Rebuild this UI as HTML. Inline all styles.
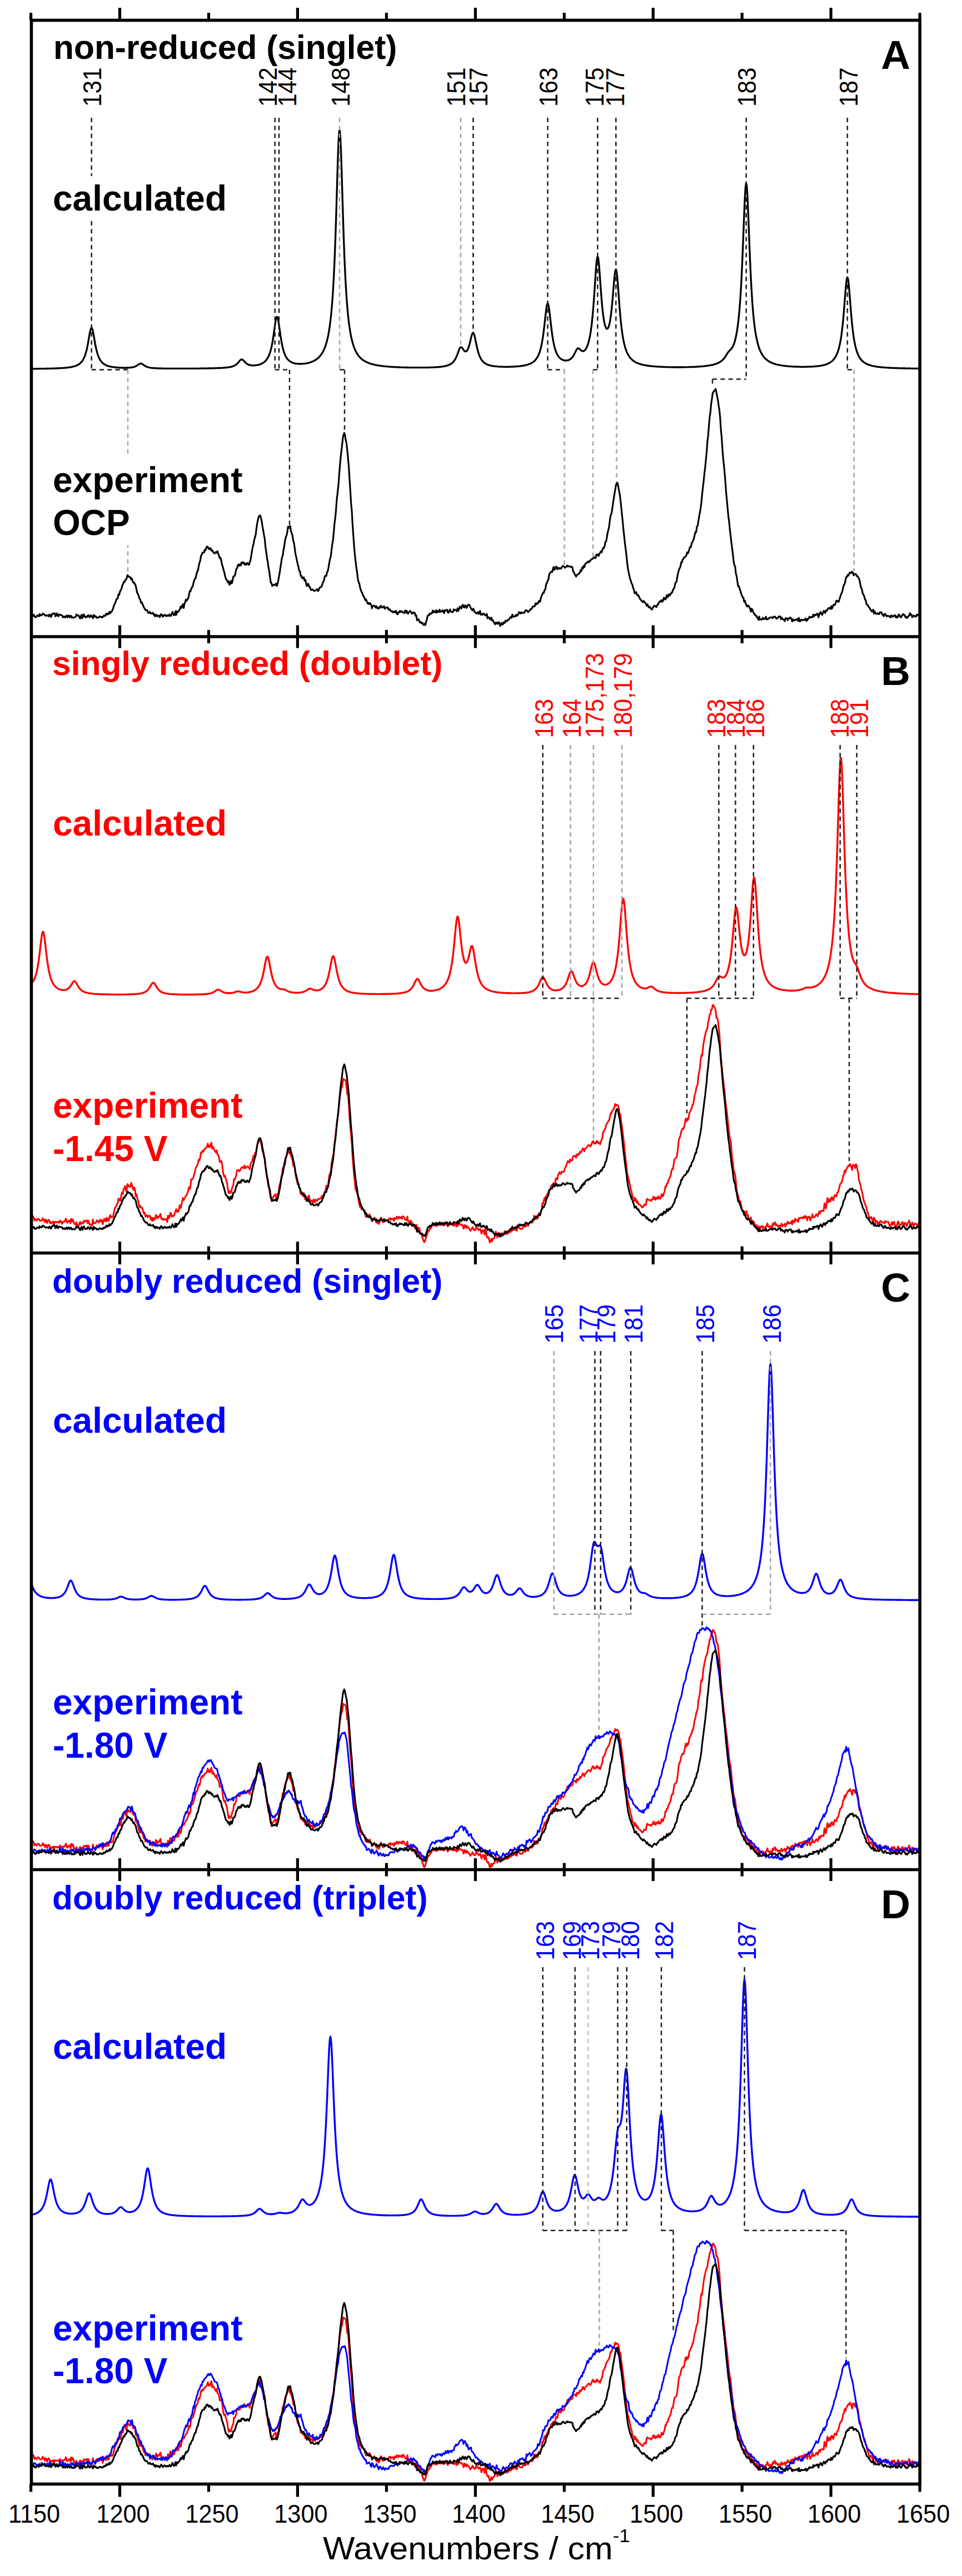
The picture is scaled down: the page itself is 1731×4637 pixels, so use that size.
<!DOCTYPE html>
<html lang="en"><head><meta charset="utf-8"><title>Raman spectra: calculated vs experiment</title>
<style>html,body{margin:0;padding:0;background:#fff}body{width:1731px;height:4637px;overflow:hidden}svg{display:block}</style>
</head><body>
<svg width="1731" height="4637" viewBox="0 0 1731 4637" font-family="'Liberation Sans', Arial, Helvetica, sans-serif">
<rect width="1731" height="4637" fill="#fff"/>
<path d="M56.5,663.9 L57.5,663.9 L58.5,663.8 L59.5,663.8 L60.5,663.8 L61.5,663.8 L62.5,663.8 L63.5,663.8 L64.5,663.8 L65.5,663.8 L66.5,663.8 L67.5,663.8 L68.5,663.7 L69.5,663.7 L70.5,663.7 L71.5,663.7 L72.5,663.7 L73.5,663.7 L74.5,663.7 L75.5,663.7 L76.5,663.6 L77.5,663.6 L78.5,663.6 L79.5,663.6 L80.5,663.6 L81.5,663.6 L82.5,663.5 L83.5,663.5 L84.5,663.5 L85.5,663.5 L86.5,663.5 L87.5,663.4 L88.5,663.4 L89.5,663.4 L90.5,663.4 L91.5,663.3 L92.5,663.3 L93.5,663.3 L94.5,663.3 L95.5,663.2 L96.5,663.2 L97.5,663.2 L98.5,663.1 L99.5,663.1 L100.5,663.1 L101.5,663.0 L102.5,663.0 L103.5,662.9 L104.5,662.9 L105.5,662.8 L106.5,662.8 L107.5,662.7 L108.5,662.7 L109.5,662.6 L110.5,662.6 L111.5,662.5 L112.5,662.4 L113.5,662.4 L114.5,662.3 L115.5,662.2 L116.5,662.1 L117.5,662.1 L118.5,662.0 L119.5,661.9 L120.5,661.8 L121.5,661.6 L122.5,661.5 L123.5,661.4 L124.5,661.3 L125.5,661.1 L126.5,660.9 L127.5,660.8 L128.5,660.6 L129.5,660.4 L130.5,660.2 L131.5,659.9 L132.5,659.7 L133.5,659.4 L134.5,659.1 L135.5,658.8 L136.5,658.4 L137.5,658.0 L138.5,657.6 L139.5,657.1 L140.5,656.6 L141.5,656.0 L142.5,655.3 L143.5,654.5 L144.5,653.7 L145.5,652.7 L146.5,651.7 L147.5,650.4 L148.5,649.1 L149.5,647.5 L150.5,645.6 L151.5,643.5 L152.5,641.1 L153.5,638.3 L154.5,635.1 L155.5,631.3 L156.5,627.1 L157.5,622.3 L158.5,617.0 L159.5,611.3 L160.5,605.4 L161.5,599.8 L162.5,595.0 L163.5,591.6 L164.5,590.0 L165.5,590.7 L166.5,593.4 L167.5,597.7 L168.5,603.1 L169.5,608.9 L170.5,614.7 L171.5,620.2 L172.5,625.2 L173.5,629.7 L174.5,633.6 L175.5,637.0 L176.5,640.0 L177.5,642.5 L178.5,644.7 L179.5,646.7 L180.5,648.3 L181.5,649.8 L182.5,651.1 L183.5,652.2 L184.5,653.2 L185.5,654.1 L186.5,654.9 L187.5,655.5 L188.5,656.2 L189.5,656.7 L190.5,657.2 L191.5,657.7 L192.5,658.1 L193.5,658.4 L194.5,658.8 L195.5,659.1 L196.5,659.4 L197.5,659.6 L198.5,659.8 L199.5,660.1 L200.5,660.2 L201.5,660.4 L202.5,660.6 L203.5,660.7 L204.5,660.9 L205.5,661.0 L206.5,661.1 L207.5,661.2 L208.5,661.3 L209.5,661.4 L210.5,661.5 L211.5,661.6 L212.5,661.7 L213.5,661.7 L214.5,661.8 L215.5,661.8 L216.5,661.9 L217.5,661.9 L218.5,662.0 L219.5,662.0 L220.5,662.0 L221.5,662.0 L222.5,662.1 L223.5,662.1 L224.5,662.1 L225.5,662.1 L226.5,662.1 L227.5,662.0 L228.5,662.0 L229.5,662.0 L230.5,661.9 L231.5,661.9 L232.5,661.8 L233.5,661.7 L234.5,661.6 L235.5,661.5 L236.5,661.4 L237.5,661.2 L238.5,661.1 L239.5,660.8 L240.5,660.6 L241.5,660.3 L242.5,660.0 L243.5,659.6 L244.5,659.1 L245.5,658.6 L246.5,658.0 L247.5,657.3 L248.5,656.6 L249.5,655.9 L250.5,655.3 L251.5,654.8 L252.5,654.5 L253.5,654.4 L254.5,654.6 L255.5,655.0 L256.5,655.6 L257.5,656.3 L258.5,657.0 L259.5,657.7 L260.5,658.4 L261.5,659.0 L262.5,659.5 L263.5,660.0 L264.5,660.4 L265.5,660.7 L266.5,661.0 L267.5,661.3 L268.5,661.5 L269.5,661.7 L270.5,661.9 L271.5,662.0 L272.5,662.2 L273.5,662.3 L274.5,662.4 L275.5,662.5 L276.5,662.6 L277.5,662.7 L278.5,662.7 L279.5,662.8 L280.5,662.8 L281.5,662.9 L282.5,662.9 L283.5,663.0 L284.5,663.0 L285.5,663.1 L286.5,663.1 L287.5,663.1 L288.5,663.1 L289.5,663.2 L290.5,663.2 L291.5,663.2 L292.5,663.2 L293.5,663.3 L294.5,663.3 L295.5,663.3 L296.5,663.3 L297.5,663.3 L298.5,663.3 L299.5,663.3 L300.5,663.3 L301.5,663.4 L302.5,663.4 L303.5,663.4 L304.5,663.4 L305.5,663.4 L306.5,663.4 L307.5,663.4 L308.5,663.4 L309.5,663.4 L310.5,663.4 L311.5,663.4 L312.5,663.4 L313.5,663.4 L314.5,663.4 L315.5,663.4 L316.5,663.4 L317.5,663.4 L318.5,663.4 L319.5,663.4 L320.5,663.4 L321.5,663.4 L322.5,663.4 L323.5,663.4 L324.5,663.4 L325.5,663.4 L326.5,663.4 L327.5,663.4 L328.5,663.4 L329.5,663.4 L330.5,663.4 L331.5,663.4 L332.5,663.4 L333.5,663.4 L334.5,663.4 L335.5,663.4 L336.5,663.4 L337.5,663.4 L338.5,663.4 L339.5,663.4 L340.5,663.4 L341.5,663.4 L342.5,663.4 L343.5,663.4 L344.5,663.4 L345.5,663.4 L346.5,663.4 L347.5,663.3 L348.5,663.3 L349.5,663.3 L350.5,663.3 L351.5,663.3 L352.5,663.3 L353.5,663.3 L354.5,663.3 L355.5,663.3 L356.5,663.3 L357.5,663.3 L358.5,663.3 L359.5,663.2 L360.5,663.2 L361.5,663.2 L362.5,663.2 L363.5,663.2 L364.5,663.2 L365.5,663.2 L366.5,663.2 L367.5,663.1 L368.5,663.1 L369.5,663.1 L370.5,663.1 L371.5,663.1 L372.5,663.1 L373.5,663.0 L374.5,663.0 L375.5,663.0 L376.5,663.0 L377.5,663.0 L378.5,663.0 L379.5,662.9 L380.5,662.9 L381.5,662.9 L382.5,662.9 L383.5,662.8 L384.5,662.8 L385.5,662.8 L386.5,662.8 L387.5,662.7 L388.5,662.7 L389.5,662.7 L390.5,662.6 L391.5,662.6 L392.5,662.5 L393.5,662.5 L394.5,662.5 L395.5,662.4 L396.5,662.4 L397.5,662.3 L398.5,662.3 L399.5,662.2 L400.5,662.1 L401.5,662.1 L402.5,662.0 L403.5,661.9 L404.5,661.9 L405.5,661.8 L406.5,661.7 L407.5,661.6 L408.5,661.5 L409.5,661.4 L410.5,661.2 L411.5,661.1 L412.5,660.9 L413.5,660.7 L414.5,660.6 L415.5,660.3 L416.5,660.1 L417.5,659.8 L418.5,659.5 L419.5,659.2 L420.5,658.8 L421.5,658.3 L422.5,657.8 L423.5,657.2 L424.5,656.6 L425.5,655.8 L426.5,654.9 L427.5,653.9 L428.5,652.8 L429.5,651.6 L430.5,650.4 L431.5,649.2 L432.5,648.2 L433.5,647.4 L434.5,647.0 L435.5,647.1 L436.5,647.5 L437.5,648.3 L438.5,649.3 L439.5,650.4 L440.5,651.5 L441.5,652.5 L442.5,653.4 L443.5,654.3 L444.5,655.0 L445.5,655.6 L446.5,656.1 L447.5,656.5 L448.5,656.8 L449.5,657.1 L450.5,657.4 L451.5,657.5 L452.5,657.7 L453.5,657.7 L454.5,657.8 L455.5,657.8 L456.5,657.8 L457.5,657.8 L458.5,657.7 L459.5,657.6 L460.5,657.5 L461.5,657.4 L462.5,657.2 L463.5,657.0 L464.5,656.8 L465.5,656.6 L466.5,656.3 L467.5,656.0 L468.5,655.6 L469.5,655.2 L470.5,654.8 L471.5,654.3 L472.5,653.7 L473.5,653.1 L474.5,652.5 L475.5,651.7 L476.5,650.9 L477.5,649.9 L478.5,648.8 L479.5,647.6 L480.5,646.2 L481.5,644.6 L482.5,642.8 L483.5,640.8 L484.5,638.4 L485.5,635.7 L486.5,632.6 L487.5,628.9 L488.5,624.7 L489.5,619.9 L490.5,614.5 L491.5,608.3 L492.5,601.6 L493.5,594.4 L494.5,587.2 L495.5,580.5 L496.5,574.9 L497.5,571.3 L498.5,570.2 L499.5,571.8 L500.5,575.8 L501.5,581.5 L502.5,588.4 L503.5,595.5 L504.5,602.6 L505.5,609.1 L506.5,615.1 L507.5,620.4 L508.5,625.0 L509.5,629.0 L510.5,632.4 L511.5,635.4 L512.5,638.0 L513.5,640.2 L514.5,642.1 L515.5,643.8 L516.5,645.3 L517.5,646.6 L518.5,647.7 L519.5,648.7 L520.5,649.5 L521.5,650.3 L522.5,650.9 L523.5,651.5 L524.5,652.1 L525.5,652.5 L526.5,652.9 L527.5,653.3 L528.5,653.6 L529.5,653.9 L530.5,654.1 L531.5,654.3 L532.5,654.5 L533.5,654.6 L534.5,654.7 L535.5,654.8 L536.5,654.9 L537.5,655.0 L538.5,655.0 L539.5,655.0 L540.5,655.0 L541.5,655.0 L542.5,655.0 L543.5,654.9 L544.5,654.9 L545.5,654.8 L546.5,654.7 L547.5,654.6 L548.5,654.5 L549.5,654.3 L550.5,654.2 L551.5,654.0 L552.5,653.8 L553.5,653.6 L554.5,653.3 L555.5,653.1 L556.5,652.8 L557.5,652.5 L558.5,652.2 L559.5,651.9 L560.5,651.5 L561.5,651.1 L562.5,650.7 L563.5,650.3 L564.5,649.8 L565.5,649.3 L566.5,648.7 L567.5,648.1 L568.5,647.5 L569.5,646.8 L570.5,646.0 L571.5,645.2 L572.5,644.4 L573.5,643.4 L574.5,642.4 L575.5,641.3 L576.5,640.1 L577.5,638.8 L578.5,637.4 L579.5,635.9 L580.5,634.2 L581.5,632.4 L582.5,630.4 L583.5,628.2 L584.5,625.7 L585.5,623.0 L586.5,620.0 L587.5,616.7 L588.5,612.9 L589.5,608.8 L590.5,604.1 L591.5,598.8 L592.5,592.8 L593.5,586.0 L594.5,578.3 L595.5,569.4 L596.5,559.3 L597.5,547.6 L598.5,534.1 L599.5,518.5 L600.5,500.6 L601.5,479.9 L602.5,456.2 L603.5,429.4 L604.5,399.4 L605.5,366.9 L606.5,333.0 L607.5,299.8 L608.5,270.1 L609.5,247.4 L610.5,235.1 L611.5,235.1 L612.5,247.4 L613.5,270.1 L614.5,299.8 L615.5,333.1 L616.5,367.0 L617.5,399.5 L618.5,429.5 L619.5,456.3 L620.5,480.0 L621.5,500.7 L622.5,518.7 L623.5,534.3 L624.5,547.8 L625.5,559.5 L626.5,569.6 L627.5,578.5 L628.5,586.3 L629.5,593.1 L630.5,599.1 L631.5,604.4 L632.5,609.1 L633.5,613.3 L634.5,617.0 L635.5,620.4 L636.5,623.4 L637.5,626.2 L638.5,628.6 L639.5,630.9 L640.5,632.9 L641.5,634.8 L642.5,636.4 L643.5,638.0 L644.5,639.4 L645.5,640.8 L646.5,642.0 L647.5,643.1 L648.5,644.1 L649.5,645.1 L650.5,646.0 L651.5,646.8 L652.5,647.6 L653.5,648.3 L654.5,649.0 L655.5,649.6 L656.5,650.2 L657.5,650.8 L658.5,651.3 L659.5,651.8 L660.5,652.3 L661.5,652.7 L662.5,653.1 L663.5,653.5 L664.5,653.9 L665.5,654.2 L666.5,654.6 L667.5,654.9 L668.5,655.2 L669.5,655.5 L670.5,655.7 L671.5,656.0 L672.5,656.2 L673.5,656.5 L674.5,656.7 L675.5,656.9 L676.5,657.1 L677.5,657.3 L678.5,657.5 L679.5,657.7 L680.5,657.8 L681.5,658.0 L682.5,658.1 L683.5,658.3 L684.5,658.4 L685.5,658.6 L686.5,658.7 L687.5,658.8 L688.5,659.0 L689.5,659.1 L690.5,659.2 L691.5,659.3 L692.5,659.4 L693.5,659.5 L694.5,659.6 L695.5,659.7 L696.5,659.8 L697.5,659.9 L698.5,659.9 L699.5,660.0 L700.5,660.1 L701.5,660.2 L702.5,660.2 L703.5,660.3 L704.5,660.4 L705.5,660.4 L706.5,660.5 L707.5,660.6 L708.5,660.6 L709.5,660.7 L710.5,660.7 L711.5,660.8 L712.5,660.8 L713.5,660.9 L714.5,660.9 L715.5,661.0 L716.5,661.0 L717.5,661.0 L718.5,661.1 L719.5,661.1 L720.5,661.2 L721.5,661.2 L722.5,661.2 L723.5,661.3 L724.5,661.3 L725.5,661.3 L726.5,661.3 L727.5,661.4 L728.5,661.4 L729.5,661.4 L730.5,661.5 L731.5,661.5 L732.5,661.5 L733.5,661.5 L734.5,661.5 L735.5,661.6 L736.5,661.6 L737.5,661.6 L738.5,661.6 L739.5,661.6 L740.5,661.6 L741.5,661.6 L742.5,661.7 L743.5,661.7 L744.5,661.7 L745.5,661.7 L746.5,661.7 L747.5,661.7 L748.5,661.7 L749.5,661.7 L750.5,661.7 L751.5,661.7 L752.5,661.7 L753.5,661.7 L754.5,661.7 L755.5,661.7 L756.5,661.7 L757.5,661.7 L758.5,661.7 L759.5,661.7 L760.5,661.7 L761.5,661.7 L762.5,661.7 L763.5,661.7 L764.5,661.6 L765.5,661.6 L766.5,661.6 L767.5,661.6 L768.5,661.6 L769.5,661.6 L770.5,661.5 L771.5,661.5 L772.5,661.5 L773.5,661.5 L774.5,661.4 L775.5,661.4 L776.5,661.4 L777.5,661.3 L778.5,661.3 L779.5,661.2 L780.5,661.2 L781.5,661.1 L782.5,661.1 L783.5,661.0 L784.5,661.0 L785.5,660.9 L786.5,660.8 L787.5,660.8 L788.5,660.7 L789.5,660.6 L790.5,660.5 L791.5,660.4 L792.5,660.3 L793.5,660.2 L794.5,660.1 L795.5,659.9 L796.5,659.8 L797.5,659.6 L798.5,659.4 L799.5,659.3 L800.5,659.1 L801.5,658.8 L802.5,658.6 L803.5,658.3 L804.5,658.1 L805.5,657.7 L806.5,657.4 L807.5,657.0 L808.5,656.6 L809.5,656.1 L810.5,655.5 L811.5,654.9 L812.5,654.2 L813.5,653.5 L814.5,652.6 L815.5,651.6 L816.5,650.4 L817.5,649.1 L818.5,647.6 L819.5,645.9 L820.5,643.9 L821.5,641.7 L822.5,639.3 L823.5,636.6 L824.5,633.9 L825.5,631.1 L826.5,628.6 L827.5,626.6 L828.5,625.3 L829.5,624.8 L830.5,625.2 L831.5,626.1 L832.5,627.5 L833.5,629.0 L834.5,630.4 L835.5,631.5 L836.5,632.3 L837.5,632.7 L838.5,632.6 L839.5,632.0 L840.5,630.9 L841.5,629.2 L842.5,627.0 L843.5,624.3 L844.5,621.0 L845.5,617.2 L846.5,613.0 L847.5,608.7 L848.5,604.7 L849.5,601.5 L850.5,599.5 L851.5,599.0 L852.5,600.4 L853.5,603.2 L854.5,607.3 L855.5,612.0 L856.5,616.9 L857.5,621.7 L858.5,626.2 L859.5,630.3 L860.5,633.9 L861.5,637.0 L862.5,639.8 L863.5,642.2 L864.5,644.3 L865.5,646.1 L866.5,647.7 L867.5,649.0 L868.5,650.2 L869.5,651.3 L870.5,652.2 L871.5,653.0 L872.5,653.8 L873.5,654.4 L874.5,655.0 L875.5,655.5 L876.5,656.0 L877.5,656.4 L878.5,656.8 L879.5,657.1 L880.5,657.4 L881.5,657.7 L882.5,657.9 L883.5,658.2 L884.5,658.4 L885.5,658.6 L886.5,658.8 L887.5,658.9 L888.5,659.1 L889.5,659.2 L890.5,659.3 L891.5,659.4 L892.5,659.5 L893.5,659.6 L894.5,659.7 L895.5,659.8 L896.5,659.9 L897.5,659.9 L898.5,660.0 L899.5,660.1 L900.5,660.1 L901.5,660.1 L902.5,660.2 L903.5,660.2 L904.5,660.2 L905.5,660.3 L906.5,660.3 L907.5,660.3 L908.5,660.3 L909.5,660.3 L910.5,660.3 L911.5,660.3 L912.5,660.3 L913.5,660.3 L914.5,660.3 L915.5,660.3 L916.5,660.3 L917.5,660.2 L918.5,660.2 L919.5,660.2 L920.5,660.2 L921.5,660.1 L922.5,660.1 L923.5,660.0 L924.5,660.0 L925.5,659.9 L926.5,659.9 L927.5,659.8 L928.5,659.7 L929.5,659.7 L930.5,659.6 L931.5,659.5 L932.5,659.4 L933.5,659.3 L934.5,659.2 L935.5,659.1 L936.5,659.0 L937.5,658.8 L938.5,658.7 L939.5,658.6 L940.5,658.4 L941.5,658.2 L942.5,658.0 L943.5,657.9 L944.5,657.7 L945.5,657.4 L946.5,657.2 L947.5,656.9 L948.5,656.7 L949.5,656.4 L950.5,656.0 L951.5,655.7 L952.5,655.3 L953.5,654.9 L954.5,654.4 L955.5,654.0 L956.5,653.4 L957.5,652.8 L958.5,652.2 L959.5,651.5 L960.5,650.7 L961.5,649.8 L962.5,648.9 L963.5,647.8 L964.5,646.6 L965.5,645.2 L966.5,643.7 L967.5,641.9 L968.5,640.0 L969.5,637.7 L970.5,635.1 L971.5,632.2 L972.5,628.8 L973.5,624.9 L974.5,620.4 L975.5,615.2 L976.5,609.2 L977.5,602.4 L978.5,594.8 L979.5,586.4 L980.5,577.4 L981.5,568.3 L982.5,559.7 L983.5,552.6 L984.5,547.7 L985.5,546.0 L986.5,547.6 L987.5,552.3 L988.5,559.4 L989.5,567.8 L990.5,576.8 L991.5,585.7 L992.5,593.9 L993.5,601.5 L994.5,608.1 L995.5,614.0 L996.5,619.0 L997.5,623.4 L998.5,627.1 L999.5,630.4 L1000.5,633.2 L1001.5,635.6 L1002.5,637.7 L1003.5,639.5 L1004.5,641.0 L1005.5,642.4 L1006.5,643.6 L1007.5,644.6 L1008.5,645.5 L1009.5,646.2 L1010.5,646.8 L1011.5,647.4 L1012.5,647.8 L1013.5,648.2 L1014.5,648.5 L1015.5,648.7 L1016.5,648.9 L1017.5,649.0 L1018.5,649.0 L1019.5,648.9 L1020.5,648.8 L1021.5,648.6 L1022.5,648.3 L1023.5,648.0 L1024.5,647.5 L1025.5,647.0 L1026.5,646.3 L1027.5,645.5 L1028.5,644.6 L1029.5,643.5 L1030.5,642.3 L1031.5,640.8 L1032.5,639.2 L1033.5,637.3 L1034.5,635.4 L1035.5,633.3 L1036.5,631.3 L1037.5,629.5 L1038.5,628.0 L1039.5,627.1 L1040.5,626.8 L1041.5,627.1 L1042.5,627.8 L1043.5,628.7 L1044.5,629.7 L1045.5,630.7 L1046.5,631.4 L1047.5,631.9 L1048.5,632.2 L1049.5,632.2 L1050.5,631.8 L1051.5,631.2 L1052.5,630.3 L1053.5,629.1 L1054.5,627.6 L1055.5,625.8 L1056.5,623.5 L1057.5,620.9 L1058.5,617.8 L1059.5,614.2 L1060.5,610.0 L1061.5,605.1 L1062.5,599.5 L1063.5,592.9 L1064.5,585.2 L1065.5,576.3 L1066.5,566.2 L1067.5,554.6 L1068.5,541.5 L1069.5,527.2 L1070.5,512.1 L1071.5,496.9 L1072.5,482.8 L1073.5,471.3 L1074.5,464.0 L1075.5,461.8 L1076.5,465.2 L1077.5,473.4 L1078.5,485.1 L1079.5,498.8 L1080.5,513.1 L1081.5,526.8 L1082.5,539.5 L1083.5,550.7 L1084.5,560.4 L1085.5,568.5 L1086.5,575.3 L1087.5,580.8 L1088.5,585.1 L1089.5,588.2 L1090.5,590.4 L1091.5,591.6 L1092.5,591.9 L1093.5,591.3 L1094.5,589.7 L1095.5,587.2 L1096.5,583.6 L1097.5,578.8 L1098.5,572.8 L1099.5,565.5 L1100.5,556.9 L1101.5,546.9 L1102.5,535.6 L1103.5,523.6 L1104.5,511.4 L1105.5,500.2 L1106.5,491.2 L1107.5,485.8 L1108.5,485.0 L1109.5,489.0 L1110.5,497.3 L1111.5,508.7 L1112.5,521.8 L1113.5,535.5 L1114.5,548.7 L1115.5,561.1 L1116.5,572.3 L1117.5,582.2 L1118.5,590.9 L1119.5,598.4 L1120.5,605.0 L1121.5,610.8 L1122.5,615.8 L1123.5,620.1 L1124.5,623.9 L1125.5,627.2 L1126.5,630.2 L1127.5,632.8 L1128.5,635.1 L1129.5,637.2 L1130.5,639.0 L1131.5,640.6 L1132.5,642.1 L1133.5,643.5 L1134.5,644.7 L1135.5,645.8 L1136.5,646.8 L1137.5,647.7 L1138.5,648.6 L1139.5,649.3 L1140.5,650.1 L1141.5,650.7 L1142.5,651.3 L1143.5,651.9 L1144.5,652.4 L1145.5,652.9 L1146.5,653.3 L1147.5,653.8 L1148.5,654.2 L1149.5,654.5 L1150.5,654.9 L1151.5,655.2 L1152.5,655.5 L1153.5,655.8 L1154.5,656.1 L1155.5,656.3 L1156.5,656.6 L1157.5,656.8 L1158.5,657.0 L1159.5,657.2 L1160.5,657.4 L1161.5,657.6 L1162.5,657.8 L1163.5,657.9 L1164.5,658.1 L1165.5,658.2 L1166.5,658.4 L1167.5,658.5 L1168.5,658.6 L1169.5,658.8 L1170.5,658.9 L1171.5,659.0 L1172.5,659.1 L1173.5,659.2 L1174.5,659.3 L1175.5,659.4 L1176.5,659.5 L1177.5,659.6 L1178.5,659.6 L1179.5,659.7 L1180.5,659.8 L1181.5,659.9 L1182.5,659.9 L1183.5,660.0 L1184.5,660.1 L1185.5,660.1 L1186.5,660.2 L1187.5,660.2 L1188.5,660.3 L1189.5,660.3 L1190.5,660.4 L1191.5,660.4 L1192.5,660.5 L1193.5,660.5 L1194.5,660.5 L1195.5,660.6 L1196.5,660.6 L1197.5,660.6 L1198.5,660.7 L1199.5,660.7 L1200.5,660.7 L1201.5,660.8 L1202.5,660.8 L1203.5,660.8 L1204.5,660.8 L1205.5,660.9 L1206.5,660.9 L1207.5,660.9 L1208.5,660.9 L1209.5,660.9 L1210.5,660.9 L1211.5,660.9 L1212.5,661.0 L1213.5,661.0 L1214.5,661.0 L1215.5,661.0 L1216.5,661.0 L1217.5,661.0 L1218.5,661.0 L1219.5,661.0 L1220.5,661.0 L1221.5,661.0 L1222.5,661.0 L1223.5,661.0 L1224.5,661.0 L1225.5,661.0 L1226.5,661.0 L1227.5,661.0 L1228.5,660.9 L1229.5,660.9 L1230.5,660.9 L1231.5,660.9 L1232.5,660.9 L1233.5,660.9 L1234.5,660.9 L1235.5,660.8 L1236.5,660.8 L1237.5,660.8 L1238.5,660.8 L1239.5,660.7 L1240.5,660.7 L1241.5,660.7 L1242.5,660.6 L1243.5,660.6 L1244.5,660.6 L1245.5,660.5 L1246.5,660.5 L1247.5,660.5 L1248.5,660.4 L1249.5,660.4 L1250.5,660.3 L1251.5,660.3 L1252.5,660.2 L1253.5,660.2 L1254.5,660.1 L1255.5,660.0 L1256.5,660.0 L1257.5,659.9 L1258.5,659.8 L1259.5,659.8 L1260.5,659.7 L1261.5,659.6 L1262.5,659.5 L1263.5,659.4 L1264.5,659.4 L1265.5,659.3 L1266.5,659.2 L1267.5,659.1 L1268.5,658.9 L1269.5,658.8 L1270.5,658.7 L1271.5,658.6 L1272.5,658.4 L1273.5,658.3 L1274.5,658.1 L1275.5,658.0 L1276.5,657.8 L1277.5,657.6 L1278.5,657.5 L1279.5,657.3 L1280.5,657.1 L1281.5,656.8 L1282.5,656.6 L1283.5,656.4 L1284.5,656.1 L1285.5,655.8 L1286.5,655.5 L1287.5,655.2 L1288.5,654.9 L1289.5,654.5 L1290.5,654.1 L1291.5,653.7 L1292.5,653.2 L1293.5,652.7 L1294.5,652.2 L1295.5,651.6 L1296.5,651.0 L1297.5,650.3 L1298.5,649.5 L1299.5,648.7 L1300.5,647.7 L1301.5,646.7 L1302.5,645.6 L1303.5,644.3 L1304.5,642.9 L1305.5,641.4 L1306.5,639.9 L1307.5,638.2 L1308.5,636.6 L1309.5,635.0 L1310.5,633.6 L1311.5,632.4 L1312.5,631.3 L1313.5,630.4 L1314.5,629.4 L1315.5,628.4 L1316.5,627.2 L1317.5,625.7 L1318.5,624.0 L1319.5,621.9 L1320.5,619.4 L1321.5,616.5 L1322.5,613.2 L1323.5,609.2 L1324.5,604.7 L1325.5,599.5 L1326.5,593.5 L1327.5,586.5 L1328.5,578.5 L1329.5,569.2 L1330.5,558.4 L1331.5,545.9 L1332.5,531.5 L1333.5,514.8 L1334.5,495.8 L1335.5,474.3 L1336.5,450.5 L1337.5,424.9 L1338.5,398.6 L1339.5,373.4 L1340.5,351.8 L1341.5,336.4 L1342.5,329.7 L1343.5,332.7 L1344.5,344.9 L1345.5,364.4 L1346.5,388.6 L1347.5,414.8 L1348.5,440.9 L1349.5,465.6 L1350.5,488.1 L1351.5,508.2 L1352.5,525.9 L1353.5,541.3 L1354.5,554.7 L1355.5,566.2 L1356.5,576.3 L1357.5,585.0 L1358.5,592.6 L1359.5,599.2 L1360.5,605.0 L1361.5,610.0 L1362.5,614.5 L1363.5,618.5 L1364.5,622.0 L1365.5,625.2 L1366.5,628.0 L1367.5,630.5 L1368.5,632.8 L1369.5,634.8 L1370.5,636.7 L1371.5,638.4 L1372.5,639.9 L1373.5,641.3 L1374.5,642.6 L1375.5,643.8 L1376.5,644.9 L1377.5,645.9 L1378.5,646.8 L1379.5,647.6 L1380.5,648.4 L1381.5,649.1 L1382.5,649.8 L1383.5,650.5 L1384.5,651.0 L1385.5,651.6 L1386.5,652.1 L1387.5,652.6 L1388.5,653.0 L1389.5,653.4 L1390.5,653.8 L1391.5,654.2 L1392.5,654.6 L1393.5,654.9 L1394.5,655.2 L1395.5,655.5 L1396.5,655.8 L1397.5,656.0 L1398.5,656.3 L1399.5,656.5 L1400.5,656.7 L1401.5,656.9 L1402.5,657.1 L1403.5,657.3 L1404.5,657.5 L1405.5,657.7 L1406.5,657.8 L1407.5,658.0 L1408.5,658.1 L1409.5,658.3 L1410.5,658.4 L1411.5,658.5 L1412.5,658.7 L1413.5,658.8 L1414.5,658.9 L1415.5,659.0 L1416.5,659.1 L1417.5,659.2 L1418.5,659.3 L1419.5,659.3 L1420.5,659.4 L1421.5,659.5 L1422.5,659.6 L1423.5,659.6 L1424.5,659.7 L1425.5,659.8 L1426.5,659.8 L1427.5,659.9 L1428.5,659.9 L1429.5,660.0 L1430.5,660.0 L1431.5,660.0 L1432.5,660.1 L1433.5,660.1 L1434.5,660.1 L1435.5,660.2 L1436.5,660.2 L1437.5,660.2 L1438.5,660.2 L1439.5,660.3 L1440.5,660.3 L1441.5,660.3 L1442.5,660.3 L1443.5,660.3 L1444.5,660.3 L1445.5,660.3 L1446.5,660.3 L1447.5,660.3 L1448.5,660.3 L1449.5,660.3 L1450.5,660.3 L1451.5,660.3 L1452.5,660.2 L1453.5,660.2 L1454.5,660.2 L1455.5,660.1 L1456.5,660.1 L1457.5,660.1 L1458.5,660.0 L1459.5,660.0 L1460.5,659.9 L1461.5,659.9 L1462.5,659.8 L1463.5,659.8 L1464.5,659.7 L1465.5,659.6 L1466.5,659.5 L1467.5,659.5 L1468.5,659.4 L1469.5,659.3 L1470.5,659.2 L1471.5,659.1 L1472.5,658.9 L1473.5,658.8 L1474.5,658.7 L1475.5,658.5 L1476.5,658.4 L1477.5,658.2 L1478.5,658.0 L1479.5,657.8 L1480.5,657.6 L1481.5,657.4 L1482.5,657.1 L1483.5,656.8 L1484.5,656.6 L1485.5,656.3 L1486.5,655.9 L1487.5,655.6 L1488.5,655.2 L1489.5,654.8 L1490.5,654.3 L1491.5,653.8 L1492.5,653.3 L1493.5,652.7 L1494.5,652.0 L1495.5,651.3 L1496.5,650.5 L1497.5,649.7 L1498.5,648.7 L1499.5,647.7 L1500.5,646.5 L1501.5,645.2 L1502.5,643.8 L1503.5,642.1 L1504.5,640.3 L1505.5,638.2 L1506.5,635.9 L1507.5,633.2 L1508.5,630.2 L1509.5,626.7 L1510.5,622.7 L1511.5,618.1 L1512.5,612.8 L1513.5,606.7 L1514.5,599.6 L1515.5,591.5 L1516.5,582.2 L1517.5,571.7 L1518.5,560.0 L1519.5,547.5 L1520.5,534.5 L1521.5,521.9 L1522.5,511.0 L1523.5,503.0 L1524.5,499.2 L1525.5,500.2 L1526.5,505.8 L1527.5,515.1 L1528.5,526.9 L1529.5,539.7 L1530.5,552.7 L1531.5,564.9 L1532.5,576.2 L1533.5,586.2 L1534.5,595.1 L1535.5,602.8 L1536.5,609.5 L1537.5,615.3 L1538.5,620.3 L1539.5,624.6 L1540.5,628.4 L1541.5,631.7 L1542.5,634.6 L1543.5,637.2 L1544.5,639.4 L1545.5,641.4 L1546.5,643.2 L1547.5,644.8 L1548.5,646.2 L1549.5,647.4 L1550.5,648.6 L1551.5,649.6 L1552.5,650.5 L1553.5,651.4 L1554.5,652.1 L1555.5,652.8 L1556.5,653.5 L1557.5,654.1 L1558.5,654.6 L1559.5,655.1 L1560.5,655.6 L1561.5,656.0 L1562.5,656.4 L1563.5,656.8 L1564.5,657.1 L1565.5,657.4 L1566.5,657.7 L1567.5,658.0 L1568.5,658.3 L1569.5,658.5 L1570.5,658.7 L1571.5,659.0 L1572.5,659.2 L1573.5,659.3 L1574.5,659.5 L1575.5,659.7 L1576.5,659.9 L1577.5,660.0 L1578.5,660.2 L1579.5,660.3 L1580.5,660.4 L1581.5,660.5 L1582.5,660.7 L1583.5,660.8 L1584.5,660.9 L1585.5,661.0 L1586.5,661.1 L1587.5,661.2 L1588.5,661.3 L1589.5,661.3 L1590.5,661.4 L1591.5,661.5 L1592.5,661.6 L1593.5,661.7 L1594.5,661.7 L1595.5,661.8 L1596.5,661.9 L1597.5,661.9 L1598.5,662.0 L1599.5,662.0 L1600.5,662.1 L1601.5,662.1 L1602.5,662.2 L1603.5,662.2 L1604.5,662.3 L1605.5,662.3 L1606.5,662.4 L1607.5,662.4 L1608.5,662.4 L1609.5,662.5 L1610.5,662.5 L1611.5,662.6 L1612.5,662.6 L1613.5,662.6 L1614.5,662.7 L1615.5,662.7 L1616.5,662.7 L1617.5,662.8 L1618.5,662.8 L1619.5,662.8 L1620.5,662.8 L1621.5,662.9 L1622.5,662.9 L1623.5,662.9 L1624.5,663.0 L1625.5,663.0 L1626.5,663.0 L1627.5,663.0 L1628.5,663.0 L1629.5,663.1 L1630.5,663.1 L1631.5,663.1 L1632.5,663.1 L1633.5,663.1 L1634.5,663.2 L1635.5,663.2 L1636.5,663.2 L1637.5,663.2 L1638.5,663.2 L1639.5,663.3 L1640.5,663.3 L1641.5,663.3 L1642.5,663.3 L1643.5,663.3 L1644.5,663.3 L1645.5,663.3 L1646.5,663.4 L1647.5,663.4 L1648.5,663.4 L1649.5,663.4 L1650.5,663.4 L1651.5,663.4 L1652.5,663.4 L1653.5,663.5 L1654.5,663.5" fill="none" stroke="#000" stroke-width="3.3" stroke-linejoin="round" stroke-linecap="round"/>
<path d="M56.5,1109.4 L57.9,1108.8 L59.2,1108.9 L60.6,1106.5 L61.9,1109.0 L63.3,1111.2 L64.6,1110.6 L66.0,1109.2 L67.3,1107.7 L68.7,1108.5 L70.0,1109.6 L71.4,1105.3 L72.7,1107.6 L74.1,1107.9 L75.4,1107.2 L76.8,1104.3 L78.1,1105.2 L79.5,1106.0 L80.8,1107.5 L82.2,1108.6 L83.5,1107.6 L84.9,1107.9 L86.2,1108.1 L87.6,1109.5 L88.9,1106.1 L90.3,1106.9 L91.6,1110.5 L93.0,1108.1 L94.3,1104.4 L95.7,1104.7 L97.0,1104.0 L98.4,1104.0 L99.7,1109.3 L101.1,1107.6 L102.4,1104.0 L103.8,1108.7 L105.1,1109.3 L106.5,1106.1 L107.8,1106.4 L109.2,1107.2 L110.5,1107.2 L111.9,1108.0 L113.2,1111.2 L114.6,1110.0 L115.9,1109.8 L117.3,1111.6 L118.6,1109.4 L120.0,1107.9 L121.3,1111.2 L122.7,1109.3 L124.0,1107.7 L125.4,1111.2 L126.7,1109.2 L128.1,1108.5 L129.4,1112.2 L130.8,1111.1 L132.1,1111.8 L133.5,1111.7 L134.8,1111.0 L136.2,1110.1 L137.5,1105.9 L138.9,1108.0 L140.2,1107.7 L141.6,1107.8 L142.9,1110.9 L144.3,1113.5 L145.6,1109.1 L147.0,1106.5 L148.3,1112.9 L149.7,1108.1 L151.0,1105.9 L152.4,1109.6 L153.7,1111.3 L155.1,1110.1 L156.4,1110.9 L157.8,1108.0 L159.1,1107.3 L160.5,1110.5 L161.8,1111.2 L163.2,1107.5 L164.5,1109.5 L165.9,1109.1 L167.2,1113.0 L168.6,1106.9 L169.9,1110.3 L171.3,1108.8 L172.6,1109.8 L174.0,1112.1 L175.3,1111.5 L176.7,1112.1 L178.0,1110.6 L179.4,1109.6 L180.7,1110.0 L182.1,1111.2 L183.4,1110.3 L184.8,1111.2 L186.1,1109.1 L187.5,1107.7 L188.8,1108.9 L190.2,1107.2 L191.5,1104.3 L192.9,1106.5 L194.2,1104.2 L195.6,1105.2 L196.9,1101.3 L198.3,1104.1 L199.6,1101.5 L201.0,1100.9 L202.3,1098.3 L203.7,1094.7 L205.0,1090.2 L206.4,1087.0 L207.7,1084.9 L209.1,1079.8 L210.4,1077.7 L211.8,1077.4 L213.1,1070.0 L214.5,1070.7 L215.8,1064.9 L217.2,1062.6 L218.5,1060.1 L219.9,1054.4 L221.2,1051.8 L222.6,1047.5 L223.9,1048.3 L225.3,1043.9 L226.6,1043.6 L228.0,1040.6 L229.3,1035.3 L230.7,1036.7 L232.0,1038.5 L233.4,1038.9 L234.7,1039.0 L236.1,1043.1 L237.4,1041.4 L238.8,1046.4 L240.1,1049.2 L241.5,1048.3 L242.8,1052.0 L244.2,1054.0 L245.5,1060.9 L246.9,1067.7 L248.2,1068.6 L249.6,1073.1 L250.9,1077.3 L252.3,1079.0 L253.6,1085.0 L255.0,1084.1 L256.3,1087.0 L257.7,1090.1 L259.0,1093.7 L260.4,1095.7 L261.7,1098.1 L263.1,1098.0 L264.4,1098.1 L265.8,1101.0 L267.1,1103.4 L268.5,1103.2 L269.8,1101.5 L271.2,1104.0 L272.5,1104.5 L273.9,1104.2 L275.2,1102.9 L276.6,1106.7 L277.9,1106.0 L279.3,1109.9 L280.6,1106.4 L282.0,1107.4 L283.3,1109.3 L284.7,1108.1 L286.0,1108.3 L287.4,1110.9 L288.7,1107.4 L290.1,1105.3 L291.4,1107.1 L292.8,1110.1 L294.1,1109.1 L295.5,1106.9 L296.8,1106.8 L298.2,1108.5 L299.5,1109.3 L300.9,1107.5 L302.2,1108.5 L303.6,1108.5 L304.9,1105.9 L306.3,1108.4 L307.6,1108.6 L309.0,1105.8 L310.3,1101.5 L311.7,1104.9 L313.0,1107.7 L314.4,1107.1 L315.7,1100.1 L317.1,1106.9 L318.4,1100.3 L319.8,1102.3 L321.1,1100.3 L322.5,1099.0 L323.8,1095.6 L325.2,1091.6 L326.5,1094.3 L327.9,1090.8 L329.2,1087.7 L330.6,1094.5 L331.9,1086.9 L333.3,1083.9 L334.6,1079.3 L336.0,1081.3 L337.3,1078.4 L338.7,1077.4 L340.0,1071.1 L341.4,1064.1 L342.7,1064.4 L344.1,1060.1 L345.4,1056.9 L346.8,1055.7 L348.1,1049.4 L349.5,1045.1 L350.8,1041.3 L352.2,1040.3 L353.5,1033.6 L354.9,1028.5 L356.2,1027.0 L357.6,1018.8 L358.9,1013.3 L360.3,1009.1 L361.6,1001.1 L363.0,998.3 L364.3,994.9 L365.7,994.6 L367.0,994.6 L368.4,989.7 L369.7,990.7 L371.1,986.1 L372.4,983.8 L373.8,984.4 L375.1,987.9 L376.5,988.7 L377.8,986.4 L379.2,987.5 L380.5,991.2 L381.9,990.5 L383.2,993.4 L384.6,994.8 L385.9,996.3 L387.3,995.0 L388.6,993.7 L390.0,995.2 L391.3,992.2 L392.7,996.6 L394.0,1000.5 L395.4,1004.7 L396.7,1004.0 L398.1,1008.8 L399.4,1016.3 L400.8,1019.8 L402.1,1025.2 L403.5,1029.7 L404.8,1036.1 L406.2,1041.4 L407.5,1043.8 L408.9,1044.6 L410.2,1048.6 L411.6,1046.6 L412.9,1052.7 L414.3,1050.3 L415.6,1045.5 L417.0,1050.2 L418.3,1046.4 L419.7,1037.9 L421.0,1037.7 L422.4,1036.4 L423.7,1031.5 L425.1,1024.8 L426.4,1023.1 L427.8,1018.8 L429.1,1016.0 L430.5,1018.5 L431.8,1015.9 L433.2,1017.8 L434.5,1012.4 L435.9,1014.2 L437.2,1011.8 L438.6,1013.1 L439.9,1016.1 L441.3,1014.2 L442.6,1016.7 L444.0,1015.0 L445.3,1013.1 L446.7,1016.1 L448.0,1016.8 L449.4,1012.4 L450.7,1008.4 L452.1,1000.9 L453.4,991.8 L454.8,984.4 L456.1,979.3 L457.5,971.6 L458.8,967.0 L460.2,962.1 L461.5,950.7 L462.9,942.0 L464.2,935.1 L465.6,930.0 L466.9,928.0 L468.3,928.1 L469.6,932.9 L471.0,938.3 L472.3,947.7 L473.7,954.9 L475.0,963.0 L476.4,970.1 L477.7,984.8 L479.1,993.8 L480.4,1004.4 L481.8,1011.1 L483.1,1021.3 L484.5,1028.5 L485.8,1038.5 L487.2,1048.5 L488.5,1049.7 L489.9,1054.8 L491.2,1053.8 L492.6,1052.3 L493.9,1053.3 L495.3,1053.1 L496.6,1050.5 L498.0,1054.7 L499.3,1051.2 L500.7,1045.2 L502.0,1037.6 L503.4,1030.1 L504.7,1021.2 L506.1,1011.9 L507.4,1003.4 L508.8,1000.3 L510.1,990.2 L511.5,983.1 L512.8,973.3 L514.2,967.0 L515.5,964.1 L516.9,958.1 L518.2,948.2 L519.6,947.8 L520.9,950.4 L522.3,947.0 L523.6,956.5 L525.0,959.8 L526.3,964.5 L527.7,973.7 L529.0,977.4 L530.4,987.4 L531.7,997.4 L533.1,1003.2 L534.4,1009.7 L535.8,1016.1 L537.1,1020.5 L538.5,1028.0 L539.8,1028.6 L541.2,1036.7 L542.5,1036.8 L543.9,1041.2 L545.2,1040.5 L546.6,1039.1 L547.9,1044.9 L549.3,1043.6 L550.6,1048.6 L552.0,1055.0 L553.3,1051.6 L554.7,1051.0 L556.0,1055.9 L557.4,1056.0 L558.7,1060.3 L560.1,1062.2 L561.4,1061.2 L562.8,1061.1 L564.1,1062.9 L565.5,1063.7 L566.8,1063.4 L568.2,1062.4 L569.5,1061.9 L570.9,1060.4 L572.2,1064.1 L573.6,1061.7 L574.9,1058.6 L576.3,1056.9 L577.6,1056.8 L579.0,1055.0 L580.3,1050.7 L581.7,1047.1 L583.0,1044.4 L584.4,1037.6 L585.7,1036.4 L587.1,1036.8 L588.4,1030.2 L589.8,1028.0 L591.1,1022.0 L592.5,1012.9 L593.8,1006.0 L595.2,1002.0 L596.5,990.4 L597.9,980.1 L599.2,972.1 L600.6,958.0 L601.9,942.3 L603.3,931.8 L604.6,918.5 L606.0,899.0 L607.3,888.2 L608.7,875.5 L610.0,859.5 L611.4,840.9 L612.7,826.5 L614.1,813.5 L615.4,802.8 L616.8,789.3 L618.1,783.2 L619.5,779.3 L620.8,783.7 L622.2,792.4 L623.5,798.0 L624.9,810.6 L626.2,824.7 L627.6,839.8 L628.9,861.6 L630.3,882.3 L631.6,904.2 L633.0,919.2 L634.3,942.1 L635.7,962.5 L637.0,981.0 L638.4,997.5 L639.7,1009.2 L641.1,1020.8 L642.4,1029.4 L643.8,1041.2 L645.1,1047.3 L646.5,1050.4 L647.8,1056.8 L649.2,1062.2 L650.5,1065.2 L651.9,1067.5 L653.2,1072.0 L654.6,1073.3 L655.9,1076.7 L657.3,1080.4 L658.6,1078.9 L660.0,1082.3 L661.3,1086.4 L662.7,1085.2 L664.0,1087.6 L665.4,1085.4 L666.7,1086.8 L668.1,1089.2 L669.4,1095.0 L670.8,1091.0 L672.1,1090.6 L673.5,1090.3 L674.8,1091.8 L676.2,1093.8 L677.5,1091.2 L678.9,1095.0 L680.2,1094.9 L681.6,1095.6 L682.9,1092.1 L684.3,1093.3 L685.6,1090.3 L687.0,1093.3 L688.3,1093.7 L689.7,1092.7 L691.0,1091.1 L692.4,1095.8 L693.7,1094.0 L695.1,1094.0 L696.4,1093.4 L697.8,1093.3 L699.1,1097.5 L700.5,1097.1 L701.8,1097.0 L703.2,1099.9 L704.5,1100.5 L705.9,1100.5 L707.2,1102.4 L708.6,1101.7 L709.9,1100.3 L711.3,1102.5 L712.6,1099.5 L714.0,1104.9 L715.3,1105.8 L716.7,1102.4 L718.0,1102.5 L719.4,1099.6 L720.7,1101.6 L722.1,1100.2 L723.4,1100.8 L724.8,1102.5 L726.1,1102.6 L727.5,1103.6 L728.8,1099.1 L730.2,1102.7 L731.5,1099.3 L732.9,1102.9 L734.2,1104.8 L735.6,1102.2 L736.9,1100.5 L738.3,1099.9 L739.6,1101.8 L741.0,1104.4 L742.3,1104.7 L743.7,1102.4 L745.0,1102.4 L746.4,1103.5 L747.7,1108.3 L749.1,1107.9 L750.4,1116.8 L751.8,1115.3 L753.1,1114.7 L754.5,1118.2 L755.8,1120.6 L757.2,1119.7 L758.5,1121.9 L759.9,1121.0 L761.2,1123.7 L762.6,1125.0 L763.9,1122.9 L765.3,1125.2 L766.6,1120.2 L768.0,1115.2 L769.3,1109.4 L770.7,1107.0 L772.0,1107.6 L773.4,1104.2 L774.7,1105.2 L776.1,1104.2 L777.4,1103.6 L778.8,1098.8 L780.1,1102.4 L781.5,1101.9 L782.8,1099.8 L784.2,1102.7 L785.5,1098.5 L786.9,1102.4 L788.2,1100.0 L789.6,1101.6 L790.9,1097.4 L792.3,1101.4 L793.6,1100.2 L795.0,1101.0 L796.3,1098.4 L797.7,1099.9 L799.0,1103.8 L800.4,1098.6 L801.7,1099.3 L803.1,1098.8 L804.4,1097.5 L805.8,1102.4 L807.1,1103.0 L808.5,1099.4 L809.8,1097.0 L811.2,1100.7 L812.5,1101.6 L813.9,1101.6 L815.2,1101.6 L816.6,1096.8 L817.9,1097.9 L819.3,1098.1 L820.6,1098.1 L822.0,1100.4 L823.3,1095.1 L824.7,1099.5 L826.0,1096.6 L827.4,1091.9 L828.7,1093.7 L830.1,1095.3 L831.4,1091.1 L832.8,1088.6 L834.1,1092.5 L835.5,1093.7 L836.8,1089.6 L838.2,1090.7 L839.5,1094.4 L840.9,1091.5 L842.2,1088.5 L843.6,1089.2 L844.9,1089.1 L846.3,1093.2 L847.6,1095.0 L849.0,1097.5 L850.3,1098.7 L851.7,1095.7 L853.0,1099.0 L854.4,1102.0 L855.7,1102.8 L857.1,1104.7 L858.4,1102.9 L859.8,1101.8 L861.1,1105.3 L862.5,1102.4 L863.8,1099.7 L865.2,1106.4 L866.5,1105.8 L867.9,1106.8 L869.2,1104.3 L870.6,1104.5 L871.9,1106.3 L873.3,1107.7 L874.6,1108.0 L876.0,1105.1 L877.3,1113.1 L878.7,1111.6 L880.0,1111.3 L881.4,1114.4 L882.7,1115.3 L884.1,1111.6 L885.4,1116.7 L886.8,1116.3 L888.1,1119.4 L889.5,1121.0 L890.8,1123.9 L892.2,1120.5 L893.5,1122.5 L894.9,1120.7 L896.2,1123.1 L897.6,1119.8 L898.9,1121.8 L900.3,1126.8 L901.6,1123.4 L903.0,1121.1 L904.3,1124.3 L905.7,1122.1 L907.0,1119.6 L908.4,1121.4 L909.7,1117.0 L911.1,1118.4 L912.4,1118.3 L913.8,1115.7 L915.1,1115.8 L916.5,1114.2 L917.8,1111.5 L919.2,1110.7 L920.5,1112.4 L921.9,1106.2 L923.2,1109.3 L924.6,1110.4 L925.9,1109.5 L927.3,1109.0 L928.6,1106.5 L930.0,1108.8 L931.3,1107.1 L932.7,1105.2 L934.0,1101.9 L935.4,1102.5 L936.7,1104.3 L938.1,1102.1 L939.4,1103.8 L940.8,1103.3 L942.1,1102.5 L943.5,1103.1 L944.8,1100.3 L946.2,1098.2 L947.5,1099.5 L948.9,1099.2 L950.2,1101.9 L951.6,1100.2 L952.9,1099.4 L954.3,1096.6 L955.6,1096.9 L957.0,1095.5 L958.3,1092.4 L959.7,1091.5 L961.0,1091.8 L962.4,1091.2 L963.7,1086.1 L965.1,1087.8 L966.4,1085.8 L967.8,1086.7 L969.1,1082.8 L970.5,1081.5 L971.8,1083.3 L973.2,1076.8 L974.5,1072.6 L975.9,1070.0 L977.2,1066.8 L978.6,1067.2 L979.9,1062.3 L981.3,1060.9 L982.6,1052.3 L984.0,1049.5 L985.3,1045.7 L986.7,1043.7 L988.0,1034.7 L989.4,1031.9 L990.7,1030.1 L992.1,1029.0 L993.4,1029.7 L994.8,1025.3 L996.1,1020.5 L997.5,1025.7 L998.8,1024.2 L1000.2,1020.4 L1001.5,1020.1 L1002.9,1024.8 L1004.2,1022.3 L1005.6,1022.4 L1006.9,1023.9 L1008.3,1022.8 L1009.6,1023.5 L1011.0,1020.9 L1012.3,1018.9 L1013.7,1018.8 L1015.0,1020.4 L1016.4,1021.9 L1017.7,1021.1 L1019.1,1020.1 L1020.4,1018.0 L1021.8,1019.7 L1023.1,1018.9 L1024.5,1019.3 L1025.8,1020.5 L1027.2,1020.2 L1028.5,1019.9 L1029.9,1021.1 L1031.2,1028.5 L1032.6,1030.1 L1033.9,1033.6 L1035.3,1035.2 L1036.6,1037.8 L1038.0,1035.0 L1039.3,1034.2 L1040.7,1033.6 L1042.0,1032.6 L1043.4,1030.7 L1044.7,1026.5 L1046.1,1028.1 L1047.4,1021.8 L1048.8,1023.5 L1050.1,1018.6 L1051.5,1021.0 L1052.8,1015.8 L1054.2,1014.0 L1055.5,1012.9 L1056.9,1012.5 L1058.2,1010.6 L1059.6,1012.4 L1060.9,1009.5 L1062.3,1009.8 L1063.6,1007.0 L1065.0,1006.6 L1066.3,1005.9 L1067.7,1004.4 L1069.0,1002.9 L1070.4,1004.2 L1071.7,1004.7 L1073.1,998.4 L1074.4,999.5 L1075.8,997.6 L1077.1,1000.6 L1078.5,997.4 L1079.8,995.1 L1081.2,992.6 L1082.5,994.3 L1083.9,990.0 L1085.2,986.6 L1086.6,986.7 L1087.9,982.9 L1089.3,975.8 L1090.6,974.8 L1092.0,967.6 L1093.3,959.0 L1094.7,953.8 L1096.0,948.1 L1097.4,936.2 L1098.7,927.7 L1100.1,925.1 L1101.4,918.1 L1102.8,907.5 L1104.1,899.2 L1105.5,890.3 L1106.8,882.8 L1108.2,874.3 L1109.5,869.8 L1110.9,869.0 L1112.2,873.8 L1113.6,882.2 L1114.9,888.3 L1116.3,898.6 L1117.6,910.4 L1119.0,924.7 L1120.3,937.2 L1121.7,952.4 L1123.0,963.8 L1124.4,977.3 L1125.7,987.8 L1127.1,998.5 L1128.4,1011.5 L1129.8,1023.0 L1131.1,1030.0 L1132.5,1036.1 L1133.8,1042.0 L1135.2,1045.6 L1136.5,1050.3 L1137.9,1052.5 L1139.2,1058.3 L1140.6,1061.1 L1141.9,1068.2 L1143.3,1067.3 L1144.6,1065.7 L1146.0,1070.1 L1147.3,1071.9 L1148.7,1071.3 L1150.0,1074.7 L1151.4,1077.5 L1152.7,1079.2 L1154.1,1081.1 L1155.4,1082.5 L1156.8,1083.9 L1158.1,1081.7 L1159.5,1083.8 L1160.8,1085.1 L1162.2,1086.8 L1163.5,1090.2 L1164.9,1087.9 L1166.2,1091.5 L1167.6,1093.4 L1168.9,1091.9 L1170.3,1094.7 L1171.6,1095.2 L1173.0,1097.3 L1174.3,1094.3 L1175.7,1092.8 L1177.0,1090.4 L1178.4,1090.6 L1179.7,1091.7 L1181.1,1092.9 L1182.4,1089.3 L1183.8,1088.8 L1185.1,1085.3 L1186.5,1083.8 L1187.8,1082.1 L1189.2,1082.9 L1190.5,1080.2 L1191.9,1083.0 L1193.2,1080.9 L1194.6,1075.9 L1195.9,1076.8 L1197.3,1079.2 L1198.6,1075.9 L1200.0,1071.0 L1201.3,1075.2 L1202.7,1073.3 L1204.0,1069.5 L1205.4,1071.8 L1206.7,1069.5 L1208.1,1067.3 L1209.4,1066.5 L1210.8,1062.2 L1212.1,1059.9 L1213.5,1057.8 L1214.8,1050.8 L1216.2,1048.4 L1217.5,1046.8 L1218.9,1037.3 L1220.2,1031.0 L1221.6,1026.3 L1222.9,1022.9 L1224.3,1020.2 L1225.6,1012.4 L1227.0,1012.6 L1228.3,1007.2 L1229.7,1006.2 L1231.0,1003.3 L1232.4,1002.8 L1233.7,1001.6 L1235.1,999.7 L1236.4,994.4 L1237.8,995.9 L1239.1,992.9 L1240.5,988.3 L1241.8,984.5 L1243.2,984.8 L1244.5,978.0 L1245.9,975.7 L1247.2,973.1 L1248.6,968.9 L1249.9,963.4 L1251.3,957.9 L1252.6,958.1 L1254.0,947.8 L1255.3,946.6 L1256.7,937.9 L1258.0,929.8 L1259.4,922.3 L1260.7,915.1 L1262.1,904.1 L1263.4,889.5 L1264.8,877.2 L1266.1,866.2 L1267.5,852.5 L1268.8,842.4 L1270.2,827.1 L1271.5,814.7 L1272.9,795.0 L1274.2,784.4 L1275.6,766.6 L1276.9,751.1 L1278.3,742.0 L1279.6,727.2 L1281.0,718.2 L1282.3,708.0 L1283.7,705.2 L1285.0,703.7 L1286.4,702.0 L1287.7,700.0 L1289.1,706.9 L1290.4,713.0 L1291.8,720.4 L1293.1,730.0 L1294.5,738.3 L1295.8,751.9 L1297.2,773.7 L1298.5,786.7 L1299.9,807.6 L1301.2,824.7 L1302.6,838.2 L1303.9,851.5 L1305.3,868.3 L1306.6,886.6 L1308.0,901.2 L1309.3,915.1 L1310.7,930.5 L1312.0,939.0 L1313.4,954.3 L1314.7,964.5 L1316.1,977.4 L1317.4,987.1 L1318.8,998.1 L1320.1,1010.9 L1321.5,1017.6 L1322.8,1019.9 L1324.2,1032.9 L1325.5,1037.1 L1326.9,1047.1 L1328.2,1055.6 L1329.6,1055.2 L1330.9,1059.9 L1332.3,1063.7 L1333.6,1068.6 L1335.0,1071.8 L1336.3,1075.3 L1337.7,1076.1 L1339.0,1083.1 L1340.4,1081.5 L1341.7,1086.4 L1343.1,1089.6 L1344.4,1091.8 L1345.8,1089.9 L1347.1,1090.7 L1348.5,1093.1 L1349.8,1096.2 L1351.2,1101.2 L1352.5,1095.7 L1353.9,1097.5 L1355.2,1101.4 L1356.6,1104.2 L1357.9,1105.6 L1359.3,1108.1 L1360.6,1108.0 L1362.0,1111.0 L1363.3,1111.9 L1364.7,1115.7 L1366.0,1109.8 L1367.4,1115.4 L1368.7,1114.8 L1370.1,1115.3 L1371.4,1114.9 L1372.8,1111.9 L1374.1,1114.4 L1375.5,1113.7 L1376.8,1114.0 L1378.2,1110.2 L1379.5,1114.9 L1380.9,1114.5 L1382.2,1114.2 L1383.6,1112.6 L1384.9,1112.1 L1386.3,1111.4 L1387.6,1111.1 L1389.0,1112.1 L1390.3,1112.7 L1391.7,1110.0 L1393.0,1110.6 L1394.4,1109.9 L1395.7,1111.8 L1397.1,1113.8 L1398.4,1112.9 L1399.8,1112.0 L1401.1,1109.7 L1402.5,1109.9 L1403.8,1109.6 L1405.2,1114.4 L1406.5,1111.7 L1407.9,1114.6 L1409.2,1114.5 L1410.6,1115.5 L1411.9,1118.2 L1413.3,1113.2 L1414.6,1112.8 L1416.0,1113.3 L1417.3,1116.4 L1418.7,1113.4 L1420.0,1113.2 L1421.4,1111.5 L1422.7,1111.8 L1424.1,1114.6 L1425.4,1118.6 L1426.8,1114.8 L1428.1,1117.1 L1429.5,1116.7 L1430.8,1115.7 L1432.2,1116.1 L1433.5,1114.6 L1434.9,1114.3 L1436.2,1117.9 L1437.6,1112.2 L1438.9,1118.5 L1440.3,1118.1 L1441.6,1115.6 L1443.0,1116.1 L1444.3,1116.5 L1445.7,1115.8 L1447.0,1115.5 L1448.4,1116.1 L1449.7,1113.1 L1451.1,1117.6 L1452.4,1116.9 L1453.8,1113.5 L1455.1,1113.5 L1456.5,1110.1 L1457.8,1111.8 L1459.2,1110.5 L1460.5,1111.2 L1461.9,1111.4 L1463.2,1106.6 L1464.6,1109.6 L1465.9,1106.4 L1467.3,1107.1 L1468.6,1107.0 L1470.0,1104.8 L1471.3,1104.6 L1472.7,1111.2 L1474.0,1106.9 L1475.4,1103.5 L1476.7,1101.6 L1478.1,1104.6 L1479.4,1106.9 L1480.8,1103.2 L1482.1,1099.5 L1483.5,1100.6 L1484.8,1103.4 L1486.2,1098.5 L1487.5,1099.5 L1488.9,1097.6 L1490.2,1095.0 L1491.6,1094.4 L1492.9,1094.8 L1494.3,1096.3 L1495.6,1091.2 L1497.0,1095.6 L1498.3,1092.8 L1499.7,1088.6 L1501.0,1088.5 L1502.4,1088.9 L1503.7,1085.2 L1505.1,1081.3 L1506.4,1081.4 L1507.8,1082.9 L1509.1,1083.3 L1510.5,1078.7 L1511.8,1074.6 L1513.2,1070.3 L1514.5,1067.4 L1515.9,1063.7 L1517.2,1057.4 L1518.6,1052.7 L1519.9,1051.1 L1521.3,1044.8 L1522.6,1038.7 L1524.0,1038.4 L1525.3,1034.8 L1526.7,1036.0 L1528.0,1032.5 L1529.4,1030.3 L1530.7,1031.6 L1532.1,1031.4 L1533.4,1029.1 L1534.8,1031.0 L1536.1,1035.6 L1537.5,1033.2 L1538.8,1033.4 L1540.2,1033.4 L1541.5,1037.1 L1542.9,1036.7 L1544.2,1039.0 L1545.6,1041.3 L1546.9,1046.1 L1548.3,1053.4 L1549.6,1058.5 L1551.0,1061.2 L1552.3,1068.0 L1553.7,1070.8 L1555.0,1072.8 L1556.4,1079.0 L1557.7,1080.0 L1559.1,1087.6 L1560.4,1088.7 L1561.8,1089.7 L1563.1,1092.6 L1564.5,1093.8 L1565.8,1096.9 L1567.2,1098.4 L1568.5,1100.6 L1569.9,1100.5 L1571.2,1097.4 L1572.6,1104.6 L1573.9,1100.3 L1575.3,1103.4 L1576.6,1105.1 L1578.0,1104.7 L1579.3,1103.9 L1580.7,1105.3 L1582.0,1105.5 L1583.4,1102.2 L1584.7,1102.3 L1586.1,1102.2 L1587.4,1106.1 L1588.8,1107.0 L1590.1,1109.2 L1591.5,1105.5 L1592.8,1105.0 L1594.2,1107.4 L1595.5,1109.4 L1596.9,1108.6 L1598.2,1108.5 L1599.6,1109.4 L1600.9,1109.6 L1602.3,1111.5 L1603.6,1107.9 L1605.0,1108.4 L1606.3,1110.4 L1607.7,1108.5 L1609.0,1108.4 L1610.4,1107.2 L1611.7,1111.4 L1613.1,1109.5 L1614.4,1111.8 L1615.8,1110.1 L1617.1,1106.2 L1618.5,1107.0 L1619.8,1110.2 L1621.2,1111.2 L1622.5,1109.6 L1623.9,1106.6 L1625.2,1105.3 L1626.6,1106.9 L1627.9,1107.1 L1629.3,1111.4 L1630.6,1110.5 L1632.0,1112.6 L1633.3,1110.6 L1634.7,1109.1 L1636.0,1108.1 L1637.4,1103.5 L1638.7,1106.7 L1640.1,1106.5 L1641.4,1111.1 L1642.8,1109.6 L1644.1,1107.8 L1645.5,1109.2 L1646.8,1109.7 L1648.2,1109.9 L1649.5,1106.3 L1650.9,1107.7 L1652.2,1106.2 L1653.6,1108.9 L1654.9,1108.2" fill="none" stroke="#000" stroke-width="3.1" stroke-linejoin="round" stroke-linecap="round"/>
<path d="M56.5,1769.0 L57.5,1768.3 L58.5,1767.4 L59.5,1766.2 L60.5,1764.7 L61.5,1762.9 L62.5,1760.7 L63.5,1758.2 L64.5,1755.1 L65.5,1751.5 L66.5,1747.3 L67.5,1742.4 L68.5,1736.7 L69.5,1730.2 L70.5,1722.8 L71.5,1714.7 L72.5,1706.1 L73.5,1697.4 L74.5,1689.2 L75.5,1682.6 L76.5,1678.3 L77.5,1677.0 L78.5,1679.1 L79.5,1684.0 L80.5,1691.2 L81.5,1699.7 L82.5,1708.6 L83.5,1717.3 L84.5,1725.4 L85.5,1732.8 L86.5,1739.3 L87.5,1745.0 L88.5,1750.0 L89.5,1754.3 L90.5,1758.0 L91.5,1761.3 L92.5,1764.0 L93.5,1766.5 L94.5,1768.6 L95.5,1770.4 L96.5,1772.1 L97.5,1773.5 L98.5,1774.7 L99.5,1775.8 L100.5,1776.8 L101.5,1777.7 L102.5,1778.4 L103.5,1779.1 L104.5,1779.7 L105.5,1780.2 L106.5,1780.7 L107.5,1781.0 L108.5,1781.4 L109.5,1781.6 L110.5,1781.9 L111.5,1782.0 L112.5,1782.1 L113.5,1782.2 L114.5,1782.2 L115.5,1782.2 L116.5,1782.1 L117.5,1781.9 L118.5,1781.6 L119.5,1781.3 L120.5,1780.9 L121.5,1780.3 L122.5,1779.7 L123.5,1778.9 L124.5,1778.0 L125.5,1776.8 L126.5,1775.6 L127.5,1774.1 L128.5,1772.5 L129.5,1770.8 L130.5,1769.2 L131.5,1767.7 L132.5,1766.6 L133.5,1766.0 L134.5,1766.1 L135.5,1766.9 L136.5,1768.1 L137.5,1769.8 L138.5,1771.6 L139.5,1773.4 L140.5,1775.2 L141.5,1776.9 L142.5,1778.3 L143.5,1779.6 L144.5,1780.8 L145.5,1781.8 L146.5,1782.6 L147.5,1783.4 L148.5,1784.1 L149.5,1784.6 L150.5,1785.1 L151.5,1785.6 L152.5,1786.0 L153.5,1786.3 L154.5,1786.7 L155.5,1786.9 L156.5,1787.2 L157.5,1787.4 L158.5,1787.6 L159.5,1787.8 L160.5,1788.0 L161.5,1788.1 L162.5,1788.3 L163.5,1788.4 L164.5,1788.5 L165.5,1788.6 L166.5,1788.7 L167.5,1788.8 L168.5,1788.9 L169.5,1789.0 L170.5,1789.1 L171.5,1789.2 L172.5,1789.2 L173.5,1789.3 L174.5,1789.3 L175.5,1789.4 L176.5,1789.4 L177.5,1789.5 L178.5,1789.5 L179.5,1789.6 L180.5,1789.6 L181.5,1789.7 L182.5,1789.7 L183.5,1789.7 L184.5,1789.8 L185.5,1789.8 L186.5,1789.8 L187.5,1789.9 L188.5,1789.9 L189.5,1789.9 L190.5,1789.9 L191.5,1790.0 L192.5,1790.0 L193.5,1790.0 L194.5,1790.0 L195.5,1790.0 L196.5,1790.0 L197.5,1790.1 L198.5,1790.1 L199.5,1790.1 L200.5,1790.1 L201.5,1790.1 L202.5,1790.1 L203.5,1790.1 L204.5,1790.1 L205.5,1790.1 L206.5,1790.1 L207.5,1790.2 L208.5,1790.2 L209.5,1790.2 L210.5,1790.2 L211.5,1790.2 L212.5,1790.2 L213.5,1790.2 L214.5,1790.2 L215.5,1790.2 L216.5,1790.2 L217.5,1790.2 L218.5,1790.2 L219.5,1790.1 L220.5,1790.1 L221.5,1790.1 L222.5,1790.1 L223.5,1790.1 L224.5,1790.1 L225.5,1790.1 L226.5,1790.1 L227.5,1790.1 L228.5,1790.0 L229.5,1790.0 L230.5,1790.0 L231.5,1790.0 L232.5,1789.9 L233.5,1789.9 L234.5,1789.9 L235.5,1789.9 L236.5,1789.8 L237.5,1789.8 L238.5,1789.7 L239.5,1789.7 L240.5,1789.6 L241.5,1789.6 L242.5,1789.5 L243.5,1789.4 L244.5,1789.4 L245.5,1789.3 L246.5,1789.2 L247.5,1789.1 L248.5,1789.0 L249.5,1788.9 L250.5,1788.7 L251.5,1788.6 L252.5,1788.4 L253.5,1788.2 L254.5,1788.0 L255.5,1787.7 L256.5,1787.5 L257.5,1787.2 L258.5,1786.8 L259.5,1786.4 L260.5,1785.9 L261.5,1785.4 L262.5,1784.8 L263.5,1784.1 L264.5,1783.3 L265.5,1782.4 L266.5,1781.3 L267.5,1780.0 L268.5,1778.6 L269.5,1777.1 L270.5,1775.4 L271.5,1773.7 L272.5,1772.0 L273.5,1770.6 L274.5,1769.5 L275.5,1769.0 L276.5,1769.2 L277.5,1769.9 L278.5,1771.1 L279.5,1772.7 L280.5,1774.4 L281.5,1776.1 L282.5,1777.7 L283.5,1779.2 L284.5,1780.6 L285.5,1781.7 L286.5,1782.8 L287.5,1783.6 L288.5,1784.4 L289.5,1785.1 L290.5,1785.7 L291.5,1786.2 L292.5,1786.6 L293.5,1787.0 L294.5,1787.3 L295.5,1787.6 L296.5,1787.9 L297.5,1788.1 L298.5,1788.3 L299.5,1788.5 L300.5,1788.7 L301.5,1788.8 L302.5,1788.9 L303.5,1789.1 L304.5,1789.2 L305.5,1789.3 L306.5,1789.4 L307.5,1789.4 L308.5,1789.5 L309.5,1789.6 L310.5,1789.6 L311.5,1789.7 L312.5,1789.8 L313.5,1789.8 L314.5,1789.9 L315.5,1789.9 L316.5,1789.9 L317.5,1790.0 L318.5,1790.0 L319.5,1790.0 L320.5,1790.1 L321.5,1790.1 L322.5,1790.1 L323.5,1790.1 L324.5,1790.1 L325.5,1790.2 L326.5,1790.2 L327.5,1790.2 L328.5,1790.2 L329.5,1790.2 L330.5,1790.2 L331.5,1790.2 L332.5,1790.2 L333.5,1790.2 L334.5,1790.2 L335.5,1790.3 L336.5,1790.3 L337.5,1790.3 L338.5,1790.3 L339.5,1790.3 L340.5,1790.3 L341.5,1790.3 L342.5,1790.3 L343.5,1790.2 L344.5,1790.2 L345.5,1790.2 L346.5,1790.2 L347.5,1790.2 L348.5,1790.2 L349.5,1790.2 L350.5,1790.2 L351.5,1790.2 L352.5,1790.2 L353.5,1790.1 L354.5,1790.1 L355.5,1790.1 L356.5,1790.1 L357.5,1790.0 L358.5,1790.0 L359.5,1790.0 L360.5,1790.0 L361.5,1789.9 L362.5,1789.9 L363.5,1789.8 L364.5,1789.8 L365.5,1789.7 L366.5,1789.7 L367.5,1789.6 L368.5,1789.5 L369.5,1789.5 L370.5,1789.4 L371.5,1789.3 L372.5,1789.2 L373.5,1789.0 L374.5,1788.9 L375.5,1788.7 L376.5,1788.6 L377.5,1788.4 L378.5,1788.1 L379.5,1787.9 L380.5,1787.5 L381.5,1787.2 L382.5,1786.8 L383.5,1786.3 L384.5,1785.8 L385.5,1785.2 L386.5,1784.5 L387.5,1783.8 L388.5,1783.1 L389.5,1782.4 L390.5,1781.9 L391.5,1781.5 L392.5,1781.4 L393.5,1781.5 L394.5,1781.9 L395.5,1782.4 L396.5,1783.0 L397.5,1783.7 L398.5,1784.3 L399.5,1784.9 L400.5,1785.5 L401.5,1785.9 L402.5,1786.3 L403.5,1786.7 L404.5,1786.9 L405.5,1787.2 L406.5,1787.4 L407.5,1787.5 L408.5,1787.6 L409.5,1787.7 L410.5,1787.8 L411.5,1787.8 L412.5,1787.8 L413.5,1787.7 L414.5,1787.7 L415.5,1787.6 L416.5,1787.5 L417.5,1787.3 L418.5,1787.1 L419.5,1786.9 L420.5,1786.6 L421.5,1786.3 L422.5,1786.0 L423.5,1785.6 L424.5,1785.3 L425.5,1785.0 L426.5,1784.7 L427.5,1784.5 L428.5,1784.5 L429.5,1784.6 L430.5,1784.8 L431.5,1785.0 L432.5,1785.3 L433.5,1785.6 L434.5,1785.8 L435.5,1786.0 L436.5,1786.2 L437.5,1786.4 L438.5,1786.5 L439.5,1786.6 L440.5,1786.6 L441.5,1786.6 L442.5,1786.6 L443.5,1786.6 L444.5,1786.5 L445.5,1786.4 L446.5,1786.3 L447.5,1786.1 L448.5,1785.9 L449.5,1785.8 L450.5,1785.5 L451.5,1785.3 L452.5,1785.0 L453.5,1784.7 L454.5,1784.3 L455.5,1783.9 L456.5,1783.4 L457.5,1782.9 L458.5,1782.3 L459.5,1781.7 L460.5,1780.9 L461.5,1780.1 L462.5,1779.2 L463.5,1778.1 L464.5,1776.9 L465.5,1775.5 L466.5,1773.8 L467.5,1772.0 L468.5,1769.8 L469.5,1767.4 L470.5,1764.5 L471.5,1761.2 L472.5,1757.5 L473.5,1753.2 L474.5,1748.4 L475.5,1743.3 L476.5,1737.9 L477.5,1732.6 L478.5,1727.9 L479.5,1724.2 L480.5,1722.3 L481.5,1722.2 L482.5,1724.2 L483.5,1727.7 L484.5,1732.4 L485.5,1737.7 L486.5,1743.0 L487.5,1748.1 L488.5,1752.8 L489.5,1757.0 L490.5,1760.7 L491.5,1764.0 L492.5,1766.7 L493.5,1769.1 L494.5,1771.2 L495.5,1772.9 L496.5,1774.4 L497.5,1775.7 L498.5,1776.8 L499.5,1777.7 L500.5,1778.4 L501.5,1779.1 L502.5,1779.5 L503.5,1779.9 L504.5,1780.2 L505.5,1780.4 L506.5,1780.5 L507.5,1780.5 L508.5,1780.6 L509.5,1780.7 L510.5,1780.9 L511.5,1781.1 L512.5,1781.5 L513.5,1782.0 L514.5,1782.5 L515.5,1783.0 L516.5,1783.5 L517.5,1784.0 L518.5,1784.5 L519.5,1784.9 L520.5,1785.2 L521.5,1785.5 L522.5,1785.8 L523.5,1786.0 L524.5,1786.2 L525.5,1786.4 L526.5,1786.5 L527.5,1786.7 L528.5,1786.8 L529.5,1786.8 L530.5,1786.9 L531.5,1787.0 L532.5,1787.0 L533.5,1787.0 L534.5,1787.0 L535.5,1787.0 L536.5,1787.0 L537.5,1786.9 L538.5,1786.8 L539.5,1786.7 L540.5,1786.6 L541.5,1786.5 L542.5,1786.3 L543.5,1786.1 L544.5,1785.9 L545.5,1785.6 L546.5,1785.3 L547.5,1785.0 L548.5,1784.5 L549.5,1784.0 L550.5,1783.5 L551.5,1782.9 L552.5,1782.2 L553.5,1781.5 L554.5,1780.8 L555.5,1780.2 L556.5,1779.8 L557.5,1779.5 L558.5,1779.5 L559.5,1779.7 L560.5,1780.0 L561.5,1780.5 L562.5,1781.0 L563.5,1781.5 L564.5,1781.9 L565.5,1782.2 L566.5,1782.5 L567.5,1782.7 L568.5,1782.8 L569.5,1782.9 L570.5,1782.9 L571.5,1782.8 L572.5,1782.6 L573.5,1782.4 L574.5,1782.1 L575.5,1781.8 L576.5,1781.3 L577.5,1780.8 L578.5,1780.2 L579.5,1779.5 L580.5,1778.7 L581.5,1777.7 L582.5,1776.6 L583.5,1775.3 L584.5,1773.9 L585.5,1772.2 L586.5,1770.2 L587.5,1767.9 L588.5,1765.2 L589.5,1762.2 L590.5,1758.6 L591.5,1754.6 L592.5,1750.0 L593.5,1745.0 L594.5,1739.7 L595.5,1734.2 L596.5,1729.1 L597.5,1724.9 L598.5,1722.0 L599.5,1721.0 L600.5,1722.0 L601.5,1724.9 L602.5,1729.2 L603.5,1734.4 L604.5,1739.8 L605.5,1745.2 L606.5,1750.3 L607.5,1754.9 L608.5,1759.0 L609.5,1762.5 L610.5,1765.6 L611.5,1768.3 L612.5,1770.7 L613.5,1772.7 L614.5,1774.5 L615.5,1776.0 L616.5,1777.3 L617.5,1778.5 L618.5,1779.6 L619.5,1780.5 L620.5,1781.3 L621.5,1782.0 L622.5,1782.6 L623.5,1783.2 L624.5,1783.7 L625.5,1784.2 L626.5,1784.6 L627.5,1785.0 L628.5,1785.3 L629.5,1785.6 L630.5,1785.9 L631.5,1786.2 L632.5,1786.4 L633.5,1786.6 L634.5,1786.8 L635.5,1787.0 L636.5,1787.2 L637.5,1787.4 L638.5,1787.5 L639.5,1787.6 L640.5,1787.8 L641.5,1787.9 L642.5,1788.0 L643.5,1788.1 L644.5,1788.2 L645.5,1788.3 L646.5,1788.4 L647.5,1788.4 L648.5,1788.5 L649.5,1788.6 L650.5,1788.6 L651.5,1788.7 L652.5,1788.8 L653.5,1788.8 L654.5,1788.9 L655.5,1788.9 L656.5,1789.0 L657.5,1789.0 L658.5,1789.0 L659.5,1789.1 L660.5,1789.1 L661.5,1789.1 L662.5,1789.2 L663.5,1789.2 L664.5,1789.2 L665.5,1789.2 L666.5,1789.2 L667.5,1789.3 L668.5,1789.3 L669.5,1789.3 L670.5,1789.3 L671.5,1789.3 L672.5,1789.3 L673.5,1789.3 L674.5,1789.4 L675.5,1789.4 L676.5,1789.4 L677.5,1789.4 L678.5,1789.4 L679.5,1789.4 L680.5,1789.4 L681.5,1789.4 L682.5,1789.4 L683.5,1789.4 L684.5,1789.4 L685.5,1789.4 L686.5,1789.4 L687.5,1789.4 L688.5,1789.3 L689.5,1789.3 L690.5,1789.3 L691.5,1789.3 L692.5,1789.3 L693.5,1789.3 L694.5,1789.3 L695.5,1789.2 L696.5,1789.2 L697.5,1789.2 L698.5,1789.2 L699.5,1789.1 L700.5,1789.1 L701.5,1789.1 L702.5,1789.0 L703.5,1789.0 L704.5,1789.0 L705.5,1788.9 L706.5,1788.9 L707.5,1788.8 L708.5,1788.8 L709.5,1788.7 L710.5,1788.7 L711.5,1788.6 L712.5,1788.6 L713.5,1788.5 L714.5,1788.4 L715.5,1788.3 L716.5,1788.2 L717.5,1788.1 L718.5,1788.0 L719.5,1787.9 L720.5,1787.8 L721.5,1787.7 L722.5,1787.5 L723.5,1787.4 L724.5,1787.2 L725.5,1787.0 L726.5,1786.8 L727.5,1786.6 L728.5,1786.3 L729.5,1786.0 L730.5,1785.7 L731.5,1785.4 L732.5,1785.0 L733.5,1784.5 L734.5,1784.0 L735.5,1783.4 L736.5,1782.8 L737.5,1782.0 L738.5,1781.2 L739.5,1780.2 L740.5,1779.0 L741.5,1777.7 L742.5,1776.2 L743.5,1774.5 L744.5,1772.6 L745.5,1770.5 L746.5,1768.4 L747.5,1766.3 L748.5,1764.4 L749.5,1762.9 L750.5,1762.1 L751.5,1762.1 L752.5,1762.8 L753.5,1764.1 L754.5,1765.9 L755.5,1767.9 L756.5,1769.9 L757.5,1771.9 L758.5,1773.6 L759.5,1775.2 L760.5,1776.6 L761.5,1777.8 L762.5,1778.8 L763.5,1779.7 L764.5,1780.4 L765.5,1781.1 L766.5,1781.6 L767.5,1782.0 L768.5,1782.4 L769.5,1782.7 L770.5,1782.9 L771.5,1783.1 L772.5,1783.2 L773.5,1783.4 L774.5,1783.4 L775.5,1783.5 L776.5,1783.5 L777.5,1783.4 L778.5,1783.4 L779.5,1783.3 L780.5,1783.2 L781.5,1783.0 L782.5,1782.9 L783.5,1782.7 L784.5,1782.5 L785.5,1782.2 L786.5,1781.9 L787.5,1781.6 L788.5,1781.3 L789.5,1780.9 L790.5,1780.5 L791.5,1780.0 L792.5,1779.5 L793.5,1778.9 L794.5,1778.3 L795.5,1777.6 L796.5,1776.8 L797.5,1775.9 L798.5,1775.0 L799.5,1773.9 L800.5,1772.8 L801.5,1771.4 L802.5,1770.0 L803.5,1768.3 L804.5,1766.4 L805.5,1764.3 L806.5,1761.9 L807.5,1759.1 L808.5,1756.0 L809.5,1752.3 L810.5,1748.2 L811.5,1743.4 L812.5,1737.9 L813.5,1731.5 L814.5,1724.2 L815.5,1715.9 L816.5,1706.7 L817.5,1696.5 L818.5,1685.7 L819.5,1674.9 L820.5,1664.9 L821.5,1656.7 L822.5,1651.4 L823.5,1649.8 L824.5,1652.0 L825.5,1657.6 L826.5,1665.7 L827.5,1675.2 L828.5,1685.0 L829.5,1694.4 L830.5,1703.0 L831.5,1710.5 L832.5,1716.9 L833.5,1722.2 L834.5,1726.4 L835.5,1729.5 L836.5,1731.7 L837.5,1732.9 L838.5,1733.3 L839.5,1732.8 L840.5,1731.4 L841.5,1729.1 L842.5,1726.0 L843.5,1722.2 L844.5,1717.9 L845.5,1713.2 L846.5,1708.8 L847.5,1705.2 L848.5,1703.0 L849.5,1702.8 L850.5,1704.7 L851.5,1708.6 L852.5,1713.9 L853.5,1720.1 L854.5,1726.6 L855.5,1733.0 L856.5,1739.0 L857.5,1744.4 L858.5,1749.3 L859.5,1753.5 L860.5,1757.3 L861.5,1760.5 L862.5,1763.3 L863.5,1765.8 L864.5,1768.0 L865.5,1769.9 L866.5,1771.6 L867.5,1773.0 L868.5,1774.3 L869.5,1775.5 L870.5,1776.5 L871.5,1777.5 L872.5,1778.3 L873.5,1779.1 L874.5,1779.8 L875.5,1780.4 L876.5,1781.0 L877.5,1781.5 L878.5,1782.0 L879.5,1782.4 L880.5,1782.8 L881.5,1783.2 L882.5,1783.5 L883.5,1783.8 L884.5,1784.1 L885.5,1784.4 L886.5,1784.6 L887.5,1784.9 L888.5,1785.1 L889.5,1785.3 L890.5,1785.5 L891.5,1785.7 L892.5,1785.8 L893.5,1786.0 L894.5,1786.1 L895.5,1786.3 L896.5,1786.4 L897.5,1786.5 L898.5,1786.6 L899.5,1786.7 L900.5,1786.8 L901.5,1786.9 L902.5,1787.0 L903.5,1787.1 L904.5,1787.2 L905.5,1787.2 L906.5,1787.3 L907.5,1787.4 L908.5,1787.4 L909.5,1787.5 L910.5,1787.5 L911.5,1787.6 L912.5,1787.6 L913.5,1787.7 L914.5,1787.7 L915.5,1787.8 L916.5,1787.8 L917.5,1787.8 L918.5,1787.8 L919.5,1787.9 L920.5,1787.9 L921.5,1787.9 L922.5,1787.9 L923.5,1787.9 L924.5,1787.9 L925.5,1787.9 L926.5,1787.9 L927.5,1787.9 L928.5,1787.9 L929.5,1787.9 L930.5,1787.9 L931.5,1787.9 L932.5,1787.8 L933.5,1787.8 L934.5,1787.8 L935.5,1787.8 L936.5,1787.7 L937.5,1787.7 L938.5,1787.6 L939.5,1787.6 L940.5,1787.5 L941.5,1787.4 L942.5,1787.3 L943.5,1787.3 L944.5,1787.2 L945.5,1787.1 L946.5,1786.9 L947.5,1786.8 L948.5,1786.7 L949.5,1786.5 L950.5,1786.3 L951.5,1786.1 L952.5,1785.9 L953.5,1785.7 L954.5,1785.4 L955.5,1785.1 L956.5,1784.8 L957.5,1784.4 L958.5,1783.9 L959.5,1783.5 L960.5,1782.9 L961.5,1782.2 L962.5,1781.5 L963.5,1780.6 L964.5,1779.7 L965.5,1778.5 L966.5,1777.2 L967.5,1775.7 L968.5,1774.0 L969.5,1772.1 L970.5,1769.9 L971.5,1767.6 L972.5,1765.3 L973.5,1763.0 L974.5,1761.1 L975.5,1759.7 L976.5,1759.0 L977.5,1759.2 L978.5,1760.3 L979.5,1761.9 L980.5,1764.0 L981.5,1766.3 L982.5,1768.5 L983.5,1770.6 L984.5,1772.5 L985.5,1774.2 L986.5,1775.7 L987.5,1777.0 L988.5,1778.1 L989.5,1779.0 L990.5,1779.8 L991.5,1780.4 L992.5,1781.0 L993.5,1781.4 L994.5,1781.8 L995.5,1782.1 L996.5,1782.3 L997.5,1782.5 L998.5,1782.6 L999.5,1782.7 L1000.5,1782.7 L1001.5,1782.7 L1002.5,1782.6 L1003.5,1782.5 L1004.5,1782.3 L1005.5,1782.1 L1006.5,1781.8 L1007.5,1781.4 L1008.5,1781.0 L1009.5,1780.5 L1010.5,1780.0 L1011.5,1779.3 L1012.5,1778.5 L1013.5,1777.6 L1014.5,1776.6 L1015.5,1775.4 L1016.5,1773.9 L1017.5,1772.3 L1018.5,1770.4 L1019.5,1768.2 L1020.5,1765.8 L1021.5,1763.0 L1022.5,1760.0 L1023.5,1756.9 L1024.5,1753.9 L1025.5,1751.2 L1026.5,1749.2 L1027.5,1748.1 L1028.5,1748.1 L1029.5,1749.2 L1030.5,1751.2 L1031.5,1753.8 L1032.5,1756.6 L1033.5,1759.5 L1034.5,1762.2 L1035.5,1764.6 L1036.5,1766.8 L1037.5,1768.7 L1038.5,1770.2 L1039.5,1771.5 L1040.5,1772.6 L1041.5,1773.5 L1042.5,1774.1 L1043.5,1774.6 L1044.5,1774.9 L1045.5,1775.1 L1046.5,1775.1 L1047.5,1775.0 L1048.5,1774.8 L1049.5,1774.4 L1050.5,1773.8 L1051.5,1773.1 L1052.5,1772.3 L1053.5,1771.2 L1054.5,1769.9 L1055.5,1768.3 L1056.5,1766.5 L1057.5,1764.3 L1058.5,1761.8 L1059.5,1758.8 L1060.5,1755.5 L1061.5,1751.8 L1062.5,1747.7 L1063.5,1743.6 L1064.5,1739.5 L1065.5,1736.0 L1066.5,1733.4 L1067.5,1732.1 L1068.5,1732.3 L1069.5,1734.1 L1070.5,1737.0 L1071.5,1740.6 L1072.5,1744.6 L1073.5,1748.6 L1074.5,1752.4 L1075.5,1755.9 L1076.5,1758.9 L1077.5,1761.6 L1078.5,1763.8 L1079.5,1765.7 L1080.5,1767.3 L1081.5,1768.6 L1082.5,1769.7 L1083.5,1770.6 L1084.5,1771.3 L1085.5,1771.8 L1086.5,1772.2 L1087.5,1772.4 L1088.5,1772.5 L1089.5,1772.5 L1090.5,1772.4 L1091.5,1772.1 L1092.5,1771.8 L1093.5,1771.3 L1094.5,1770.7 L1095.5,1770.0 L1096.5,1769.1 L1097.5,1768.1 L1098.5,1766.9 L1099.5,1765.5 L1100.5,1763.9 L1101.5,1762.1 L1102.5,1760.0 L1103.5,1757.5 L1104.5,1754.8 L1105.5,1751.5 L1106.5,1747.8 L1107.5,1743.5 L1108.5,1738.6 L1109.5,1732.8 L1110.5,1726.1 L1111.5,1718.4 L1112.5,1709.6 L1113.5,1699.4 L1114.5,1688.1 L1115.5,1675.6 L1116.5,1662.2 L1117.5,1648.8 L1118.5,1636.3 L1119.5,1626.1 L1120.5,1619.4 L1121.5,1617.4 L1122.5,1620.5 L1123.5,1628.0 L1124.5,1638.9 L1125.5,1651.8 L1126.5,1665.3 L1127.5,1678.6 L1128.5,1691.0 L1129.5,1702.2 L1130.5,1712.2 L1131.5,1720.9 L1132.5,1728.5 L1133.5,1735.0 L1134.5,1740.7 L1135.5,1745.7 L1136.5,1749.9 L1137.5,1753.7 L1138.5,1756.9 L1139.5,1759.7 L1140.5,1762.2 L1141.5,1764.4 L1142.5,1766.4 L1143.5,1768.1 L1144.5,1769.6 L1145.5,1771.0 L1146.5,1772.2 L1147.5,1773.3 L1148.5,1774.2 L1149.5,1775.1 L1150.5,1775.8 L1151.5,1776.5 L1152.5,1777.1 L1153.5,1777.6 L1154.5,1778.0 L1155.5,1778.4 L1156.5,1778.7 L1157.5,1779.0 L1158.5,1779.1 L1159.5,1779.2 L1160.5,1779.3 L1161.5,1779.2 L1162.5,1779.1 L1163.5,1778.8 L1164.5,1778.5 L1165.5,1778.1 L1166.5,1777.7 L1167.5,1777.1 L1168.5,1776.6 L1169.5,1776.2 L1170.5,1775.8 L1171.5,1775.8 L1172.5,1775.9 L1173.5,1776.3 L1174.5,1777.0 L1175.5,1777.8 L1176.5,1778.6 L1177.5,1779.5 L1178.5,1780.4 L1179.5,1781.1 L1180.5,1781.8 L1181.5,1782.4 L1182.5,1783.0 L1183.5,1783.5 L1184.5,1783.9 L1185.5,1784.3 L1186.5,1784.6 L1187.5,1784.9 L1188.5,1785.2 L1189.5,1785.4 L1190.5,1785.6 L1191.5,1785.8 L1192.5,1785.9 L1193.5,1786.1 L1194.5,1786.2 L1195.5,1786.4 L1196.5,1786.5 L1197.5,1786.6 L1198.5,1786.7 L1199.5,1786.8 L1200.5,1786.8 L1201.5,1786.9 L1202.5,1787.0 L1203.5,1787.0 L1204.5,1787.1 L1205.5,1787.1 L1206.5,1787.2 L1207.5,1787.2 L1208.5,1787.3 L1209.5,1787.3 L1210.5,1787.3 L1211.5,1787.4 L1212.5,1787.4 L1213.5,1787.4 L1214.5,1787.4 L1215.5,1787.4 L1216.5,1787.4 L1217.5,1787.5 L1218.5,1787.5 L1219.5,1787.5 L1220.5,1787.5 L1221.5,1787.5 L1222.5,1787.5 L1223.5,1787.5 L1224.5,1787.5 L1225.5,1787.4 L1226.5,1787.4 L1227.5,1787.4 L1228.5,1787.4 L1229.5,1787.4 L1230.5,1787.4 L1231.5,1787.3 L1232.5,1787.3 L1233.5,1787.3 L1234.5,1787.3 L1235.5,1787.2 L1236.5,1787.2 L1237.5,1787.1 L1238.5,1787.1 L1239.5,1787.1 L1240.5,1787.0 L1241.5,1787.0 L1242.5,1786.9 L1243.5,1786.8 L1244.5,1786.8 L1245.5,1786.7 L1246.5,1786.7 L1247.5,1786.6 L1248.5,1786.5 L1249.5,1786.4 L1250.5,1786.3 L1251.5,1786.2 L1252.5,1786.2 L1253.5,1786.1 L1254.5,1785.9 L1255.5,1785.8 L1256.5,1785.7 L1257.5,1785.6 L1258.5,1785.4 L1259.5,1785.3 L1260.5,1785.1 L1261.5,1785.0 L1262.5,1784.8 L1263.5,1784.6 L1264.5,1784.4 L1265.5,1784.2 L1266.5,1784.0 L1267.5,1783.7 L1268.5,1783.5 L1269.5,1783.2 L1270.5,1782.9 L1271.5,1782.5 L1272.5,1782.1 L1273.5,1781.7 L1274.5,1781.3 L1275.5,1780.8 L1276.5,1780.2 L1277.5,1779.6 L1278.5,1779.0 L1279.5,1778.2 L1280.5,1777.4 L1281.5,1776.4 L1282.5,1775.3 L1283.5,1774.1 L1284.5,1772.7 L1285.5,1771.2 L1286.5,1769.5 L1287.5,1767.6 L1288.5,1765.6 L1289.5,1763.6 L1290.5,1761.6 L1291.5,1759.9 L1292.5,1758.5 L1293.5,1757.6 L1294.5,1757.3 L1295.5,1757.4 L1296.5,1757.9 L1297.5,1758.5 L1298.5,1759.0 L1299.5,1759.5 L1300.5,1759.8 L1301.5,1759.7 L1302.5,1759.4 L1303.5,1758.8 L1304.5,1757.9 L1305.5,1756.6 L1306.5,1754.9 L1307.5,1752.9 L1308.5,1750.5 L1309.5,1747.5 L1310.5,1744.1 L1311.5,1740.0 L1312.5,1735.2 L1313.5,1729.7 L1314.5,1723.2 L1315.5,1715.8 L1316.5,1707.3 L1317.5,1697.6 L1318.5,1687.0 L1319.5,1675.5 L1320.5,1663.8 L1321.5,1652.6 L1322.5,1643.0 L1323.5,1636.2 L1324.5,1633.1 L1325.5,1634.1 L1326.5,1639.0 L1327.5,1646.8 L1328.5,1656.5 L1329.5,1666.8 L1330.5,1676.9 L1331.5,1686.2 L1332.5,1694.4 L1333.5,1701.4 L1334.5,1707.2 L1335.5,1711.8 L1336.5,1715.3 L1337.5,1717.8 L1338.5,1719.2 L1339.5,1719.7 L1340.5,1719.3 L1341.5,1718.0 L1342.5,1715.7 L1343.5,1712.4 L1344.5,1708.0 L1345.5,1702.4 L1346.5,1695.5 L1347.5,1687.1 L1348.5,1677.2 L1349.5,1665.7 L1350.5,1652.7 L1351.5,1638.3 L1352.5,1623.2 L1353.5,1608.3 L1354.5,1595.0 L1355.5,1585.0 L1356.5,1579.8 L1357.5,1580.3 L1358.5,1586.5 L1359.5,1597.6 L1360.5,1611.9 L1361.5,1627.8 L1362.5,1644.0 L1363.5,1659.6 L1364.5,1673.9 L1365.5,1686.8 L1366.5,1698.1 L1367.5,1708.0 L1368.5,1716.7 L1369.5,1724.2 L1370.5,1730.7 L1371.5,1736.3 L1372.5,1741.2 L1373.5,1745.5 L1374.5,1749.3 L1375.5,1752.6 L1376.5,1755.6 L1377.5,1758.1 L1378.5,1760.5 L1379.5,1762.5 L1380.5,1764.4 L1381.5,1766.0 L1382.5,1767.5 L1383.5,1768.9 L1384.5,1770.1 L1385.5,1771.2 L1386.5,1772.2 L1387.5,1773.1 L1388.5,1774.0 L1389.5,1774.7 L1390.5,1775.4 L1391.5,1776.1 L1392.5,1776.7 L1393.5,1777.2 L1394.5,1777.7 L1395.5,1778.2 L1396.5,1778.7 L1397.5,1779.1 L1398.5,1779.4 L1399.5,1779.8 L1400.5,1780.1 L1401.5,1780.4 L1402.5,1780.7 L1403.5,1780.9 L1404.5,1781.2 L1405.5,1781.4 L1406.5,1781.6 L1407.5,1781.8 L1408.5,1782.0 L1409.5,1782.1 L1410.5,1782.3 L1411.5,1782.4 L1412.5,1782.5 L1413.5,1782.6 L1414.5,1782.7 L1415.5,1782.8 L1416.5,1782.9 L1417.5,1783.0 L1418.5,1783.0 L1419.5,1783.1 L1420.5,1783.1 L1421.5,1783.2 L1422.5,1783.2 L1423.5,1783.2 L1424.5,1783.2 L1425.5,1783.2 L1426.5,1783.2 L1427.5,1783.2 L1428.5,1783.1 L1429.5,1783.1 L1430.5,1783.0 L1431.5,1783.0 L1432.5,1782.9 L1433.5,1782.8 L1434.5,1782.7 L1435.5,1782.5 L1436.5,1782.4 L1437.5,1782.2 L1438.5,1782.0 L1439.5,1781.8 L1440.5,1781.6 L1441.5,1781.3 L1442.5,1781.0 L1443.5,1780.6 L1444.5,1780.2 L1445.5,1779.8 L1446.5,1779.4 L1447.5,1778.9 L1448.5,1778.5 L1449.5,1778.1 L1450.5,1777.8 L1451.5,1777.6 L1452.5,1777.5 L1453.5,1777.5 L1454.5,1777.6 L1455.5,1777.6 L1456.5,1777.7 L1457.5,1777.7 L1458.5,1777.6 L1459.5,1777.6 L1460.5,1777.4 L1461.5,1777.3 L1462.5,1777.1 L1463.5,1776.8 L1464.5,1776.5 L1465.5,1776.1 L1466.5,1775.7 L1467.5,1775.3 L1468.5,1774.8 L1469.5,1774.2 L1470.5,1773.6 L1471.5,1773.0 L1472.5,1772.3 L1473.5,1771.5 L1474.5,1770.7 L1475.5,1769.8 L1476.5,1768.8 L1477.5,1767.7 L1478.5,1766.5 L1479.5,1765.3 L1480.5,1763.9 L1481.5,1762.4 L1482.5,1760.7 L1483.5,1758.9 L1484.5,1756.9 L1485.5,1754.7 L1486.5,1752.3 L1487.5,1749.6 L1488.5,1746.6 L1489.5,1743.3 L1490.5,1739.6 L1491.5,1735.4 L1492.5,1730.8 L1493.5,1725.5 L1494.5,1719.6 L1495.5,1712.8 L1496.5,1705.2 L1497.5,1696.4 L1498.5,1686.3 L1499.5,1674.7 L1500.5,1661.3 L1501.5,1645.9 L1502.5,1628.1 L1503.5,1607.6 L1504.5,1584.1 L1505.5,1557.4 L1506.5,1527.7 L1507.5,1495.5 L1508.5,1461.9 L1509.5,1428.9 L1510.5,1399.4 L1511.5,1376.9 L1512.5,1364.6 L1513.5,1364.5 L1514.5,1376.7 L1515.5,1399.0 L1516.5,1428.3 L1517.5,1461.1 L1518.5,1494.5 L1519.5,1526.6 L1520.5,1556.0 L1521.5,1582.4 L1522.5,1605.7 L1523.5,1625.9 L1524.5,1643.4 L1525.5,1658.4 L1526.5,1671.4 L1527.5,1682.5 L1528.5,1692.0 L1529.5,1700.1 L1530.5,1707.1 L1531.5,1713.0 L1532.5,1718.0 L1533.5,1722.1 L1534.5,1725.5 L1535.5,1728.3 L1536.5,1730.5 L1537.5,1732.3 L1538.5,1733.8 L1539.5,1735.2 L1540.5,1736.8 L1541.5,1738.6 L1542.5,1740.8 L1543.5,1743.3 L1544.5,1746.2 L1545.5,1749.1 L1546.5,1752.1 L1547.5,1754.9 L1548.5,1757.6 L1549.5,1760.0 L1550.5,1762.2 L1551.5,1764.2 L1552.5,1766.0 L1553.5,1767.6 L1554.5,1769.1 L1555.5,1770.4 L1556.5,1771.6 L1557.5,1772.7 L1558.5,1773.6 L1559.5,1774.5 L1560.5,1775.4 L1561.5,1776.1 L1562.5,1776.8 L1563.5,1777.5 L1564.5,1778.1 L1565.5,1778.6 L1566.5,1779.1 L1567.5,1779.6 L1568.5,1780.1 L1569.5,1780.5 L1570.5,1780.9 L1571.5,1781.3 L1572.5,1781.7 L1573.5,1782.0 L1574.5,1782.3 L1575.5,1782.6 L1576.5,1782.9 L1577.5,1783.2 L1578.5,1783.4 L1579.5,1783.7 L1580.5,1783.9 L1581.5,1784.1 L1582.5,1784.3 L1583.5,1784.5 L1584.5,1784.7 L1585.5,1784.9 L1586.5,1785.1 L1587.5,1785.2 L1588.5,1785.4 L1589.5,1785.6 L1590.5,1785.7 L1591.5,1785.9 L1592.5,1786.0 L1593.5,1786.1 L1594.5,1786.2 L1595.5,1786.4 L1596.5,1786.5 L1597.5,1786.6 L1598.5,1786.7 L1599.5,1786.8 L1600.5,1786.9 L1601.5,1787.0 L1602.5,1787.1 L1603.5,1787.2 L1604.5,1787.3 L1605.5,1787.4 L1606.5,1787.5 L1607.5,1787.5 L1608.5,1787.6 L1609.5,1787.7 L1610.5,1787.8 L1611.5,1787.8 L1612.5,1787.9 L1613.5,1788.0 L1614.5,1788.0 L1615.5,1788.1 L1616.5,1788.2 L1617.5,1788.2 L1618.5,1788.3 L1619.5,1788.3 L1620.5,1788.4 L1621.5,1788.4 L1622.5,1788.5 L1623.5,1788.5 L1624.5,1788.6 L1625.5,1788.6 L1626.5,1788.7 L1627.5,1788.7 L1628.5,1788.8 L1629.5,1788.8 L1630.5,1788.9 L1631.5,1788.9 L1632.5,1788.9 L1633.5,1789.0 L1634.5,1789.0 L1635.5,1789.1 L1636.5,1789.1 L1637.5,1789.1 L1638.5,1789.2 L1639.5,1789.2 L1640.5,1789.2 L1641.5,1789.3 L1642.5,1789.3 L1643.5,1789.3 L1644.5,1789.3 L1645.5,1789.4 L1646.5,1789.4 L1647.5,1789.4 L1648.5,1789.5 L1649.5,1789.5 L1650.5,1789.5 L1651.5,1789.5 L1652.5,1789.6 L1653.5,1789.6 L1654.5,1789.6" fill="none" stroke="#f00" stroke-width="3.4" stroke-linejoin="round" stroke-linecap="round"/>
<path d="M56.5,2190.4 L57.9,2191.5 L59.2,2189.2 L60.6,2191.4 L61.9,2196.8 L63.3,2194.4 L64.6,2196.0 L66.0,2197.0 L67.3,2194.3 L68.7,2193.7 L70.0,2194.6 L71.4,2197.3 L72.7,2197.4 L74.1,2197.3 L75.4,2196.8 L76.8,2192.9 L78.1,2196.1 L79.5,2195.6 L80.8,2200.1 L82.2,2195.4 L83.5,2197.0 L84.9,2201.5 L86.2,2197.0 L87.6,2195.6 L88.9,2197.4 L90.3,2202.3 L91.6,2200.3 L93.0,2201.6 L94.3,2200.2 L95.7,2199.0 L97.0,2206.5 L98.4,2199.2 L99.7,2199.5 L101.1,2199.7 L102.4,2200.3 L103.8,2199.0 L105.1,2200.6 L106.5,2201.0 L107.8,2196.9 L109.2,2199.9 L110.5,2199.0 L111.9,2203.2 L113.2,2199.4 L114.6,2198.8 L115.9,2199.3 L117.3,2197.1 L118.6,2193.6 L120.0,2199.4 L121.3,2201.1 L122.7,2198.9 L124.0,2197.3 L125.4,2196.9 L126.7,2202.1 L128.1,2194.0 L129.4,2198.7 L130.8,2194.8 L132.1,2197.4 L133.5,2203.0 L134.8,2202.6 L136.2,2204.3 L137.5,2200.0 L138.9,2206.9 L140.2,2205.6 L141.6,2206.8 L142.9,2201.4 L144.3,2199.7 L145.6,2203.6 L147.0,2201.1 L148.3,2201.0 L149.7,2202.4 L151.0,2197.4 L152.4,2199.1 L153.7,2197.5 L155.1,2198.6 L156.4,2196.9 L157.8,2202.1 L159.1,2197.1 L160.5,2201.7 L161.8,2205.3 L163.2,2204.0 L164.5,2204.0 L165.9,2206.5 L167.2,2195.2 L168.6,2202.0 L169.9,2201.5 L171.3,2201.5 L172.6,2201.1 L174.0,2197.1 L175.3,2196.9 L176.7,2199.4 L178.0,2200.7 L179.4,2196.9 L180.7,2195.3 L182.1,2199.2 L183.4,2196.4 L184.8,2204.0 L186.1,2198.8 L187.5,2193.9 L188.8,2196.0 L190.2,2198.6 L191.5,2191.9 L192.9,2197.7 L194.2,2193.7 L195.6,2197.4 L196.9,2190.9 L198.3,2187.2 L199.6,2191.4 L201.0,2190.0 L202.3,2190.9 L203.7,2188.5 L205.0,2182.0 L206.4,2176.2 L207.7,2172.9 L209.1,2171.5 L210.4,2167.8 L211.8,2165.6 L213.1,2157.7 L214.5,2160.8 L215.8,2158.0 L217.2,2160.9 L218.5,2150.0 L219.9,2146.4 L221.2,2149.2 L222.6,2139.8 L223.9,2139.0 L225.3,2134.9 L226.6,2143.5 L228.0,2141.7 L229.3,2131.6 L230.7,2133.0 L232.0,2136.1 L233.4,2136.7 L234.7,2136.1 L236.1,2129.2 L237.4,2132.7 L238.8,2138.6 L240.1,2141.8 L241.5,2137.6 L242.8,2140.5 L244.2,2153.4 L245.5,2149.2 L246.9,2156.7 L248.2,2160.2 L249.6,2166.6 L250.9,2173.1 L252.3,2170.4 L253.6,2174.1 L255.0,2173.8 L256.3,2174.6 L257.7,2180.3 L259.0,2184.6 L260.4,2183.1 L261.7,2190.2 L263.1,2189.0 L264.4,2187.0 L265.8,2191.2 L267.1,2189.3 L268.5,2188.3 L269.8,2188.5 L271.2,2195.1 L272.5,2191.8 L273.9,2197.7 L275.2,2192.5 L276.6,2196.8 L277.9,2192.6 L279.3,2194.0 L280.6,2187.1 L282.0,2189.0 L283.3,2193.1 L284.7,2190.1 L286.0,2190.9 L287.4,2188.1 L288.7,2185.1 L290.1,2192.9 L291.4,2195.1 L292.8,2193.5 L294.1,2196.0 L295.5,2194.3 L296.8,2195.6 L298.2,2195.4 L299.5,2193.7 L300.9,2199.9 L302.2,2188.3 L303.6,2193.0 L304.9,2191.8 L306.3,2183.4 L307.6,2183.6 L309.0,2190.3 L310.3,2189.2 L311.7,2187.9 L313.0,2188.7 L314.4,2184.5 L315.7,2180.3 L317.1,2176.5 L318.4,2181.7 L319.8,2179.6 L321.1,2180.7 L322.5,2173.9 L323.8,2169.2 L325.2,2174.7 L326.5,2168.5 L327.9,2162.0 L329.2,2156.4 L330.6,2160.3 L331.9,2157.2 L333.3,2155.0 L334.6,2151.9 L336.0,2151.4 L337.3,2147.2 L338.7,2143.7 L340.0,2137.1 L341.4,2140.3 L342.7,2135.5 L344.1,2122.4 L345.4,2123.4 L346.8,2122.3 L348.1,2119.1 L349.5,2113.0 L350.8,2109.6 L352.2,2102.1 L353.5,2100.3 L354.9,2098.2 L356.2,2093.6 L357.6,2087.3 L358.9,2088.9 L360.3,2083.1 L361.6,2074.5 L363.0,2075.2 L364.3,2071.3 L365.7,2073.1 L367.0,2070.2 L368.4,2067.8 L369.7,2067.8 L371.1,2065.5 L372.4,2064.3 L373.8,2058.5 L375.1,2064.6 L376.5,2062.4 L377.8,2065.2 L379.2,2060.4 L380.5,2056.8 L381.9,2067.8 L383.2,2064.8 L384.6,2067.2 L385.9,2070.3 L387.3,2072.6 L388.6,2074.7 L390.0,2070.6 L391.3,2078.3 L392.7,2079.4 L394.0,2082.7 L395.4,2091.4 L396.7,2091.5 L398.1,2089.9 L399.4,2093.3 L400.8,2105.6 L402.1,2114.2 L403.5,2118.1 L404.8,2116.2 L406.2,2122.0 L407.5,2125.9 L408.9,2131.2 L410.2,2141.5 L411.6,2148.0 L412.9,2144.0 L414.3,2147.1 L415.6,2147.4 L417.0,2140.8 L418.3,2135.9 L419.7,2134.3 L421.0,2122.4 L422.4,2123.2 L423.7,2119.8 L425.1,2115.7 L426.4,2106.4 L427.8,2106.6 L429.1,2105.9 L430.5,2108.5 L431.8,2107.4 L433.2,2104.3 L434.5,2101.9 L435.9,2100.7 L437.2,2101.7 L438.6,2103.0 L439.9,2098.0 L441.3,2102.2 L442.6,2102.8 L444.0,2100.3 L445.3,2099.6 L446.7,2100.2 L448.0,2101.8 L449.4,2105.0 L450.7,2095.6 L452.1,2092.6 L453.4,2091.2 L454.8,2085.9 L456.1,2080.6 L457.5,2081.4 L458.8,2075.5 L460.2,2075.0 L461.5,2072.2 L462.9,2061.5 L464.2,2057.0 L465.6,2053.6 L466.9,2053.6 L468.3,2052.7 L469.6,2056.7 L471.0,2064.0 L472.3,2071.9 L473.7,2075.8 L475.0,2082.4 L476.4,2086.8 L477.7,2098.8 L479.1,2111.5 L480.4,2119.4 L481.8,2127.2 L483.1,2136.7 L484.5,2138.6 L485.8,2141.6 L487.2,2152.0 L488.5,2162.0 L489.9,2156.4 L491.2,2156.0 L492.6,2152.9 L493.9,2151.8 L495.3,2149.6 L496.6,2154.0 L498.0,2159.2 L499.3,2149.0 L500.7,2151.8 L502.0,2138.7 L503.4,2132.2 L504.7,2127.9 L506.1,2119.5 L507.4,2113.7 L508.8,2102.6 L510.1,2102.4 L511.5,2093.6 L512.8,2096.4 L514.2,2085.3 L515.5,2080.7 L516.9,2074.0 L518.2,2070.3 L519.6,2068.7 L520.9,2076.8 L522.3,2074.6 L523.6,2080.9 L525.0,2083.6 L526.3,2087.8 L527.7,2098.4 L529.0,2099.3 L530.4,2101.2 L531.7,2114.5 L533.1,2121.0 L534.4,2126.3 L535.8,2132.4 L537.1,2130.8 L538.5,2137.8 L539.8,2140.5 L541.2,2149.6 L542.5,2149.6 L543.9,2147.4 L545.2,2153.0 L546.6,2153.2 L547.9,2153.9 L549.3,2159.3 L550.6,2155.7 L552.0,2160.1 L553.3,2154.5 L554.7,2154.2 L556.0,2152.0 L557.4,2162.8 L558.7,2160.1 L560.1,2162.2 L561.4,2161.8 L562.8,2166.1 L564.1,2159.0 L565.5,2162.5 L566.8,2164.5 L568.2,2159.2 L569.5,2161.2 L570.9,2161.7 L572.2,2158.3 L573.6,2158.3 L574.9,2158.2 L576.3,2156.7 L577.6,2157.2 L579.0,2153.1 L580.3,2153.1 L581.7,2150.7 L583.0,2149.4 L584.4,2145.2 L585.7,2143.6 L587.1,2134.3 L588.4,2136.9 L589.8,2135.6 L591.1,2127.2 L592.5,2115.9 L593.8,2111.6 L595.2,2109.9 L596.5,2094.6 L597.9,2087.3 L599.2,2081.0 L600.6,2073.5 L601.9,2058.8 L603.3,2048.6 L604.6,2035.1 L606.0,2025.2 L607.3,2014.5 L608.7,2002.7 L610.0,1988.0 L611.4,1975.2 L612.7,1967.8 L614.1,1959.1 L615.4,1956.9 L616.8,1947.6 L618.1,1941.9 L619.5,1943.8 L620.8,1943.9 L622.2,1945.4 L623.5,1956.6 L624.9,1970.3 L626.2,1969.7 L627.6,1987.6 L628.9,2010.8 L630.3,2027.2 L631.6,2042.0 L633.0,2056.5 L634.3,2080.8 L635.7,2099.2 L637.0,2114.5 L638.4,2126.8 L639.7,2141.4 L641.1,2142.5 L642.4,2147.3 L643.8,2151.3 L645.1,2160.4 L646.5,2167.4 L647.8,2173.2 L649.2,2171.2 L650.5,2177.0 L651.9,2175.7 L653.2,2176.0 L654.6,2179.5 L655.9,2178.6 L657.3,2186.8 L658.6,2190.8 L660.0,2186.5 L661.3,2187.2 L662.7,2187.1 L664.0,2188.4 L665.4,2186.2 L666.7,2192.1 L668.1,2193.4 L669.4,2195.9 L670.8,2195.6 L672.1,2195.9 L673.5,2191.9 L674.8,2193.9 L676.2,2198.0 L677.5,2201.2 L678.9,2200.3 L680.2,2201.3 L681.6,2203.3 L682.9,2200.0 L684.3,2195.8 L685.6,2191.7 L687.0,2195.2 L688.3,2199.5 L689.7,2200.3 L691.0,2199.1 L692.4,2197.7 L693.7,2195.6 L695.1,2196.8 L696.4,2197.2 L697.8,2198.3 L699.1,2196.3 L700.5,2193.1 L701.8,2192.5 L703.2,2196.2 L704.5,2193.8 L705.9,2193.7 L707.2,2194.3 L708.6,2197.8 L709.9,2192.3 L711.3,2194.7 L712.6,2193.8 L714.0,2190.0 L715.3,2191.6 L716.7,2193.9 L718.0,2190.4 L719.4,2192.1 L720.7,2192.5 L722.1,2190.7 L723.4,2194.0 L724.8,2189.3 L726.1,2189.6 L727.5,2192.3 L728.8,2195.2 L730.2,2195.8 L731.5,2196.5 L732.9,2190.0 L734.2,2197.1 L735.6,2200.9 L736.9,2201.1 L738.3,2197.6 L739.6,2197.8 L741.0,2202.5 L742.3,2201.7 L743.7,2207.5 L745.0,2205.2 L746.4,2208.4 L747.7,2212.2 L749.1,2204.6 L750.4,2209.5 L751.8,2212.8 L753.1,2209.9 L754.5,2210.4 L755.8,2217.2 L757.2,2220.8 L758.5,2220.1 L759.9,2227.5 L761.2,2230.9 L762.6,2235.2 L763.9,2235.9 L765.3,2232.8 L766.6,2226.7 L768.0,2224.5 L769.3,2218.9 L770.7,2214.7 L772.0,2215.6 L773.4,2213.1 L774.7,2210.3 L776.1,2210.2 L777.4,2204.5 L778.8,2203.0 L780.1,2205.3 L781.5,2206.2 L782.8,2205.3 L784.2,2202.0 L785.5,2207.2 L786.9,2205.5 L788.2,2204.6 L789.6,2201.7 L790.9,2204.9 L792.3,2205.2 L793.6,2200.9 L795.0,2204.8 L796.3,2205.4 L797.7,2203.6 L799.0,2204.8 L800.4,2203.1 L801.7,2199.9 L803.1,2204.6 L804.4,2204.3 L805.8,2207.9 L807.1,2202.2 L808.5,2204.3 L809.8,2203.2 L811.2,2204.7 L812.5,2203.6 L813.9,2201.8 L815.2,2206.1 L816.6,2199.7 L817.9,2206.0 L819.3,2205.2 L820.6,2203.9 L822.0,2207.9 L823.3,2204.8 L824.7,2205.8 L826.0,2199.8 L827.4,2203.6 L828.7,2203.4 L830.1,2205.3 L831.4,2204.5 L832.8,2206.5 L834.1,2211.7 L835.5,2205.3 L836.8,2209.1 L838.2,2205.8 L839.5,2210.3 L840.9,2207.2 L842.2,2209.9 L843.6,2210.5 L844.9,2212.6 L846.3,2215.7 L847.6,2213.3 L849.0,2212.6 L850.3,2208.9 L851.7,2212.0 L853.0,2214.4 L854.4,2213.1 L855.7,2214.2 L857.1,2207.3 L858.4,2210.5 L859.8,2211.8 L861.1,2214.4 L862.5,2213.3 L863.8,2211.7 L865.2,2216.4 L866.5,2220.8 L867.9,2214.9 L869.2,2214.1 L870.6,2216.5 L871.9,2222.3 L873.3,2210.8 L874.6,2217.2 L876.0,2225.9 L877.3,2228.0 L878.7,2226.8 L880.0,2231.4 L881.4,2236.4 L882.7,2235.4 L884.1,2229.9 L885.4,2234.2 L886.8,2229.8 L888.1,2229.4 L889.5,2228.6 L890.8,2222.6 L892.2,2216.9 L893.5,2220.4 L894.9,2227.9 L896.2,2224.8 L897.6,2219.0 L898.9,2225.6 L900.3,2220.8 L901.6,2225.3 L903.0,2219.6 L904.3,2221.4 L905.7,2221.6 L907.0,2221.7 L908.4,2216.0 L909.7,2217.7 L911.1,2216.5 L912.4,2221.6 L913.8,2217.9 L915.1,2219.7 L916.5,2215.9 L917.8,2216.9 L919.2,2217.6 L920.5,2211.1 L921.9,2215.2 L923.2,2214.7 L924.6,2210.9 L925.9,2209.3 L927.3,2214.4 L928.6,2211.7 L930.0,2215.5 L931.3,2205.7 L932.7,2205.4 L934.0,2210.0 L935.4,2211.4 L936.7,2212.3 L938.1,2211.7 L939.4,2212.2 L940.8,2209.6 L942.1,2208.3 L943.5,2206.7 L944.8,2208.3 L946.2,2207.6 L947.5,2201.9 L948.9,2204.5 L950.2,2207.0 L951.6,2202.0 L952.9,2200.9 L954.3,2199.7 L955.6,2199.8 L957.0,2201.2 L958.3,2199.3 L959.7,2197.9 L961.0,2188.3 L962.4,2194.4 L963.7,2190.8 L965.1,2189.0 L966.4,2194.3 L967.8,2192.2 L969.1,2184.6 L970.5,2187.4 L971.8,2183.3 L973.2,2180.5 L974.5,2177.5 L975.9,2165.9 L977.2,2166.5 L978.6,2160.9 L979.9,2155.9 L981.3,2161.2 L982.6,2154.1 L984.0,2151.0 L985.3,2149.3 L986.7,2146.1 L988.0,2141.8 L989.4,2142.5 L990.7,2137.6 L992.1,2134.0 L993.4,2132.7 L994.8,2131.9 L996.1,2129.6 L997.5,2131.4 L998.8,2130.1 L1000.2,2120.9 L1001.5,2122.0 L1002.9,2122.9 L1004.2,2115.4 L1005.6,2112.4 L1006.9,2109.9 L1008.3,2113.0 L1009.6,2112.9 L1011.0,2109.0 L1012.3,2109.0 L1013.7,2109.8 L1015.0,2108.5 L1016.4,2103.0 L1017.7,2101.0 L1019.1,2097.7 L1020.4,2093.2 L1021.8,2090.0 L1023.1,2091.4 L1024.5,2093.1 L1025.8,2086.9 L1027.2,2089.7 L1028.5,2088.7 L1029.9,2088.5 L1031.2,2081.2 L1032.6,2080.7 L1033.9,2081.2 L1035.3,2080.6 L1036.6,2084.0 L1038.0,2077.8 L1039.3,2079.7 L1040.7,2077.2 L1042.0,2078.2 L1043.4,2073.3 L1044.7,2075.4 L1046.1,2072.8 L1047.4,2070.9 L1048.8,2067.0 L1050.1,2068.5 L1051.5,2072.4 L1052.8,2068.2 L1054.2,2066.5 L1055.5,2065.9 L1056.9,2063.6 L1058.2,2061.7 L1059.6,2061.3 L1060.9,2062.0 L1062.3,2064.1 L1063.6,2061.4 L1065.0,2058.2 L1066.3,2054.6 L1067.7,2054.6 L1069.0,2058.7 L1070.4,2057.0 L1071.7,2058.6 L1073.1,2054.9 L1074.4,2053.5 L1075.8,2057.4 L1077.1,2056.2 L1078.5,2057.9 L1079.8,2060.0 L1081.2,2054.8 L1082.5,2052.1 L1083.9,2047.5 L1085.2,2037.8 L1086.6,2036.7 L1087.9,2033.4 L1089.3,2031.1 L1090.6,2024.9 L1092.0,2023.0 L1093.3,2020.6 L1094.7,2017.9 L1096.0,2016.4 L1097.4,2010.6 L1098.7,2004.1 L1100.1,2004.5 L1101.4,1999.6 L1102.8,1997.8 L1104.1,1997.5 L1105.5,1992.4 L1106.8,1987.4 L1108.2,1990.4 L1109.5,1988.8 L1110.9,1988.8 L1112.2,1990.6 L1113.6,1994.5 L1114.9,2005.5 L1116.3,2005.4 L1117.6,2017.4 L1119.0,2026.9 L1120.3,2036.5 L1121.7,2048.3 L1123.0,2059.6 L1124.4,2074.5 L1125.7,2086.3 L1127.1,2097.8 L1128.4,2111.1 L1129.8,2117.6 L1131.1,2122.6 L1132.5,2128.3 L1133.8,2134.3 L1135.2,2141.7 L1136.5,2145.1 L1137.9,2153.8 L1139.2,2155.8 L1140.6,2155.6 L1141.9,2162.3 L1143.3,2157.2 L1144.6,2159.8 L1146.0,2165.2 L1147.3,2162.6 L1148.7,2167.3 L1150.0,2167.7 L1151.4,2168.7 L1152.7,2170.5 L1154.1,2171.1 L1155.4,2173.4 L1156.8,2173.2 L1158.1,2171.2 L1159.5,2167.9 L1160.8,2168.2 L1162.2,2169.3 L1163.5,2160.3 L1164.9,2157.8 L1166.2,2160.0 L1167.6,2160.1 L1168.9,2160.2 L1170.3,2159.9 L1171.6,2162.0 L1173.0,2159.5 L1174.3,2158.5 L1175.7,2153.9 L1177.0,2158.5 L1178.4,2155.6 L1179.7,2159.7 L1181.1,2157.1 L1182.4,2155.3 L1183.8,2157.8 L1185.1,2153.3 L1186.5,2156.7 L1187.8,2158.2 L1189.2,2156.1 L1190.5,2149.6 L1191.9,2153.2 L1193.2,2153.1 L1194.6,2147.6 L1195.9,2144.8 L1197.3,2135.7 L1198.6,2136.1 L1200.0,2130.5 L1201.3,2130.7 L1202.7,2125.2 L1204.0,2122.1 L1205.4,2119.0 L1206.7,2117.1 L1208.1,2108.0 L1209.4,2104.6 L1210.8,2105.0 L1212.1,2096.0 L1213.5,2087.3 L1214.8,2085.6 L1216.2,2084.5 L1217.5,2083.2 L1218.9,2074.4 L1220.2,2064.1 L1221.6,2050.5 L1222.9,2048.2 L1224.3,2044.2 L1225.6,2037.6 L1227.0,2033.7 L1228.3,2031.6 L1229.7,2032.4 L1231.0,2028.6 L1232.4,2021.2 L1233.7,2014.1 L1235.1,2018.6 L1236.4,2013.2 L1237.8,2016.2 L1239.1,2012.3 L1240.5,2002.5 L1241.8,2001.7 L1243.2,1996.8 L1244.5,1995.8 L1245.9,1988.7 L1247.2,1988.3 L1248.6,1980.1 L1249.9,1971.5 L1251.3,1967.8 L1252.6,1960.2 L1254.0,1954.7 L1255.3,1952.2 L1256.7,1936.4 L1258.0,1930.1 L1259.4,1922.3 L1260.7,1908.1 L1262.1,1899.2 L1263.4,1901.0 L1264.8,1888.3 L1266.1,1877.4 L1267.5,1869.2 L1268.8,1863.5 L1270.2,1857.0 L1271.5,1854.1 L1272.9,1850.9 L1274.2,1840.0 L1275.6,1835.5 L1276.9,1826.3 L1278.3,1825.2 L1279.6,1817.3 L1281.0,1816.9 L1282.3,1809.3 L1283.7,1809.5 L1285.0,1812.2 L1286.4,1814.5 L1287.7,1819.1 L1289.1,1832.0 L1290.4,1832.2 L1291.8,1836.3 L1293.1,1848.2 L1294.5,1861.3 L1295.8,1881.4 L1297.2,1901.4 L1298.5,1915.7 L1299.9,1931.2 L1301.2,1942.3 L1302.6,1956.5 L1303.9,1963.8 L1305.3,1982.0 L1306.6,1992.1 L1308.0,2001.2 L1309.3,2014.5 L1310.7,2027.6 L1312.0,2040.1 L1313.4,2049.1 L1314.7,2053.2 L1316.1,2069.2 L1317.4,2083.9 L1318.8,2093.1 L1320.1,2106.7 L1321.5,2110.4 L1322.8,2114.6 L1324.2,2127.4 L1325.5,2140.7 L1326.9,2149.3 L1328.2,2152.1 L1329.6,2160.0 L1330.9,2165.0 L1332.3,2162.6 L1333.6,2169.5 L1335.0,2177.0 L1336.3,2180.7 L1337.7,2179.0 L1339.0,2185.7 L1340.4,2181.4 L1341.7,2182.8 L1343.1,2180.0 L1344.4,2188.1 L1345.8,2186.9 L1347.1,2196.1 L1348.5,2193.7 L1349.8,2193.4 L1351.2,2191.7 L1352.5,2202.6 L1353.9,2197.2 L1355.2,2200.4 L1356.6,2199.2 L1357.9,2205.0 L1359.3,2207.5 L1360.6,2205.2 L1362.0,2205.7 L1363.3,2210.1 L1364.7,2211.6 L1366.0,2207.5 L1367.4,2214.2 L1368.7,2208.9 L1370.1,2207.0 L1371.4,2209.1 L1372.8,2207.5 L1374.1,2209.6 L1375.5,2210.3 L1376.8,2210.2 L1378.2,2207.6 L1379.5,2207.4 L1380.9,2202.1 L1382.2,2207.2 L1383.6,2208.7 L1384.9,2210.0 L1386.3,2207.0 L1387.6,2209.5 L1389.0,2210.5 L1390.3,2203.1 L1391.7,2205.0 L1393.0,2201.4 L1394.4,2200.1 L1395.7,2205.6 L1397.1,2203.7 L1398.4,2205.9 L1399.8,2207.8 L1401.1,2206.0 L1402.5,2206.2 L1403.8,2208.4 L1405.2,2205.1 L1406.5,2202.6 L1407.9,2207.6 L1409.2,2205.2 L1410.6,2205.3 L1411.9,2203.0 L1413.3,2208.3 L1414.6,2203.3 L1416.0,2203.8 L1417.3,2199.1 L1418.7,2202.2 L1420.0,2201.3 L1421.4,2202.3 L1422.7,2201.5 L1424.1,2198.1 L1425.4,2204.2 L1426.8,2196.9 L1428.1,2198.3 L1429.5,2200.3 L1430.8,2193.8 L1432.2,2196.7 L1433.5,2197.1 L1434.9,2195.7 L1436.2,2199.6 L1437.6,2192.3 L1438.9,2192.7 L1440.3,2192.9 L1441.6,2191.5 L1443.0,2191.6 L1444.3,2193.0 L1445.7,2190.0 L1447.0,2192.8 L1448.4,2188.6 L1449.7,2191.5 L1451.1,2190.1 L1452.4,2196.8 L1453.8,2191.1 L1455.1,2190.9 L1456.5,2189.7 L1457.8,2196.8 L1459.2,2193.5 L1460.5,2192.4 L1461.9,2185.6 L1463.2,2191.1 L1464.6,2191.4 L1465.9,2190.7 L1467.3,2188.5 L1468.6,2185.9 L1470.0,2185.8 L1471.3,2189.6 L1472.7,2185.6 L1474.0,2181.0 L1475.4,2184.4 L1476.7,2179.8 L1478.1,2179.3 L1479.4,2180.0 L1480.8,2179.1 L1482.1,2179.9 L1483.5,2166.1 L1484.8,2169.2 L1486.2,2175.1 L1487.5,2166.2 L1488.9,2156.6 L1490.2,2163.9 L1491.6,2163.4 L1492.9,2158.4 L1494.3,2162.6 L1495.6,2156.4 L1497.0,2154.9 L1498.3,2159.5 L1499.7,2160.7 L1501.0,2153.8 L1502.4,2151.0 L1503.7,2152.6 L1505.1,2153.4 L1506.4,2146.8 L1507.8,2146.3 L1509.1,2142.0 L1510.5,2136.1 L1511.8,2131.5 L1513.2,2129.3 L1514.5,2128.8 L1515.9,2123.6 L1517.2,2115.5 L1518.6,2114.4 L1519.9,2107.1 L1521.3,2110.7 L1522.6,2105.0 L1524.0,2102.9 L1525.3,2100.6 L1526.7,2098.0 L1528.0,2099.0 L1529.4,2095.2 L1530.7,2097.8 L1532.1,2101.3 L1533.4,2106.0 L1534.8,2096.8 L1536.1,2097.6 L1537.5,2097.6 L1538.8,2102.7 L1540.2,2095.8 L1541.5,2097.6 L1542.9,2105.6 L1544.2,2110.6 L1545.6,2124.2 L1546.9,2128.2 L1548.3,2132.6 L1549.6,2140.9 L1551.0,2144.5 L1552.3,2150.9 L1553.7,2159.0 L1555.0,2163.6 L1556.4,2166.6 L1557.7,2171.0 L1559.1,2173.9 L1560.4,2181.6 L1561.8,2183.0 L1563.1,2189.2 L1564.5,2194.3 L1565.8,2193.3 L1567.2,2190.5 L1568.5,2192.2 L1569.9,2197.5 L1571.2,2200.2 L1572.6,2191.7 L1573.9,2194.5 L1575.3,2198.1 L1576.6,2200.6 L1578.0,2197.6 L1579.3,2204.0 L1580.7,2200.8 L1582.0,2204.6 L1583.4,2198.2 L1584.7,2197.5 L1586.1,2199.6 L1587.4,2200.5 L1588.8,2200.8 L1590.1,2200.6 L1591.5,2202.4 L1592.8,2197.9 L1594.2,2199.2 L1595.5,2199.6 L1596.9,2199.1 L1598.2,2199.3 L1599.6,2203.3 L1600.9,2207.3 L1602.3,2206.2 L1603.6,2203.8 L1605.0,2199.9 L1606.3,2204.5 L1607.7,2200.2 L1609.0,2199.3 L1610.4,2205.3 L1611.7,2208.1 L1613.1,2209.9 L1614.4,2203.6 L1615.8,2198.7 L1617.1,2200.4 L1618.5,2205.5 L1619.8,2205.3 L1621.2,2205.0 L1622.5,2201.5 L1623.9,2199.7 L1625.2,2205.4 L1626.6,2206.1 L1627.9,2201.3 L1629.3,2201.5 L1630.6,2204.6 L1632.0,2207.2 L1633.3,2201.2 L1634.7,2200.4 L1636.0,2196.9 L1637.4,2201.8 L1638.7,2205.6 L1640.1,2205.9 L1641.4,2200.6 L1642.8,2202.9 L1644.1,2207.2 L1645.5,2203.7 L1646.8,2202.1 L1648.2,2203.5 L1649.5,2204.2 L1650.9,2205.7 L1652.2,2203.0 L1653.6,2200.7 L1654.9,2204.8" fill="none" stroke="#f00" stroke-width="3.0" stroke-linejoin="round" stroke-linecap="round"/>
<path d="M56.5,2210.7 L57.9,2210.2 L59.2,2210.3 L60.6,2208.2 L61.9,2210.4 L63.3,2212.4 L64.6,2211.8 L66.0,2210.6 L67.3,2209.3 L68.7,2209.9 L70.0,2211.0 L71.4,2207.1 L72.7,2209.1 L74.1,2209.5 L75.4,2208.8 L76.8,2206.2 L78.1,2207.0 L79.5,2207.7 L80.8,2209.0 L82.2,2210.1 L83.5,2209.1 L84.9,2209.4 L86.2,2209.6 L87.6,2210.8 L88.9,2207.8 L90.3,2208.5 L91.6,2211.7 L93.0,2209.6 L94.3,2206.3 L95.7,2206.5 L97.0,2206.0 L98.4,2205.9 L99.7,2210.7 L101.1,2209.1 L102.4,2205.9 L103.8,2210.2 L105.1,2210.6 L106.5,2207.8 L107.8,2208.0 L109.2,2208.8 L110.5,2208.8 L111.9,2209.5 L113.2,2212.3 L114.6,2211.3 L115.9,2211.1 L117.3,2212.7 L118.6,2210.8 L120.0,2209.4 L121.3,2212.4 L122.7,2210.6 L124.0,2209.2 L125.4,2212.4 L126.7,2210.6 L128.1,2209.9 L129.4,2213.3 L130.8,2212.3 L132.1,2212.9 L133.5,2212.9 L134.8,2212.1 L136.2,2211.4 L137.5,2207.6 L138.9,2209.5 L140.2,2209.3 L141.6,2209.4 L142.9,2212.1 L144.3,2214.4 L145.6,2210.5 L147.0,2208.2 L148.3,2213.9 L149.7,2209.6 L151.0,2207.6 L152.4,2211.0 L153.7,2212.4 L155.1,2211.4 L156.4,2212.1 L157.8,2209.5 L159.1,2208.9 L160.5,2211.7 L161.8,2212.3 L163.2,2209.0 L164.5,2210.9 L165.9,2210.5 L167.2,2214.0 L168.6,2208.5 L169.9,2211.6 L171.3,2210.2 L172.6,2211.1 L174.0,2213.2 L175.3,2212.6 L176.7,2213.2 L178.0,2211.8 L179.4,2210.9 L180.7,2211.3 L182.1,2212.4 L183.4,2211.5 L184.8,2212.4 L186.1,2210.5 L187.5,2209.2 L188.8,2210.4 L190.2,2208.8 L191.5,2206.2 L192.9,2208.1 L194.2,2206.1 L195.6,2207.0 L196.9,2203.5 L198.3,2206.0 L199.6,2203.7 L201.0,2203.1 L202.3,2200.9 L203.7,2197.6 L205.0,2193.6 L206.4,2190.8 L207.7,2188.9 L209.1,2184.4 L210.4,2182.4 L211.8,2182.2 L213.1,2175.6 L214.5,2176.2 L215.8,2171.0 L217.2,2168.9 L218.5,2166.7 L219.9,2161.7 L221.2,2159.3 L222.6,2155.5 L223.9,2156.2 L225.3,2152.2 L226.6,2152.0 L228.0,2149.3 L229.3,2144.6 L230.7,2145.8 L232.0,2147.4 L233.4,2147.8 L234.7,2147.9 L236.1,2151.5 L237.4,2150.0 L238.8,2154.5 L240.1,2157.0 L241.5,2156.2 L242.8,2159.5 L244.2,2161.3 L245.5,2167.4 L246.9,2173.5 L248.2,2174.3 L249.6,2178.3 L250.9,2182.1 L252.3,2183.6 L253.6,2189.0 L255.0,2188.2 L256.3,2190.8 L257.7,2193.6 L259.0,2196.8 L260.4,2198.6 L261.7,2200.6 L263.1,2200.6 L264.4,2200.6 L265.8,2203.2 L267.1,2205.4 L268.5,2205.2 L269.8,2203.7 L271.2,2205.9 L272.5,2206.4 L273.9,2206.1 L275.2,2204.9 L276.6,2208.3 L277.9,2207.8 L279.3,2211.2 L280.6,2208.1 L282.0,2208.9 L283.3,2210.7 L284.7,2209.6 L286.0,2209.8 L287.4,2212.1 L288.7,2209.0 L290.1,2207.1 L291.4,2208.7 L292.8,2211.4 L294.1,2210.5 L295.5,2208.5 L296.8,2208.4 L298.2,2210.0 L299.5,2210.7 L300.9,2209.1 L302.2,2210.0 L303.6,2210.0 L304.9,2207.6 L306.3,2209.9 L307.6,2210.0 L309.0,2207.5 L310.3,2203.7 L311.7,2206.7 L313.0,2209.2 L314.4,2208.7 L315.7,2202.4 L317.1,2208.5 L318.4,2202.7 L319.8,2204.4 L321.1,2202.6 L322.5,2201.5 L323.8,2198.5 L325.2,2194.9 L326.5,2197.3 L327.9,2194.2 L329.2,2191.4 L330.6,2197.5 L331.9,2190.7 L333.3,2188.0 L334.6,2183.9 L336.0,2185.6 L337.3,2183.1 L338.7,2182.2 L340.0,2176.6 L341.4,2170.3 L342.7,2170.6 L344.1,2166.7 L345.4,2163.8 L346.8,2162.8 L348.1,2157.2 L349.5,2153.3 L350.8,2149.9 L352.2,2149.1 L353.5,2143.1 L354.9,2138.5 L356.2,2137.2 L357.6,2129.9 L358.9,2125.0 L360.3,2121.2 L361.6,2114.0 L363.0,2111.6 L364.3,2108.5 L365.7,2108.2 L367.0,2108.2 L368.4,2103.9 L369.7,2104.8 L371.1,2100.6 L372.4,2098.6 L373.8,2099.2 L375.1,2102.3 L376.5,2103.0 L377.8,2100.9 L379.2,2101.9 L380.5,2105.2 L381.9,2104.5 L383.2,2107.1 L384.6,2108.5 L385.9,2109.8 L387.3,2108.6 L388.6,2107.5 L390.0,2108.8 L391.3,2106.1 L392.7,2110.1 L394.0,2113.6 L395.4,2117.3 L396.7,2116.7 L398.1,2120.9 L399.4,2127.6 L400.8,2130.7 L402.1,2135.6 L403.5,2139.6 L404.8,2145.3 L406.2,2150.1 L407.5,2152.2 L408.9,2152.9 L410.2,2156.5 L411.6,2154.6 L412.9,2160.2 L414.3,2158.0 L415.6,2153.7 L417.0,2157.9 L418.3,2154.5 L419.7,2146.9 L421.0,2146.7 L422.4,2145.6 L423.7,2141.2 L425.1,2135.2 L426.4,2133.7 L427.8,2129.8 L429.1,2127.3 L430.5,2129.6 L431.8,2127.3 L433.2,2129.0 L434.5,2124.1 L435.9,2125.7 L437.2,2123.6 L438.6,2124.8 L439.9,2127.4 L441.3,2125.8 L442.6,2128.0 L444.0,2126.5 L445.3,2124.8 L446.7,2127.4 L448.0,2128.1 L449.4,2124.2 L450.7,2120.6 L452.1,2113.9 L453.4,2105.7 L454.8,2099.2 L456.1,2094.6 L457.5,2087.7 L458.8,2083.6 L460.2,2079.2 L461.5,2069.1 L462.9,2061.3 L464.2,2055.1 L465.6,2050.6 L466.9,2048.8 L468.3,2048.9 L469.6,2053.1 L471.0,2058.0 L472.3,2066.4 L473.7,2072.8 L475.0,2080.0 L476.4,2086.3 L477.7,2099.5 L479.1,2107.6 L480.4,2117.0 L481.8,2123.0 L483.1,2132.0 L484.5,2138.5 L485.8,2147.5 L487.2,2156.4 L488.5,2157.5 L489.9,2162.0 L491.2,2161.1 L492.6,2159.8 L493.9,2160.7 L495.3,2160.5 L496.6,2158.2 L498.0,2161.9 L499.3,2158.8 L500.7,2153.4 L502.0,2146.6 L503.4,2139.9 L504.7,2132.0 L506.1,2123.6 L507.4,2116.1 L508.8,2113.4 L510.1,2104.3 L511.5,2098.0 L512.8,2089.2 L514.2,2083.6 L515.5,2081.0 L516.9,2075.6 L518.2,2066.8 L519.6,2066.4 L520.9,2068.7 L522.3,2065.7 L523.6,2074.3 L525.0,2077.1 L526.3,2081.3 L527.7,2089.6 L529.0,2092.9 L530.4,2101.8 L531.7,2110.8 L533.1,2115.9 L534.4,2121.7 L535.8,2127.5 L537.1,2131.4 L538.5,2138.1 L539.8,2138.6 L541.2,2145.8 L542.5,2145.9 L543.9,2149.8 L545.2,2149.2 L546.6,2148.0 L547.9,2153.2 L549.3,2152.0 L550.6,2156.5 L552.0,2162.2 L553.3,2159.1 L554.7,2158.6 L556.0,2163.0 L557.4,2163.1 L558.7,2166.9 L560.1,2168.6 L561.4,2167.7 L562.8,2167.6 L564.1,2169.2 L565.5,2170.0 L566.8,2169.7 L568.2,2168.8 L569.5,2168.3 L570.9,2167.0 L572.2,2170.3 L573.6,2168.2 L574.9,2165.4 L576.3,2163.9 L577.6,2163.7 L579.0,2162.2 L580.3,2158.4 L581.7,2155.1 L583.0,2152.8 L584.4,2146.6 L585.7,2145.5 L587.1,2145.9 L588.4,2140.0 L589.8,2138.1 L591.1,2132.7 L592.5,2124.6 L593.8,2118.5 L595.2,2114.9 L596.5,2104.5 L597.9,2095.3 L599.2,2088.1 L600.6,2075.6 L601.9,2061.5 L603.3,2052.2 L604.6,2040.2 L606.0,2022.9 L607.3,2013.2 L608.7,2001.9 L610.0,1987.6 L611.4,1970.9 L612.7,1958.1 L614.1,1946.5 L615.4,1937.0 L616.8,1924.9 L618.1,1919.5 L619.5,1915.9 L620.8,1919.9 L622.2,1927.6 L623.5,1932.7 L624.9,1943.9 L626.2,1956.5 L627.6,1970.0 L628.9,1989.4 L630.3,2007.9 L631.6,2027.5 L633.0,2040.9 L634.3,2061.4 L635.7,2079.6 L637.0,2096.1 L638.4,2110.8 L639.7,2121.3 L641.1,2131.7 L642.4,2139.3 L643.8,2149.8 L645.1,2155.3 L646.5,2158.1 L647.8,2163.8 L649.2,2168.6 L650.5,2171.3 L651.9,2173.3 L653.2,2177.4 L654.6,2178.5 L655.9,2181.6 L657.3,2184.9 L658.6,2183.5 L660.0,2186.6 L661.3,2190.2 L662.7,2189.2 L664.0,2191.3 L665.4,2189.4 L666.7,2190.5 L668.1,2192.7 L669.4,2197.9 L670.8,2194.4 L672.1,2194.0 L673.5,2193.7 L674.8,2195.1 L676.2,2196.9 L677.5,2194.5 L678.9,2197.9 L680.2,2197.8 L681.6,2198.4 L682.9,2195.3 L684.3,2196.4 L685.6,2193.7 L687.0,2196.4 L688.3,2196.8 L689.7,2195.8 L691.0,2194.4 L692.4,2198.6 L693.7,2197.0 L695.1,2197.0 L696.4,2196.4 L697.8,2196.4 L699.1,2200.2 L700.5,2199.8 L701.8,2199.7 L703.2,2202.3 L704.5,2202.8 L705.9,2202.8 L707.2,2204.5 L708.6,2203.9 L709.9,2202.7 L711.3,2204.6 L712.6,2201.9 L714.0,2206.7 L715.3,2207.5 L716.7,2204.5 L718.0,2204.6 L719.4,2202.0 L720.7,2203.8 L722.1,2202.6 L723.4,2203.1 L724.8,2204.6 L726.1,2204.7 L727.5,2205.6 L728.8,2201.6 L730.2,2204.8 L731.5,2201.7 L732.9,2205.0 L734.2,2206.7 L735.6,2204.4 L736.9,2202.8 L738.3,2202.2 L739.6,2204.0 L741.0,2206.3 L742.3,2206.5 L743.7,2204.5 L745.0,2204.5 L746.4,2205.5 L747.7,2209.8 L749.1,2209.4 L750.4,2217.3 L751.8,2216.0 L753.1,2215.5 L754.5,2218.6 L755.8,2220.7 L757.2,2220.0 L758.5,2222.0 L759.9,2221.1 L761.2,2223.5 L762.6,2224.7 L763.9,2222.8 L765.3,2224.8 L766.6,2220.4 L768.0,2216.0 L769.3,2210.8 L770.7,2208.6 L772.0,2209.2 L773.4,2206.1 L774.7,2207.0 L776.1,2206.1 L777.4,2205.5 L778.8,2201.3 L780.1,2204.5 L781.5,2204.1 L782.8,2202.2 L784.2,2204.8 L785.5,2201.0 L786.9,2204.5 L788.2,2202.3 L789.6,2203.8 L790.9,2200.1 L792.3,2203.6 L793.6,2202.5 L795.0,2203.3 L796.3,2201.0 L797.7,2202.3 L799.0,2205.7 L800.4,2201.1 L801.7,2201.7 L803.1,2201.3 L804.4,2200.2 L805.8,2204.5 L807.1,2205.0 L808.5,2201.8 L809.8,2199.6 L811.2,2203.0 L812.5,2203.8 L813.9,2203.8 L815.2,2203.8 L816.6,2199.5 L817.9,2200.5 L819.3,2200.7 L820.6,2200.7 L822.0,2202.7 L823.3,2198.0 L824.7,2201.9 L826.0,2199.4 L827.4,2195.1 L828.7,2196.7 L830.1,2198.1 L831.4,2194.4 L832.8,2192.2 L834.1,2195.7 L835.5,2196.8 L836.8,2193.1 L838.2,2194.1 L839.5,2197.3 L840.9,2194.8 L842.2,2192.1 L843.6,2192.7 L844.9,2192.7 L846.3,2196.3 L847.6,2197.9 L849.0,2200.2 L850.3,2201.2 L851.7,2198.6 L853.0,2201.5 L854.4,2204.2 L855.7,2204.9 L857.1,2206.6 L858.4,2205.0 L859.8,2204.0 L861.1,2207.1 L862.5,2204.5 L863.8,2202.1 L865.2,2208.1 L866.5,2207.5 L867.9,2208.4 L869.2,2206.2 L870.6,2206.4 L871.9,2208.0 L873.3,2209.2 L874.6,2209.5 L876.0,2206.9 L877.3,2214.1 L878.7,2212.7 L880.0,2212.4 L881.4,2215.2 L882.7,2216.0 L884.1,2212.7 L885.4,2217.3 L886.8,2216.9 L888.1,2219.7 L889.5,2221.1 L890.8,2223.7 L892.2,2220.7 L893.5,2222.5 L894.9,2220.9 L896.2,2223.0 L897.6,2220.1 L898.9,2221.8 L900.3,2226.3 L901.6,2223.3 L903.0,2221.2 L904.3,2224.0 L905.7,2222.1 L907.0,2219.9 L908.4,2221.5 L909.7,2217.6 L911.1,2218.8 L912.4,2218.7 L913.8,2216.3 L915.1,2216.5 L916.5,2215.0 L917.8,2212.6 L919.2,2211.9 L920.5,2213.5 L921.9,2207.9 L923.2,2210.7 L924.6,2211.7 L925.9,2210.9 L927.3,2210.4 L928.6,2208.2 L930.0,2210.2 L931.3,2208.7 L932.7,2207.0 L934.0,2204.0 L935.4,2204.6 L936.7,2206.2 L938.1,2204.2 L939.4,2205.8 L940.8,2205.3 L942.1,2204.6 L943.5,2205.1 L944.8,2202.6 L946.2,2200.7 L947.5,2201.9 L948.9,2201.7 L950.2,2204.1 L951.6,2202.5 L952.9,2201.8 L954.3,2199.3 L955.6,2199.6 L957.0,2198.4 L958.3,2195.6 L959.7,2194.8 L961.0,2195.1 L962.4,2194.5 L963.7,2190.0 L965.1,2191.5 L966.4,2189.7 L967.8,2190.4 L969.1,2187.0 L970.5,2185.8 L971.8,2187.5 L973.2,2181.7 L974.5,2177.9 L975.9,2175.6 L977.2,2172.7 L978.6,2173.1 L979.9,2168.7 L981.3,2167.4 L982.6,2159.8 L984.0,2157.3 L985.3,2153.9 L986.7,2152.1 L988.0,2144.1 L989.4,2141.5 L990.7,2140.0 L992.1,2139.0 L993.4,2139.6 L994.8,2135.6 L996.1,2131.4 L997.5,2136.0 L998.8,2134.7 L1000.2,2131.3 L1001.5,2131.0 L1002.9,2135.2 L1004.2,2133.0 L1005.6,2133.1 L1006.9,2134.4 L1008.3,2133.4 L1009.6,2134.0 L1011.0,2131.8 L1012.3,2130.0 L1013.7,2129.8 L1015.0,2131.3 L1016.4,2132.6 L1017.7,2131.9 L1019.1,2131.0 L1020.4,2129.1 L1021.8,2130.7 L1023.1,2130.0 L1024.5,2130.3 L1025.8,2131.3 L1027.2,2131.1 L1028.5,2130.8 L1029.9,2131.9 L1031.2,2138.5 L1032.6,2140.0 L1033.9,2143.1 L1035.3,2144.5 L1036.6,2146.8 L1038.0,2144.3 L1039.3,2143.6 L1040.7,2143.1 L1042.0,2142.2 L1043.4,2140.5 L1044.7,2136.7 L1046.1,2138.2 L1047.4,2132.5 L1048.8,2134.1 L1050.1,2129.7 L1051.5,2131.8 L1052.8,2127.2 L1054.2,2125.6 L1055.5,2124.6 L1056.9,2124.2 L1058.2,2122.6 L1059.6,2124.2 L1060.9,2121.5 L1062.3,2121.8 L1063.6,2119.3 L1065.0,2118.9 L1066.3,2118.3 L1067.7,2117.0 L1069.0,2115.7 L1070.4,2116.8 L1071.7,2117.3 L1073.1,2111.6 L1074.4,2112.6 L1075.8,2111.0 L1077.1,2113.6 L1078.5,2110.8 L1079.8,2108.6 L1081.2,2106.5 L1082.5,2107.9 L1083.9,2104.1 L1085.2,2101.1 L1086.6,2101.2 L1087.9,2097.8 L1089.3,2091.5 L1090.6,2090.6 L1092.0,2084.1 L1093.3,2076.5 L1094.7,2071.8 L1096.0,2066.7 L1097.4,2056.0 L1098.7,2048.5 L1100.1,2046.2 L1101.4,2039.9 L1102.8,2030.5 L1104.1,2023.0 L1105.5,2015.1 L1106.8,2008.4 L1108.2,2000.8 L1109.5,1996.8 L1110.9,1996.1 L1112.2,2000.4 L1113.6,2007.8 L1114.9,2013.3 L1116.3,2022.5 L1117.6,2033.0 L1119.0,2045.8 L1120.3,2057.0 L1121.7,2070.6 L1123.0,2080.8 L1124.4,2092.8 L1125.7,2102.2 L1127.1,2111.8 L1128.4,2123.3 L1129.8,2133.6 L1131.1,2139.9 L1132.5,2145.3 L1133.8,2150.6 L1135.2,2153.8 L1136.5,2158.0 L1137.9,2159.9 L1139.2,2165.1 L1140.6,2167.6 L1141.9,2174.0 L1143.3,2173.1 L1144.6,2171.7 L1146.0,2175.7 L1147.3,2177.2 L1148.7,2176.7 L1150.0,2179.8 L1151.4,2182.3 L1152.7,2183.8 L1154.1,2185.4 L1155.4,2186.8 L1156.8,2188.0 L1158.1,2186.0 L1159.5,2187.9 L1160.8,2189.0 L1162.2,2190.5 L1163.5,2193.6 L1164.9,2191.5 L1166.2,2194.8 L1167.6,2196.5 L1168.9,2195.1 L1170.3,2197.7 L1171.6,2198.1 L1173.0,2199.9 L1174.3,2197.3 L1175.7,2196.0 L1177.0,2193.8 L1178.4,2193.9 L1179.7,2195.0 L1181.1,2196.0 L1182.4,2192.8 L1183.8,2192.4 L1185.1,2189.3 L1186.5,2187.9 L1187.8,2186.3 L1189.2,2187.1 L1190.5,2184.7 L1191.9,2187.2 L1193.2,2185.3 L1194.6,2180.9 L1195.9,2181.6 L1197.3,2183.8 L1198.6,2180.8 L1200.0,2176.5 L1201.3,2180.2 L1202.7,2178.5 L1204.0,2175.1 L1205.4,2177.2 L1206.7,2175.1 L1208.1,2173.2 L1209.4,2172.5 L1210.8,2168.6 L1212.1,2166.5 L1213.5,2164.7 L1214.8,2158.5 L1216.2,2156.3 L1217.5,2154.8 L1218.9,2146.4 L1220.2,2140.8 L1221.6,2136.5 L1222.9,2133.5 L1224.3,2131.1 L1225.6,2124.1 L1227.0,2124.3 L1228.3,2119.5 L1229.7,2118.6 L1231.0,2116.0 L1232.4,2115.6 L1233.7,2114.5 L1235.1,2112.8 L1236.4,2108.0 L1237.8,2109.4 L1239.1,2106.8 L1240.5,2102.7 L1241.8,2099.2 L1243.2,2099.5 L1244.5,2093.4 L1245.9,2091.3 L1247.2,2089.0 L1248.6,2085.3 L1249.9,2080.4 L1251.3,2075.5 L1252.6,2075.6 L1254.0,2066.5 L1255.3,2065.4 L1256.7,2057.6 L1258.0,2050.4 L1259.4,2043.7 L1260.7,2037.2 L1262.1,2027.4 L1263.4,2014.4 L1264.8,2003.4 L1266.1,1993.6 L1267.5,1981.4 L1268.8,1972.3 L1270.2,1958.7 L1271.5,1947.6 L1272.9,1930.0 L1274.2,1920.5 L1275.6,1904.7 L1276.9,1890.8 L1278.3,1882.6 L1279.6,1869.5 L1281.0,1861.4 L1282.3,1852.3 L1283.7,1849.8 L1285.0,1848.5 L1286.4,1846.9 L1287.7,1845.1 L1289.1,1851.4 L1290.4,1856.8 L1291.8,1863.4 L1293.1,1872.0 L1294.5,1879.3 L1295.8,1891.5 L1297.2,1911.0 L1298.5,1922.6 L1299.9,1941.2 L1301.2,1956.5 L1302.6,1968.6 L1303.9,1980.4 L1305.3,1995.5 L1306.6,2011.8 L1308.0,2024.9 L1309.3,2037.3 L1310.7,2051.0 L1312.0,2058.6 L1313.4,2072.3 L1314.7,2081.4 L1316.1,2092.9 L1317.4,2101.5 L1318.8,2111.4 L1320.1,2122.8 L1321.5,2128.7 L1322.8,2130.8 L1324.2,2142.5 L1325.5,2146.2 L1326.9,2155.1 L1328.2,2162.7 L1329.6,2162.3 L1330.9,2166.5 L1332.3,2170.0 L1333.6,2174.3 L1335.0,2177.2 L1336.3,2180.3 L1337.7,2181.1 L1339.0,2187.3 L1340.4,2185.9 L1341.7,2190.2 L1343.1,2193.0 L1344.4,2195.0 L1345.8,2193.3 L1347.1,2194.1 L1348.5,2196.2 L1349.8,2199.0 L1351.2,2203.4 L1352.5,2198.6 L1353.9,2200.2 L1355.2,2203.6 L1356.6,2206.1 L1357.9,2207.4 L1359.3,2209.6 L1360.6,2209.5 L1362.0,2212.2 L1363.3,2213.0 L1364.7,2216.4 L1366.0,2211.1 L1367.4,2216.1 L1368.7,2215.6 L1370.1,2216.0 L1371.4,2215.7 L1372.8,2213.0 L1374.1,2215.2 L1375.5,2214.6 L1376.8,2214.9 L1378.2,2211.4 L1379.5,2215.7 L1380.9,2215.3 L1382.2,2215.1 L1383.6,2213.6 L1384.9,2213.2 L1386.3,2212.6 L1387.6,2212.2 L1389.0,2213.2 L1390.3,2213.7 L1391.7,2211.3 L1393.0,2211.8 L1394.4,2211.2 L1395.7,2212.9 L1397.1,2214.7 L1398.4,2213.9 L1399.8,2213.1 L1401.1,2211.1 L1402.5,2211.2 L1403.8,2210.9 L1405.2,2215.2 L1406.5,2212.8 L1407.9,2215.4 L1409.2,2215.3 L1410.6,2216.2 L1411.9,2218.6 L1413.3,2214.2 L1414.6,2213.8 L1416.0,2214.2 L1417.3,2217.0 L1418.7,2214.3 L1420.0,2214.2 L1421.4,2212.7 L1422.7,2212.9 L1424.1,2215.4 L1425.4,2219.0 L1426.8,2215.6 L1428.1,2217.6 L1429.5,2217.3 L1430.8,2216.4 L1432.2,2216.7 L1433.5,2215.4 L1434.9,2215.1 L1436.2,2218.4 L1437.6,2213.2 L1438.9,2218.9 L1440.3,2218.6 L1441.6,2216.3 L1443.0,2216.7 L1444.3,2217.1 L1445.7,2216.5 L1447.0,2216.2 L1448.4,2216.8 L1449.7,2214.1 L1451.1,2218.0 L1452.4,2217.5 L1453.8,2214.4 L1455.1,2214.5 L1456.5,2211.4 L1457.8,2212.9 L1459.2,2211.8 L1460.5,2212.4 L1461.9,2212.6 L1463.2,2208.2 L1464.6,2210.9 L1465.9,2208.1 L1467.3,2208.7 L1468.6,2208.7 L1470.0,2206.7 L1471.3,2206.5 L1472.7,2212.4 L1474.0,2208.5 L1475.4,2205.5 L1476.7,2203.8 L1478.1,2206.4 L1479.4,2208.5 L1480.8,2205.2 L1482.1,2201.9 L1483.5,2202.9 L1484.8,2205.4 L1486.2,2201.0 L1487.5,2201.9 L1488.9,2200.2 L1490.2,2197.9 L1491.6,2197.3 L1492.9,2197.7 L1494.3,2199.1 L1495.6,2194.5 L1497.0,2198.4 L1498.3,2195.9 L1499.7,2192.1 L1501.0,2192.1 L1502.4,2192.5 L1503.7,2189.2 L1505.1,2185.6 L1506.4,2185.8 L1507.8,2187.1 L1509.1,2187.4 L1510.5,2183.3 L1511.8,2179.7 L1513.2,2175.8 L1514.5,2173.3 L1515.9,2169.9 L1517.2,2164.3 L1518.6,2160.1 L1519.9,2158.7 L1521.3,2153.1 L1522.6,2147.6 L1524.0,2147.3 L1525.3,2144.1 L1526.7,2145.2 L1528.0,2142.1 L1529.4,2140.1 L1530.7,2141.3 L1532.1,2141.1 L1533.4,2139.1 L1534.8,2140.8 L1536.1,2144.9 L1537.5,2142.7 L1538.8,2142.9 L1540.2,2142.9 L1541.5,2146.2 L1542.9,2145.8 L1544.2,2147.9 L1545.6,2150.0 L1546.9,2154.2 L1548.3,2160.7 L1549.6,2165.3 L1551.0,2167.7 L1552.3,2173.8 L1553.7,2176.3 L1555.0,2178.1 L1556.4,2183.6 L1557.7,2184.5 L1559.1,2191.3 L1560.4,2192.2 L1561.8,2193.1 L1563.1,2195.8 L1564.5,2196.8 L1565.8,2199.6 L1567.2,2201.0 L1568.5,2202.9 L1569.9,2202.8 L1571.2,2200.0 L1572.6,2206.5 L1573.9,2202.6 L1575.3,2205.4 L1576.6,2206.9 L1578.0,2206.5 L1579.3,2205.8 L1580.7,2207.1 L1582.0,2207.3 L1583.4,2204.3 L1584.7,2204.4 L1586.1,2204.3 L1587.4,2207.8 L1588.8,2208.6 L1590.1,2210.6 L1591.5,2207.3 L1592.8,2206.8 L1594.2,2209.0 L1595.5,2210.8 L1596.9,2210.1 L1598.2,2210.0 L1599.6,2210.8 L1600.9,2210.9 L1602.3,2212.6 L1603.6,2209.4 L1605.0,2209.9 L1606.3,2211.6 L1607.7,2210.0 L1609.0,2209.9 L1610.4,2208.8 L1611.7,2212.5 L1613.1,2210.8 L1614.4,2212.9 L1615.8,2211.4 L1617.1,2207.9 L1618.5,2208.6 L1619.8,2211.4 L1621.2,2212.4 L1622.5,2210.9 L1623.9,2208.3 L1625.2,2207.1 L1626.6,2208.5 L1627.9,2208.7 L1629.3,2212.6 L1630.6,2211.7 L1632.0,2213.7 L1633.3,2211.8 L1634.7,2210.5 L1636.0,2209.6 L1637.4,2205.5 L1638.7,2208.4 L1640.1,2208.2 L1641.4,2212.3 L1642.8,2210.9 L1644.1,2209.3 L1645.5,2210.6 L1646.8,2211.0 L1648.2,2211.2 L1649.5,2208.0 L1650.9,2209.3 L1652.2,2207.9 L1653.6,2210.3 L1654.9,2209.7" fill="none" stroke="#000" stroke-width="3.1" stroke-linejoin="round" stroke-linecap="round"/>
<path d="M56.5,2849.9 L57.5,2853.2 L58.5,2856.1 L59.5,2858.7 L60.5,2860.8 L61.5,2862.7 L62.5,2864.4 L63.5,2865.8 L64.5,2867.1 L65.5,2868.2 L66.5,2869.1 L67.5,2870.0 L68.5,2870.7 L69.5,2871.4 L70.5,2872.0 L71.5,2872.6 L72.5,2873.1 L73.5,2873.5 L74.5,2873.9 L75.5,2874.2 L76.5,2874.5 L77.5,2874.8 L78.5,2875.1 L79.5,2875.3 L80.5,2875.5 L81.5,2875.7 L82.5,2875.8 L83.5,2876.0 L84.5,2876.1 L85.5,2876.2 L86.5,2876.3 L87.5,2876.4 L88.5,2876.5 L89.5,2876.5 L90.5,2876.5 L91.5,2876.6 L92.5,2876.6 L93.5,2876.6 L94.5,2876.5 L95.5,2876.5 L96.5,2876.4 L97.5,2876.4 L98.5,2876.3 L99.5,2876.2 L100.5,2876.0 L101.5,2875.9 L102.5,2875.7 L103.5,2875.5 L104.5,2875.3 L105.5,2875.0 L106.5,2874.7 L107.5,2874.3 L108.5,2873.9 L109.5,2873.4 L110.5,2872.8 L111.5,2872.1 L112.5,2871.4 L113.5,2870.5 L114.5,2869.5 L115.5,2868.3 L116.5,2866.9 L117.5,2865.4 L118.5,2863.5 L119.5,2861.4 L120.5,2859.1 L121.5,2856.5 L122.5,2853.8 L123.5,2851.1 L124.5,2848.6 L125.5,2846.6 L126.5,2845.3 L127.5,2845.0 L128.5,2845.8 L129.5,2847.4 L130.5,2849.7 L131.5,2852.3 L132.5,2855.1 L133.5,2857.8 L134.5,2860.3 L135.5,2862.6 L136.5,2864.6 L137.5,2866.4 L138.5,2867.9 L139.5,2869.3 L140.5,2870.4 L141.5,2871.4 L142.5,2872.3 L143.5,2873.0 L144.5,2873.7 L145.5,2874.3 L146.5,2874.8 L147.5,2875.3 L148.5,2875.7 L149.5,2876.0 L150.5,2876.3 L151.5,2876.6 L152.5,2876.9 L153.5,2877.1 L154.5,2877.3 L155.5,2877.5 L156.5,2877.7 L157.5,2877.9 L158.5,2878.0 L159.5,2878.1 L160.5,2878.2 L161.5,2878.4 L162.5,2878.5 L163.5,2878.6 L164.5,2878.6 L165.5,2878.7 L166.5,2878.8 L167.5,2878.9 L168.5,2878.9 L169.5,2879.0 L170.5,2879.0 L171.5,2879.1 L172.5,2879.1 L173.5,2879.2 L174.5,2879.2 L175.5,2879.2 L176.5,2879.3 L177.5,2879.3 L178.5,2879.3 L179.5,2879.3 L180.5,2879.4 L181.5,2879.4 L182.5,2879.4 L183.5,2879.4 L184.5,2879.4 L185.5,2879.4 L186.5,2879.4 L187.5,2879.4 L188.5,2879.4 L189.5,2879.4 L190.5,2879.4 L191.5,2879.4 L192.5,2879.3 L193.5,2879.3 L194.5,2879.3 L195.5,2879.2 L196.5,2879.2 L197.5,2879.1 L198.5,2879.1 L199.5,2879.0 L200.5,2878.9 L201.5,2878.8 L202.5,2878.7 L203.5,2878.5 L204.5,2878.4 L205.5,2878.2 L206.5,2878.0 L207.5,2877.7 L208.5,2877.4 L209.5,2877.1 L210.5,2876.7 L211.5,2876.3 L212.5,2875.8 L213.5,2875.3 L214.5,2874.8 L215.5,2874.4 L216.5,2874.1 L217.5,2874.0 L218.5,2874.0 L219.5,2874.3 L220.5,2874.6 L221.5,2875.0 L222.5,2875.5 L223.5,2876.0 L224.5,2876.4 L225.5,2876.9 L226.5,2877.2 L227.5,2877.6 L228.5,2877.8 L229.5,2878.1 L230.5,2878.3 L231.5,2878.5 L232.5,2878.6 L233.5,2878.7 L234.5,2878.9 L235.5,2878.9 L236.5,2879.0 L237.5,2879.1 L238.5,2879.1 L239.5,2879.2 L240.5,2879.2 L241.5,2879.3 L242.5,2879.3 L243.5,2879.3 L244.5,2879.3 L245.5,2879.3 L246.5,2879.3 L247.5,2879.2 L248.5,2879.2 L249.5,2879.2 L250.5,2879.1 L251.5,2879.1 L252.5,2879.0 L253.5,2878.9 L254.5,2878.8 L255.5,2878.7 L256.5,2878.6 L257.5,2878.4 L258.5,2878.3 L259.5,2878.1 L260.5,2877.8 L261.5,2877.5 L262.5,2877.2 L263.5,2876.8 L264.5,2876.4 L265.5,2875.9 L266.5,2875.4 L267.5,2874.8 L268.5,2874.2 L269.5,2873.6 L270.5,2873.2 L271.5,2872.8 L272.5,2872.7 L273.5,2872.8 L274.5,2873.1 L275.5,2873.5 L276.5,2874.1 L277.5,2874.7 L278.5,2875.3 L279.5,2875.8 L280.5,2876.3 L281.5,2876.8 L282.5,2877.2 L283.5,2877.5 L284.5,2877.8 L285.5,2878.1 L286.5,2878.3 L287.5,2878.5 L288.5,2878.7 L289.5,2878.8 L290.5,2878.9 L291.5,2879.0 L292.5,2879.1 L293.5,2879.2 L294.5,2879.3 L295.5,2879.4 L296.5,2879.4 L297.5,2879.5 L298.5,2879.5 L299.5,2879.5 L300.5,2879.6 L301.5,2879.6 L302.5,2879.6 L303.5,2879.7 L304.5,2879.7 L305.5,2879.7 L306.5,2879.7 L307.5,2879.7 L308.5,2879.7 L309.5,2879.7 L310.5,2879.7 L311.5,2879.7 L312.5,2879.7 L313.5,2879.7 L314.5,2879.7 L315.5,2879.7 L316.5,2879.7 L317.5,2879.7 L318.5,2879.7 L319.5,2879.6 L320.5,2879.6 L321.5,2879.6 L322.5,2879.6 L323.5,2879.6 L324.5,2879.5 L325.5,2879.5 L326.5,2879.5 L327.5,2879.4 L328.5,2879.4 L329.5,2879.3 L330.5,2879.3 L331.5,2879.2 L332.5,2879.2 L333.5,2879.1 L334.5,2879.0 L335.5,2879.0 L336.5,2878.9 L337.5,2878.8 L338.5,2878.7 L339.5,2878.6 L340.5,2878.4 L341.5,2878.3 L342.5,2878.2 L343.5,2878.0 L344.5,2877.8 L345.5,2877.6 L346.5,2877.4 L347.5,2877.1 L348.5,2876.8 L349.5,2876.5 L350.5,2876.1 L351.5,2875.7 L352.5,2875.2 L353.5,2874.6 L354.5,2874.0 L355.5,2873.3 L356.5,2872.4 L357.5,2871.5 L358.5,2870.3 L359.5,2869.0 L360.5,2867.5 L361.5,2865.9 L362.5,2864.0 L363.5,2862.0 L364.5,2860.0 L365.5,2858.0 L366.5,2856.3 L367.5,2855.1 L368.5,2854.6 L369.5,2854.8 L370.5,2855.8 L371.5,2857.3 L372.5,2859.2 L373.5,2861.2 L374.5,2863.2 L375.5,2865.1 L376.5,2866.9 L377.5,2868.4 L378.5,2869.8 L379.5,2871.0 L380.5,2872.0 L381.5,2872.9 L382.5,2873.7 L383.5,2874.4 L384.5,2875.0 L385.5,2875.5 L386.5,2875.9 L387.5,2876.3 L388.5,2876.6 L389.5,2877.0 L390.5,2877.2 L391.5,2877.5 L392.5,2877.7 L393.5,2877.9 L394.5,2878.0 L395.5,2878.2 L396.5,2878.3 L397.5,2878.5 L398.5,2878.6 L399.5,2878.7 L400.5,2878.8 L401.5,2878.9 L402.5,2878.9 L403.5,2879.0 L404.5,2879.1 L405.5,2879.1 L406.5,2879.2 L407.5,2879.2 L408.5,2879.3 L409.5,2879.3 L410.5,2879.4 L411.5,2879.4 L412.5,2879.4 L413.5,2879.5 L414.5,2879.5 L415.5,2879.5 L416.5,2879.5 L417.5,2879.6 L418.5,2879.6 L419.5,2879.6 L420.5,2879.6 L421.5,2879.6 L422.5,2879.6 L423.5,2879.6 L424.5,2879.7 L425.5,2879.7 L426.5,2879.7 L427.5,2879.7 L428.5,2879.7 L429.5,2879.7 L430.5,2879.7 L431.5,2879.7 L432.5,2879.7 L433.5,2879.7 L434.5,2879.7 L435.5,2879.6 L436.5,2879.6 L437.5,2879.6 L438.5,2879.6 L439.5,2879.6 L440.5,2879.6 L441.5,2879.6 L442.5,2879.5 L443.5,2879.5 L444.5,2879.5 L445.5,2879.5 L446.5,2879.4 L447.5,2879.4 L448.5,2879.4 L449.5,2879.3 L450.5,2879.3 L451.5,2879.2 L452.5,2879.2 L453.5,2879.1 L454.5,2879.0 L455.5,2879.0 L456.5,2878.9 L457.5,2878.8 L458.5,2878.7 L459.5,2878.6 L460.5,2878.4 L461.5,2878.3 L462.5,2878.1 L463.5,2878.0 L464.5,2877.8 L465.5,2877.5 L466.5,2877.2 L467.5,2876.9 L468.5,2876.6 L469.5,2876.2 L470.5,2875.7 L471.5,2875.1 L472.5,2874.5 L473.5,2873.8 L474.5,2873.0 L475.5,2872.1 L476.5,2871.2 L477.5,2870.2 L478.5,2869.3 L479.5,2868.5 L480.5,2867.9 L481.5,2867.7 L482.5,2867.8 L483.5,2868.3 L484.5,2869.0 L485.5,2869.9 L486.5,2870.8 L487.5,2871.8 L488.5,2872.6 L489.5,2873.4 L490.5,2874.1 L491.5,2874.8 L492.5,2875.3 L493.5,2875.8 L494.5,2876.2 L495.5,2876.5 L496.5,2876.8 L497.5,2877.0 L498.5,2877.2 L499.5,2877.4 L500.5,2877.6 L501.5,2877.7 L502.5,2877.8 L503.5,2877.9 L504.5,2878.0 L505.5,2878.1 L506.5,2878.1 L507.5,2878.2 L508.5,2878.2 L509.5,2878.2 L510.5,2878.2 L511.5,2878.2 L512.5,2878.2 L513.5,2878.2 L514.5,2878.2 L515.5,2878.2 L516.5,2878.2 L517.5,2878.1 L518.5,2878.1 L519.5,2878.0 L520.5,2878.0 L521.5,2877.9 L522.5,2877.8 L523.5,2877.7 L524.5,2877.6 L525.5,2877.5 L526.5,2877.4 L527.5,2877.3 L528.5,2877.2 L529.5,2877.0 L530.5,2876.8 L531.5,2876.6 L532.5,2876.4 L533.5,2876.2 L534.5,2875.9 L535.5,2875.6 L536.5,2875.3 L537.5,2874.9 L538.5,2874.5 L539.5,2874.0 L540.5,2873.5 L541.5,2872.9 L542.5,2872.2 L543.5,2871.3 L544.5,2870.4 L545.5,2869.3 L546.5,2868.1 L547.5,2866.7 L548.5,2865.1 L549.5,2863.3 L550.5,2861.3 L551.5,2859.2 L552.5,2857.1 L553.5,2855.1 L554.5,2853.5 L555.5,2852.4 L556.5,2852.0 L557.5,2852.3 L558.5,2853.4 L559.5,2854.9 L560.5,2856.7 L561.5,2858.6 L562.5,2860.5 L563.5,2862.2 L564.5,2863.7 L565.5,2865.0 L566.5,2866.1 L567.5,2867.1 L568.5,2867.8 L569.5,2868.4 L570.5,2868.9 L571.5,2869.2 L572.5,2869.5 L573.5,2869.6 L574.5,2869.6 L575.5,2869.6 L576.5,2869.4 L577.5,2869.2 L578.5,2868.9 L579.5,2868.4 L580.5,2867.9 L581.5,2867.3 L582.5,2866.5 L583.5,2865.6 L584.5,2864.6 L585.5,2863.4 L586.5,2862.0 L587.5,2860.3 L588.5,2858.4 L589.5,2856.2 L590.5,2853.6 L591.5,2850.5 L592.5,2847.1 L593.5,2843.0 L594.5,2838.4 L595.5,2833.2 L596.5,2827.5 L597.5,2821.4 L598.5,2815.1 L599.5,2809.3 L600.5,2804.4 L601.5,2801.1 L602.5,2800.0 L603.5,2801.2 L604.5,2804.5 L605.5,2809.4 L606.5,2815.3 L607.5,2821.6 L608.5,2827.8 L609.5,2833.6 L610.5,2838.8 L611.5,2843.5 L612.5,2847.6 L613.5,2851.2 L614.5,2854.3 L615.5,2856.9 L616.5,2859.3 L617.5,2861.3 L618.5,2863.0 L619.5,2864.5 L620.5,2865.9 L621.5,2867.1 L622.5,2868.1 L623.5,2869.0 L624.5,2869.8 L625.5,2870.5 L626.5,2871.2 L627.5,2871.8 L628.5,2872.3 L629.5,2872.7 L630.5,2873.2 L631.5,2873.5 L632.5,2873.9 L633.5,2874.2 L634.5,2874.5 L635.5,2874.7 L636.5,2875.0 L637.5,2875.2 L638.5,2875.3 L639.5,2875.5 L640.5,2875.7 L641.5,2875.8 L642.5,2875.9 L643.5,2876.1 L644.5,2876.2 L645.5,2876.3 L646.5,2876.3 L647.5,2876.4 L648.5,2876.5 L649.5,2876.5 L650.5,2876.6 L651.5,2876.6 L652.5,2876.6 L653.5,2876.6 L654.5,2876.7 L655.5,2876.7 L656.5,2876.7 L657.5,2876.7 L658.5,2876.6 L659.5,2876.6 L660.5,2876.6 L661.5,2876.5 L662.5,2876.5 L663.5,2876.4 L664.5,2876.3 L665.5,2876.3 L666.5,2876.2 L667.5,2876.1 L668.5,2876.0 L669.5,2875.8 L670.5,2875.7 L671.5,2875.5 L672.5,2875.4 L673.5,2875.2 L674.5,2874.9 L675.5,2874.7 L676.5,2874.5 L677.5,2874.2 L678.5,2873.9 L679.5,2873.5 L680.5,2873.1 L681.5,2872.7 L682.5,2872.2 L683.5,2871.7 L684.5,2871.1 L685.5,2870.5 L686.5,2869.8 L687.5,2868.9 L688.5,2868.0 L689.5,2866.9 L690.5,2865.8 L691.5,2864.4 L692.5,2862.8 L693.5,2861.1 L694.5,2859.0 L695.5,2856.6 L696.5,2853.9 L697.5,2850.7 L698.5,2847.1 L699.5,2842.9 L700.5,2838.1 L701.5,2832.8 L702.5,2826.8 L703.5,2820.5 L704.5,2814.1 L705.5,2808.1 L706.5,2803.1 L707.5,2799.7 L708.5,2798.5 L709.5,2799.7 L710.5,2803.1 L711.5,2808.1 L712.5,2814.2 L713.5,2820.6 L714.5,2826.9 L715.5,2832.9 L716.5,2838.2 L717.5,2843.0 L718.5,2847.2 L719.5,2850.9 L720.5,2854.0 L721.5,2856.8 L722.5,2859.2 L723.5,2861.2 L724.5,2863.0 L725.5,2864.6 L726.5,2866.0 L727.5,2867.2 L728.5,2868.3 L729.5,2869.2 L730.5,2870.0 L731.5,2870.8 L732.5,2871.5 L733.5,2872.1 L734.5,2872.6 L735.5,2873.1 L736.5,2873.5 L737.5,2873.9 L738.5,2874.3 L739.5,2874.6 L740.5,2874.9 L741.5,2875.2 L742.5,2875.5 L743.5,2875.7 L744.5,2875.9 L745.5,2876.1 L746.5,2876.3 L747.5,2876.5 L748.5,2876.6 L749.5,2876.8 L750.5,2876.9 L751.5,2877.0 L752.5,2877.2 L753.5,2877.3 L754.5,2877.4 L755.5,2877.5 L756.5,2877.5 L757.5,2877.6 L758.5,2877.7 L759.5,2877.8 L760.5,2877.8 L761.5,2877.9 L762.5,2878.0 L763.5,2878.0 L764.5,2878.1 L765.5,2878.1 L766.5,2878.1 L767.5,2878.2 L768.5,2878.2 L769.5,2878.2 L770.5,2878.3 L771.5,2878.3 L772.5,2878.3 L773.5,2878.3 L774.5,2878.4 L775.5,2878.4 L776.5,2878.4 L777.5,2878.4 L778.5,2878.4 L779.5,2878.4 L780.5,2878.4 L781.5,2878.4 L782.5,2878.4 L783.5,2878.4 L784.5,2878.4 L785.5,2878.4 L786.5,2878.4 L787.5,2878.4 L788.5,2878.4 L789.5,2878.3 L790.5,2878.3 L791.5,2878.3 L792.5,2878.3 L793.5,2878.2 L794.5,2878.2 L795.5,2878.1 L796.5,2878.1 L797.5,2878.0 L798.5,2878.0 L799.5,2877.9 L800.5,2877.9 L801.5,2877.8 L802.5,2877.7 L803.5,2877.6 L804.5,2877.5 L805.5,2877.4 L806.5,2877.3 L807.5,2877.2 L808.5,2877.0 L809.5,2876.9 L810.5,2876.7 L811.5,2876.5 L812.5,2876.3 L813.5,2876.1 L814.5,2875.8 L815.5,2875.5 L816.5,2875.2 L817.5,2874.8 L818.5,2874.3 L819.5,2873.9 L820.5,2873.3 L821.5,2872.7 L822.5,2871.9 L823.5,2871.1 L824.5,2870.1 L825.5,2869.0 L826.5,2867.8 L827.5,2866.4 L828.5,2864.8 L829.5,2863.1 L830.5,2861.5 L831.5,2859.9 L832.5,2858.5 L833.5,2857.5 L834.5,2857.0 L835.5,2857.1 L836.5,2857.7 L837.5,2858.6 L838.5,2859.8 L839.5,2861.0 L840.5,2862.2 L841.5,2863.3 L842.5,2864.1 L843.5,2864.7 L844.5,2865.1 L845.5,2865.3 L846.5,2865.3 L847.5,2865.1 L848.5,2864.6 L849.5,2863.9 L850.5,2863.0 L851.5,2861.8 L852.5,2860.5 L853.5,2858.9 L854.5,2857.3 L855.5,2855.7 L856.5,2854.2 L857.5,2853.2 L858.5,2852.7 L859.5,2852.9 L860.5,2853.7 L861.5,2854.9 L862.5,2856.5 L863.5,2858.2 L864.5,2859.9 L865.5,2861.5 L866.5,2863.0 L867.5,2864.2 L868.5,2865.2 L869.5,2866.0 L870.5,2866.7 L871.5,2867.2 L872.5,2867.5 L873.5,2867.7 L874.5,2867.8 L875.5,2867.7 L876.5,2867.5 L877.5,2867.1 L878.5,2866.6 L879.5,2865.9 L880.5,2865.1 L881.5,2864.0 L882.5,2862.8 L883.5,2861.3 L884.5,2859.5 L885.5,2857.4 L886.5,2855.0 L887.5,2852.2 L888.5,2849.2 L889.5,2846.0 L890.5,2842.7 L891.5,2839.6 L892.5,2837.1 L893.5,2835.5 L894.5,2835.0 L895.5,2835.8 L896.5,2837.7 L897.5,2840.4 L898.5,2843.6 L899.5,2847.0 L900.5,2850.2 L901.5,2853.3 L902.5,2856.1 L903.5,2858.5 L904.5,2860.6 L905.5,2862.5 L906.5,2864.0 L907.5,2865.4 L908.5,2866.5 L909.5,2867.5 L910.5,2868.3 L911.5,2869.0 L912.5,2869.5 L913.5,2870.0 L914.5,2870.4 L915.5,2870.6 L916.5,2870.8 L917.5,2870.9 L918.5,2870.9 L919.5,2870.9 L920.5,2870.7 L921.5,2870.5 L922.5,2870.1 L923.5,2869.7 L924.5,2869.1 L925.5,2868.4 L926.5,2867.6 L927.5,2866.6 L928.5,2865.4 L929.5,2864.2 L930.5,2862.9 L931.5,2861.6 L932.5,2860.4 L933.5,2859.5 L934.5,2859.0 L935.5,2859.1 L936.5,2859.7 L937.5,2860.6 L938.5,2861.9 L939.5,2863.3 L940.5,2864.8 L941.5,2866.2 L942.5,2867.4 L943.5,2868.5 L944.5,2869.5 L945.5,2870.4 L946.5,2871.1 L947.5,2871.8 L948.5,2872.3 L949.5,2872.7 L950.5,2873.1 L951.5,2873.4 L952.5,2873.7 L953.5,2873.9 L954.5,2874.1 L955.5,2874.3 L956.5,2874.4 L957.5,2874.5 L958.5,2874.5 L959.5,2874.5 L960.5,2874.5 L961.5,2874.5 L962.5,2874.4 L963.5,2874.3 L964.5,2874.2 L965.5,2874.1 L966.5,2873.9 L967.5,2873.7 L968.5,2873.5 L969.5,2873.2 L970.5,2872.9 L971.5,2872.6 L972.5,2872.1 L973.5,2871.7 L974.5,2871.1 L975.5,2870.5 L976.5,2869.8 L977.5,2869.0 L978.5,2868.1 L979.5,2867.0 L980.5,2865.7 L981.5,2864.3 L982.5,2862.6 L983.5,2860.7 L984.5,2858.5 L985.5,2856.0 L986.5,2853.1 L987.5,2849.9 L988.5,2846.4 L989.5,2842.7 L990.5,2839.2 L991.5,2836.0 L992.5,2833.5 L993.5,2832.2 L994.5,2832.2 L995.5,2833.5 L996.5,2835.8 L997.5,2839.0 L998.5,2842.5 L999.5,2846.1 L1000.5,2849.6 L1001.5,2852.7 L1002.5,2855.5 L1003.5,2858.0 L1004.5,2860.2 L1005.5,2862.1 L1006.5,2863.7 L1007.5,2865.1 L1008.5,2866.2 L1009.5,2867.3 L1010.5,2868.1 L1011.5,2868.9 L1012.5,2869.5 L1013.5,2870.1 L1014.5,2870.6 L1015.5,2871.0 L1016.5,2871.3 L1017.5,2871.6 L1018.5,2871.9 L1019.5,2872.1 L1020.5,2872.2 L1021.5,2872.4 L1022.5,2872.4 L1023.5,2872.5 L1024.5,2872.5 L1025.5,2872.6 L1026.5,2872.5 L1027.5,2872.5 L1028.5,2872.4 L1029.5,2872.3 L1030.5,2872.2 L1031.5,2872.0 L1032.5,2871.9 L1033.5,2871.6 L1034.5,2871.4 L1035.5,2871.1 L1036.5,2870.8 L1037.5,2870.5 L1038.5,2870.1 L1039.5,2869.7 L1040.5,2869.2 L1041.5,2868.7 L1042.5,2868.1 L1043.5,2867.4 L1044.5,2866.7 L1045.5,2865.9 L1046.5,2865.0 L1047.5,2864.0 L1048.5,2862.8 L1049.5,2861.5 L1050.5,2860.1 L1051.5,2858.4 L1052.5,2856.5 L1053.5,2854.4 L1054.5,2852.0 L1055.5,2849.2 L1056.5,2845.9 L1057.5,2842.2 L1058.5,2838.0 L1059.5,2833.1 L1060.5,2827.6 L1061.5,2821.4 L1062.5,2814.5 L1063.5,2807.1 L1064.5,2799.4 L1065.5,2792.0 L1066.5,2785.3 L1067.5,2780.0 L1068.5,2776.6 L1069.5,2775.2 L1070.5,2775.7 L1071.5,2777.3 L1072.5,2779.4 L1073.5,2781.4 L1074.5,2782.8 L1075.5,2783.4 L1076.5,2783.2 L1077.5,2782.5 L1078.5,2781.8 L1079.5,2781.8 L1080.5,2782.9 L1081.5,2785.6 L1082.5,2789.9 L1083.5,2795.6 L1084.5,2802.2 L1085.5,2809.1 L1086.5,2815.9 L1087.5,2822.4 L1088.5,2828.3 L1089.5,2833.5 L1090.5,2838.1 L1091.5,2842.2 L1092.5,2845.7 L1093.5,2848.7 L1094.5,2851.4 L1095.5,2853.6 L1096.5,2855.6 L1097.5,2857.3 L1098.5,2858.8 L1099.5,2860.1 L1100.5,2861.3 L1101.5,2862.2 L1102.5,2863.1 L1103.5,2863.8 L1104.5,2864.4 L1105.5,2864.9 L1106.5,2865.3 L1107.5,2865.6 L1108.5,2865.8 L1109.5,2866.0 L1110.5,2866.0 L1111.5,2866.0 L1112.5,2865.9 L1113.5,2865.7 L1114.5,2865.4 L1115.5,2865.0 L1116.5,2864.4 L1117.5,2863.8 L1118.5,2862.9 L1119.5,2861.9 L1120.5,2860.8 L1121.5,2859.4 L1122.5,2857.7 L1123.5,2855.7 L1124.5,2853.4 L1125.5,2850.7 L1126.5,2847.6 L1127.5,2844.1 L1128.5,2840.2 L1129.5,2836.0 L1130.5,2831.8 L1131.5,2827.8 L1132.5,2824.5 L1133.5,2822.2 L1134.5,2821.5 L1135.5,2822.4 L1136.5,2824.7 L1137.5,2828.1 L1138.5,2832.2 L1139.5,2836.6 L1140.5,2840.9 L1141.5,2844.9 L1142.5,2848.5 L1143.5,2851.7 L1144.5,2854.5 L1145.5,2856.9 L1146.5,2859.0 L1147.5,2860.7 L1148.5,2862.2 L1149.5,2863.4 L1150.5,2864.5 L1151.5,2865.3 L1152.5,2866.0 L1153.5,2866.5 L1154.5,2866.8 L1155.5,2867.1 L1156.5,2867.3 L1157.5,2867.4 L1158.5,2867.5 L1159.5,2867.6 L1160.5,2867.8 L1161.5,2868.2 L1162.5,2868.7 L1163.5,2869.2 L1164.5,2869.9 L1165.5,2870.5 L1166.5,2871.2 L1167.5,2871.8 L1168.5,2872.4 L1169.5,2872.9 L1170.5,2873.3 L1171.5,2873.7 L1172.5,2874.1 L1173.5,2874.4 L1174.5,2874.7 L1175.5,2874.9 L1176.5,2875.2 L1177.5,2875.4 L1178.5,2875.5 L1179.5,2875.7 L1180.5,2875.8 L1181.5,2876.0 L1182.5,2876.1 L1183.5,2876.2 L1184.5,2876.3 L1185.5,2876.4 L1186.5,2876.4 L1187.5,2876.5 L1188.5,2876.6 L1189.5,2876.6 L1190.5,2876.7 L1191.5,2876.7 L1192.5,2876.7 L1193.5,2876.8 L1194.5,2876.8 L1195.5,2876.8 L1196.5,2876.8 L1197.5,2876.8 L1198.5,2876.9 L1199.5,2876.9 L1200.5,2876.9 L1201.5,2876.8 L1202.5,2876.8 L1203.5,2876.8 L1204.5,2876.8 L1205.5,2876.8 L1206.5,2876.7 L1207.5,2876.7 L1208.5,2876.7 L1209.5,2876.6 L1210.5,2876.6 L1211.5,2876.5 L1212.5,2876.5 L1213.5,2876.4 L1214.5,2876.3 L1215.5,2876.3 L1216.5,2876.2 L1217.5,2876.1 L1218.5,2876.0 L1219.5,2875.9 L1220.5,2875.8 L1221.5,2875.7 L1222.5,2875.5 L1223.5,2875.4 L1224.5,2875.2 L1225.5,2875.0 L1226.5,2874.9 L1227.5,2874.7 L1228.5,2874.4 L1229.5,2874.2 L1230.5,2873.9 L1231.5,2873.7 L1232.5,2873.3 L1233.5,2873.0 L1234.5,2872.6 L1235.5,2872.2 L1236.5,2871.8 L1237.5,2871.3 L1238.5,2870.7 L1239.5,2870.1 L1240.5,2869.5 L1241.5,2868.7 L1242.5,2867.8 L1243.5,2866.9 L1244.5,2865.8 L1245.5,2864.6 L1246.5,2863.2 L1247.5,2861.6 L1248.5,2859.8 L1249.5,2857.7 L1250.5,2855.3 L1251.5,2852.5 L1252.5,2849.3 L1253.5,2845.7 L1254.5,2841.4 L1255.5,2836.6 L1256.5,2831.2 L1257.5,2825.2 L1258.5,2818.9 L1259.5,2812.4 L1260.5,2806.3 L1261.5,2801.2 L1262.5,2797.8 L1263.5,2796.6 L1264.5,2797.8 L1265.5,2801.1 L1266.5,2806.2 L1267.5,2812.2 L1268.5,2818.6 L1269.5,2824.9 L1270.5,2830.9 L1271.5,2836.2 L1272.5,2841.0 L1273.5,2845.2 L1274.5,2848.8 L1275.5,2852.0 L1276.5,2854.7 L1277.5,2857.0 L1278.5,2859.1 L1279.5,2860.8 L1280.5,2862.4 L1281.5,2863.7 L1282.5,2864.9 L1283.5,2865.9 L1284.5,2866.8 L1285.5,2867.6 L1286.5,2868.3 L1287.5,2868.9 L1288.5,2869.4 L1289.5,2869.9 L1290.5,2870.4 L1291.5,2870.7 L1292.5,2871.1 L1293.5,2871.4 L1294.5,2871.7 L1295.5,2871.9 L1296.5,2872.1 L1297.5,2872.3 L1298.5,2872.5 L1299.5,2872.6 L1300.5,2872.7 L1301.5,2872.8 L1302.5,2872.9 L1303.5,2873.0 L1304.5,2873.0 L1305.5,2873.1 L1306.5,2873.1 L1307.5,2873.1 L1308.5,2873.1 L1309.5,2873.1 L1310.5,2873.1 L1311.5,2873.0 L1312.5,2873.0 L1313.5,2872.9 L1314.5,2872.9 L1315.5,2872.8 L1316.5,2872.7 L1317.5,2872.6 L1318.5,2872.5 L1319.5,2872.4 L1320.5,2872.3 L1321.5,2872.1 L1322.5,2872.0 L1323.5,2871.8 L1324.5,2871.6 L1325.5,2871.4 L1326.5,2871.2 L1327.5,2871.0 L1328.5,2870.8 L1329.5,2870.5 L1330.5,2870.2 L1331.5,2869.9 L1332.5,2869.6 L1333.5,2869.3 L1334.5,2869.0 L1335.5,2868.6 L1336.5,2868.2 L1337.5,2867.8 L1338.5,2867.3 L1339.5,2866.8 L1340.5,2866.3 L1341.5,2865.7 L1342.5,2865.1 L1343.5,2864.5 L1344.5,2863.8 L1345.5,2863.1 L1346.5,2862.3 L1347.5,2861.5 L1348.5,2860.5 L1349.5,2859.6 L1350.5,2858.5 L1351.5,2857.3 L1352.5,2856.1 L1353.5,2854.7 L1354.5,2853.2 L1355.5,2851.6 L1356.5,2849.8 L1357.5,2847.9 L1358.5,2845.7 L1359.5,2843.4 L1360.5,2840.8 L1361.5,2837.9 L1362.5,2834.7 L1363.5,2831.1 L1364.5,2827.1 L1365.5,2822.6 L1366.5,2817.6 L1367.5,2811.9 L1368.5,2805.4 L1369.5,2798.1 L1370.5,2789.7 L1371.5,2780.0 L1372.5,2768.9 L1373.5,2756.2 L1374.5,2741.4 L1375.5,2724.4 L1376.5,2704.8 L1377.5,2682.3 L1378.5,2656.7 L1379.5,2628.0 L1380.5,2596.6 L1381.5,2563.3 L1382.5,2530.0 L1383.5,2499.2 L1384.5,2474.3 L1385.5,2458.8 L1386.5,2455.1 L1387.5,2463.7 L1388.5,2483.3 L1389.5,2511.0 L1390.5,2543.1 L1391.5,2576.7 L1392.5,2609.4 L1393.5,2639.8 L1394.5,2667.3 L1395.5,2691.6 L1396.5,2712.9 L1397.5,2731.4 L1398.5,2747.5 L1399.5,2761.4 L1400.5,2773.4 L1401.5,2783.9 L1402.5,2793.0 L1403.5,2800.9 L1404.5,2807.9 L1405.5,2814.0 L1406.5,2819.4 L1407.5,2824.2 L1408.5,2828.5 L1409.5,2832.3 L1410.5,2835.7 L1411.5,2838.8 L1412.5,2841.5 L1413.5,2844.0 L1414.5,2846.2 L1415.5,2848.3 L1416.5,2850.1 L1417.5,2851.8 L1418.5,2853.3 L1419.5,2854.7 L1420.5,2856.0 L1421.5,2857.2 L1422.5,2858.3 L1423.5,2859.2 L1424.5,2860.2 L1425.5,2861.0 L1426.5,2861.8 L1427.5,2862.5 L1428.5,2863.1 L1429.5,2863.7 L1430.5,2864.3 L1431.5,2864.7 L1432.5,2865.2 L1433.5,2865.6 L1434.5,2866.0 L1435.5,2866.3 L1436.5,2866.6 L1437.5,2866.8 L1438.5,2867.1 L1439.5,2867.2 L1440.5,2867.4 L1441.5,2867.5 L1442.5,2867.5 L1443.5,2867.5 L1444.5,2867.5 L1445.5,2867.4 L1446.5,2867.3 L1447.5,2867.1 L1448.5,2866.8 L1449.5,2866.5 L1450.5,2866.1 L1451.5,2865.6 L1452.5,2864.9 L1453.5,2864.2 L1454.5,2863.3 L1455.5,2862.2 L1456.5,2861.0 L1457.5,2859.5 L1458.5,2857.8 L1459.5,2855.8 L1460.5,2853.4 L1461.5,2850.8 L1462.5,2847.8 L1463.5,2844.7 L1464.5,2841.4 L1465.5,2838.2 L1466.5,2835.5 L1467.5,2833.6 L1468.5,2832.8 L1469.5,2833.2 L1470.5,2834.8 L1471.5,2837.4 L1472.5,2840.5 L1473.5,2843.8 L1474.5,2847.2 L1475.5,2850.3 L1476.5,2853.2 L1477.5,2855.7 L1478.5,2858.0 L1479.5,2859.9 L1480.5,2861.5 L1481.5,2863.0 L1482.5,2864.2 L1483.5,2865.2 L1484.5,2866.0 L1485.5,2866.7 L1486.5,2867.3 L1487.5,2867.8 L1488.5,2868.2 L1489.5,2868.4 L1490.5,2868.6 L1491.5,2868.7 L1492.5,2868.7 L1493.5,2868.6 L1494.5,2868.4 L1495.5,2868.2 L1496.5,2867.8 L1497.5,2867.2 L1498.5,2866.6 L1499.5,2865.8 L1500.5,2864.8 L1501.5,2863.6 L1502.5,2862.2 L1503.5,2860.6 L1504.5,2858.7 L1505.5,2856.5 L1506.5,2854.1 L1507.5,2851.6 L1508.5,2849.0 L1509.5,2846.7 L1510.5,2844.8 L1511.5,2843.6 L1512.5,2843.4 L1513.5,2844.2 L1514.5,2845.9 L1515.5,2848.2 L1516.5,2850.8 L1517.5,2853.6 L1518.5,2856.3 L1519.5,2858.8 L1520.5,2861.1 L1521.5,2863.1 L1522.5,2864.9 L1523.5,2866.4 L1524.5,2867.8 L1525.5,2869.0 L1526.5,2870.0 L1527.5,2870.9 L1528.5,2871.6 L1529.5,2872.3 L1530.5,2872.9 L1531.5,2873.5 L1532.5,2873.9 L1533.5,2874.4 L1534.5,2874.8 L1535.5,2875.1 L1536.5,2875.4 L1537.5,2875.7 L1538.5,2876.0 L1539.5,2876.2 L1540.5,2876.4 L1541.5,2876.6 L1542.5,2876.8 L1543.5,2876.9 L1544.5,2877.1 L1545.5,2877.2 L1546.5,2877.4 L1547.5,2877.5 L1548.5,2877.6 L1549.5,2877.7 L1550.5,2877.8 L1551.5,2877.9 L1552.5,2878.0 L1553.5,2878.1 L1554.5,2878.2 L1555.5,2878.3 L1556.5,2878.3 L1557.5,2878.4 L1558.5,2878.5 L1559.5,2878.5 L1560.5,2878.6 L1561.5,2878.6 L1562.5,2878.7 L1563.5,2878.8 L1564.5,2878.8 L1565.5,2878.8 L1566.5,2878.9 L1567.5,2878.9 L1568.5,2879.0 L1569.5,2879.0 L1570.5,2879.1 L1571.5,2879.1 L1572.5,2879.1 L1573.5,2879.2 L1574.5,2879.2 L1575.5,2879.2 L1576.5,2879.3 L1577.5,2879.3 L1578.5,2879.3 L1579.5,2879.3 L1580.5,2879.4 L1581.5,2879.4 L1582.5,2879.4 L1583.5,2879.4 L1584.5,2879.5 L1585.5,2879.5 L1586.5,2879.5 L1587.5,2879.5 L1588.5,2879.6 L1589.5,2879.6 L1590.5,2879.6 L1591.5,2879.6 L1592.5,2879.6 L1593.5,2879.7 L1594.5,2879.7 L1595.5,2879.7 L1596.5,2879.7 L1597.5,2879.7 L1598.5,2879.7 L1599.5,2879.8 L1600.5,2879.8 L1601.5,2879.8 L1602.5,2879.8 L1603.5,2879.8 L1604.5,2879.8 L1605.5,2879.8 L1606.5,2879.9 L1607.5,2879.9 L1608.5,2879.9 L1609.5,2879.9 L1610.5,2879.9 L1611.5,2879.9 L1612.5,2879.9 L1613.5,2880.0 L1614.5,2880.0 L1615.5,2880.0 L1616.5,2880.0 L1617.5,2880.0 L1618.5,2880.0 L1619.5,2880.0 L1620.5,2880.0 L1621.5,2880.0 L1622.5,2880.0 L1623.5,2880.1 L1624.5,2880.1 L1625.5,2880.1 L1626.5,2880.1 L1627.5,2880.1 L1628.5,2880.1 L1629.5,2880.1 L1630.5,2880.1 L1631.5,2880.1 L1632.5,2880.1 L1633.5,2880.1 L1634.5,2880.2 L1635.5,2880.2 L1636.5,2880.2 L1637.5,2880.2 L1638.5,2880.2 L1639.5,2880.2 L1640.5,2880.2 L1641.5,2880.2 L1642.5,2880.2 L1643.5,2880.2 L1644.5,2880.2 L1645.5,2880.2 L1646.5,2880.2 L1647.5,2880.2 L1648.5,2880.3 L1649.5,2880.3 L1650.5,2880.3 L1651.5,2880.3 L1652.5,2880.3 L1653.5,2880.3 L1654.5,2880.3" fill="none" stroke="#00f" stroke-width="3.4" stroke-linejoin="round" stroke-linecap="round"/>
<path d="M56.5,3315.4 L57.9,3316.5 L59.2,3314.2 L60.6,3316.4 L61.9,3321.8 L63.3,3319.4 L64.6,3321.0 L66.0,3322.0 L67.3,3319.3 L68.7,3318.7 L70.0,3319.6 L71.4,3322.3 L72.7,3322.4 L74.1,3322.3 L75.4,3321.8 L76.8,3317.9 L78.1,3321.1 L79.5,3320.6 L80.8,3325.1 L82.2,3320.4 L83.5,3322.0 L84.9,3326.5 L86.2,3322.0 L87.6,3320.6 L88.9,3322.4 L90.3,3327.3 L91.6,3325.3 L93.0,3326.6 L94.3,3325.2 L95.7,3324.0 L97.0,3331.5 L98.4,3324.2 L99.7,3324.5 L101.1,3324.7 L102.4,3325.3 L103.8,3324.0 L105.1,3325.6 L106.5,3326.0 L107.8,3321.9 L109.2,3324.9 L110.5,3324.0 L111.9,3328.2 L113.2,3324.4 L114.6,3323.8 L115.9,3324.3 L117.3,3322.1 L118.6,3318.6 L120.0,3324.4 L121.3,3326.1 L122.7,3323.9 L124.0,3322.3 L125.4,3321.9 L126.7,3327.1 L128.1,3319.0 L129.4,3323.7 L130.8,3319.8 L132.1,3322.4 L133.5,3328.0 L134.8,3327.6 L136.2,3329.3 L137.5,3325.0 L138.9,3331.9 L140.2,3330.6 L141.6,3331.8 L142.9,3326.4 L144.3,3324.7 L145.6,3328.6 L147.0,3326.1 L148.3,3326.0 L149.7,3327.4 L151.0,3322.4 L152.4,3324.1 L153.7,3322.5 L155.1,3323.6 L156.4,3321.9 L157.8,3327.1 L159.1,3322.1 L160.5,3326.7 L161.8,3330.3 L163.2,3329.0 L164.5,3329.0 L165.9,3331.5 L167.2,3320.2 L168.6,3327.0 L169.9,3326.5 L171.3,3326.5 L172.6,3326.1 L174.0,3322.1 L175.3,3321.9 L176.7,3324.4 L178.0,3325.7 L179.4,3321.9 L180.7,3320.3 L182.1,3324.2 L183.4,3321.4 L184.8,3329.0 L186.1,3323.8 L187.5,3318.9 L188.8,3321.0 L190.2,3323.6 L191.5,3316.9 L192.9,3322.7 L194.2,3318.7 L195.6,3322.4 L196.9,3315.9 L198.3,3312.2 L199.6,3316.4 L201.0,3315.0 L202.3,3315.9 L203.7,3313.5 L205.0,3307.0 L206.4,3301.2 L207.7,3297.9 L209.1,3296.5 L210.4,3292.8 L211.8,3290.6 L213.1,3282.7 L214.5,3285.8 L215.8,3283.0 L217.2,3285.9 L218.5,3275.0 L219.9,3271.4 L221.2,3274.2 L222.6,3264.8 L223.9,3264.0 L225.3,3259.9 L226.6,3268.5 L228.0,3266.7 L229.3,3256.6 L230.7,3258.0 L232.0,3261.1 L233.4,3261.7 L234.7,3261.1 L236.1,3254.2 L237.4,3257.7 L238.8,3263.6 L240.1,3266.8 L241.5,3262.6 L242.8,3265.5 L244.2,3278.4 L245.5,3274.2 L246.9,3281.7 L248.2,3285.2 L249.6,3291.6 L250.9,3298.1 L252.3,3295.4 L253.6,3299.1 L255.0,3298.8 L256.3,3299.6 L257.7,3305.3 L259.0,3309.6 L260.4,3308.1 L261.7,3315.2 L263.1,3314.0 L264.4,3312.0 L265.8,3316.2 L267.1,3314.3 L268.5,3313.3 L269.8,3313.5 L271.2,3320.1 L272.5,3316.8 L273.9,3322.7 L275.2,3317.5 L276.6,3321.8 L277.9,3317.6 L279.3,3319.0 L280.6,3312.1 L282.0,3314.0 L283.3,3318.1 L284.7,3315.1 L286.0,3315.9 L287.4,3313.1 L288.7,3310.1 L290.1,3317.9 L291.4,3320.1 L292.8,3318.5 L294.1,3321.0 L295.5,3319.3 L296.8,3320.6 L298.2,3320.4 L299.5,3318.7 L300.9,3324.9 L302.2,3313.3 L303.6,3318.0 L304.9,3316.8 L306.3,3308.4 L307.6,3308.6 L309.0,3315.3 L310.3,3314.2 L311.7,3312.9 L313.0,3313.7 L314.4,3309.5 L315.7,3305.3 L317.1,3301.5 L318.4,3306.7 L319.8,3304.6 L321.1,3305.7 L322.5,3298.9 L323.8,3294.2 L325.2,3299.7 L326.5,3293.5 L327.9,3287.0 L329.2,3281.4 L330.6,3285.3 L331.9,3282.2 L333.3,3280.0 L334.6,3276.9 L336.0,3276.4 L337.3,3272.2 L338.7,3268.7 L340.0,3262.1 L341.4,3265.3 L342.7,3260.5 L344.1,3247.4 L345.4,3248.4 L346.8,3247.3 L348.1,3244.1 L349.5,3238.0 L350.8,3234.6 L352.2,3227.1 L353.5,3225.3 L354.9,3223.2 L356.2,3218.6 L357.6,3212.3 L358.9,3213.9 L360.3,3208.1 L361.6,3199.5 L363.0,3200.2 L364.3,3196.3 L365.7,3198.1 L367.0,3195.2 L368.4,3192.8 L369.7,3192.8 L371.1,3190.5 L372.4,3189.3 L373.8,3183.5 L375.1,3189.6 L376.5,3187.4 L377.8,3190.2 L379.2,3185.4 L380.5,3181.8 L381.9,3192.8 L383.2,3189.8 L384.6,3192.2 L385.9,3195.3 L387.3,3197.6 L388.6,3199.7 L390.0,3195.6 L391.3,3203.3 L392.7,3204.4 L394.0,3207.7 L395.4,3216.4 L396.7,3216.5 L398.1,3214.9 L399.4,3218.3 L400.8,3230.6 L402.1,3239.2 L403.5,3243.1 L404.8,3241.2 L406.2,3247.0 L407.5,3250.9 L408.9,3256.2 L410.2,3266.5 L411.6,3273.0 L412.9,3269.0 L414.3,3272.1 L415.6,3272.4 L417.0,3265.8 L418.3,3260.9 L419.7,3259.3 L421.0,3247.4 L422.4,3248.2 L423.7,3244.8 L425.1,3240.7 L426.4,3231.4 L427.8,3231.6 L429.1,3230.9 L430.5,3233.5 L431.8,3232.4 L433.2,3229.3 L434.5,3226.9 L435.9,3225.7 L437.2,3226.7 L438.6,3228.0 L439.9,3223.0 L441.3,3227.2 L442.6,3227.8 L444.0,3225.3 L445.3,3224.6 L446.7,3225.2 L448.0,3226.8 L449.4,3230.0 L450.7,3220.6 L452.1,3217.6 L453.4,3216.2 L454.8,3210.9 L456.1,3205.6 L457.5,3206.4 L458.8,3200.5 L460.2,3200.0 L461.5,3197.2 L462.9,3186.5 L464.2,3182.0 L465.6,3178.6 L466.9,3178.6 L468.3,3177.7 L469.6,3181.7 L471.0,3189.0 L472.3,3196.9 L473.7,3200.8 L475.0,3207.4 L476.4,3211.8 L477.7,3223.8 L479.1,3236.5 L480.4,3244.4 L481.8,3252.2 L483.1,3261.7 L484.5,3263.6 L485.8,3266.6 L487.2,3277.0 L488.5,3287.0 L489.9,3281.4 L491.2,3281.0 L492.6,3277.9 L493.9,3276.8 L495.3,3274.6 L496.6,3279.0 L498.0,3284.2 L499.3,3274.0 L500.7,3276.8 L502.0,3263.7 L503.4,3257.2 L504.7,3252.9 L506.1,3244.5 L507.4,3238.7 L508.8,3227.6 L510.1,3227.4 L511.5,3218.6 L512.8,3221.4 L514.2,3210.3 L515.5,3205.7 L516.9,3199.0 L518.2,3195.3 L519.6,3193.7 L520.9,3201.8 L522.3,3199.6 L523.6,3205.9 L525.0,3208.6 L526.3,3212.8 L527.7,3223.4 L529.0,3224.3 L530.4,3226.2 L531.7,3239.5 L533.1,3246.0 L534.4,3251.3 L535.8,3257.4 L537.1,3255.8 L538.5,3262.8 L539.8,3265.5 L541.2,3274.6 L542.5,3274.6 L543.9,3272.4 L545.2,3278.0 L546.6,3278.2 L547.9,3278.9 L549.3,3284.3 L550.6,3280.7 L552.0,3285.1 L553.3,3279.5 L554.7,3279.2 L556.0,3277.0 L557.4,3287.8 L558.7,3285.1 L560.1,3287.2 L561.4,3286.8 L562.8,3291.1 L564.1,3284.0 L565.5,3287.5 L566.8,3289.5 L568.2,3284.2 L569.5,3286.2 L570.9,3286.7 L572.2,3283.3 L573.6,3283.3 L574.9,3283.2 L576.3,3281.7 L577.6,3282.2 L579.0,3278.1 L580.3,3278.1 L581.7,3275.7 L583.0,3274.4 L584.4,3270.2 L585.7,3268.6 L587.1,3259.3 L588.4,3261.9 L589.8,3260.6 L591.1,3252.2 L592.5,3240.9 L593.8,3236.6 L595.2,3234.9 L596.5,3219.6 L597.9,3212.3 L599.2,3206.0 L600.6,3198.5 L601.9,3183.8 L603.3,3173.6 L604.6,3160.1 L606.0,3150.2 L607.3,3139.5 L608.7,3127.7 L610.0,3113.0 L611.4,3100.2 L612.7,3092.8 L614.1,3084.1 L615.4,3081.9 L616.8,3072.6 L618.1,3066.9 L619.5,3068.8 L620.8,3068.9 L622.2,3070.4 L623.5,3081.6 L624.9,3095.3 L626.2,3094.7 L627.6,3112.6 L628.9,3135.8 L630.3,3152.2 L631.6,3167.0 L633.0,3181.5 L634.3,3205.8 L635.7,3224.2 L637.0,3239.5 L638.4,3251.8 L639.7,3266.4 L641.1,3267.5 L642.4,3272.3 L643.8,3276.3 L645.1,3285.4 L646.5,3292.4 L647.8,3298.2 L649.2,3296.2 L650.5,3302.0 L651.9,3300.7 L653.2,3301.0 L654.6,3304.5 L655.9,3303.6 L657.3,3311.8 L658.6,3315.8 L660.0,3311.5 L661.3,3312.2 L662.7,3312.1 L664.0,3313.4 L665.4,3311.2 L666.7,3317.1 L668.1,3318.4 L669.4,3320.9 L670.8,3320.6 L672.1,3320.9 L673.5,3316.9 L674.8,3318.9 L676.2,3323.0 L677.5,3326.2 L678.9,3325.3 L680.2,3326.3 L681.6,3328.3 L682.9,3325.0 L684.3,3320.8 L685.6,3316.7 L687.0,3320.2 L688.3,3324.5 L689.7,3325.3 L691.0,3324.1 L692.4,3322.7 L693.7,3320.6 L695.1,3321.8 L696.4,3322.2 L697.8,3323.3 L699.1,3321.3 L700.5,3318.1 L701.8,3317.5 L703.2,3321.2 L704.5,3318.8 L705.9,3318.7 L707.2,3319.3 L708.6,3322.8 L709.9,3317.3 L711.3,3319.7 L712.6,3318.8 L714.0,3315.0 L715.3,3316.6 L716.7,3318.9 L718.0,3315.4 L719.4,3317.1 L720.7,3317.5 L722.1,3315.7 L723.4,3319.0 L724.8,3314.3 L726.1,3314.6 L727.5,3317.3 L728.8,3320.2 L730.2,3320.8 L731.5,3321.5 L732.9,3315.0 L734.2,3322.1 L735.6,3325.9 L736.9,3326.1 L738.3,3322.6 L739.6,3322.8 L741.0,3327.5 L742.3,3326.7 L743.7,3332.5 L745.0,3330.2 L746.4,3333.4 L747.7,3337.2 L749.1,3329.6 L750.4,3334.5 L751.8,3337.8 L753.1,3334.9 L754.5,3335.4 L755.8,3342.2 L757.2,3345.8 L758.5,3345.1 L759.9,3352.5 L761.2,3355.9 L762.6,3360.2 L763.9,3360.9 L765.3,3357.8 L766.6,3351.7 L768.0,3349.5 L769.3,3343.9 L770.7,3339.7 L772.0,3340.6 L773.4,3338.1 L774.7,3335.3 L776.1,3335.2 L777.4,3329.5 L778.8,3328.0 L780.1,3330.3 L781.5,3331.2 L782.8,3330.3 L784.2,3327.0 L785.5,3332.2 L786.9,3330.5 L788.2,3329.6 L789.6,3326.7 L790.9,3329.9 L792.3,3330.2 L793.6,3325.9 L795.0,3329.8 L796.3,3330.4 L797.7,3328.6 L799.0,3329.8 L800.4,3328.1 L801.7,3324.9 L803.1,3329.6 L804.4,3329.3 L805.8,3332.9 L807.1,3327.2 L808.5,3329.3 L809.8,3328.2 L811.2,3329.7 L812.5,3328.6 L813.9,3326.8 L815.2,3331.1 L816.6,3324.7 L817.9,3331.0 L819.3,3330.2 L820.6,3328.9 L822.0,3332.9 L823.3,3329.8 L824.7,3330.8 L826.0,3324.8 L827.4,3328.6 L828.7,3328.4 L830.1,3330.3 L831.4,3329.5 L832.8,3331.5 L834.1,3336.7 L835.5,3330.3 L836.8,3334.1 L838.2,3330.8 L839.5,3335.3 L840.9,3332.2 L842.2,3334.9 L843.6,3335.5 L844.9,3337.6 L846.3,3340.7 L847.6,3338.3 L849.0,3337.6 L850.3,3333.9 L851.7,3337.0 L853.0,3339.4 L854.4,3338.1 L855.7,3339.2 L857.1,3332.3 L858.4,3335.5 L859.8,3336.8 L861.1,3339.4 L862.5,3338.3 L863.8,3336.7 L865.2,3341.4 L866.5,3345.8 L867.9,3339.9 L869.2,3339.1 L870.6,3341.5 L871.9,3347.3 L873.3,3335.8 L874.6,3342.2 L876.0,3350.9 L877.3,3353.0 L878.7,3351.8 L880.0,3356.4 L881.4,3361.4 L882.7,3360.4 L884.1,3354.9 L885.4,3359.2 L886.8,3354.8 L888.1,3354.4 L889.5,3353.6 L890.8,3347.6 L892.2,3341.9 L893.5,3345.4 L894.9,3352.9 L896.2,3349.8 L897.6,3344.0 L898.9,3350.6 L900.3,3345.8 L901.6,3350.3 L903.0,3344.6 L904.3,3346.4 L905.7,3346.6 L907.0,3346.7 L908.4,3341.0 L909.7,3342.7 L911.1,3341.5 L912.4,3346.6 L913.8,3342.9 L915.1,3344.7 L916.5,3340.9 L917.8,3341.9 L919.2,3342.6 L920.5,3336.1 L921.9,3340.2 L923.2,3339.7 L924.6,3335.9 L925.9,3334.3 L927.3,3339.4 L928.6,3336.7 L930.0,3340.5 L931.3,3330.7 L932.7,3330.4 L934.0,3335.0 L935.4,3336.4 L936.7,3337.3 L938.1,3336.7 L939.4,3337.2 L940.8,3334.6 L942.1,3333.3 L943.5,3331.7 L944.8,3333.3 L946.2,3332.6 L947.5,3326.9 L948.9,3329.5 L950.2,3332.0 L951.6,3327.0 L952.9,3325.9 L954.3,3324.7 L955.6,3324.8 L957.0,3326.2 L958.3,3324.3 L959.7,3322.9 L961.0,3313.3 L962.4,3319.4 L963.7,3315.8 L965.1,3314.0 L966.4,3319.3 L967.8,3317.2 L969.1,3309.6 L970.5,3312.4 L971.8,3308.3 L973.2,3305.5 L974.5,3302.5 L975.9,3290.9 L977.2,3291.5 L978.6,3285.9 L979.9,3280.9 L981.3,3286.2 L982.6,3279.1 L984.0,3276.0 L985.3,3274.3 L986.7,3271.1 L988.0,3266.8 L989.4,3267.5 L990.7,3262.6 L992.1,3259.0 L993.4,3257.7 L994.8,3256.9 L996.1,3254.6 L997.5,3256.4 L998.8,3255.1 L1000.2,3245.9 L1001.5,3247.0 L1002.9,3247.9 L1004.2,3240.4 L1005.6,3237.4 L1006.9,3234.9 L1008.3,3238.0 L1009.6,3237.9 L1011.0,3234.0 L1012.3,3234.0 L1013.7,3234.8 L1015.0,3233.5 L1016.4,3228.0 L1017.7,3226.0 L1019.1,3222.7 L1020.4,3218.2 L1021.8,3215.0 L1023.1,3216.4 L1024.5,3218.1 L1025.8,3211.9 L1027.2,3214.7 L1028.5,3213.7 L1029.9,3213.5 L1031.2,3206.2 L1032.6,3205.7 L1033.9,3206.2 L1035.3,3205.6 L1036.6,3209.0 L1038.0,3202.8 L1039.3,3204.7 L1040.7,3202.2 L1042.0,3203.2 L1043.4,3198.3 L1044.7,3200.4 L1046.1,3197.8 L1047.4,3195.9 L1048.8,3192.0 L1050.1,3193.5 L1051.5,3197.4 L1052.8,3193.2 L1054.2,3191.5 L1055.5,3190.9 L1056.9,3188.6 L1058.2,3186.7 L1059.6,3186.3 L1060.9,3187.0 L1062.3,3189.1 L1063.6,3186.4 L1065.0,3183.2 L1066.3,3179.6 L1067.7,3179.6 L1069.0,3183.7 L1070.4,3182.0 L1071.7,3183.6 L1073.1,3179.9 L1074.4,3178.5 L1075.8,3182.4 L1077.1,3181.2 L1078.5,3182.9 L1079.8,3185.0 L1081.2,3179.8 L1082.5,3177.1 L1083.9,3172.5 L1085.2,3162.8 L1086.6,3161.7 L1087.9,3158.4 L1089.3,3156.1 L1090.6,3149.9 L1092.0,3148.0 L1093.3,3145.6 L1094.7,3142.9 L1096.0,3141.4 L1097.4,3135.6 L1098.7,3129.1 L1100.1,3129.5 L1101.4,3124.6 L1102.8,3122.8 L1104.1,3122.5 L1105.5,3117.4 L1106.8,3112.4 L1108.2,3115.4 L1109.5,3113.8 L1110.9,3113.8 L1112.2,3115.6 L1113.6,3119.5 L1114.9,3130.5 L1116.3,3130.4 L1117.6,3142.4 L1119.0,3151.9 L1120.3,3161.5 L1121.7,3173.3 L1123.0,3184.6 L1124.4,3199.5 L1125.7,3211.3 L1127.1,3222.8 L1128.4,3236.1 L1129.8,3242.6 L1131.1,3247.6 L1132.5,3253.3 L1133.8,3259.3 L1135.2,3266.7 L1136.5,3270.1 L1137.9,3278.8 L1139.2,3280.8 L1140.6,3280.6 L1141.9,3287.3 L1143.3,3282.2 L1144.6,3284.8 L1146.0,3290.2 L1147.3,3287.6 L1148.7,3292.3 L1150.0,3292.7 L1151.4,3293.7 L1152.7,3295.5 L1154.1,3296.1 L1155.4,3298.4 L1156.8,3298.2 L1158.1,3296.2 L1159.5,3292.9 L1160.8,3293.2 L1162.2,3294.3 L1163.5,3285.3 L1164.9,3282.8 L1166.2,3285.0 L1167.6,3285.1 L1168.9,3285.2 L1170.3,3284.9 L1171.6,3287.0 L1173.0,3284.5 L1174.3,3283.5 L1175.7,3278.9 L1177.0,3283.5 L1178.4,3280.6 L1179.7,3284.7 L1181.1,3282.1 L1182.4,3280.3 L1183.8,3282.8 L1185.1,3278.3 L1186.5,3281.7 L1187.8,3283.2 L1189.2,3281.1 L1190.5,3274.6 L1191.9,3278.2 L1193.2,3278.1 L1194.6,3272.6 L1195.9,3269.8 L1197.3,3260.7 L1198.6,3261.1 L1200.0,3255.5 L1201.3,3255.7 L1202.7,3250.2 L1204.0,3247.1 L1205.4,3244.0 L1206.7,3242.1 L1208.1,3233.0 L1209.4,3229.6 L1210.8,3230.0 L1212.1,3221.0 L1213.5,3212.3 L1214.8,3210.6 L1216.2,3209.5 L1217.5,3208.2 L1218.9,3199.4 L1220.2,3189.1 L1221.6,3175.5 L1222.9,3173.2 L1224.3,3169.2 L1225.6,3162.6 L1227.0,3158.7 L1228.3,3156.6 L1229.7,3157.4 L1231.0,3153.6 L1232.4,3146.2 L1233.7,3139.1 L1235.1,3143.6 L1236.4,3138.2 L1237.8,3141.2 L1239.1,3137.3 L1240.5,3127.5 L1241.8,3126.7 L1243.2,3121.8 L1244.5,3120.8 L1245.9,3113.7 L1247.2,3113.3 L1248.6,3105.1 L1249.9,3096.5 L1251.3,3092.8 L1252.6,3085.2 L1254.0,3079.7 L1255.3,3077.2 L1256.7,3061.4 L1258.0,3055.1 L1259.4,3047.3 L1260.7,3033.1 L1262.1,3024.2 L1263.4,3026.0 L1264.8,3013.3 L1266.1,3002.4 L1267.5,2994.2 L1268.8,2988.5 L1270.2,2982.0 L1271.5,2979.1 L1272.9,2975.9 L1274.2,2965.0 L1275.6,2960.5 L1276.9,2951.3 L1278.3,2950.2 L1279.6,2942.3 L1281.0,2941.9 L1282.3,2934.3 L1283.7,2934.5 L1285.0,2937.2 L1286.4,2939.5 L1287.7,2944.1 L1289.1,2957.0 L1290.4,2957.2 L1291.8,2961.3 L1293.1,2973.2 L1294.5,2986.3 L1295.8,3006.4 L1297.2,3026.4 L1298.5,3040.7 L1299.9,3056.2 L1301.2,3067.3 L1302.6,3081.5 L1303.9,3088.8 L1305.3,3107.0 L1306.6,3117.1 L1308.0,3126.2 L1309.3,3139.5 L1310.7,3152.6 L1312.0,3165.1 L1313.4,3174.1 L1314.7,3178.2 L1316.1,3194.2 L1317.4,3208.9 L1318.8,3218.1 L1320.1,3231.7 L1321.5,3235.4 L1322.8,3239.6 L1324.2,3252.4 L1325.5,3265.7 L1326.9,3274.3 L1328.2,3277.1 L1329.6,3285.0 L1330.9,3290.0 L1332.3,3287.6 L1333.6,3294.5 L1335.0,3302.0 L1336.3,3305.7 L1337.7,3304.0 L1339.0,3310.7 L1340.4,3306.4 L1341.7,3307.8 L1343.1,3305.0 L1344.4,3313.1 L1345.8,3311.9 L1347.1,3321.1 L1348.5,3318.7 L1349.8,3318.4 L1351.2,3316.7 L1352.5,3327.6 L1353.9,3322.2 L1355.2,3325.4 L1356.6,3324.2 L1357.9,3330.0 L1359.3,3332.5 L1360.6,3330.2 L1362.0,3330.7 L1363.3,3335.1 L1364.7,3336.6 L1366.0,3332.5 L1367.4,3339.2 L1368.7,3333.9 L1370.1,3332.0 L1371.4,3334.1 L1372.8,3332.5 L1374.1,3334.6 L1375.5,3335.3 L1376.8,3335.2 L1378.2,3332.6 L1379.5,3332.4 L1380.9,3327.1 L1382.2,3332.2 L1383.6,3333.7 L1384.9,3335.0 L1386.3,3332.0 L1387.6,3334.5 L1389.0,3335.5 L1390.3,3328.1 L1391.7,3330.0 L1393.0,3326.4 L1394.4,3325.1 L1395.7,3330.6 L1397.1,3328.7 L1398.4,3330.9 L1399.8,3332.8 L1401.1,3331.0 L1402.5,3331.2 L1403.8,3333.4 L1405.2,3330.1 L1406.5,3327.6 L1407.9,3332.6 L1409.2,3330.2 L1410.6,3330.3 L1411.9,3328.0 L1413.3,3333.3 L1414.6,3328.3 L1416.0,3328.8 L1417.3,3324.1 L1418.7,3327.2 L1420.0,3326.3 L1421.4,3327.3 L1422.7,3326.5 L1424.1,3323.1 L1425.4,3329.2 L1426.8,3321.9 L1428.1,3323.3 L1429.5,3325.3 L1430.8,3318.8 L1432.2,3321.7 L1433.5,3322.1 L1434.9,3320.7 L1436.2,3324.6 L1437.6,3317.3 L1438.9,3317.7 L1440.3,3317.9 L1441.6,3316.5 L1443.0,3316.6 L1444.3,3318.0 L1445.7,3315.0 L1447.0,3317.8 L1448.4,3313.6 L1449.7,3316.5 L1451.1,3315.1 L1452.4,3321.8 L1453.8,3316.1 L1455.1,3315.9 L1456.5,3314.7 L1457.8,3321.8 L1459.2,3318.5 L1460.5,3317.4 L1461.9,3310.6 L1463.2,3316.1 L1464.6,3316.4 L1465.9,3315.7 L1467.3,3313.5 L1468.6,3310.9 L1470.0,3310.8 L1471.3,3314.6 L1472.7,3310.6 L1474.0,3306.0 L1475.4,3309.4 L1476.7,3304.8 L1478.1,3304.3 L1479.4,3305.0 L1480.8,3304.1 L1482.1,3304.9 L1483.5,3291.1 L1484.8,3294.2 L1486.2,3300.1 L1487.5,3291.2 L1488.9,3281.6 L1490.2,3288.9 L1491.6,3288.4 L1492.9,3283.4 L1494.3,3287.6 L1495.6,3281.4 L1497.0,3279.9 L1498.3,3284.5 L1499.7,3285.7 L1501.0,3278.8 L1502.4,3276.0 L1503.7,3277.6 L1505.1,3278.4 L1506.4,3271.8 L1507.8,3271.3 L1509.1,3267.0 L1510.5,3261.1 L1511.8,3256.5 L1513.2,3254.3 L1514.5,3253.8 L1515.9,3248.6 L1517.2,3240.5 L1518.6,3239.4 L1519.9,3232.1 L1521.3,3235.7 L1522.6,3230.0 L1524.0,3227.9 L1525.3,3225.6 L1526.7,3223.0 L1528.0,3224.0 L1529.4,3220.2 L1530.7,3222.8 L1532.1,3226.3 L1533.4,3231.0 L1534.8,3221.8 L1536.1,3222.6 L1537.5,3222.6 L1538.8,3227.7 L1540.2,3220.8 L1541.5,3222.6 L1542.9,3230.6 L1544.2,3235.6 L1545.6,3249.2 L1546.9,3253.2 L1548.3,3257.6 L1549.6,3265.9 L1551.0,3269.5 L1552.3,3275.9 L1553.7,3284.0 L1555.0,3288.6 L1556.4,3291.6 L1557.7,3296.0 L1559.1,3298.9 L1560.4,3306.6 L1561.8,3308.0 L1563.1,3314.2 L1564.5,3319.3 L1565.8,3318.3 L1567.2,3315.5 L1568.5,3317.2 L1569.9,3322.5 L1571.2,3325.2 L1572.6,3316.7 L1573.9,3319.5 L1575.3,3323.1 L1576.6,3325.6 L1578.0,3322.6 L1579.3,3329.0 L1580.7,3325.8 L1582.0,3329.6 L1583.4,3323.2 L1584.7,3322.5 L1586.1,3324.6 L1587.4,3325.5 L1588.8,3325.8 L1590.1,3325.6 L1591.5,3327.4 L1592.8,3322.9 L1594.2,3324.2 L1595.5,3324.6 L1596.9,3324.1 L1598.2,3324.3 L1599.6,3328.3 L1600.9,3332.3 L1602.3,3331.2 L1603.6,3328.8 L1605.0,3324.9 L1606.3,3329.5 L1607.7,3325.2 L1609.0,3324.3 L1610.4,3330.3 L1611.7,3333.1 L1613.1,3334.9 L1614.4,3328.6 L1615.8,3323.7 L1617.1,3325.4 L1618.5,3330.5 L1619.8,3330.3 L1621.2,3330.0 L1622.5,3326.5 L1623.9,3324.7 L1625.2,3330.4 L1626.6,3331.1 L1627.9,3326.3 L1629.3,3326.5 L1630.6,3329.6 L1632.0,3332.2 L1633.3,3326.2 L1634.7,3325.4 L1636.0,3321.9 L1637.4,3326.8 L1638.7,3330.6 L1640.1,3330.9 L1641.4,3325.6 L1642.8,3327.9 L1644.1,3332.2 L1645.5,3328.7 L1646.8,3327.1 L1648.2,3328.5 L1649.5,3329.2 L1650.9,3330.7 L1652.2,3328.0 L1653.6,3325.7 L1654.9,3329.8" fill="none" stroke="#f00" stroke-width="3.0" stroke-linejoin="round" stroke-linecap="round"/>
<path d="M56.5,3327.9 L57.9,3331.8 L59.2,3331.0 L60.6,3330.2 L61.9,3329.1 L63.3,3330.0 L64.6,3331.2 L66.0,3334.7 L67.3,3333.1 L68.7,3331.5 L70.0,3332.4 L71.4,3330.5 L72.7,3332.7 L74.1,3334.2 L75.4,3328.9 L76.8,3331.8 L78.1,3331.2 L79.5,3330.4 L80.8,3329.9 L82.2,3334.4 L83.5,3334.5 L84.9,3329.9 L86.2,3331.4 L87.6,3332.3 L88.9,3328.4 L90.3,3327.6 L91.6,3330.8 L93.0,3331.8 L94.3,3331.0 L95.7,3330.9 L97.0,3333.4 L98.4,3332.7 L99.7,3332.8 L101.1,3332.8 L102.4,3334.7 L103.8,3335.1 L105.1,3334.6 L106.5,3332.4 L107.8,3326.4 L109.2,3331.6 L110.5,3334.0 L111.9,3332.3 L113.2,3327.1 L114.6,3335.0 L115.9,3332.1 L117.3,3329.4 L118.6,3333.8 L120.0,3334.4 L121.3,3330.9 L122.7,3332.9 L124.0,3333.2 L125.4,3331.0 L126.7,3331.5 L128.1,3331.7 L129.4,3328.9 L130.8,3332.0 L132.1,3329.6 L133.5,3334.8 L134.8,3334.4 L136.2,3330.8 L137.5,3328.5 L138.9,3330.2 L140.2,3330.3 L141.6,3329.3 L142.9,3331.1 L144.3,3333.0 L145.6,3328.5 L147.0,3332.0 L148.3,3330.2 L149.7,3330.3 L151.0,3327.9 L152.4,3329.5 L153.7,3330.4 L155.1,3327.4 L156.4,3327.3 L157.8,3331.8 L159.1,3327.2 L160.5,3330.4 L161.8,3328.2 L163.2,3331.7 L164.5,3330.3 L165.9,3328.9 L167.2,3326.0 L168.6,3326.7 L169.9,3327.0 L171.3,3330.8 L172.6,3325.1 L174.0,3326.6 L175.3,3325.6 L176.7,3323.7 L178.0,3321.1 L179.4,3323.6 L180.7,3319.5 L182.1,3319.5 L183.4,3322.6 L184.8,3317.4 L186.1,3324.0 L187.5,3321.8 L188.8,3321.3 L190.2,3319.4 L191.5,3318.8 L192.9,3317.2 L194.2,3316.2 L195.6,3316.8 L196.9,3316.1 L198.3,3312.8 L199.6,3311.7 L201.0,3304.7 L202.3,3300.1 L203.7,3298.3 L205.0,3301.1 L206.4,3297.8 L207.7,3293.1 L209.1,3293.8 L210.4,3290.3 L211.8,3285.7 L213.1,3286.7 L214.5,3281.9 L215.8,3273.4 L217.2,3273.7 L218.5,3272.0 L219.9,3269.4 L221.2,3264.9 L222.6,3263.2 L223.9,3261.2 L225.3,3261.8 L226.6,3259.9 L228.0,3259.0 L229.3,3255.0 L230.7,3252.0 L232.0,3253.2 L233.4,3253.1 L234.7,3256.0 L236.1,3259.9 L237.4,3251.8 L238.8,3258.9 L240.1,3263.0 L241.5,3265.4 L242.8,3263.5 L244.2,3269.6 L245.5,3275.1 L246.9,3277.2 L248.2,3277.7 L249.6,3283.7 L250.9,3286.9 L252.3,3293.2 L253.6,3289.8 L255.0,3295.4 L256.3,3297.6 L257.7,3299.3 L259.0,3303.1 L260.4,3305.5 L261.7,3310.4 L263.1,3313.1 L264.4,3311.1 L265.8,3315.9 L267.1,3313.3 L268.5,3315.0 L269.8,3321.2 L271.2,3316.0 L272.5,3317.8 L273.9,3318.4 L275.2,3315.6 L276.6,3316.4 L277.9,3318.9 L279.3,3323.0 L280.6,3319.7 L282.0,3320.8 L283.3,3323.1 L284.7,3321.6 L286.0,3321.8 L287.4,3321.2 L288.7,3323.2 L290.1,3319.5 L291.4,3324.1 L292.8,3320.4 L294.1,3318.5 L295.5,3323.1 L296.8,3323.8 L298.2,3318.6 L299.5,3322.3 L300.9,3319.7 L302.2,3320.1 L303.6,3321.9 L304.9,3317.1 L306.3,3318.3 L307.6,3315.5 L309.0,3317.6 L310.3,3311.3 L311.7,3305.8 L313.0,3307.0 L314.4,3306.4 L315.7,3304.7 L317.1,3303.0 L318.4,3302.2 L319.8,3298.4 L321.1,3294.9 L322.5,3292.3 L323.8,3290.4 L325.2,3289.2 L326.5,3288.4 L327.9,3283.9 L329.2,3279.1 L330.6,3274.1 L331.9,3268.9 L333.3,3265.8 L334.6,3261.4 L336.0,3263.7 L337.3,3260.0 L338.7,3254.4 L340.0,3249.8 L341.4,3253.1 L342.7,3249.9 L344.1,3243.9 L345.4,3242.6 L346.8,3234.5 L348.1,3226.9 L349.5,3230.3 L350.8,3218.4 L352.2,3216.4 L353.5,3210.3 L354.9,3207.4 L356.2,3201.2 L357.6,3197.9 L358.9,3196.6 L360.3,3191.9 L361.6,3188.5 L363.0,3190.0 L364.3,3182.2 L365.7,3182.8 L367.0,3179.4 L368.4,3177.6 L369.7,3175.9 L371.1,3174.5 L372.4,3172.6 L373.8,3169.6 L375.1,3168.7 L376.5,3171.3 L377.8,3169.7 L379.2,3168.0 L380.5,3170.3 L381.9,3173.0 L383.2,3175.8 L384.6,3177.9 L385.9,3181.9 L387.3,3182.8 L388.6,3183.5 L390.0,3183.8 L391.3,3186.9 L392.7,3194.6 L394.0,3195.5 L395.4,3201.1 L396.7,3204.3 L398.1,3211.4 L399.4,3212.7 L400.8,3220.2 L402.1,3224.1 L403.5,3227.4 L404.8,3230.0 L406.2,3235.4 L407.5,3237.5 L408.9,3240.8 L410.2,3242.2 L411.6,3238.8 L412.9,3239.4 L414.3,3239.0 L415.6,3239.5 L417.0,3238.2 L418.3,3236.2 L419.7,3241.3 L421.0,3235.4 L422.4,3235.8 L423.7,3234.8 L425.1,3233.6 L426.4,3232.1 L427.8,3232.7 L429.1,3229.2 L430.5,3227.7 L431.8,3228.4 L433.2,3226.6 L434.5,3227.1 L435.9,3228.9 L437.2,3225.1 L438.6,3228.3 L439.9,3224.7 L441.3,3226.9 L442.6,3227.8 L444.0,3227.3 L445.3,3223.6 L446.7,3223.5 L448.0,3223.3 L449.4,3221.7 L450.7,3221.9 L452.1,3220.6 L453.4,3212.8 L454.8,3210.6 L456.1,3206.2 L457.5,3203.2 L458.8,3202.1 L460.2,3199.5 L461.5,3196.0 L462.9,3190.4 L464.2,3189.1 L465.6,3184.3 L466.9,3182.1 L468.3,3192.0 L469.6,3192.4 L471.0,3194.0 L472.3,3200.2 L473.7,3205.0 L475.0,3214.6 L476.4,3215.4 L477.7,3224.1 L479.1,3231.8 L480.4,3237.9 L481.8,3248.9 L483.1,3248.7 L484.5,3254.0 L485.8,3259.0 L487.2,3263.8 L488.5,3268.2 L489.9,3268.8 L491.2,3271.8 L492.6,3269.0 L493.9,3271.2 L495.3,3269.9 L496.6,3266.0 L498.0,3266.6 L499.3,3263.7 L500.7,3259.3 L502.0,3256.2 L503.4,3251.6 L504.7,3245.0 L506.1,3245.5 L507.4,3238.2 L508.8,3240.0 L510.1,3236.8 L511.5,3235.0 L512.8,3230.9 L514.2,3227.4 L515.5,3228.7 L516.9,3224.5 L518.2,3226.1 L519.6,3223.1 L520.9,3225.1 L522.3,3226.8 L523.6,3230.1 L525.0,3229.8 L526.3,3236.5 L527.7,3239.1 L529.0,3238.9 L530.4,3241.0 L531.7,3245.0 L533.1,3245.4 L534.4,3247.1 L535.8,3241.8 L537.1,3246.3 L538.5,3245.7 L539.8,3242.3 L541.2,3241.7 L542.5,3249.3 L543.9,3253.4 L545.2,3257.8 L546.6,3264.0 L547.9,3266.8 L549.3,3270.0 L550.6,3269.5 L552.0,3273.4 L553.3,3277.9 L554.7,3278.1 L556.0,3275.3 L557.4,3279.4 L558.7,3280.6 L560.1,3280.9 L561.4,3282.3 L562.8,3278.0 L564.1,3285.8 L565.5,3283.5 L566.8,3287.2 L568.2,3284.2 L569.5,3281.6 L570.9,3285.1 L572.2,3286.0 L573.6,3285.2 L574.9,3283.5 L576.3,3277.9 L577.6,3278.9 L579.0,3277.5 L580.3,3275.3 L581.7,3269.8 L583.0,3265.4 L584.4,3265.7 L585.7,3262.3 L587.1,3256.7 L588.4,3252.8 L589.8,3252.5 L591.1,3244.3 L592.5,3243.5 L593.8,3234.5 L595.2,3225.3 L596.5,3222.7 L597.9,3215.2 L599.2,3209.3 L600.6,3202.5 L601.9,3190.0 L603.3,3181.8 L604.6,3171.1 L606.0,3161.0 L607.3,3153.9 L608.7,3147.3 L610.0,3134.7 L611.4,3130.8 L612.7,3126.1 L614.1,3122.5 L615.4,3120.1 L616.8,3119.8 L618.1,3120.3 L619.5,3118.5 L620.8,3119.7 L622.2,3125.8 L623.5,3130.8 L624.9,3141.8 L626.2,3154.9 L627.6,3170.0 L628.9,3182.7 L630.3,3197.3 L631.6,3214.7 L633.0,3221.4 L634.3,3233.9 L635.7,3248.4 L637.0,3258.0 L638.4,3262.2 L639.7,3268.9 L641.1,3281.6 L642.4,3288.6 L643.8,3291.9 L645.1,3299.4 L646.5,3304.9 L647.8,3304.6 L649.2,3310.9 L650.5,3312.1 L651.9,3315.7 L653.2,3317.5 L654.6,3320.3 L655.9,3321.1 L657.3,3324.2 L658.6,3324.0 L660.0,3330.4 L661.3,3329.2 L662.7,3329.2 L664.0,3327.9 L665.4,3330.0 L666.7,3333.2 L668.1,3336.1 L669.4,3329.1 L670.8,3330.6 L672.1,3334.7 L673.5,3336.9 L674.8,3334.6 L676.2,3334.1 L677.5,3330.7 L678.9,3333.8 L680.2,3338.1 L681.6,3340.3 L682.9,3336.4 L684.3,3335.6 L685.6,3338.0 L687.0,3340.4 L688.3,3338.8 L689.7,3336.8 L691.0,3340.4 L692.4,3341.3 L693.7,3338.6 L695.1,3338.8 L696.4,3340.1 L697.8,3339.3 L699.1,3339.8 L700.5,3336.4 L701.8,3334.6 L703.2,3334.4 L704.5,3333.7 L705.9,3334.2 L707.2,3334.3 L708.6,3334.7 L709.9,3333.3 L711.3,3328.5 L712.6,3331.2 L714.0,3329.7 L715.3,3333.5 L716.7,3330.9 L718.0,3331.4 L719.4,3331.0 L720.7,3328.1 L722.1,3328.2 L723.4,3329.0 L724.8,3327.8 L726.1,3330.7 L727.5,3328.2 L728.8,3326.4 L730.2,3328.4 L731.5,3326.3 L732.9,3324.2 L734.2,3322.2 L735.6,3324.1 L736.9,3323.1 L738.3,3321.9 L739.6,3320.4 L741.0,3323.6 L742.3,3324.9 L743.7,3320.5 L745.0,3321.8 L746.4,3325.1 L747.7,3324.3 L749.1,3327.5 L750.4,3326.9 L751.8,3332.2 L753.1,3333.1 L754.5,3335.5 L755.8,3334.3 L757.2,3336.8 L758.5,3341.6 L759.9,3339.9 L761.2,3340.8 L762.6,3344.9 L763.9,3342.1 L765.3,3344.8 L766.6,3345.2 L768.0,3339.8 L769.3,3334.2 L770.7,3331.2 L772.0,3329.8 L773.4,3325.1 L774.7,3320.7 L776.1,3319.9 L777.4,3316.3 L778.8,3315.7 L780.1,3317.0 L781.5,3317.7 L782.8,3318.7 L784.2,3313.8 L785.5,3315.7 L786.9,3315.0 L788.2,3312.9 L789.6,3313.5 L790.9,3313.2 L792.3,3315.2 L793.6,3312.9 L795.0,3316.1 L796.3,3314.1 L797.7,3311.2 L799.0,3313.3 L800.4,3312.7 L801.7,3307.9 L803.1,3311.2 L804.4,3310.7 L805.8,3306.7 L807.1,3311.3 L808.5,3308.4 L809.8,3307.2 L811.2,3307.5 L812.5,3309.6 L813.9,3306.4 L815.2,3306.3 L816.6,3306.2 L817.9,3299.5 L819.3,3299.1 L820.6,3295.6 L822.0,3297.6 L823.3,3296.1 L824.7,3295.6 L826.0,3291.8 L827.4,3289.4 L828.7,3288.9 L830.1,3287.2 L831.4,3287.2 L832.8,3289.4 L834.1,3294.9 L835.5,3289.7 L836.8,3289.6 L838.2,3292.8 L839.5,3298.8 L840.9,3295.6 L842.2,3301.3 L843.6,3304.9 L844.9,3302.2 L846.3,3302.8 L847.6,3301.0 L849.0,3308.5 L850.3,3309.0 L851.7,3311.0 L853.0,3312.9 L854.4,3315.5 L855.7,3319.2 L857.1,3318.9 L858.4,3319.6 L859.8,3322.5 L861.1,3322.1 L862.5,3324.9 L863.8,3329.8 L865.2,3325.4 L866.5,3327.5 L867.9,3327.4 L869.2,3330.9 L870.6,3330.5 L871.9,3331.2 L873.3,3330.0 L874.6,3332.6 L876.0,3334.0 L877.3,3331.8 L878.7,3334.6 L880.0,3332.0 L881.4,3330.0 L882.7,3336.1 L884.1,3338.0 L885.4,3335.3 L886.8,3334.4 L888.1,3336.8 L889.5,3336.7 L890.8,3340.4 L892.2,3339.3 L893.5,3333.1 L894.9,3338.4 L896.2,3339.8 L897.6,3340.1 L898.9,3342.9 L900.3,3343.3 L901.6,3343.7 L903.0,3341.9 L904.3,3338.5 L905.7,3336.0 L907.0,3339.1 L908.4,3340.6 L909.7,3338.3 L911.1,3336.9 L912.4,3337.6 L913.8,3338.1 L915.1,3334.7 L916.5,3333.7 L917.8,3330.1 L919.2,3329.3 L920.5,3330.2 L921.9,3332.2 L923.2,3329.6 L924.6,3330.9 L925.9,3326.2 L927.3,3328.9 L928.6,3329.5 L930.0,3330.4 L931.3,3326.7 L932.7,3324.2 L934.0,3326.9 L935.4,3322.0 L936.7,3322.8 L938.1,3321.5 L939.4,3320.3 L940.8,3320.8 L942.1,3324.3 L943.5,3322.4 L944.8,3325.5 L946.2,3323.0 L947.5,3313.3 L948.9,3316.5 L950.2,3313.7 L951.6,3312.7 L952.9,3310.7 L954.3,3313.0 L955.6,3316.4 L957.0,3314.1 L958.3,3311.1 L959.7,3308.7 L961.0,3307.1 L962.4,3306.7 L963.7,3305.5 L965.1,3303.2 L966.4,3302.1 L967.8,3294.9 L969.1,3297.5 L970.5,3297.1 L971.8,3291.1 L973.2,3285.1 L974.5,3283.3 L975.9,3277.3 L977.2,3269.7 L978.6,3270.8 L979.9,3268.5 L981.3,3262.7 L982.6,3263.3 L984.0,3262.2 L985.3,3259.1 L986.7,3252.2 L988.0,3252.5 L989.4,3252.6 L990.7,3250.4 L992.1,3246.6 L993.4,3245.7 L994.8,3247.5 L996.1,3241.9 L997.5,3240.2 L998.8,3242.8 L1000.2,3240.0 L1001.5,3235.7 L1002.9,3232.7 L1004.2,3235.7 L1005.6,3232.8 L1006.9,3233.5 L1008.3,3231.4 L1009.6,3233.2 L1011.0,3231.6 L1012.3,3226.4 L1013.7,3227.5 L1015.0,3227.8 L1016.4,3225.7 L1017.7,3226.4 L1019.1,3222.0 L1020.4,3222.8 L1021.8,3220.9 L1023.1,3215.5 L1024.5,3212.9 L1025.8,3212.7 L1027.2,3209.8 L1028.5,3208.5 L1029.9,3207.7 L1031.2,3202.1 L1032.6,3200.3 L1033.9,3194.5 L1035.3,3195.3 L1036.6,3194.4 L1038.0,3190.4 L1039.3,3189.0 L1040.7,3184.7 L1042.0,3178.2 L1043.4,3177.6 L1044.7,3174.4 L1046.1,3172.0 L1047.4,3173.7 L1048.8,3165.8 L1050.1,3166.8 L1051.5,3160.8 L1052.8,3160.2 L1054.2,3154.0 L1055.5,3150.7 L1056.9,3145.2 L1058.2,3148.9 L1059.6,3144.9 L1060.9,3140.0 L1062.3,3141.4 L1063.6,3142.1 L1065.0,3137.9 L1066.3,3136.3 L1067.7,3131.9 L1069.0,3132.7 L1070.4,3133.9 L1071.7,3124.9 L1073.1,3129.3 L1074.4,3127.9 L1075.8,3128.3 L1077.1,3124.1 L1078.5,3129.4 L1079.8,3125.9 L1081.2,3127.4 L1082.5,3125.6 L1083.9,3125.3 L1085.2,3126.1 L1086.6,3123.8 L1087.9,3121.2 L1089.3,3121.5 L1090.6,3121.0 L1092.0,3117.6 L1093.3,3119.3 L1094.7,3121.1 L1096.0,3119.3 L1097.4,3116.3 L1098.7,3118.8 L1100.1,3118.9 L1101.4,3119.8 L1102.8,3122.9 L1104.1,3120.7 L1105.5,3121.3 L1106.8,3122.4 L1108.2,3125.6 L1109.5,3127.8 L1110.9,3126.5 L1112.2,3132.5 L1113.6,3135.3 L1114.9,3144.5 L1116.3,3157.2 L1117.6,3163.2 L1119.0,3171.7 L1120.3,3181.3 L1121.7,3191.2 L1123.0,3203.8 L1124.4,3203.1 L1125.7,3210.6 L1127.1,3214.2 L1128.4,3218.1 L1129.8,3218.2 L1131.1,3222.1 L1132.5,3235.4 L1133.8,3234.9 L1135.2,3238.9 L1136.5,3238.4 L1137.9,3241.6 L1139.2,3246.4 L1140.6,3248.5 L1141.9,3249.8 L1143.3,3250.8 L1144.6,3254.2 L1146.0,3252.9 L1147.3,3255.5 L1148.7,3256.7 L1150.0,3259.7 L1151.4,3260.2 L1152.7,3259.1 L1154.1,3261.0 L1155.4,3262.7 L1156.8,3258.8 L1158.1,3263.1 L1159.5,3258.1 L1160.8,3257.1 L1162.2,3256.8 L1163.5,3254.6 L1164.9,3247.2 L1166.2,3254.6 L1167.6,3248.4 L1168.9,3244.0 L1170.3,3244.5 L1171.6,3245.7 L1173.0,3239.1 L1174.3,3234.2 L1175.7,3232.4 L1177.0,3234.2 L1178.4,3226.4 L1179.7,3223.0 L1181.1,3220.3 L1182.4,3221.6 L1183.8,3215.0 L1185.1,3214.4 L1186.5,3205.8 L1187.8,3199.8 L1189.2,3198.3 L1190.5,3193.8 L1191.9,3185.4 L1193.2,3182.9 L1194.6,3175.2 L1195.9,3170.5 L1197.3,3169.5 L1198.6,3162.6 L1200.0,3155.4 L1201.3,3149.1 L1202.7,3142.2 L1204.0,3137.5 L1205.4,3131.0 L1206.7,3127.3 L1208.1,3118.4 L1209.4,3115.8 L1210.8,3112.0 L1212.1,3104.9 L1213.5,3102.1 L1214.8,3097.0 L1216.2,3090.4 L1217.5,3082.4 L1218.9,3080.4 L1220.2,3071.7 L1221.6,3067.5 L1222.9,3062.1 L1224.3,3057.8 L1225.6,3055.1 L1227.0,3048.5 L1228.3,3041.7 L1229.7,3033.9 L1231.0,3029.2 L1232.4,3026.6 L1233.7,3024.0 L1235.1,3013.6 L1236.4,3008.8 L1237.8,3003.8 L1239.1,2999.0 L1240.5,2995.3 L1241.8,2989.9 L1243.2,2981.1 L1244.5,2976.3 L1245.9,2975.4 L1247.2,2968.4 L1248.6,2962.7 L1249.9,2955.6 L1251.3,2953.2 L1252.6,2950.2 L1254.0,2942.8 L1255.3,2939.0 L1256.7,2939.0 L1258.0,2939.4 L1259.4,2933.8 L1260.7,2934.0 L1262.1,2933.7 L1263.4,2930.5 L1264.8,2931.0 L1266.1,2931.8 L1267.5,2933.3 L1268.8,2934.7 L1270.2,2930.9 L1271.5,2929.1 L1272.9,2932.0 L1274.2,2930.9 L1275.6,2933.3 L1276.9,2933.2 L1278.3,2937.1 L1279.6,2936.8 L1281.0,2944.3 L1282.3,2945.2 L1283.7,2952.7 L1285.0,2959.7 L1286.4,2961.7 L1287.7,2971.0 L1289.1,2978.0 L1290.4,2989.6 L1291.8,2999.9 L1293.1,3007.7 L1294.5,3018.1 L1295.8,3033.5 L1297.2,3045.8 L1298.5,3054.5 L1299.9,3065.6 L1301.2,3082.3 L1302.6,3093.7 L1303.9,3106.1 L1305.3,3115.8 L1306.6,3129.5 L1308.0,3142.9 L1309.3,3151.9 L1310.7,3167.7 L1312.0,3175.9 L1313.4,3186.8 L1314.7,3195.0 L1316.1,3204.3 L1317.4,3214.6 L1318.8,3226.9 L1320.1,3235.6 L1321.5,3245.1 L1322.8,3251.3 L1324.2,3256.0 L1325.5,3262.8 L1326.9,3263.8 L1328.2,3268.5 L1329.6,3273.2 L1330.9,3278.2 L1332.3,3280.7 L1333.6,3286.9 L1335.0,3289.1 L1336.3,3292.4 L1337.7,3297.0 L1339.0,3298.5 L1340.4,3299.1 L1341.7,3305.0 L1343.1,3308.8 L1344.4,3308.6 L1345.8,3311.0 L1347.1,3311.5 L1348.5,3312.7 L1349.8,3316.6 L1351.2,3313.3 L1352.5,3317.4 L1353.9,3317.2 L1355.2,3319.2 L1356.6,3319.2 L1357.9,3321.6 L1359.3,3326.1 L1360.6,3324.3 L1362.0,3327.0 L1363.3,3328.3 L1364.7,3326.6 L1366.0,3331.6 L1367.4,3331.9 L1368.7,3334.2 L1370.1,3333.4 L1371.4,3335.2 L1372.8,3335.5 L1374.1,3337.5 L1375.5,3336.8 L1376.8,3338.8 L1378.2,3343.6 L1379.5,3340.5 L1380.9,3341.1 L1382.2,3341.2 L1383.6,3343.9 L1384.9,3343.2 L1386.3,3343.1 L1387.6,3343.1 L1389.0,3341.1 L1390.3,3343.3 L1391.7,3344.7 L1393.0,3343.0 L1394.4,3341.7 L1395.7,3343.5 L1397.1,3344.7 L1398.4,3343.6 L1399.8,3340.2 L1401.1,3343.7 L1402.5,3346.4 L1403.8,3344.9 L1405.2,3347.7 L1406.5,3344.8 L1407.9,3347.0 L1409.2,3342.9 L1410.6,3341.9 L1411.9,3340.8 L1413.3,3343.3 L1414.6,3337.9 L1416.0,3334.8 L1417.3,3335.7 L1418.7,3333.9 L1420.0,3335.3 L1421.4,3328.8 L1422.7,3327.9 L1424.1,3329.9 L1425.4,3329.6 L1426.8,3328.8 L1428.1,3329.6 L1429.5,3323.6 L1430.8,3323.1 L1432.2,3322.5 L1433.5,3321.4 L1434.9,3319.9 L1436.2,3321.3 L1437.6,3319.9 L1438.9,3321.4 L1440.3,3324.1 L1441.6,3325.5 L1443.0,3320.4 L1444.3,3324.9 L1445.7,3319.1 L1447.0,3320.0 L1448.4,3318.8 L1449.7,3315.5 L1451.1,3313.9 L1452.4,3313.8 L1453.8,3311.9 L1455.1,3309.4 L1456.5,3313.2 L1457.8,3311.2 L1459.2,3307.5 L1460.5,3307.9 L1461.9,3304.2 L1463.2,3302.2 L1464.6,3299.3 L1465.9,3296.2 L1467.3,3293.8 L1468.6,3289.7 L1470.0,3292.1 L1471.3,3293.0 L1472.7,3290.8 L1474.0,3285.6 L1475.4,3280.9 L1476.7,3278.7 L1478.1,3275.5 L1479.4,3274.3 L1480.8,3269.4 L1482.1,3266.3 L1483.5,3270.1 L1484.8,3264.5 L1486.2,3264.0 L1487.5,3260.2 L1488.9,3251.2 L1490.2,3250.6 L1491.6,3246.9 L1492.9,3244.4 L1494.3,3241.5 L1495.6,3236.2 L1497.0,3233.1 L1498.3,3228.1 L1499.7,3224.8 L1501.0,3217.1 L1502.4,3214.0 L1503.7,3210.9 L1505.1,3204.4 L1506.4,3198.0 L1507.8,3196.2 L1509.1,3189.9 L1510.5,3183.2 L1511.8,3179.0 L1513.2,3172.9 L1514.5,3169.3 L1515.9,3159.1 L1517.2,3156.3 L1518.6,3154.0 L1519.9,3151.0 L1521.3,3153.5 L1522.6,3144.3 L1524.0,3151.7 L1525.3,3149.1 L1526.7,3147.1 L1528.0,3156.2 L1529.4,3163.2 L1530.7,3170.5 L1532.1,3175.9 L1533.4,3179.8 L1534.8,3186.1 L1536.1,3196.0 L1537.5,3203.0 L1538.8,3210.9 L1540.2,3219.2 L1541.5,3227.4 L1542.9,3234.3 L1544.2,3241.5 L1545.6,3252.8 L1546.9,3258.6 L1548.3,3260.3 L1549.6,3266.2 L1551.0,3270.8 L1552.3,3276.0 L1553.7,3282.7 L1555.0,3285.3 L1556.4,3289.5 L1557.7,3294.3 L1559.1,3298.8 L1560.4,3301.6 L1561.8,3304.6 L1563.1,3305.8 L1564.5,3306.2 L1565.8,3308.5 L1567.2,3311.4 L1568.5,3310.0 L1569.9,3312.9 L1571.2,3315.2 L1572.6,3320.3 L1573.9,3319.5 L1575.3,3317.6 L1576.6,3322.8 L1578.0,3321.4 L1579.3,3326.9 L1580.7,3326.0 L1582.0,3321.6 L1583.4,3321.1 L1584.7,3326.7 L1586.1,3329.0 L1587.4,3327.2 L1588.8,3326.1 L1590.1,3323.7 L1591.5,3327.3 L1592.8,3325.3 L1594.2,3322.5 L1595.5,3328.9 L1596.9,3328.3 L1598.2,3326.2 L1599.6,3327.3 L1600.9,3329.8 L1602.3,3331.7 L1603.6,3327.1 L1605.0,3330.2 L1606.3,3331.6 L1607.7,3332.9 L1609.0,3333.0 L1610.4,3331.2 L1611.7,3328.9 L1613.1,3331.0 L1614.4,3329.9 L1615.8,3329.5 L1617.1,3331.4 L1618.5,3328.0 L1619.8,3330.7 L1621.2,3330.9 L1622.5,3329.7 L1623.9,3332.1 L1625.2,3331.6 L1626.6,3329.4 L1627.9,3329.4 L1629.3,3329.3 L1630.6,3327.1 L1632.0,3329.3 L1633.3,3330.6 L1634.7,3332.2 L1636.0,3333.3 L1637.4,3327.5 L1638.7,3330.6 L1640.1,3331.8 L1641.4,3331.9 L1642.8,3332.9 L1644.1,3327.0 L1645.5,3328.6 L1646.8,3327.8 L1648.2,3330.4 L1649.5,3328.1 L1650.9,3332.3 L1652.2,3331.9 L1653.6,3329.1 L1654.9,3325.6" fill="none" stroke="#00f" stroke-width="3.0" stroke-linejoin="round" stroke-linecap="round"/>
<path d="M56.5,3335.7 L57.9,3335.2 L59.2,3335.3 L60.6,3333.2 L61.9,3335.4 L63.3,3337.4 L64.6,3336.8 L66.0,3335.6 L67.3,3334.3 L68.7,3334.9 L70.0,3336.0 L71.4,3332.1 L72.7,3334.1 L74.1,3334.5 L75.4,3333.8 L76.8,3331.2 L78.1,3332.0 L79.5,3332.7 L80.8,3334.0 L82.2,3335.1 L83.5,3334.1 L84.9,3334.4 L86.2,3334.6 L87.6,3335.8 L88.9,3332.8 L90.3,3333.5 L91.6,3336.7 L93.0,3334.6 L94.3,3331.3 L95.7,3331.5 L97.0,3331.0 L98.4,3330.9 L99.7,3335.7 L101.1,3334.1 L102.4,3330.9 L103.8,3335.2 L105.1,3335.6 L106.5,3332.8 L107.8,3333.0 L109.2,3333.8 L110.5,3333.8 L111.9,3334.5 L113.2,3337.3 L114.6,3336.3 L115.9,3336.1 L117.3,3337.7 L118.6,3335.8 L120.0,3334.4 L121.3,3337.4 L122.7,3335.6 L124.0,3334.2 L125.4,3337.4 L126.7,3335.6 L128.1,3334.9 L129.4,3338.3 L130.8,3337.3 L132.1,3337.9 L133.5,3337.9 L134.8,3337.1 L136.2,3336.4 L137.5,3332.6 L138.9,3334.5 L140.2,3334.3 L141.6,3334.4 L142.9,3337.1 L144.3,3339.4 L145.6,3335.5 L147.0,3333.2 L148.3,3338.9 L149.7,3334.6 L151.0,3332.6 L152.4,3336.0 L153.7,3337.4 L155.1,3336.4 L156.4,3337.1 L157.8,3334.5 L159.1,3333.9 L160.5,3336.7 L161.8,3337.3 L163.2,3334.0 L164.5,3335.9 L165.9,3335.5 L167.2,3339.0 L168.6,3333.5 L169.9,3336.6 L171.3,3335.2 L172.6,3336.1 L174.0,3338.2 L175.3,3337.6 L176.7,3338.2 L178.0,3336.8 L179.4,3335.9 L180.7,3336.3 L182.1,3337.4 L183.4,3336.5 L184.8,3337.4 L186.1,3335.5 L187.5,3334.2 L188.8,3335.4 L190.2,3333.8 L191.5,3331.2 L192.9,3333.1 L194.2,3331.1 L195.6,3332.0 L196.9,3328.5 L198.3,3331.0 L199.6,3328.7 L201.0,3328.1 L202.3,3325.9 L203.7,3322.6 L205.0,3318.6 L206.4,3315.8 L207.7,3313.9 L209.1,3309.4 L210.4,3307.4 L211.8,3307.2 L213.1,3300.6 L214.5,3301.2 L215.8,3296.0 L217.2,3293.9 L218.5,3291.7 L219.9,3286.7 L221.2,3284.3 L222.6,3280.5 L223.9,3281.2 L225.3,3277.2 L226.6,3277.0 L228.0,3274.3 L229.3,3269.6 L230.7,3270.8 L232.0,3272.4 L233.4,3272.8 L234.7,3272.9 L236.1,3276.5 L237.4,3275.0 L238.8,3279.5 L240.1,3282.0 L241.5,3281.2 L242.8,3284.5 L244.2,3286.3 L245.5,3292.4 L246.9,3298.5 L248.2,3299.3 L249.6,3303.3 L250.9,3307.1 L252.3,3308.6 L253.6,3314.0 L255.0,3313.2 L256.3,3315.8 L257.7,3318.6 L259.0,3321.8 L260.4,3323.6 L261.7,3325.6 L263.1,3325.6 L264.4,3325.6 L265.8,3328.2 L267.1,3330.4 L268.5,3330.2 L269.8,3328.7 L271.2,3330.9 L272.5,3331.4 L273.9,3331.1 L275.2,3329.9 L276.6,3333.3 L277.9,3332.8 L279.3,3336.2 L280.6,3333.1 L282.0,3333.9 L283.3,3335.7 L284.7,3334.6 L286.0,3334.8 L287.4,3337.1 L288.7,3334.0 L290.1,3332.1 L291.4,3333.7 L292.8,3336.4 L294.1,3335.5 L295.5,3333.5 L296.8,3333.4 L298.2,3335.0 L299.5,3335.7 L300.9,3334.1 L302.2,3335.0 L303.6,3335.0 L304.9,3332.6 L306.3,3334.9 L307.6,3335.0 L309.0,3332.5 L310.3,3328.7 L311.7,3331.7 L313.0,3334.2 L314.4,3333.7 L315.7,3327.4 L317.1,3333.5 L318.4,3327.7 L319.8,3329.4 L321.1,3327.6 L322.5,3326.5 L323.8,3323.5 L325.2,3319.9 L326.5,3322.3 L327.9,3319.2 L329.2,3316.4 L330.6,3322.5 L331.9,3315.7 L333.3,3313.0 L334.6,3308.9 L336.0,3310.6 L337.3,3308.1 L338.7,3307.2 L340.0,3301.6 L341.4,3295.3 L342.7,3295.6 L344.1,3291.7 L345.4,3288.8 L346.8,3287.8 L348.1,3282.2 L349.5,3278.3 L350.8,3274.9 L352.2,3274.1 L353.5,3268.1 L354.9,3263.5 L356.2,3262.2 L357.6,3254.9 L358.9,3250.0 L360.3,3246.2 L361.6,3239.0 L363.0,3236.6 L364.3,3233.5 L365.7,3233.2 L367.0,3233.2 L368.4,3228.9 L369.7,3229.8 L371.1,3225.6 L372.4,3223.6 L373.8,3224.2 L375.1,3227.3 L376.5,3228.0 L377.8,3225.9 L379.2,3226.9 L380.5,3230.2 L381.9,3229.5 L383.2,3232.1 L384.6,3233.5 L385.9,3234.8 L387.3,3233.6 L388.6,3232.5 L390.0,3233.8 L391.3,3231.1 L392.7,3235.1 L394.0,3238.6 L395.4,3242.3 L396.7,3241.7 L398.1,3245.9 L399.4,3252.6 L400.8,3255.7 L402.1,3260.6 L403.5,3264.6 L404.8,3270.3 L406.2,3275.1 L407.5,3277.2 L408.9,3277.9 L410.2,3281.5 L411.6,3279.6 L412.9,3285.2 L414.3,3283.0 L415.6,3278.7 L417.0,3282.9 L418.3,3279.5 L419.7,3271.9 L421.0,3271.7 L422.4,3270.6 L423.7,3266.2 L425.1,3260.2 L426.4,3258.7 L427.8,3254.8 L429.1,3252.3 L430.5,3254.6 L431.8,3252.3 L433.2,3254.0 L434.5,3249.1 L435.9,3250.7 L437.2,3248.6 L438.6,3249.8 L439.9,3252.4 L441.3,3250.8 L442.6,3253.0 L444.0,3251.5 L445.3,3249.8 L446.7,3252.4 L448.0,3253.1 L449.4,3249.2 L450.7,3245.6 L452.1,3238.9 L453.4,3230.7 L454.8,3224.2 L456.1,3219.6 L457.5,3212.7 L458.8,3208.6 L460.2,3204.2 L461.5,3194.1 L462.9,3186.3 L464.2,3180.1 L465.6,3175.6 L466.9,3173.8 L468.3,3173.9 L469.6,3178.1 L471.0,3183.0 L472.3,3191.4 L473.7,3197.8 L475.0,3205.0 L476.4,3211.3 L477.7,3224.5 L479.1,3232.6 L480.4,3242.0 L481.8,3248.0 L483.1,3257.0 L484.5,3263.5 L485.8,3272.5 L487.2,3281.4 L488.5,3282.5 L489.9,3287.0 L491.2,3286.1 L492.6,3284.8 L493.9,3285.7 L495.3,3285.5 L496.6,3283.2 L498.0,3286.9 L499.3,3283.8 L500.7,3278.4 L502.0,3271.6 L503.4,3264.9 L504.7,3257.0 L506.1,3248.6 L507.4,3241.1 L508.8,3238.4 L510.1,3229.3 L511.5,3223.0 L512.8,3214.2 L514.2,3208.6 L515.5,3206.0 L516.9,3200.6 L518.2,3191.8 L519.6,3191.4 L520.9,3193.7 L522.3,3190.7 L523.6,3199.3 L525.0,3202.1 L526.3,3206.3 L527.7,3214.6 L529.0,3217.9 L530.4,3226.8 L531.7,3235.8 L533.1,3240.9 L534.4,3246.7 L535.8,3252.5 L537.1,3256.4 L538.5,3263.1 L539.8,3263.6 L541.2,3270.8 L542.5,3270.9 L543.9,3274.8 L545.2,3274.2 L546.6,3273.0 L547.9,3278.2 L549.3,3277.0 L550.6,3281.5 L552.0,3287.2 L553.3,3284.1 L554.7,3283.6 L556.0,3288.0 L557.4,3288.1 L558.7,3291.9 L560.1,3293.6 L561.4,3292.7 L562.8,3292.6 L564.1,3294.2 L565.5,3295.0 L566.8,3294.7 L568.2,3293.8 L569.5,3293.3 L570.9,3292.0 L572.2,3295.3 L573.6,3293.2 L574.9,3290.4 L576.3,3288.9 L577.6,3288.7 L579.0,3287.2 L580.3,3283.4 L581.7,3280.1 L583.0,3277.8 L584.4,3271.6 L585.7,3270.5 L587.1,3270.9 L588.4,3265.0 L589.8,3263.1 L591.1,3257.7 L592.5,3249.6 L593.8,3243.5 L595.2,3239.9 L596.5,3229.5 L597.9,3220.3 L599.2,3213.1 L600.6,3200.6 L601.9,3186.5 L603.3,3177.2 L604.6,3165.2 L606.0,3147.9 L607.3,3138.2 L608.7,3126.9 L610.0,3112.6 L611.4,3095.9 L612.7,3083.1 L614.1,3071.5 L615.4,3062.0 L616.8,3049.9 L618.1,3044.5 L619.5,3040.9 L620.8,3044.9 L622.2,3052.6 L623.5,3057.7 L624.9,3068.9 L626.2,3081.5 L627.6,3095.0 L628.9,3114.4 L630.3,3132.9 L631.6,3152.5 L633.0,3165.9 L634.3,3186.4 L635.7,3204.6 L637.0,3221.1 L638.4,3235.8 L639.7,3246.3 L641.1,3256.7 L642.4,3264.3 L643.8,3274.8 L645.1,3280.3 L646.5,3283.1 L647.8,3288.8 L649.2,3293.6 L650.5,3296.3 L651.9,3298.3 L653.2,3302.4 L654.6,3303.5 L655.9,3306.6 L657.3,3309.9 L658.6,3308.5 L660.0,3311.6 L661.3,3315.2 L662.7,3314.2 L664.0,3316.3 L665.4,3314.4 L666.7,3315.5 L668.1,3317.7 L669.4,3322.9 L670.8,3319.4 L672.1,3319.0 L673.5,3318.7 L674.8,3320.1 L676.2,3321.9 L677.5,3319.5 L678.9,3322.9 L680.2,3322.8 L681.6,3323.4 L682.9,3320.3 L684.3,3321.4 L685.6,3318.7 L687.0,3321.4 L688.3,3321.8 L689.7,3320.8 L691.0,3319.4 L692.4,3323.6 L693.7,3322.0 L695.1,3322.0 L696.4,3321.4 L697.8,3321.4 L699.1,3325.2 L700.5,3324.8 L701.8,3324.7 L703.2,3327.3 L704.5,3327.8 L705.9,3327.8 L707.2,3329.5 L708.6,3328.9 L709.9,3327.7 L711.3,3329.6 L712.6,3326.9 L714.0,3331.7 L715.3,3332.5 L716.7,3329.5 L718.0,3329.6 L719.4,3327.0 L720.7,3328.8 L722.1,3327.6 L723.4,3328.1 L724.8,3329.6 L726.1,3329.7 L727.5,3330.6 L728.8,3326.6 L730.2,3329.8 L731.5,3326.7 L732.9,3330.0 L734.2,3331.7 L735.6,3329.4 L736.9,3327.8 L738.3,3327.2 L739.6,3329.0 L741.0,3331.3 L742.3,3331.5 L743.7,3329.5 L745.0,3329.5 L746.4,3330.5 L747.7,3334.8 L749.1,3334.4 L750.4,3342.3 L751.8,3341.0 L753.1,3340.5 L754.5,3343.6 L755.8,3345.7 L757.2,3345.0 L758.5,3347.0 L759.9,3346.1 L761.2,3348.5 L762.6,3349.7 L763.9,3347.8 L765.3,3349.8 L766.6,3345.4 L768.0,3341.0 L769.3,3335.8 L770.7,3333.6 L772.0,3334.2 L773.4,3331.1 L774.7,3332.0 L776.1,3331.1 L777.4,3330.5 L778.8,3326.3 L780.1,3329.5 L781.5,3329.1 L782.8,3327.2 L784.2,3329.8 L785.5,3326.0 L786.9,3329.5 L788.2,3327.3 L789.6,3328.8 L790.9,3325.1 L792.3,3328.6 L793.6,3327.5 L795.0,3328.3 L796.3,3326.0 L797.7,3327.3 L799.0,3330.7 L800.4,3326.1 L801.7,3326.7 L803.1,3326.3 L804.4,3325.2 L805.8,3329.5 L807.1,3330.0 L808.5,3326.8 L809.8,3324.6 L811.2,3328.0 L812.5,3328.8 L813.9,3328.8 L815.2,3328.8 L816.6,3324.5 L817.9,3325.5 L819.3,3325.7 L820.6,3325.7 L822.0,3327.7 L823.3,3323.0 L824.7,3326.9 L826.0,3324.4 L827.4,3320.1 L828.7,3321.7 L830.1,3323.1 L831.4,3319.4 L832.8,3317.2 L834.1,3320.7 L835.5,3321.8 L836.8,3318.1 L838.2,3319.1 L839.5,3322.3 L840.9,3319.8 L842.2,3317.1 L843.6,3317.7 L844.9,3317.7 L846.3,3321.3 L847.6,3322.9 L849.0,3325.2 L850.3,3326.2 L851.7,3323.6 L853.0,3326.5 L854.4,3329.2 L855.7,3329.9 L857.1,3331.6 L858.4,3330.0 L859.8,3329.0 L861.1,3332.1 L862.5,3329.5 L863.8,3327.1 L865.2,3333.1 L866.5,3332.5 L867.9,3333.4 L869.2,3331.2 L870.6,3331.4 L871.9,3333.0 L873.3,3334.2 L874.6,3334.5 L876.0,3331.9 L877.3,3339.1 L878.7,3337.7 L880.0,3337.4 L881.4,3340.2 L882.7,3341.0 L884.1,3337.7 L885.4,3342.3 L886.8,3341.9 L888.1,3344.7 L889.5,3346.1 L890.8,3348.7 L892.2,3345.7 L893.5,3347.5 L894.9,3345.9 L896.2,3348.0 L897.6,3345.1 L898.9,3346.8 L900.3,3351.3 L901.6,3348.3 L903.0,3346.2 L904.3,3349.0 L905.7,3347.1 L907.0,3344.9 L908.4,3346.5 L909.7,3342.6 L911.1,3343.8 L912.4,3343.7 L913.8,3341.3 L915.1,3341.5 L916.5,3340.0 L917.8,3337.6 L919.2,3336.9 L920.5,3338.5 L921.9,3332.9 L923.2,3335.7 L924.6,3336.7 L925.9,3335.9 L927.3,3335.4 L928.6,3333.2 L930.0,3335.2 L931.3,3333.7 L932.7,3332.0 L934.0,3329.0 L935.4,3329.6 L936.7,3331.2 L938.1,3329.2 L939.4,3330.8 L940.8,3330.3 L942.1,3329.6 L943.5,3330.1 L944.8,3327.6 L946.2,3325.7 L947.5,3326.9 L948.9,3326.7 L950.2,3329.1 L951.6,3327.5 L952.9,3326.8 L954.3,3324.3 L955.6,3324.6 L957.0,3323.4 L958.3,3320.6 L959.7,3319.8 L961.0,3320.1 L962.4,3319.5 L963.7,3315.0 L965.1,3316.5 L966.4,3314.7 L967.8,3315.4 L969.1,3312.0 L970.5,3310.8 L971.8,3312.5 L973.2,3306.7 L974.5,3302.9 L975.9,3300.6 L977.2,3297.7 L978.6,3298.1 L979.9,3293.7 L981.3,3292.4 L982.6,3284.8 L984.0,3282.3 L985.3,3278.9 L986.7,3277.1 L988.0,3269.1 L989.4,3266.5 L990.7,3265.0 L992.1,3264.0 L993.4,3264.6 L994.8,3260.6 L996.1,3256.4 L997.5,3261.0 L998.8,3259.7 L1000.2,3256.3 L1001.5,3256.0 L1002.9,3260.2 L1004.2,3258.0 L1005.6,3258.1 L1006.9,3259.4 L1008.3,3258.4 L1009.6,3259.0 L1011.0,3256.8 L1012.3,3255.0 L1013.7,3254.8 L1015.0,3256.3 L1016.4,3257.6 L1017.7,3256.9 L1019.1,3256.0 L1020.4,3254.1 L1021.8,3255.7 L1023.1,3255.0 L1024.5,3255.3 L1025.8,3256.3 L1027.2,3256.1 L1028.5,3255.8 L1029.9,3256.9 L1031.2,3263.5 L1032.6,3265.0 L1033.9,3268.1 L1035.3,3269.5 L1036.6,3271.8 L1038.0,3269.3 L1039.3,3268.6 L1040.7,3268.1 L1042.0,3267.2 L1043.4,3265.5 L1044.7,3261.7 L1046.1,3263.2 L1047.4,3257.5 L1048.8,3259.1 L1050.1,3254.7 L1051.5,3256.8 L1052.8,3252.2 L1054.2,3250.6 L1055.5,3249.6 L1056.9,3249.2 L1058.2,3247.6 L1059.6,3249.2 L1060.9,3246.5 L1062.3,3246.8 L1063.6,3244.3 L1065.0,3243.9 L1066.3,3243.3 L1067.7,3242.0 L1069.0,3240.7 L1070.4,3241.8 L1071.7,3242.3 L1073.1,3236.6 L1074.4,3237.6 L1075.8,3236.0 L1077.1,3238.6 L1078.5,3235.8 L1079.8,3233.6 L1081.2,3231.5 L1082.5,3232.9 L1083.9,3229.1 L1085.2,3226.1 L1086.6,3226.2 L1087.9,3222.8 L1089.3,3216.5 L1090.6,3215.6 L1092.0,3209.1 L1093.3,3201.5 L1094.7,3196.8 L1096.0,3191.7 L1097.4,3181.0 L1098.7,3173.5 L1100.1,3171.2 L1101.4,3164.9 L1102.8,3155.5 L1104.1,3148.0 L1105.5,3140.1 L1106.8,3133.4 L1108.2,3125.8 L1109.5,3121.8 L1110.9,3121.1 L1112.2,3125.4 L1113.6,3132.8 L1114.9,3138.3 L1116.3,3147.5 L1117.6,3158.0 L1119.0,3170.8 L1120.3,3182.0 L1121.7,3195.6 L1123.0,3205.8 L1124.4,3217.8 L1125.7,3227.2 L1127.1,3236.8 L1128.4,3248.3 L1129.8,3258.6 L1131.1,3264.9 L1132.5,3270.3 L1133.8,3275.6 L1135.2,3278.8 L1136.5,3283.0 L1137.9,3284.9 L1139.2,3290.1 L1140.6,3292.6 L1141.9,3299.0 L1143.3,3298.1 L1144.6,3296.7 L1146.0,3300.7 L1147.3,3302.2 L1148.7,3301.7 L1150.0,3304.8 L1151.4,3307.3 L1152.7,3308.8 L1154.1,3310.4 L1155.4,3311.8 L1156.8,3313.0 L1158.1,3311.0 L1159.5,3312.9 L1160.8,3314.0 L1162.2,3315.5 L1163.5,3318.6 L1164.9,3316.5 L1166.2,3319.8 L1167.6,3321.5 L1168.9,3320.1 L1170.3,3322.7 L1171.6,3323.1 L1173.0,3324.9 L1174.3,3322.3 L1175.7,3321.0 L1177.0,3318.8 L1178.4,3318.9 L1179.7,3320.0 L1181.1,3321.0 L1182.4,3317.8 L1183.8,3317.4 L1185.1,3314.3 L1186.5,3312.9 L1187.8,3311.3 L1189.2,3312.1 L1190.5,3309.7 L1191.9,3312.2 L1193.2,3310.3 L1194.6,3305.9 L1195.9,3306.6 L1197.3,3308.8 L1198.6,3305.8 L1200.0,3301.5 L1201.3,3305.2 L1202.7,3303.5 L1204.0,3300.1 L1205.4,3302.2 L1206.7,3300.1 L1208.1,3298.2 L1209.4,3297.5 L1210.8,3293.6 L1212.1,3291.5 L1213.5,3289.7 L1214.8,3283.5 L1216.2,3281.3 L1217.5,3279.8 L1218.9,3271.4 L1220.2,3265.8 L1221.6,3261.5 L1222.9,3258.5 L1224.3,3256.1 L1225.6,3249.1 L1227.0,3249.3 L1228.3,3244.5 L1229.7,3243.6 L1231.0,3241.0 L1232.4,3240.6 L1233.7,3239.5 L1235.1,3237.8 L1236.4,3233.0 L1237.8,3234.4 L1239.1,3231.8 L1240.5,3227.7 L1241.8,3224.2 L1243.2,3224.5 L1244.5,3218.4 L1245.9,3216.3 L1247.2,3214.0 L1248.6,3210.3 L1249.9,3205.4 L1251.3,3200.5 L1252.6,3200.6 L1254.0,3191.5 L1255.3,3190.4 L1256.7,3182.6 L1258.0,3175.4 L1259.4,3168.7 L1260.7,3162.2 L1262.1,3152.4 L1263.4,3139.4 L1264.8,3128.4 L1266.1,3118.6 L1267.5,3106.4 L1268.8,3097.3 L1270.2,3083.7 L1271.5,3072.6 L1272.9,3055.0 L1274.2,3045.5 L1275.6,3029.7 L1276.9,3015.8 L1278.3,3007.6 L1279.6,2994.5 L1281.0,2986.4 L1282.3,2977.3 L1283.7,2974.8 L1285.0,2973.5 L1286.4,2971.9 L1287.7,2970.1 L1289.1,2976.4 L1290.4,2981.8 L1291.8,2988.4 L1293.1,2997.0 L1294.5,3004.3 L1295.8,3016.5 L1297.2,3036.0 L1298.5,3047.6 L1299.9,3066.2 L1301.2,3081.5 L1302.6,3093.6 L1303.9,3105.4 L1305.3,3120.5 L1306.6,3136.8 L1308.0,3149.9 L1309.3,3162.3 L1310.7,3176.0 L1312.0,3183.6 L1313.4,3197.3 L1314.7,3206.4 L1316.1,3217.9 L1317.4,3226.5 L1318.8,3236.4 L1320.1,3247.8 L1321.5,3253.7 L1322.8,3255.8 L1324.2,3267.5 L1325.5,3271.2 L1326.9,3280.1 L1328.2,3287.7 L1329.6,3287.3 L1330.9,3291.5 L1332.3,3295.0 L1333.6,3299.3 L1335.0,3302.2 L1336.3,3305.3 L1337.7,3306.1 L1339.0,3312.3 L1340.4,3310.9 L1341.7,3315.2 L1343.1,3318.0 L1344.4,3320.0 L1345.8,3318.3 L1347.1,3319.1 L1348.5,3321.2 L1349.8,3324.0 L1351.2,3328.4 L1352.5,3323.6 L1353.9,3325.2 L1355.2,3328.6 L1356.6,3331.1 L1357.9,3332.4 L1359.3,3334.6 L1360.6,3334.5 L1362.0,3337.2 L1363.3,3338.0 L1364.7,3341.4 L1366.0,3336.1 L1367.4,3341.1 L1368.7,3340.6 L1370.1,3341.0 L1371.4,3340.7 L1372.8,3338.0 L1374.1,3340.2 L1375.5,3339.6 L1376.8,3339.9 L1378.2,3336.4 L1379.5,3340.7 L1380.9,3340.3 L1382.2,3340.1 L1383.6,3338.6 L1384.9,3338.2 L1386.3,3337.6 L1387.6,3337.2 L1389.0,3338.2 L1390.3,3338.7 L1391.7,3336.3 L1393.0,3336.8 L1394.4,3336.2 L1395.7,3337.9 L1397.1,3339.7 L1398.4,3338.9 L1399.8,3338.1 L1401.1,3336.1 L1402.5,3336.2 L1403.8,3335.9 L1405.2,3340.2 L1406.5,3337.8 L1407.9,3340.4 L1409.2,3340.3 L1410.6,3341.2 L1411.9,3343.6 L1413.3,3339.2 L1414.6,3338.8 L1416.0,3339.2 L1417.3,3342.0 L1418.7,3339.3 L1420.0,3339.2 L1421.4,3337.7 L1422.7,3337.9 L1424.1,3340.4 L1425.4,3344.0 L1426.8,3340.6 L1428.1,3342.6 L1429.5,3342.3 L1430.8,3341.4 L1432.2,3341.7 L1433.5,3340.4 L1434.9,3340.1 L1436.2,3343.4 L1437.6,3338.2 L1438.9,3343.9 L1440.3,3343.6 L1441.6,3341.3 L1443.0,3341.7 L1444.3,3342.1 L1445.7,3341.5 L1447.0,3341.2 L1448.4,3341.8 L1449.7,3339.1 L1451.1,3343.0 L1452.4,3342.5 L1453.8,3339.4 L1455.1,3339.5 L1456.5,3336.4 L1457.8,3337.9 L1459.2,3336.8 L1460.5,3337.4 L1461.9,3337.6 L1463.2,3333.2 L1464.6,3335.9 L1465.9,3333.1 L1467.3,3333.7 L1468.6,3333.7 L1470.0,3331.7 L1471.3,3331.5 L1472.7,3337.4 L1474.0,3333.5 L1475.4,3330.5 L1476.7,3328.8 L1478.1,3331.4 L1479.4,3333.5 L1480.8,3330.2 L1482.1,3326.9 L1483.5,3327.9 L1484.8,3330.4 L1486.2,3326.0 L1487.5,3326.9 L1488.9,3325.2 L1490.2,3322.9 L1491.6,3322.3 L1492.9,3322.7 L1494.3,3324.1 L1495.6,3319.5 L1497.0,3323.4 L1498.3,3320.9 L1499.7,3317.1 L1501.0,3317.1 L1502.4,3317.5 L1503.7,3314.2 L1505.1,3310.6 L1506.4,3310.8 L1507.8,3312.1 L1509.1,3312.4 L1510.5,3308.3 L1511.8,3304.7 L1513.2,3300.8 L1514.5,3298.3 L1515.9,3294.9 L1517.2,3289.3 L1518.6,3285.1 L1519.9,3283.7 L1521.3,3278.1 L1522.6,3272.6 L1524.0,3272.3 L1525.3,3269.1 L1526.7,3270.2 L1528.0,3267.1 L1529.4,3265.1 L1530.7,3266.3 L1532.1,3266.1 L1533.4,3264.1 L1534.8,3265.8 L1536.1,3269.9 L1537.5,3267.7 L1538.8,3267.9 L1540.2,3267.9 L1541.5,3271.2 L1542.9,3270.8 L1544.2,3272.9 L1545.6,3275.0 L1546.9,3279.2 L1548.3,3285.7 L1549.6,3290.3 L1551.0,3292.7 L1552.3,3298.8 L1553.7,3301.3 L1555.0,3303.1 L1556.4,3308.6 L1557.7,3309.5 L1559.1,3316.3 L1560.4,3317.2 L1561.8,3318.1 L1563.1,3320.8 L1564.5,3321.8 L1565.8,3324.6 L1567.2,3326.0 L1568.5,3327.9 L1569.9,3327.8 L1571.2,3325.0 L1572.6,3331.5 L1573.9,3327.6 L1575.3,3330.4 L1576.6,3331.9 L1578.0,3331.5 L1579.3,3330.8 L1580.7,3332.1 L1582.0,3332.3 L1583.4,3329.3 L1584.7,3329.4 L1586.1,3329.3 L1587.4,3332.8 L1588.8,3333.6 L1590.1,3335.6 L1591.5,3332.3 L1592.8,3331.8 L1594.2,3334.0 L1595.5,3335.8 L1596.9,3335.1 L1598.2,3335.0 L1599.6,3335.8 L1600.9,3335.9 L1602.3,3337.6 L1603.6,3334.4 L1605.0,3334.9 L1606.3,3336.6 L1607.7,3335.0 L1609.0,3334.9 L1610.4,3333.8 L1611.7,3337.5 L1613.1,3335.8 L1614.4,3337.9 L1615.8,3336.4 L1617.1,3332.9 L1618.5,3333.6 L1619.8,3336.4 L1621.2,3337.4 L1622.5,3335.9 L1623.9,3333.3 L1625.2,3332.1 L1626.6,3333.5 L1627.9,3333.7 L1629.3,3337.6 L1630.6,3336.7 L1632.0,3338.7 L1633.3,3336.8 L1634.7,3335.5 L1636.0,3334.6 L1637.4,3330.5 L1638.7,3333.4 L1640.1,3333.2 L1641.4,3337.3 L1642.8,3335.9 L1644.1,3334.3 L1645.5,3335.6 L1646.8,3336.0 L1648.2,3336.2 L1649.5,3333.0 L1650.9,3334.3 L1652.2,3332.9 L1653.6,3335.3 L1654.9,3334.7" fill="none" stroke="#000" stroke-width="3.1" stroke-linejoin="round" stroke-linecap="round"/>
<path d="M56.5,4419.9 L57.9,4421.0 L59.2,4418.7 L60.6,4420.9 L61.9,4426.3 L63.3,4423.9 L64.6,4425.5 L66.0,4426.5 L67.3,4423.8 L68.7,4423.2 L70.0,4424.1 L71.4,4426.8 L72.7,4426.9 L74.1,4426.8 L75.4,4426.3 L76.8,4422.4 L78.1,4425.6 L79.5,4425.1 L80.8,4429.6 L82.2,4424.9 L83.5,4426.5 L84.9,4431.0 L86.2,4426.5 L87.6,4425.1 L88.9,4426.9 L90.3,4431.8 L91.6,4429.8 L93.0,4431.1 L94.3,4429.7 L95.7,4428.5 L97.0,4436.0 L98.4,4428.7 L99.7,4429.0 L101.1,4429.2 L102.4,4429.8 L103.8,4428.5 L105.1,4430.1 L106.5,4430.5 L107.8,4426.4 L109.2,4429.4 L110.5,4428.5 L111.9,4432.7 L113.2,4428.9 L114.6,4428.3 L115.9,4428.8 L117.3,4426.6 L118.6,4423.1 L120.0,4428.9 L121.3,4430.6 L122.7,4428.4 L124.0,4426.8 L125.4,4426.4 L126.7,4431.6 L128.1,4423.5 L129.4,4428.2 L130.8,4424.3 L132.1,4426.9 L133.5,4432.5 L134.8,4432.1 L136.2,4433.8 L137.5,4429.5 L138.9,4436.4 L140.2,4435.1 L141.6,4436.3 L142.9,4430.9 L144.3,4429.2 L145.6,4433.1 L147.0,4430.6 L148.3,4430.5 L149.7,4431.9 L151.0,4426.9 L152.4,4428.6 L153.7,4427.0 L155.1,4428.1 L156.4,4426.4 L157.8,4431.6 L159.1,4426.6 L160.5,4431.2 L161.8,4434.8 L163.2,4433.5 L164.5,4433.5 L165.9,4436.0 L167.2,4424.7 L168.6,4431.5 L169.9,4431.0 L171.3,4431.0 L172.6,4430.6 L174.0,4426.6 L175.3,4426.4 L176.7,4428.9 L178.0,4430.2 L179.4,4426.4 L180.7,4424.8 L182.1,4428.7 L183.4,4425.9 L184.8,4433.5 L186.1,4428.3 L187.5,4423.4 L188.8,4425.5 L190.2,4428.1 L191.5,4421.4 L192.9,4427.2 L194.2,4423.2 L195.6,4426.9 L196.9,4420.4 L198.3,4416.7 L199.6,4420.9 L201.0,4419.5 L202.3,4420.4 L203.7,4418.0 L205.0,4411.5 L206.4,4405.7 L207.7,4402.4 L209.1,4401.0 L210.4,4397.3 L211.8,4395.1 L213.1,4387.2 L214.5,4390.3 L215.8,4387.5 L217.2,4390.4 L218.5,4379.5 L219.9,4375.9 L221.2,4378.7 L222.6,4369.3 L223.9,4368.5 L225.3,4364.4 L226.6,4373.0 L228.0,4371.2 L229.3,4361.1 L230.7,4362.5 L232.0,4365.6 L233.4,4366.2 L234.7,4365.6 L236.1,4358.7 L237.4,4362.2 L238.8,4368.1 L240.1,4371.3 L241.5,4367.1 L242.8,4370.0 L244.2,4382.9 L245.5,4378.7 L246.9,4386.2 L248.2,4389.7 L249.6,4396.1 L250.9,4402.6 L252.3,4399.9 L253.6,4403.6 L255.0,4403.3 L256.3,4404.1 L257.7,4409.8 L259.0,4414.1 L260.4,4412.6 L261.7,4419.7 L263.1,4418.5 L264.4,4416.5 L265.8,4420.7 L267.1,4418.8 L268.5,4417.8 L269.8,4418.0 L271.2,4424.6 L272.5,4421.3 L273.9,4427.2 L275.2,4422.0 L276.6,4426.3 L277.9,4422.1 L279.3,4423.5 L280.6,4416.6 L282.0,4418.5 L283.3,4422.6 L284.7,4419.6 L286.0,4420.4 L287.4,4417.6 L288.7,4414.6 L290.1,4422.4 L291.4,4424.6 L292.8,4423.0 L294.1,4425.5 L295.5,4423.8 L296.8,4425.1 L298.2,4424.9 L299.5,4423.2 L300.9,4429.4 L302.2,4417.8 L303.6,4422.5 L304.9,4421.3 L306.3,4412.9 L307.6,4413.1 L309.0,4419.8 L310.3,4418.7 L311.7,4417.4 L313.0,4418.2 L314.4,4414.0 L315.7,4409.8 L317.1,4406.0 L318.4,4411.2 L319.8,4409.1 L321.1,4410.2 L322.5,4403.4 L323.8,4398.7 L325.2,4404.2 L326.5,4398.0 L327.9,4391.5 L329.2,4385.9 L330.6,4389.8 L331.9,4386.7 L333.3,4384.5 L334.6,4381.4 L336.0,4380.9 L337.3,4376.7 L338.7,4373.2 L340.0,4366.6 L341.4,4369.8 L342.7,4365.0 L344.1,4351.9 L345.4,4352.9 L346.8,4351.8 L348.1,4348.6 L349.5,4342.5 L350.8,4339.1 L352.2,4331.6 L353.5,4329.8 L354.9,4327.7 L356.2,4323.1 L357.6,4316.8 L358.9,4318.4 L360.3,4312.6 L361.6,4304.0 L363.0,4304.7 L364.3,4300.8 L365.7,4302.6 L367.0,4299.7 L368.4,4297.3 L369.7,4297.3 L371.1,4295.0 L372.4,4293.8 L373.8,4288.0 L375.1,4294.1 L376.5,4291.9 L377.8,4294.7 L379.2,4289.9 L380.5,4286.3 L381.9,4297.3 L383.2,4294.3 L384.6,4296.7 L385.9,4299.8 L387.3,4302.1 L388.6,4304.2 L390.0,4300.1 L391.3,4307.8 L392.7,4308.9 L394.0,4312.2 L395.4,4320.9 L396.7,4321.0 L398.1,4319.4 L399.4,4322.8 L400.8,4335.1 L402.1,4343.7 L403.5,4347.6 L404.8,4345.7 L406.2,4351.5 L407.5,4355.4 L408.9,4360.7 L410.2,4371.0 L411.6,4377.5 L412.9,4373.5 L414.3,4376.6 L415.6,4376.9 L417.0,4370.3 L418.3,4365.4 L419.7,4363.8 L421.0,4351.9 L422.4,4352.7 L423.7,4349.3 L425.1,4345.2 L426.4,4335.9 L427.8,4336.1 L429.1,4335.4 L430.5,4338.0 L431.8,4336.9 L433.2,4333.8 L434.5,4331.4 L435.9,4330.2 L437.2,4331.2 L438.6,4332.5 L439.9,4327.5 L441.3,4331.7 L442.6,4332.3 L444.0,4329.8 L445.3,4329.1 L446.7,4329.7 L448.0,4331.3 L449.4,4334.5 L450.7,4325.1 L452.1,4322.1 L453.4,4320.7 L454.8,4315.4 L456.1,4310.1 L457.5,4310.9 L458.8,4305.0 L460.2,4304.5 L461.5,4301.7 L462.9,4291.0 L464.2,4286.5 L465.6,4283.1 L466.9,4283.1 L468.3,4282.2 L469.6,4286.2 L471.0,4293.5 L472.3,4301.4 L473.7,4305.3 L475.0,4311.9 L476.4,4316.3 L477.7,4328.3 L479.1,4341.0 L480.4,4348.9 L481.8,4356.7 L483.1,4366.2 L484.5,4368.1 L485.8,4371.1 L487.2,4381.5 L488.5,4391.5 L489.9,4385.9 L491.2,4385.5 L492.6,4382.4 L493.9,4381.3 L495.3,4379.1 L496.6,4383.5 L498.0,4388.7 L499.3,4378.5 L500.7,4381.3 L502.0,4368.2 L503.4,4361.7 L504.7,4357.4 L506.1,4349.0 L507.4,4343.2 L508.8,4332.1 L510.1,4331.9 L511.5,4323.1 L512.8,4325.9 L514.2,4314.8 L515.5,4310.2 L516.9,4303.5 L518.2,4299.8 L519.6,4298.2 L520.9,4306.3 L522.3,4304.1 L523.6,4310.4 L525.0,4313.1 L526.3,4317.3 L527.7,4327.9 L529.0,4328.8 L530.4,4330.7 L531.7,4344.0 L533.1,4350.5 L534.4,4355.8 L535.8,4361.9 L537.1,4360.3 L538.5,4367.3 L539.8,4370.0 L541.2,4379.1 L542.5,4379.1 L543.9,4376.9 L545.2,4382.5 L546.6,4382.7 L547.9,4383.4 L549.3,4388.8 L550.6,4385.2 L552.0,4389.6 L553.3,4384.0 L554.7,4383.7 L556.0,4381.5 L557.4,4392.3 L558.7,4389.6 L560.1,4391.7 L561.4,4391.3 L562.8,4395.6 L564.1,4388.5 L565.5,4392.0 L566.8,4394.0 L568.2,4388.7 L569.5,4390.7 L570.9,4391.2 L572.2,4387.8 L573.6,4387.8 L574.9,4387.7 L576.3,4386.2 L577.6,4386.7 L579.0,4382.6 L580.3,4382.6 L581.7,4380.2 L583.0,4378.9 L584.4,4374.7 L585.7,4373.1 L587.1,4363.8 L588.4,4366.4 L589.8,4365.1 L591.1,4356.7 L592.5,4345.4 L593.8,4341.1 L595.2,4339.4 L596.5,4324.1 L597.9,4316.8 L599.2,4310.5 L600.6,4303.0 L601.9,4288.3 L603.3,4278.1 L604.6,4264.6 L606.0,4254.7 L607.3,4244.0 L608.7,4232.2 L610.0,4217.5 L611.4,4204.7 L612.7,4197.3 L614.1,4188.6 L615.4,4186.4 L616.8,4177.1 L618.1,4171.4 L619.5,4173.3 L620.8,4173.4 L622.2,4174.9 L623.5,4186.1 L624.9,4199.8 L626.2,4199.2 L627.6,4217.1 L628.9,4240.3 L630.3,4256.7 L631.6,4271.5 L633.0,4286.0 L634.3,4310.3 L635.7,4328.7 L637.0,4344.0 L638.4,4356.3 L639.7,4370.9 L641.1,4372.0 L642.4,4376.8 L643.8,4380.8 L645.1,4389.9 L646.5,4396.9 L647.8,4402.7 L649.2,4400.7 L650.5,4406.5 L651.9,4405.2 L653.2,4405.5 L654.6,4409.0 L655.9,4408.1 L657.3,4416.3 L658.6,4420.3 L660.0,4416.0 L661.3,4416.7 L662.7,4416.6 L664.0,4417.9 L665.4,4415.7 L666.7,4421.6 L668.1,4422.9 L669.4,4425.4 L670.8,4425.1 L672.1,4425.4 L673.5,4421.4 L674.8,4423.4 L676.2,4427.5 L677.5,4430.7 L678.9,4429.8 L680.2,4430.8 L681.6,4432.8 L682.9,4429.5 L684.3,4425.3 L685.6,4421.2 L687.0,4424.7 L688.3,4429.0 L689.7,4429.8 L691.0,4428.6 L692.4,4427.2 L693.7,4425.1 L695.1,4426.3 L696.4,4426.7 L697.8,4427.8 L699.1,4425.8 L700.5,4422.6 L701.8,4422.0 L703.2,4425.7 L704.5,4423.3 L705.9,4423.2 L707.2,4423.8 L708.6,4427.3 L709.9,4421.8 L711.3,4424.2 L712.6,4423.3 L714.0,4419.5 L715.3,4421.1 L716.7,4423.4 L718.0,4419.9 L719.4,4421.6 L720.7,4422.0 L722.1,4420.2 L723.4,4423.5 L724.8,4418.8 L726.1,4419.1 L727.5,4421.8 L728.8,4424.7 L730.2,4425.3 L731.5,4426.0 L732.9,4419.5 L734.2,4426.6 L735.6,4430.4 L736.9,4430.6 L738.3,4427.1 L739.6,4427.3 L741.0,4432.0 L742.3,4431.2 L743.7,4437.0 L745.0,4434.7 L746.4,4437.9 L747.7,4441.7 L749.1,4434.1 L750.4,4439.0 L751.8,4442.3 L753.1,4439.4 L754.5,4439.9 L755.8,4446.7 L757.2,4450.3 L758.5,4449.6 L759.9,4457.0 L761.2,4460.4 L762.6,4464.7 L763.9,4465.4 L765.3,4462.3 L766.6,4456.2 L768.0,4454.0 L769.3,4448.4 L770.7,4444.2 L772.0,4445.1 L773.4,4442.6 L774.7,4439.8 L776.1,4439.7 L777.4,4434.0 L778.8,4432.5 L780.1,4434.8 L781.5,4435.7 L782.8,4434.8 L784.2,4431.5 L785.5,4436.7 L786.9,4435.0 L788.2,4434.1 L789.6,4431.2 L790.9,4434.4 L792.3,4434.7 L793.6,4430.4 L795.0,4434.3 L796.3,4434.9 L797.7,4433.1 L799.0,4434.3 L800.4,4432.6 L801.7,4429.4 L803.1,4434.1 L804.4,4433.8 L805.8,4437.4 L807.1,4431.7 L808.5,4433.8 L809.8,4432.7 L811.2,4434.2 L812.5,4433.1 L813.9,4431.3 L815.2,4435.6 L816.6,4429.2 L817.9,4435.5 L819.3,4434.7 L820.6,4433.4 L822.0,4437.4 L823.3,4434.3 L824.7,4435.3 L826.0,4429.3 L827.4,4433.1 L828.7,4432.9 L830.1,4434.8 L831.4,4434.0 L832.8,4436.0 L834.1,4441.2 L835.5,4434.8 L836.8,4438.6 L838.2,4435.3 L839.5,4439.8 L840.9,4436.7 L842.2,4439.4 L843.6,4440.0 L844.9,4442.1 L846.3,4445.2 L847.6,4442.8 L849.0,4442.1 L850.3,4438.4 L851.7,4441.5 L853.0,4443.9 L854.4,4442.6 L855.7,4443.7 L857.1,4436.8 L858.4,4440.0 L859.8,4441.3 L861.1,4443.9 L862.5,4442.8 L863.8,4441.2 L865.2,4445.9 L866.5,4450.3 L867.9,4444.4 L869.2,4443.6 L870.6,4446.0 L871.9,4451.8 L873.3,4440.3 L874.6,4446.7 L876.0,4455.4 L877.3,4457.5 L878.7,4456.3 L880.0,4460.9 L881.4,4465.9 L882.7,4464.9 L884.1,4459.4 L885.4,4463.7 L886.8,4459.3 L888.1,4458.9 L889.5,4458.1 L890.8,4452.1 L892.2,4446.4 L893.5,4449.9 L894.9,4457.4 L896.2,4454.3 L897.6,4448.5 L898.9,4455.1 L900.3,4450.3 L901.6,4454.8 L903.0,4449.1 L904.3,4450.9 L905.7,4451.1 L907.0,4451.2 L908.4,4445.5 L909.7,4447.2 L911.1,4446.0 L912.4,4451.1 L913.8,4447.4 L915.1,4449.2 L916.5,4445.4 L917.8,4446.4 L919.2,4447.1 L920.5,4440.6 L921.9,4444.7 L923.2,4444.2 L924.6,4440.4 L925.9,4438.8 L927.3,4443.9 L928.6,4441.2 L930.0,4445.0 L931.3,4435.2 L932.7,4434.9 L934.0,4439.5 L935.4,4440.9 L936.7,4441.8 L938.1,4441.2 L939.4,4441.7 L940.8,4439.1 L942.1,4437.8 L943.5,4436.2 L944.8,4437.8 L946.2,4437.1 L947.5,4431.4 L948.9,4434.0 L950.2,4436.5 L951.6,4431.5 L952.9,4430.4 L954.3,4429.2 L955.6,4429.3 L957.0,4430.7 L958.3,4428.8 L959.7,4427.4 L961.0,4417.8 L962.4,4423.9 L963.7,4420.3 L965.1,4418.5 L966.4,4423.8 L967.8,4421.7 L969.1,4414.1 L970.5,4416.9 L971.8,4412.8 L973.2,4410.0 L974.5,4407.0 L975.9,4395.4 L977.2,4396.0 L978.6,4390.4 L979.9,4385.4 L981.3,4390.7 L982.6,4383.6 L984.0,4380.5 L985.3,4378.8 L986.7,4375.6 L988.0,4371.3 L989.4,4372.0 L990.7,4367.1 L992.1,4363.5 L993.4,4362.2 L994.8,4361.4 L996.1,4359.1 L997.5,4360.9 L998.8,4359.6 L1000.2,4350.4 L1001.5,4351.5 L1002.9,4352.4 L1004.2,4344.9 L1005.6,4341.9 L1006.9,4339.4 L1008.3,4342.5 L1009.6,4342.4 L1011.0,4338.5 L1012.3,4338.5 L1013.7,4339.3 L1015.0,4338.0 L1016.4,4332.5 L1017.7,4330.5 L1019.1,4327.2 L1020.4,4322.7 L1021.8,4319.5 L1023.1,4320.9 L1024.5,4322.6 L1025.8,4316.4 L1027.2,4319.2 L1028.5,4318.2 L1029.9,4318.0 L1031.2,4310.7 L1032.6,4310.2 L1033.9,4310.7 L1035.3,4310.1 L1036.6,4313.5 L1038.0,4307.3 L1039.3,4309.2 L1040.7,4306.7 L1042.0,4307.7 L1043.4,4302.8 L1044.7,4304.9 L1046.1,4302.3 L1047.4,4300.4 L1048.8,4296.5 L1050.1,4298.0 L1051.5,4301.9 L1052.8,4297.7 L1054.2,4296.0 L1055.5,4295.4 L1056.9,4293.1 L1058.2,4291.2 L1059.6,4290.8 L1060.9,4291.5 L1062.3,4293.6 L1063.6,4290.9 L1065.0,4287.7 L1066.3,4284.1 L1067.7,4284.1 L1069.0,4288.2 L1070.4,4286.5 L1071.7,4288.1 L1073.1,4284.4 L1074.4,4283.0 L1075.8,4286.9 L1077.1,4285.7 L1078.5,4287.4 L1079.8,4289.5 L1081.2,4284.3 L1082.5,4281.6 L1083.9,4277.0 L1085.2,4267.3 L1086.6,4266.2 L1087.9,4262.9 L1089.3,4260.6 L1090.6,4254.4 L1092.0,4252.5 L1093.3,4250.1 L1094.7,4247.4 L1096.0,4245.9 L1097.4,4240.1 L1098.7,4233.6 L1100.1,4234.0 L1101.4,4229.1 L1102.8,4227.3 L1104.1,4227.0 L1105.5,4221.9 L1106.8,4216.9 L1108.2,4219.9 L1109.5,4218.3 L1110.9,4218.3 L1112.2,4220.1 L1113.6,4224.0 L1114.9,4235.0 L1116.3,4234.9 L1117.6,4246.9 L1119.0,4256.4 L1120.3,4266.0 L1121.7,4277.8 L1123.0,4289.1 L1124.4,4304.0 L1125.7,4315.8 L1127.1,4327.3 L1128.4,4340.6 L1129.8,4347.1 L1131.1,4352.1 L1132.5,4357.8 L1133.8,4363.8 L1135.2,4371.2 L1136.5,4374.6 L1137.9,4383.3 L1139.2,4385.3 L1140.6,4385.1 L1141.9,4391.8 L1143.3,4386.7 L1144.6,4389.3 L1146.0,4394.7 L1147.3,4392.1 L1148.7,4396.8 L1150.0,4397.2 L1151.4,4398.2 L1152.7,4400.0 L1154.1,4400.6 L1155.4,4402.9 L1156.8,4402.7 L1158.1,4400.7 L1159.5,4397.4 L1160.8,4397.7 L1162.2,4398.8 L1163.5,4389.8 L1164.9,4387.3 L1166.2,4389.5 L1167.6,4389.6 L1168.9,4389.7 L1170.3,4389.4 L1171.6,4391.5 L1173.0,4389.0 L1174.3,4388.0 L1175.7,4383.4 L1177.0,4388.0 L1178.4,4385.1 L1179.7,4389.2 L1181.1,4386.6 L1182.4,4384.8 L1183.8,4387.3 L1185.1,4382.8 L1186.5,4386.2 L1187.8,4387.7 L1189.2,4385.6 L1190.5,4379.1 L1191.9,4382.7 L1193.2,4382.6 L1194.6,4377.1 L1195.9,4374.3 L1197.3,4365.2 L1198.6,4365.6 L1200.0,4360.0 L1201.3,4360.2 L1202.7,4354.7 L1204.0,4351.6 L1205.4,4348.5 L1206.7,4346.6 L1208.1,4337.5 L1209.4,4334.1 L1210.8,4334.5 L1212.1,4325.5 L1213.5,4316.8 L1214.8,4315.1 L1216.2,4314.0 L1217.5,4312.7 L1218.9,4303.9 L1220.2,4293.6 L1221.6,4280.0 L1222.9,4277.7 L1224.3,4273.7 L1225.6,4267.1 L1227.0,4263.2 L1228.3,4261.1 L1229.7,4261.9 L1231.0,4258.1 L1232.4,4250.7 L1233.7,4243.6 L1235.1,4248.1 L1236.4,4242.7 L1237.8,4245.7 L1239.1,4241.8 L1240.5,4232.0 L1241.8,4231.2 L1243.2,4226.3 L1244.5,4225.3 L1245.9,4218.2 L1247.2,4217.8 L1248.6,4209.6 L1249.9,4201.0 L1251.3,4197.3 L1252.6,4189.7 L1254.0,4184.2 L1255.3,4181.7 L1256.7,4165.9 L1258.0,4159.6 L1259.4,4151.8 L1260.7,4137.6 L1262.1,4128.7 L1263.4,4130.5 L1264.8,4117.8 L1266.1,4106.9 L1267.5,4098.7 L1268.8,4093.0 L1270.2,4086.5 L1271.5,4083.6 L1272.9,4080.4 L1274.2,4069.5 L1275.6,4065.0 L1276.9,4055.8 L1278.3,4054.7 L1279.6,4046.8 L1281.0,4046.4 L1282.3,4038.8 L1283.7,4039.0 L1285.0,4041.7 L1286.4,4044.0 L1287.7,4048.6 L1289.1,4061.5 L1290.4,4061.7 L1291.8,4065.8 L1293.1,4077.7 L1294.5,4090.8 L1295.8,4110.9 L1297.2,4130.9 L1298.5,4145.2 L1299.9,4160.7 L1301.2,4171.8 L1302.6,4186.0 L1303.9,4193.3 L1305.3,4211.5 L1306.6,4221.6 L1308.0,4230.7 L1309.3,4244.0 L1310.7,4257.1 L1312.0,4269.6 L1313.4,4278.6 L1314.7,4282.7 L1316.1,4298.7 L1317.4,4313.4 L1318.8,4322.6 L1320.1,4336.2 L1321.5,4339.9 L1322.8,4344.1 L1324.2,4356.9 L1325.5,4370.2 L1326.9,4378.8 L1328.2,4381.6 L1329.6,4389.5 L1330.9,4394.5 L1332.3,4392.1 L1333.6,4399.0 L1335.0,4406.5 L1336.3,4410.2 L1337.7,4408.5 L1339.0,4415.2 L1340.4,4410.9 L1341.7,4412.3 L1343.1,4409.5 L1344.4,4417.6 L1345.8,4416.4 L1347.1,4425.6 L1348.5,4423.2 L1349.8,4422.9 L1351.2,4421.2 L1352.5,4432.1 L1353.9,4426.7 L1355.2,4429.9 L1356.6,4428.7 L1357.9,4434.5 L1359.3,4437.0 L1360.6,4434.7 L1362.0,4435.2 L1363.3,4439.6 L1364.7,4441.1 L1366.0,4437.0 L1367.4,4443.7 L1368.7,4438.4 L1370.1,4436.5 L1371.4,4438.6 L1372.8,4437.0 L1374.1,4439.1 L1375.5,4439.8 L1376.8,4439.7 L1378.2,4437.1 L1379.5,4436.9 L1380.9,4431.6 L1382.2,4436.7 L1383.6,4438.2 L1384.9,4439.5 L1386.3,4436.5 L1387.6,4439.0 L1389.0,4440.0 L1390.3,4432.6 L1391.7,4434.5 L1393.0,4430.9 L1394.4,4429.6 L1395.7,4435.1 L1397.1,4433.2 L1398.4,4435.4 L1399.8,4437.3 L1401.1,4435.5 L1402.5,4435.7 L1403.8,4437.9 L1405.2,4434.6 L1406.5,4432.1 L1407.9,4437.1 L1409.2,4434.7 L1410.6,4434.8 L1411.9,4432.5 L1413.3,4437.8 L1414.6,4432.8 L1416.0,4433.3 L1417.3,4428.6 L1418.7,4431.7 L1420.0,4430.8 L1421.4,4431.8 L1422.7,4431.0 L1424.1,4427.6 L1425.4,4433.7 L1426.8,4426.4 L1428.1,4427.8 L1429.5,4429.8 L1430.8,4423.3 L1432.2,4426.2 L1433.5,4426.6 L1434.9,4425.2 L1436.2,4429.1 L1437.6,4421.8 L1438.9,4422.2 L1440.3,4422.4 L1441.6,4421.0 L1443.0,4421.1 L1444.3,4422.5 L1445.7,4419.5 L1447.0,4422.3 L1448.4,4418.1 L1449.7,4421.0 L1451.1,4419.6 L1452.4,4426.3 L1453.8,4420.6 L1455.1,4420.4 L1456.5,4419.2 L1457.8,4426.3 L1459.2,4423.0 L1460.5,4421.9 L1461.9,4415.1 L1463.2,4420.6 L1464.6,4420.9 L1465.9,4420.2 L1467.3,4418.0 L1468.6,4415.4 L1470.0,4415.3 L1471.3,4419.1 L1472.7,4415.1 L1474.0,4410.5 L1475.4,4413.9 L1476.7,4409.3 L1478.1,4408.8 L1479.4,4409.5 L1480.8,4408.6 L1482.1,4409.4 L1483.5,4395.6 L1484.8,4398.7 L1486.2,4404.6 L1487.5,4395.7 L1488.9,4386.1 L1490.2,4393.4 L1491.6,4392.9 L1492.9,4387.9 L1494.3,4392.1 L1495.6,4385.9 L1497.0,4384.4 L1498.3,4389.0 L1499.7,4390.2 L1501.0,4383.3 L1502.4,4380.5 L1503.7,4382.1 L1505.1,4382.9 L1506.4,4376.3 L1507.8,4375.8 L1509.1,4371.5 L1510.5,4365.6 L1511.8,4361.0 L1513.2,4358.8 L1514.5,4358.3 L1515.9,4353.1 L1517.2,4345.0 L1518.6,4343.9 L1519.9,4336.6 L1521.3,4340.2 L1522.6,4334.5 L1524.0,4332.4 L1525.3,4330.1 L1526.7,4327.5 L1528.0,4328.5 L1529.4,4324.7 L1530.7,4327.3 L1532.1,4330.8 L1533.4,4335.5 L1534.8,4326.3 L1536.1,4327.1 L1537.5,4327.1 L1538.8,4332.2 L1540.2,4325.3 L1541.5,4327.1 L1542.9,4335.1 L1544.2,4340.1 L1545.6,4353.7 L1546.9,4357.7 L1548.3,4362.1 L1549.6,4370.4 L1551.0,4374.0 L1552.3,4380.4 L1553.7,4388.5 L1555.0,4393.1 L1556.4,4396.1 L1557.7,4400.5 L1559.1,4403.4 L1560.4,4411.1 L1561.8,4412.5 L1563.1,4418.7 L1564.5,4423.8 L1565.8,4422.8 L1567.2,4420.0 L1568.5,4421.7 L1569.9,4427.0 L1571.2,4429.7 L1572.6,4421.2 L1573.9,4424.0 L1575.3,4427.6 L1576.6,4430.1 L1578.0,4427.1 L1579.3,4433.5 L1580.7,4430.3 L1582.0,4434.1 L1583.4,4427.7 L1584.7,4427.0 L1586.1,4429.1 L1587.4,4430.0 L1588.8,4430.3 L1590.1,4430.1 L1591.5,4431.9 L1592.8,4427.4 L1594.2,4428.7 L1595.5,4429.1 L1596.9,4428.6 L1598.2,4428.8 L1599.6,4432.8 L1600.9,4436.8 L1602.3,4435.7 L1603.6,4433.3 L1605.0,4429.4 L1606.3,4434.0 L1607.7,4429.7 L1609.0,4428.8 L1610.4,4434.8 L1611.7,4437.6 L1613.1,4439.4 L1614.4,4433.1 L1615.8,4428.2 L1617.1,4429.9 L1618.5,4435.0 L1619.8,4434.8 L1621.2,4434.5 L1622.5,4431.0 L1623.9,4429.2 L1625.2,4434.9 L1626.6,4435.6 L1627.9,4430.8 L1629.3,4431.0 L1630.6,4434.1 L1632.0,4436.7 L1633.3,4430.7 L1634.7,4429.9 L1636.0,4426.4 L1637.4,4431.3 L1638.7,4435.1 L1640.1,4435.4 L1641.4,4430.1 L1642.8,4432.4 L1644.1,4436.7 L1645.5,4433.2 L1646.8,4431.6 L1648.2,4433.0 L1649.5,4433.7 L1650.9,4435.2 L1652.2,4432.5 L1653.6,4430.2 L1654.9,4434.3" fill="none" stroke="#f00" stroke-width="3.0" stroke-linejoin="round" stroke-linecap="round"/>
<path d="M56.5,4432.4 L57.9,4436.3 L59.2,4435.5 L60.6,4434.7 L61.9,4433.6 L63.3,4434.5 L64.6,4435.7 L66.0,4439.2 L67.3,4437.6 L68.7,4436.0 L70.0,4436.9 L71.4,4435.0 L72.7,4437.2 L74.1,4438.7 L75.4,4433.4 L76.8,4436.3 L78.1,4435.7 L79.5,4434.9 L80.8,4434.4 L82.2,4438.9 L83.5,4439.0 L84.9,4434.4 L86.2,4435.9 L87.6,4436.8 L88.9,4432.9 L90.3,4432.1 L91.6,4435.3 L93.0,4436.3 L94.3,4435.5 L95.7,4435.4 L97.0,4437.9 L98.4,4437.2 L99.7,4437.3 L101.1,4437.3 L102.4,4439.2 L103.8,4439.6 L105.1,4439.1 L106.5,4436.9 L107.8,4430.9 L109.2,4436.1 L110.5,4438.5 L111.9,4436.8 L113.2,4431.6 L114.6,4439.5 L115.9,4436.6 L117.3,4433.9 L118.6,4438.3 L120.0,4438.9 L121.3,4435.4 L122.7,4437.4 L124.0,4437.7 L125.4,4435.5 L126.7,4436.0 L128.1,4436.2 L129.4,4433.4 L130.8,4436.5 L132.1,4434.1 L133.5,4439.3 L134.8,4438.9 L136.2,4435.3 L137.5,4433.0 L138.9,4434.7 L140.2,4434.8 L141.6,4433.8 L142.9,4435.6 L144.3,4437.5 L145.6,4433.0 L147.0,4436.5 L148.3,4434.7 L149.7,4434.8 L151.0,4432.4 L152.4,4434.0 L153.7,4434.9 L155.1,4431.9 L156.4,4431.8 L157.8,4436.3 L159.1,4431.7 L160.5,4434.9 L161.8,4432.7 L163.2,4436.2 L164.5,4434.8 L165.9,4433.4 L167.2,4430.5 L168.6,4431.2 L169.9,4431.5 L171.3,4435.3 L172.6,4429.6 L174.0,4431.1 L175.3,4430.1 L176.7,4428.2 L178.0,4425.6 L179.4,4428.1 L180.7,4424.0 L182.1,4424.0 L183.4,4427.1 L184.8,4421.9 L186.1,4428.5 L187.5,4426.3 L188.8,4425.8 L190.2,4423.9 L191.5,4423.3 L192.9,4421.7 L194.2,4420.7 L195.6,4421.3 L196.9,4420.6 L198.3,4417.3 L199.6,4416.2 L201.0,4409.2 L202.3,4404.6 L203.7,4402.8 L205.0,4405.6 L206.4,4402.3 L207.7,4397.6 L209.1,4398.3 L210.4,4394.8 L211.8,4390.2 L213.1,4391.2 L214.5,4386.4 L215.8,4377.9 L217.2,4378.2 L218.5,4376.5 L219.9,4373.9 L221.2,4369.4 L222.6,4367.7 L223.9,4365.7 L225.3,4366.3 L226.6,4364.4 L228.0,4363.5 L229.3,4359.5 L230.7,4356.5 L232.0,4357.7 L233.4,4357.6 L234.7,4360.5 L236.1,4364.4 L237.4,4356.3 L238.8,4363.4 L240.1,4367.5 L241.5,4369.9 L242.8,4368.0 L244.2,4374.1 L245.5,4379.6 L246.9,4381.7 L248.2,4382.2 L249.6,4388.2 L250.9,4391.4 L252.3,4397.7 L253.6,4394.3 L255.0,4399.9 L256.3,4402.1 L257.7,4403.8 L259.0,4407.6 L260.4,4410.0 L261.7,4414.9 L263.1,4417.6 L264.4,4415.6 L265.8,4420.4 L267.1,4417.8 L268.5,4419.5 L269.8,4425.7 L271.2,4420.5 L272.5,4422.3 L273.9,4422.9 L275.2,4420.1 L276.6,4420.9 L277.9,4423.4 L279.3,4427.5 L280.6,4424.2 L282.0,4425.3 L283.3,4427.6 L284.7,4426.1 L286.0,4426.3 L287.4,4425.7 L288.7,4427.7 L290.1,4424.0 L291.4,4428.6 L292.8,4424.9 L294.1,4423.0 L295.5,4427.6 L296.8,4428.3 L298.2,4423.1 L299.5,4426.8 L300.9,4424.2 L302.2,4424.6 L303.6,4426.4 L304.9,4421.6 L306.3,4422.8 L307.6,4420.0 L309.0,4422.1 L310.3,4415.8 L311.7,4410.3 L313.0,4411.5 L314.4,4410.9 L315.7,4409.2 L317.1,4407.5 L318.4,4406.7 L319.8,4402.9 L321.1,4399.4 L322.5,4396.8 L323.8,4394.9 L325.2,4393.7 L326.5,4392.9 L327.9,4388.4 L329.2,4383.6 L330.6,4378.6 L331.9,4373.4 L333.3,4370.3 L334.6,4365.9 L336.0,4368.2 L337.3,4364.5 L338.7,4358.9 L340.0,4354.3 L341.4,4357.6 L342.7,4354.4 L344.1,4348.4 L345.4,4347.1 L346.8,4339.0 L348.1,4331.4 L349.5,4334.8 L350.8,4322.9 L352.2,4320.9 L353.5,4314.8 L354.9,4311.9 L356.2,4305.7 L357.6,4302.4 L358.9,4301.1 L360.3,4296.4 L361.6,4293.0 L363.0,4294.5 L364.3,4286.7 L365.7,4287.3 L367.0,4283.9 L368.4,4282.1 L369.7,4280.4 L371.1,4279.0 L372.4,4277.1 L373.8,4274.1 L375.1,4273.2 L376.5,4275.8 L377.8,4274.2 L379.2,4272.5 L380.5,4274.8 L381.9,4277.5 L383.2,4280.3 L384.6,4282.4 L385.9,4286.4 L387.3,4287.3 L388.6,4288.0 L390.0,4288.3 L391.3,4291.4 L392.7,4299.1 L394.0,4300.0 L395.4,4305.6 L396.7,4308.8 L398.1,4315.9 L399.4,4317.2 L400.8,4324.7 L402.1,4328.6 L403.5,4331.9 L404.8,4334.5 L406.2,4339.9 L407.5,4342.0 L408.9,4345.3 L410.2,4346.7 L411.6,4343.3 L412.9,4343.9 L414.3,4343.5 L415.6,4344.0 L417.0,4342.7 L418.3,4340.7 L419.7,4345.8 L421.0,4339.9 L422.4,4340.3 L423.7,4339.3 L425.1,4338.1 L426.4,4336.6 L427.8,4337.2 L429.1,4333.7 L430.5,4332.2 L431.8,4332.9 L433.2,4331.1 L434.5,4331.6 L435.9,4333.4 L437.2,4329.6 L438.6,4332.8 L439.9,4329.2 L441.3,4331.4 L442.6,4332.3 L444.0,4331.8 L445.3,4328.1 L446.7,4328.0 L448.0,4327.8 L449.4,4326.2 L450.7,4326.4 L452.1,4325.1 L453.4,4317.3 L454.8,4315.1 L456.1,4310.7 L457.5,4307.7 L458.8,4306.6 L460.2,4304.0 L461.5,4300.5 L462.9,4294.9 L464.2,4293.6 L465.6,4288.8 L466.9,4286.6 L468.3,4296.5 L469.6,4296.9 L471.0,4298.5 L472.3,4304.7 L473.7,4309.5 L475.0,4319.1 L476.4,4319.9 L477.7,4328.6 L479.1,4336.3 L480.4,4342.4 L481.8,4353.4 L483.1,4353.2 L484.5,4358.5 L485.8,4363.5 L487.2,4368.3 L488.5,4372.7 L489.9,4373.3 L491.2,4376.3 L492.6,4373.5 L493.9,4375.7 L495.3,4374.4 L496.6,4370.5 L498.0,4371.1 L499.3,4368.2 L500.7,4363.8 L502.0,4360.7 L503.4,4356.1 L504.7,4349.5 L506.1,4350.0 L507.4,4342.7 L508.8,4344.5 L510.1,4341.3 L511.5,4339.5 L512.8,4335.4 L514.2,4331.9 L515.5,4333.2 L516.9,4329.0 L518.2,4330.6 L519.6,4327.6 L520.9,4329.6 L522.3,4331.3 L523.6,4334.6 L525.0,4334.3 L526.3,4341.0 L527.7,4343.6 L529.0,4343.4 L530.4,4345.5 L531.7,4349.5 L533.1,4349.9 L534.4,4351.6 L535.8,4346.3 L537.1,4350.8 L538.5,4350.2 L539.8,4346.8 L541.2,4346.2 L542.5,4353.8 L543.9,4357.9 L545.2,4362.3 L546.6,4368.5 L547.9,4371.3 L549.3,4374.5 L550.6,4374.0 L552.0,4377.9 L553.3,4382.4 L554.7,4382.6 L556.0,4379.8 L557.4,4383.9 L558.7,4385.1 L560.1,4385.4 L561.4,4386.8 L562.8,4382.5 L564.1,4390.3 L565.5,4388.0 L566.8,4391.7 L568.2,4388.7 L569.5,4386.1 L570.9,4389.6 L572.2,4390.5 L573.6,4389.7 L574.9,4388.0 L576.3,4382.4 L577.6,4383.4 L579.0,4382.0 L580.3,4379.8 L581.7,4374.3 L583.0,4369.9 L584.4,4370.2 L585.7,4366.8 L587.1,4361.2 L588.4,4357.3 L589.8,4357.0 L591.1,4348.8 L592.5,4348.0 L593.8,4339.0 L595.2,4329.8 L596.5,4327.2 L597.9,4319.7 L599.2,4313.8 L600.6,4307.0 L601.9,4294.5 L603.3,4286.3 L604.6,4275.6 L606.0,4265.5 L607.3,4258.4 L608.7,4251.8 L610.0,4239.2 L611.4,4235.3 L612.7,4230.6 L614.1,4227.0 L615.4,4224.6 L616.8,4224.3 L618.1,4224.8 L619.5,4223.0 L620.8,4224.2 L622.2,4230.3 L623.5,4235.3 L624.9,4246.3 L626.2,4259.4 L627.6,4274.5 L628.9,4287.2 L630.3,4301.8 L631.6,4319.2 L633.0,4325.9 L634.3,4338.4 L635.7,4352.9 L637.0,4362.5 L638.4,4366.7 L639.7,4373.4 L641.1,4386.1 L642.4,4393.1 L643.8,4396.4 L645.1,4403.9 L646.5,4409.4 L647.8,4409.1 L649.2,4415.4 L650.5,4416.6 L651.9,4420.2 L653.2,4422.0 L654.6,4424.8 L655.9,4425.6 L657.3,4428.7 L658.6,4428.5 L660.0,4434.9 L661.3,4433.7 L662.7,4433.7 L664.0,4432.4 L665.4,4434.5 L666.7,4437.7 L668.1,4440.6 L669.4,4433.6 L670.8,4435.1 L672.1,4439.2 L673.5,4441.4 L674.8,4439.1 L676.2,4438.6 L677.5,4435.2 L678.9,4438.3 L680.2,4442.6 L681.6,4444.8 L682.9,4440.9 L684.3,4440.1 L685.6,4442.5 L687.0,4444.9 L688.3,4443.3 L689.7,4441.3 L691.0,4444.9 L692.4,4445.8 L693.7,4443.1 L695.1,4443.3 L696.4,4444.6 L697.8,4443.8 L699.1,4444.3 L700.5,4440.9 L701.8,4439.1 L703.2,4438.9 L704.5,4438.2 L705.9,4438.7 L707.2,4438.8 L708.6,4439.2 L709.9,4437.8 L711.3,4433.0 L712.6,4435.7 L714.0,4434.2 L715.3,4438.0 L716.7,4435.4 L718.0,4435.9 L719.4,4435.5 L720.7,4432.6 L722.1,4432.7 L723.4,4433.5 L724.8,4432.3 L726.1,4435.2 L727.5,4432.7 L728.8,4430.9 L730.2,4432.9 L731.5,4430.8 L732.9,4428.7 L734.2,4426.7 L735.6,4428.6 L736.9,4427.6 L738.3,4426.4 L739.6,4424.9 L741.0,4428.1 L742.3,4429.4 L743.7,4425.0 L745.0,4426.3 L746.4,4429.6 L747.7,4428.8 L749.1,4432.0 L750.4,4431.4 L751.8,4436.7 L753.1,4437.6 L754.5,4440.0 L755.8,4438.8 L757.2,4441.3 L758.5,4446.1 L759.9,4444.4 L761.2,4445.3 L762.6,4449.4 L763.9,4446.6 L765.3,4449.3 L766.6,4449.7 L768.0,4444.3 L769.3,4438.7 L770.7,4435.7 L772.0,4434.3 L773.4,4429.6 L774.7,4425.2 L776.1,4424.4 L777.4,4420.8 L778.8,4420.2 L780.1,4421.5 L781.5,4422.2 L782.8,4423.2 L784.2,4418.3 L785.5,4420.2 L786.9,4419.5 L788.2,4417.4 L789.6,4418.0 L790.9,4417.7 L792.3,4419.7 L793.6,4417.4 L795.0,4420.6 L796.3,4418.6 L797.7,4415.7 L799.0,4417.8 L800.4,4417.2 L801.7,4412.4 L803.1,4415.7 L804.4,4415.2 L805.8,4411.2 L807.1,4415.8 L808.5,4412.9 L809.8,4411.7 L811.2,4412.0 L812.5,4414.1 L813.9,4410.9 L815.2,4410.8 L816.6,4410.7 L817.9,4404.0 L819.3,4403.6 L820.6,4400.1 L822.0,4402.1 L823.3,4400.6 L824.7,4400.1 L826.0,4396.3 L827.4,4393.9 L828.7,4393.4 L830.1,4391.7 L831.4,4391.7 L832.8,4393.9 L834.1,4399.4 L835.5,4394.2 L836.8,4394.1 L838.2,4397.3 L839.5,4403.3 L840.9,4400.1 L842.2,4405.8 L843.6,4409.4 L844.9,4406.7 L846.3,4407.3 L847.6,4405.5 L849.0,4413.0 L850.3,4413.5 L851.7,4415.5 L853.0,4417.4 L854.4,4420.0 L855.7,4423.7 L857.1,4423.4 L858.4,4424.1 L859.8,4427.0 L861.1,4426.6 L862.5,4429.4 L863.8,4434.3 L865.2,4429.9 L866.5,4432.0 L867.9,4431.9 L869.2,4435.4 L870.6,4435.0 L871.9,4435.7 L873.3,4434.5 L874.6,4437.1 L876.0,4438.5 L877.3,4436.3 L878.7,4439.1 L880.0,4436.5 L881.4,4434.5 L882.7,4440.6 L884.1,4442.5 L885.4,4439.8 L886.8,4438.9 L888.1,4441.3 L889.5,4441.2 L890.8,4444.9 L892.2,4443.8 L893.5,4437.6 L894.9,4442.9 L896.2,4444.3 L897.6,4444.6 L898.9,4447.4 L900.3,4447.8 L901.6,4448.2 L903.0,4446.4 L904.3,4443.0 L905.7,4440.5 L907.0,4443.6 L908.4,4445.1 L909.7,4442.8 L911.1,4441.4 L912.4,4442.1 L913.8,4442.6 L915.1,4439.2 L916.5,4438.2 L917.8,4434.6 L919.2,4433.8 L920.5,4434.7 L921.9,4436.7 L923.2,4434.1 L924.6,4435.4 L925.9,4430.7 L927.3,4433.4 L928.6,4434.0 L930.0,4434.9 L931.3,4431.2 L932.7,4428.7 L934.0,4431.4 L935.4,4426.5 L936.7,4427.3 L938.1,4426.0 L939.4,4424.8 L940.8,4425.3 L942.1,4428.8 L943.5,4426.9 L944.8,4430.0 L946.2,4427.5 L947.5,4417.8 L948.9,4421.0 L950.2,4418.2 L951.6,4417.2 L952.9,4415.2 L954.3,4417.5 L955.6,4420.9 L957.0,4418.6 L958.3,4415.6 L959.7,4413.2 L961.0,4411.6 L962.4,4411.2 L963.7,4410.0 L965.1,4407.7 L966.4,4406.6 L967.8,4399.4 L969.1,4402.0 L970.5,4401.6 L971.8,4395.6 L973.2,4389.6 L974.5,4387.8 L975.9,4381.8 L977.2,4374.2 L978.6,4375.3 L979.9,4373.0 L981.3,4367.2 L982.6,4367.8 L984.0,4366.7 L985.3,4363.6 L986.7,4356.7 L988.0,4357.0 L989.4,4357.1 L990.7,4354.9 L992.1,4351.1 L993.4,4350.2 L994.8,4352.0 L996.1,4346.4 L997.5,4344.7 L998.8,4347.3 L1000.2,4344.5 L1001.5,4340.2 L1002.9,4337.2 L1004.2,4340.2 L1005.6,4337.3 L1006.9,4338.0 L1008.3,4335.9 L1009.6,4337.7 L1011.0,4336.1 L1012.3,4330.9 L1013.7,4332.0 L1015.0,4332.3 L1016.4,4330.2 L1017.7,4330.9 L1019.1,4326.5 L1020.4,4327.3 L1021.8,4325.4 L1023.1,4320.0 L1024.5,4317.4 L1025.8,4317.2 L1027.2,4314.3 L1028.5,4313.0 L1029.9,4312.2 L1031.2,4306.6 L1032.6,4304.8 L1033.9,4299.0 L1035.3,4299.8 L1036.6,4298.9 L1038.0,4294.9 L1039.3,4293.5 L1040.7,4289.2 L1042.0,4282.7 L1043.4,4282.1 L1044.7,4278.9 L1046.1,4276.5 L1047.4,4278.2 L1048.8,4270.3 L1050.1,4271.3 L1051.5,4265.3 L1052.8,4264.7 L1054.2,4258.5 L1055.5,4255.2 L1056.9,4249.7 L1058.2,4253.4 L1059.6,4249.4 L1060.9,4244.5 L1062.3,4245.9 L1063.6,4246.6 L1065.0,4242.4 L1066.3,4240.8 L1067.7,4236.4 L1069.0,4237.2 L1070.4,4238.4 L1071.7,4229.4 L1073.1,4233.8 L1074.4,4232.4 L1075.8,4232.8 L1077.1,4228.6 L1078.5,4233.9 L1079.8,4230.4 L1081.2,4231.9 L1082.5,4230.1 L1083.9,4229.8 L1085.2,4230.6 L1086.6,4228.3 L1087.9,4225.7 L1089.3,4226.0 L1090.6,4225.5 L1092.0,4222.1 L1093.3,4223.8 L1094.7,4225.6 L1096.0,4223.8 L1097.4,4220.8 L1098.7,4223.3 L1100.1,4223.4 L1101.4,4224.3 L1102.8,4227.4 L1104.1,4225.2 L1105.5,4225.8 L1106.8,4226.9 L1108.2,4230.1 L1109.5,4232.3 L1110.9,4231.0 L1112.2,4237.0 L1113.6,4239.8 L1114.9,4249.0 L1116.3,4261.7 L1117.6,4267.7 L1119.0,4276.2 L1120.3,4285.8 L1121.7,4295.7 L1123.0,4308.3 L1124.4,4307.6 L1125.7,4315.1 L1127.1,4318.7 L1128.4,4322.6 L1129.8,4322.7 L1131.1,4326.6 L1132.5,4339.9 L1133.8,4339.4 L1135.2,4343.4 L1136.5,4342.9 L1137.9,4346.1 L1139.2,4350.9 L1140.6,4353.0 L1141.9,4354.3 L1143.3,4355.3 L1144.6,4358.7 L1146.0,4357.4 L1147.3,4360.0 L1148.7,4361.2 L1150.0,4364.2 L1151.4,4364.7 L1152.7,4363.6 L1154.1,4365.5 L1155.4,4367.2 L1156.8,4363.3 L1158.1,4367.6 L1159.5,4362.6 L1160.8,4361.6 L1162.2,4361.3 L1163.5,4359.1 L1164.9,4351.7 L1166.2,4359.1 L1167.6,4352.9 L1168.9,4348.5 L1170.3,4349.0 L1171.6,4350.2 L1173.0,4343.6 L1174.3,4338.7 L1175.7,4336.9 L1177.0,4338.7 L1178.4,4330.9 L1179.7,4327.5 L1181.1,4324.8 L1182.4,4326.1 L1183.8,4319.5 L1185.1,4318.9 L1186.5,4310.3 L1187.8,4304.3 L1189.2,4302.8 L1190.5,4298.3 L1191.9,4289.9 L1193.2,4287.4 L1194.6,4279.7 L1195.9,4275.0 L1197.3,4274.0 L1198.6,4267.1 L1200.0,4259.9 L1201.3,4253.6 L1202.7,4246.7 L1204.0,4242.0 L1205.4,4235.5 L1206.7,4231.8 L1208.1,4222.9 L1209.4,4220.3 L1210.8,4216.5 L1212.1,4209.4 L1213.5,4206.6 L1214.8,4201.5 L1216.2,4194.9 L1217.5,4186.9 L1218.9,4184.9 L1220.2,4176.2 L1221.6,4172.0 L1222.9,4166.6 L1224.3,4162.3 L1225.6,4159.6 L1227.0,4153.0 L1228.3,4146.2 L1229.7,4138.4 L1231.0,4133.7 L1232.4,4131.1 L1233.7,4128.5 L1235.1,4118.1 L1236.4,4113.3 L1237.8,4108.3 L1239.1,4103.5 L1240.5,4099.8 L1241.8,4094.4 L1243.2,4085.6 L1244.5,4080.8 L1245.9,4079.9 L1247.2,4072.9 L1248.6,4067.2 L1249.9,4060.1 L1251.3,4057.7 L1252.6,4054.7 L1254.0,4047.3 L1255.3,4043.5 L1256.7,4043.5 L1258.0,4043.9 L1259.4,4038.3 L1260.7,4038.5 L1262.1,4038.2 L1263.4,4035.0 L1264.8,4035.5 L1266.1,4036.3 L1267.5,4037.8 L1268.8,4039.2 L1270.2,4035.4 L1271.5,4033.6 L1272.9,4036.5 L1274.2,4035.4 L1275.6,4037.8 L1276.9,4037.7 L1278.3,4041.6 L1279.6,4041.3 L1281.0,4048.8 L1282.3,4049.7 L1283.7,4057.2 L1285.0,4064.2 L1286.4,4066.2 L1287.7,4075.5 L1289.1,4082.5 L1290.4,4094.1 L1291.8,4104.4 L1293.1,4112.2 L1294.5,4122.6 L1295.8,4138.0 L1297.2,4150.3 L1298.5,4159.0 L1299.9,4170.1 L1301.2,4186.8 L1302.6,4198.2 L1303.9,4210.6 L1305.3,4220.3 L1306.6,4234.0 L1308.0,4247.4 L1309.3,4256.4 L1310.7,4272.2 L1312.0,4280.4 L1313.4,4291.3 L1314.7,4299.5 L1316.1,4308.8 L1317.4,4319.1 L1318.8,4331.4 L1320.1,4340.1 L1321.5,4349.6 L1322.8,4355.8 L1324.2,4360.5 L1325.5,4367.3 L1326.9,4368.3 L1328.2,4373.0 L1329.6,4377.7 L1330.9,4382.7 L1332.3,4385.2 L1333.6,4391.4 L1335.0,4393.6 L1336.3,4396.9 L1337.7,4401.5 L1339.0,4403.0 L1340.4,4403.6 L1341.7,4409.5 L1343.1,4413.3 L1344.4,4413.1 L1345.8,4415.5 L1347.1,4416.0 L1348.5,4417.2 L1349.8,4421.1 L1351.2,4417.8 L1352.5,4421.9 L1353.9,4421.7 L1355.2,4423.7 L1356.6,4423.7 L1357.9,4426.1 L1359.3,4430.6 L1360.6,4428.8 L1362.0,4431.5 L1363.3,4432.8 L1364.7,4431.1 L1366.0,4436.1 L1367.4,4436.4 L1368.7,4438.7 L1370.1,4437.9 L1371.4,4439.7 L1372.8,4440.0 L1374.1,4442.0 L1375.5,4441.3 L1376.8,4443.3 L1378.2,4448.1 L1379.5,4445.0 L1380.9,4445.6 L1382.2,4445.7 L1383.6,4448.4 L1384.9,4447.7 L1386.3,4447.6 L1387.6,4447.6 L1389.0,4445.6 L1390.3,4447.8 L1391.7,4449.2 L1393.0,4447.5 L1394.4,4446.2 L1395.7,4448.0 L1397.1,4449.2 L1398.4,4448.1 L1399.8,4444.7 L1401.1,4448.2 L1402.5,4450.9 L1403.8,4449.4 L1405.2,4452.2 L1406.5,4449.3 L1407.9,4451.5 L1409.2,4447.4 L1410.6,4446.4 L1411.9,4445.3 L1413.3,4447.8 L1414.6,4442.4 L1416.0,4439.3 L1417.3,4440.2 L1418.7,4438.4 L1420.0,4439.8 L1421.4,4433.3 L1422.7,4432.4 L1424.1,4434.4 L1425.4,4434.1 L1426.8,4433.3 L1428.1,4434.1 L1429.5,4428.1 L1430.8,4427.6 L1432.2,4427.0 L1433.5,4425.9 L1434.9,4424.4 L1436.2,4425.8 L1437.6,4424.4 L1438.9,4425.9 L1440.3,4428.6 L1441.6,4430.0 L1443.0,4424.9 L1444.3,4429.4 L1445.7,4423.6 L1447.0,4424.5 L1448.4,4423.3 L1449.7,4420.0 L1451.1,4418.4 L1452.4,4418.3 L1453.8,4416.4 L1455.1,4413.9 L1456.5,4417.7 L1457.8,4415.7 L1459.2,4412.0 L1460.5,4412.4 L1461.9,4408.7 L1463.2,4406.7 L1464.6,4403.8 L1465.9,4400.7 L1467.3,4398.3 L1468.6,4394.2 L1470.0,4396.6 L1471.3,4397.5 L1472.7,4395.3 L1474.0,4390.1 L1475.4,4385.4 L1476.7,4383.2 L1478.1,4380.0 L1479.4,4378.8 L1480.8,4373.9 L1482.1,4370.8 L1483.5,4374.6 L1484.8,4369.0 L1486.2,4368.5 L1487.5,4364.7 L1488.9,4355.7 L1490.2,4355.1 L1491.6,4351.4 L1492.9,4348.9 L1494.3,4346.0 L1495.6,4340.7 L1497.0,4337.6 L1498.3,4332.6 L1499.7,4329.3 L1501.0,4321.6 L1502.4,4318.5 L1503.7,4315.4 L1505.1,4308.9 L1506.4,4302.5 L1507.8,4300.7 L1509.1,4294.4 L1510.5,4287.7 L1511.8,4283.5 L1513.2,4277.4 L1514.5,4273.8 L1515.9,4263.6 L1517.2,4260.8 L1518.6,4258.5 L1519.9,4255.5 L1521.3,4258.0 L1522.6,4248.8 L1524.0,4256.2 L1525.3,4253.6 L1526.7,4251.6 L1528.0,4260.7 L1529.4,4267.7 L1530.7,4275.0 L1532.1,4280.4 L1533.4,4284.3 L1534.8,4290.6 L1536.1,4300.5 L1537.5,4307.5 L1538.8,4315.4 L1540.2,4323.7 L1541.5,4331.9 L1542.9,4338.8 L1544.2,4346.0 L1545.6,4357.3 L1546.9,4363.1 L1548.3,4364.8 L1549.6,4370.7 L1551.0,4375.3 L1552.3,4380.5 L1553.7,4387.2 L1555.0,4389.8 L1556.4,4394.0 L1557.7,4398.8 L1559.1,4403.3 L1560.4,4406.1 L1561.8,4409.1 L1563.1,4410.3 L1564.5,4410.7 L1565.8,4413.0 L1567.2,4415.9 L1568.5,4414.5 L1569.9,4417.4 L1571.2,4419.7 L1572.6,4424.8 L1573.9,4424.0 L1575.3,4422.1 L1576.6,4427.3 L1578.0,4425.9 L1579.3,4431.4 L1580.7,4430.5 L1582.0,4426.1 L1583.4,4425.6 L1584.7,4431.2 L1586.1,4433.5 L1587.4,4431.7 L1588.8,4430.6 L1590.1,4428.2 L1591.5,4431.8 L1592.8,4429.8 L1594.2,4427.0 L1595.5,4433.4 L1596.9,4432.8 L1598.2,4430.7 L1599.6,4431.8 L1600.9,4434.3 L1602.3,4436.2 L1603.6,4431.6 L1605.0,4434.7 L1606.3,4436.1 L1607.7,4437.4 L1609.0,4437.5 L1610.4,4435.7 L1611.7,4433.4 L1613.1,4435.5 L1614.4,4434.4 L1615.8,4434.0 L1617.1,4435.9 L1618.5,4432.5 L1619.8,4435.2 L1621.2,4435.4 L1622.5,4434.2 L1623.9,4436.6 L1625.2,4436.1 L1626.6,4433.9 L1627.9,4433.9 L1629.3,4433.8 L1630.6,4431.6 L1632.0,4433.8 L1633.3,4435.1 L1634.7,4436.7 L1636.0,4437.8 L1637.4,4432.0 L1638.7,4435.1 L1640.1,4436.3 L1641.4,4436.4 L1642.8,4437.4 L1644.1,4431.5 L1645.5,4433.1 L1646.8,4432.3 L1648.2,4434.9 L1649.5,4432.6 L1650.9,4436.8 L1652.2,4436.4 L1653.6,4433.6 L1654.9,4430.1" fill="none" stroke="#00f" stroke-width="3.0" stroke-linejoin="round" stroke-linecap="round"/>
<path d="M56.5,4440.2 L57.9,4439.7 L59.2,4439.8 L60.6,4437.7 L61.9,4439.9 L63.3,4441.9 L64.6,4441.3 L66.0,4440.1 L67.3,4438.8 L68.7,4439.4 L70.0,4440.5 L71.4,4436.6 L72.7,4438.6 L74.1,4439.0 L75.4,4438.3 L76.8,4435.7 L78.1,4436.5 L79.5,4437.2 L80.8,4438.5 L82.2,4439.6 L83.5,4438.6 L84.9,4438.9 L86.2,4439.1 L87.6,4440.3 L88.9,4437.3 L90.3,4438.0 L91.6,4441.2 L93.0,4439.1 L94.3,4435.8 L95.7,4436.0 L97.0,4435.5 L98.4,4435.4 L99.7,4440.2 L101.1,4438.6 L102.4,4435.4 L103.8,4439.7 L105.1,4440.1 L106.5,4437.3 L107.8,4437.5 L109.2,4438.3 L110.5,4438.3 L111.9,4439.0 L113.2,4441.8 L114.6,4440.8 L115.9,4440.6 L117.3,4442.2 L118.6,4440.3 L120.0,4438.9 L121.3,4441.9 L122.7,4440.1 L124.0,4438.7 L125.4,4441.9 L126.7,4440.1 L128.1,4439.4 L129.4,4442.8 L130.8,4441.8 L132.1,4442.4 L133.5,4442.4 L134.8,4441.6 L136.2,4440.9 L137.5,4437.1 L138.9,4439.0 L140.2,4438.8 L141.6,4438.9 L142.9,4441.6 L144.3,4443.9 L145.6,4440.0 L147.0,4437.7 L148.3,4443.4 L149.7,4439.1 L151.0,4437.1 L152.4,4440.5 L153.7,4441.9 L155.1,4440.9 L156.4,4441.6 L157.8,4439.0 L159.1,4438.4 L160.5,4441.2 L161.8,4441.8 L163.2,4438.5 L164.5,4440.4 L165.9,4440.0 L167.2,4443.5 L168.6,4438.0 L169.9,4441.1 L171.3,4439.7 L172.6,4440.6 L174.0,4442.7 L175.3,4442.1 L176.7,4442.7 L178.0,4441.3 L179.4,4440.4 L180.7,4440.8 L182.1,4441.9 L183.4,4441.0 L184.8,4441.9 L186.1,4440.0 L187.5,4438.7 L188.8,4439.9 L190.2,4438.3 L191.5,4435.7 L192.9,4437.6 L194.2,4435.6 L195.6,4436.5 L196.9,4433.0 L198.3,4435.5 L199.6,4433.2 L201.0,4432.6 L202.3,4430.4 L203.7,4427.1 L205.0,4423.1 L206.4,4420.3 L207.7,4418.4 L209.1,4413.9 L210.4,4411.9 L211.8,4411.7 L213.1,4405.1 L214.5,4405.7 L215.8,4400.5 L217.2,4398.4 L218.5,4396.2 L219.9,4391.2 L221.2,4388.8 L222.6,4385.0 L223.9,4385.7 L225.3,4381.7 L226.6,4381.5 L228.0,4378.8 L229.3,4374.1 L230.7,4375.3 L232.0,4376.9 L233.4,4377.3 L234.7,4377.4 L236.1,4381.0 L237.4,4379.5 L238.8,4384.0 L240.1,4386.5 L241.5,4385.7 L242.8,4389.0 L244.2,4390.8 L245.5,4396.9 L246.9,4403.0 L248.2,4403.8 L249.6,4407.8 L250.9,4411.6 L252.3,4413.1 L253.6,4418.5 L255.0,4417.7 L256.3,4420.3 L257.7,4423.1 L259.0,4426.3 L260.4,4428.1 L261.7,4430.1 L263.1,4430.1 L264.4,4430.1 L265.8,4432.7 L267.1,4434.9 L268.5,4434.7 L269.8,4433.2 L271.2,4435.4 L272.5,4435.9 L273.9,4435.6 L275.2,4434.4 L276.6,4437.8 L277.9,4437.3 L279.3,4440.7 L280.6,4437.6 L282.0,4438.4 L283.3,4440.2 L284.7,4439.1 L286.0,4439.3 L287.4,4441.6 L288.7,4438.5 L290.1,4436.6 L291.4,4438.2 L292.8,4440.9 L294.1,4440.0 L295.5,4438.0 L296.8,4437.9 L298.2,4439.5 L299.5,4440.2 L300.9,4438.6 L302.2,4439.5 L303.6,4439.5 L304.9,4437.1 L306.3,4439.4 L307.6,4439.5 L309.0,4437.0 L310.3,4433.2 L311.7,4436.2 L313.0,4438.7 L314.4,4438.2 L315.7,4431.9 L317.1,4438.0 L318.4,4432.2 L319.8,4433.9 L321.1,4432.1 L322.5,4431.0 L323.8,4428.0 L325.2,4424.4 L326.5,4426.8 L327.9,4423.7 L329.2,4420.9 L330.6,4427.0 L331.9,4420.2 L333.3,4417.5 L334.6,4413.4 L336.0,4415.1 L337.3,4412.6 L338.7,4411.7 L340.0,4406.1 L341.4,4399.8 L342.7,4400.1 L344.1,4396.2 L345.4,4393.3 L346.8,4392.3 L348.1,4386.7 L349.5,4382.8 L350.8,4379.4 L352.2,4378.6 L353.5,4372.6 L354.9,4368.0 L356.2,4366.7 L357.6,4359.4 L358.9,4354.5 L360.3,4350.7 L361.6,4343.5 L363.0,4341.1 L364.3,4338.0 L365.7,4337.7 L367.0,4337.7 L368.4,4333.4 L369.7,4334.3 L371.1,4330.1 L372.4,4328.1 L373.8,4328.7 L375.1,4331.8 L376.5,4332.5 L377.8,4330.4 L379.2,4331.4 L380.5,4334.7 L381.9,4334.0 L383.2,4336.6 L384.6,4338.0 L385.9,4339.3 L387.3,4338.1 L388.6,4337.0 L390.0,4338.3 L391.3,4335.6 L392.7,4339.6 L394.0,4343.1 L395.4,4346.8 L396.7,4346.2 L398.1,4350.4 L399.4,4357.1 L400.8,4360.2 L402.1,4365.1 L403.5,4369.1 L404.8,4374.8 L406.2,4379.6 L407.5,4381.7 L408.9,4382.4 L410.2,4386.0 L411.6,4384.1 L412.9,4389.7 L414.3,4387.5 L415.6,4383.2 L417.0,4387.4 L418.3,4384.0 L419.7,4376.4 L421.0,4376.2 L422.4,4375.1 L423.7,4370.7 L425.1,4364.7 L426.4,4363.2 L427.8,4359.3 L429.1,4356.8 L430.5,4359.1 L431.8,4356.8 L433.2,4358.5 L434.5,4353.6 L435.9,4355.2 L437.2,4353.1 L438.6,4354.3 L439.9,4356.9 L441.3,4355.3 L442.6,4357.5 L444.0,4356.0 L445.3,4354.3 L446.7,4356.9 L448.0,4357.6 L449.4,4353.7 L450.7,4350.1 L452.1,4343.4 L453.4,4335.2 L454.8,4328.7 L456.1,4324.1 L457.5,4317.2 L458.8,4313.1 L460.2,4308.7 L461.5,4298.6 L462.9,4290.8 L464.2,4284.6 L465.6,4280.1 L466.9,4278.3 L468.3,4278.4 L469.6,4282.6 L471.0,4287.5 L472.3,4295.9 L473.7,4302.3 L475.0,4309.5 L476.4,4315.8 L477.7,4329.0 L479.1,4337.1 L480.4,4346.5 L481.8,4352.5 L483.1,4361.5 L484.5,4368.0 L485.8,4377.0 L487.2,4385.9 L488.5,4387.0 L489.9,4391.5 L491.2,4390.6 L492.6,4389.3 L493.9,4390.2 L495.3,4390.0 L496.6,4387.7 L498.0,4391.4 L499.3,4388.3 L500.7,4382.9 L502.0,4376.1 L503.4,4369.4 L504.7,4361.5 L506.1,4353.1 L507.4,4345.6 L508.8,4342.9 L510.1,4333.8 L511.5,4327.5 L512.8,4318.7 L514.2,4313.1 L515.5,4310.5 L516.9,4305.1 L518.2,4296.3 L519.6,4295.9 L520.9,4298.2 L522.3,4295.2 L523.6,4303.8 L525.0,4306.6 L526.3,4310.8 L527.7,4319.1 L529.0,4322.4 L530.4,4331.3 L531.7,4340.3 L533.1,4345.4 L534.4,4351.2 L535.8,4357.0 L537.1,4360.9 L538.5,4367.6 L539.8,4368.1 L541.2,4375.3 L542.5,4375.4 L543.9,4379.3 L545.2,4378.7 L546.6,4377.5 L547.9,4382.7 L549.3,4381.5 L550.6,4386.0 L552.0,4391.7 L553.3,4388.6 L554.7,4388.1 L556.0,4392.5 L557.4,4392.6 L558.7,4396.4 L560.1,4398.1 L561.4,4397.2 L562.8,4397.1 L564.1,4398.7 L565.5,4399.5 L566.8,4399.2 L568.2,4398.3 L569.5,4397.8 L570.9,4396.5 L572.2,4399.8 L573.6,4397.7 L574.9,4394.9 L576.3,4393.4 L577.6,4393.2 L579.0,4391.7 L580.3,4387.9 L581.7,4384.6 L583.0,4382.3 L584.4,4376.1 L585.7,4375.0 L587.1,4375.4 L588.4,4369.5 L589.8,4367.6 L591.1,4362.2 L592.5,4354.1 L593.8,4348.0 L595.2,4344.4 L596.5,4334.0 L597.9,4324.8 L599.2,4317.6 L600.6,4305.1 L601.9,4291.0 L603.3,4281.7 L604.6,4269.7 L606.0,4252.4 L607.3,4242.7 L608.7,4231.4 L610.0,4217.1 L611.4,4200.4 L612.7,4187.6 L614.1,4176.0 L615.4,4166.5 L616.8,4154.4 L618.1,4149.0 L619.5,4145.4 L620.8,4149.4 L622.2,4157.1 L623.5,4162.2 L624.9,4173.4 L626.2,4186.0 L627.6,4199.5 L628.9,4218.9 L630.3,4237.4 L631.6,4257.0 L633.0,4270.4 L634.3,4290.9 L635.7,4309.1 L637.0,4325.6 L638.4,4340.3 L639.7,4350.8 L641.1,4361.2 L642.4,4368.8 L643.8,4379.3 L645.1,4384.8 L646.5,4387.6 L647.8,4393.3 L649.2,4398.1 L650.5,4400.8 L651.9,4402.8 L653.2,4406.9 L654.6,4408.0 L655.9,4411.1 L657.3,4414.4 L658.6,4413.0 L660.0,4416.1 L661.3,4419.7 L662.7,4418.7 L664.0,4420.8 L665.4,4418.9 L666.7,4420.0 L668.1,4422.2 L669.4,4427.4 L670.8,4423.9 L672.1,4423.5 L673.5,4423.2 L674.8,4424.6 L676.2,4426.4 L677.5,4424.0 L678.9,4427.4 L680.2,4427.3 L681.6,4427.9 L682.9,4424.8 L684.3,4425.9 L685.6,4423.2 L687.0,4425.9 L688.3,4426.3 L689.7,4425.3 L691.0,4423.9 L692.4,4428.1 L693.7,4426.5 L695.1,4426.5 L696.4,4425.9 L697.8,4425.9 L699.1,4429.7 L700.5,4429.3 L701.8,4429.2 L703.2,4431.8 L704.5,4432.3 L705.9,4432.3 L707.2,4434.0 L708.6,4433.4 L709.9,4432.2 L711.3,4434.1 L712.6,4431.4 L714.0,4436.2 L715.3,4437.0 L716.7,4434.0 L718.0,4434.1 L719.4,4431.5 L720.7,4433.3 L722.1,4432.1 L723.4,4432.6 L724.8,4434.1 L726.1,4434.2 L727.5,4435.1 L728.8,4431.1 L730.2,4434.3 L731.5,4431.2 L732.9,4434.5 L734.2,4436.2 L735.6,4433.9 L736.9,4432.3 L738.3,4431.7 L739.6,4433.5 L741.0,4435.8 L742.3,4436.0 L743.7,4434.0 L745.0,4434.0 L746.4,4435.0 L747.7,4439.3 L749.1,4438.9 L750.4,4446.8 L751.8,4445.5 L753.1,4445.0 L754.5,4448.1 L755.8,4450.2 L757.2,4449.5 L758.5,4451.5 L759.9,4450.6 L761.2,4453.0 L762.6,4454.2 L763.9,4452.3 L765.3,4454.3 L766.6,4449.9 L768.0,4445.5 L769.3,4440.3 L770.7,4438.1 L772.0,4438.7 L773.4,4435.6 L774.7,4436.5 L776.1,4435.6 L777.4,4435.0 L778.8,4430.8 L780.1,4434.0 L781.5,4433.6 L782.8,4431.7 L784.2,4434.3 L785.5,4430.5 L786.9,4434.0 L788.2,4431.8 L789.6,4433.3 L790.9,4429.6 L792.3,4433.1 L793.6,4432.0 L795.0,4432.8 L796.3,4430.5 L797.7,4431.8 L799.0,4435.2 L800.4,4430.6 L801.7,4431.2 L803.1,4430.8 L804.4,4429.7 L805.8,4434.0 L807.1,4434.5 L808.5,4431.3 L809.8,4429.1 L811.2,4432.5 L812.5,4433.3 L813.9,4433.3 L815.2,4433.3 L816.6,4429.0 L817.9,4430.0 L819.3,4430.2 L820.6,4430.2 L822.0,4432.2 L823.3,4427.5 L824.7,4431.4 L826.0,4428.9 L827.4,4424.6 L828.7,4426.2 L830.1,4427.6 L831.4,4423.9 L832.8,4421.7 L834.1,4425.2 L835.5,4426.3 L836.8,4422.6 L838.2,4423.6 L839.5,4426.8 L840.9,4424.3 L842.2,4421.6 L843.6,4422.2 L844.9,4422.2 L846.3,4425.8 L847.6,4427.4 L849.0,4429.7 L850.3,4430.7 L851.7,4428.1 L853.0,4431.0 L854.4,4433.7 L855.7,4434.4 L857.1,4436.1 L858.4,4434.5 L859.8,4433.5 L861.1,4436.6 L862.5,4434.0 L863.8,4431.6 L865.2,4437.6 L866.5,4437.0 L867.9,4437.9 L869.2,4435.7 L870.6,4435.9 L871.9,4437.5 L873.3,4438.7 L874.6,4439.0 L876.0,4436.4 L877.3,4443.6 L878.7,4442.2 L880.0,4441.9 L881.4,4444.7 L882.7,4445.5 L884.1,4442.2 L885.4,4446.8 L886.8,4446.4 L888.1,4449.2 L889.5,4450.6 L890.8,4453.2 L892.2,4450.2 L893.5,4452.0 L894.9,4450.4 L896.2,4452.5 L897.6,4449.6 L898.9,4451.3 L900.3,4455.8 L901.6,4452.8 L903.0,4450.7 L904.3,4453.5 L905.7,4451.6 L907.0,4449.4 L908.4,4451.0 L909.7,4447.1 L911.1,4448.3 L912.4,4448.2 L913.8,4445.8 L915.1,4446.0 L916.5,4444.5 L917.8,4442.1 L919.2,4441.4 L920.5,4443.0 L921.9,4437.4 L923.2,4440.2 L924.6,4441.2 L925.9,4440.4 L927.3,4439.9 L928.6,4437.7 L930.0,4439.7 L931.3,4438.2 L932.7,4436.5 L934.0,4433.5 L935.4,4434.1 L936.7,4435.7 L938.1,4433.7 L939.4,4435.3 L940.8,4434.8 L942.1,4434.1 L943.5,4434.6 L944.8,4432.1 L946.2,4430.2 L947.5,4431.4 L948.9,4431.2 L950.2,4433.6 L951.6,4432.0 L952.9,4431.3 L954.3,4428.8 L955.6,4429.1 L957.0,4427.9 L958.3,4425.1 L959.7,4424.3 L961.0,4424.6 L962.4,4424.0 L963.7,4419.5 L965.1,4421.0 L966.4,4419.2 L967.8,4419.9 L969.1,4416.5 L970.5,4415.3 L971.8,4417.0 L973.2,4411.2 L974.5,4407.4 L975.9,4405.1 L977.2,4402.2 L978.6,4402.6 L979.9,4398.2 L981.3,4396.9 L982.6,4389.3 L984.0,4386.8 L985.3,4383.4 L986.7,4381.6 L988.0,4373.6 L989.4,4371.0 L990.7,4369.5 L992.1,4368.5 L993.4,4369.1 L994.8,4365.1 L996.1,4360.9 L997.5,4365.5 L998.8,4364.2 L1000.2,4360.8 L1001.5,4360.5 L1002.9,4364.7 L1004.2,4362.5 L1005.6,4362.6 L1006.9,4363.9 L1008.3,4362.9 L1009.6,4363.5 L1011.0,4361.3 L1012.3,4359.5 L1013.7,4359.3 L1015.0,4360.8 L1016.4,4362.1 L1017.7,4361.4 L1019.1,4360.5 L1020.4,4358.6 L1021.8,4360.2 L1023.1,4359.5 L1024.5,4359.8 L1025.8,4360.8 L1027.2,4360.6 L1028.5,4360.3 L1029.9,4361.4 L1031.2,4368.0 L1032.6,4369.5 L1033.9,4372.6 L1035.3,4374.0 L1036.6,4376.3 L1038.0,4373.8 L1039.3,4373.1 L1040.7,4372.6 L1042.0,4371.7 L1043.4,4370.0 L1044.7,4366.2 L1046.1,4367.7 L1047.4,4362.0 L1048.8,4363.6 L1050.1,4359.2 L1051.5,4361.3 L1052.8,4356.7 L1054.2,4355.1 L1055.5,4354.1 L1056.9,4353.7 L1058.2,4352.1 L1059.6,4353.7 L1060.9,4351.0 L1062.3,4351.3 L1063.6,4348.8 L1065.0,4348.4 L1066.3,4347.8 L1067.7,4346.5 L1069.0,4345.2 L1070.4,4346.3 L1071.7,4346.8 L1073.1,4341.1 L1074.4,4342.1 L1075.8,4340.5 L1077.1,4343.1 L1078.5,4340.3 L1079.8,4338.1 L1081.2,4336.0 L1082.5,4337.4 L1083.9,4333.6 L1085.2,4330.6 L1086.6,4330.7 L1087.9,4327.3 L1089.3,4321.0 L1090.6,4320.1 L1092.0,4313.6 L1093.3,4306.0 L1094.7,4301.3 L1096.0,4296.2 L1097.4,4285.5 L1098.7,4278.0 L1100.1,4275.7 L1101.4,4269.4 L1102.8,4260.0 L1104.1,4252.5 L1105.5,4244.6 L1106.8,4237.9 L1108.2,4230.3 L1109.5,4226.3 L1110.9,4225.6 L1112.2,4229.9 L1113.6,4237.3 L1114.9,4242.8 L1116.3,4252.0 L1117.6,4262.5 L1119.0,4275.3 L1120.3,4286.5 L1121.7,4300.1 L1123.0,4310.3 L1124.4,4322.3 L1125.7,4331.7 L1127.1,4341.3 L1128.4,4352.8 L1129.8,4363.1 L1131.1,4369.4 L1132.5,4374.8 L1133.8,4380.1 L1135.2,4383.3 L1136.5,4387.5 L1137.9,4389.4 L1139.2,4394.6 L1140.6,4397.1 L1141.9,4403.5 L1143.3,4402.6 L1144.6,4401.2 L1146.0,4405.2 L1147.3,4406.7 L1148.7,4406.2 L1150.0,4409.3 L1151.4,4411.8 L1152.7,4413.3 L1154.1,4414.9 L1155.4,4416.3 L1156.8,4417.5 L1158.1,4415.5 L1159.5,4417.4 L1160.8,4418.5 L1162.2,4420.0 L1163.5,4423.1 L1164.9,4421.0 L1166.2,4424.3 L1167.6,4426.0 L1168.9,4424.6 L1170.3,4427.2 L1171.6,4427.6 L1173.0,4429.4 L1174.3,4426.8 L1175.7,4425.5 L1177.0,4423.3 L1178.4,4423.4 L1179.7,4424.5 L1181.1,4425.5 L1182.4,4422.3 L1183.8,4421.9 L1185.1,4418.8 L1186.5,4417.4 L1187.8,4415.8 L1189.2,4416.6 L1190.5,4414.2 L1191.9,4416.7 L1193.2,4414.8 L1194.6,4410.4 L1195.9,4411.1 L1197.3,4413.3 L1198.6,4410.3 L1200.0,4406.0 L1201.3,4409.7 L1202.7,4408.0 L1204.0,4404.6 L1205.4,4406.7 L1206.7,4404.6 L1208.1,4402.7 L1209.4,4402.0 L1210.8,4398.1 L1212.1,4396.0 L1213.5,4394.2 L1214.8,4388.0 L1216.2,4385.8 L1217.5,4384.3 L1218.9,4375.9 L1220.2,4370.3 L1221.6,4366.0 L1222.9,4363.0 L1224.3,4360.6 L1225.6,4353.6 L1227.0,4353.8 L1228.3,4349.0 L1229.7,4348.1 L1231.0,4345.5 L1232.4,4345.1 L1233.7,4344.0 L1235.1,4342.3 L1236.4,4337.5 L1237.8,4338.9 L1239.1,4336.3 L1240.5,4332.2 L1241.8,4328.7 L1243.2,4329.0 L1244.5,4322.9 L1245.9,4320.8 L1247.2,4318.5 L1248.6,4314.8 L1249.9,4309.9 L1251.3,4305.0 L1252.6,4305.1 L1254.0,4296.0 L1255.3,4294.9 L1256.7,4287.1 L1258.0,4279.9 L1259.4,4273.2 L1260.7,4266.7 L1262.1,4256.9 L1263.4,4243.9 L1264.8,4232.9 L1266.1,4223.1 L1267.5,4210.9 L1268.8,4201.8 L1270.2,4188.2 L1271.5,4177.1 L1272.9,4159.5 L1274.2,4150.0 L1275.6,4134.2 L1276.9,4120.3 L1278.3,4112.1 L1279.6,4099.0 L1281.0,4090.9 L1282.3,4081.8 L1283.7,4079.3 L1285.0,4078.0 L1286.4,4076.4 L1287.7,4074.6 L1289.1,4080.9 L1290.4,4086.3 L1291.8,4092.9 L1293.1,4101.5 L1294.5,4108.8 L1295.8,4121.0 L1297.2,4140.5 L1298.5,4152.1 L1299.9,4170.7 L1301.2,4186.0 L1302.6,4198.1 L1303.9,4209.9 L1305.3,4225.0 L1306.6,4241.3 L1308.0,4254.4 L1309.3,4266.8 L1310.7,4280.5 L1312.0,4288.1 L1313.4,4301.8 L1314.7,4310.9 L1316.1,4322.4 L1317.4,4331.0 L1318.8,4340.9 L1320.1,4352.3 L1321.5,4358.2 L1322.8,4360.3 L1324.2,4372.0 L1325.5,4375.7 L1326.9,4384.6 L1328.2,4392.2 L1329.6,4391.8 L1330.9,4396.0 L1332.3,4399.5 L1333.6,4403.8 L1335.0,4406.7 L1336.3,4409.8 L1337.7,4410.6 L1339.0,4416.8 L1340.4,4415.4 L1341.7,4419.7 L1343.1,4422.5 L1344.4,4424.5 L1345.8,4422.8 L1347.1,4423.6 L1348.5,4425.7 L1349.8,4428.5 L1351.2,4432.9 L1352.5,4428.1 L1353.9,4429.7 L1355.2,4433.1 L1356.6,4435.6 L1357.9,4436.9 L1359.3,4439.1 L1360.6,4439.0 L1362.0,4441.7 L1363.3,4442.5 L1364.7,4445.9 L1366.0,4440.6 L1367.4,4445.6 L1368.7,4445.1 L1370.1,4445.5 L1371.4,4445.2 L1372.8,4442.5 L1374.1,4444.7 L1375.5,4444.1 L1376.8,4444.4 L1378.2,4440.9 L1379.5,4445.2 L1380.9,4444.8 L1382.2,4444.6 L1383.6,4443.1 L1384.9,4442.7 L1386.3,4442.1 L1387.6,4441.7 L1389.0,4442.7 L1390.3,4443.2 L1391.7,4440.8 L1393.0,4441.3 L1394.4,4440.7 L1395.7,4442.4 L1397.1,4444.2 L1398.4,4443.4 L1399.8,4442.6 L1401.1,4440.6 L1402.5,4440.7 L1403.8,4440.4 L1405.2,4444.7 L1406.5,4442.3 L1407.9,4444.9 L1409.2,4444.8 L1410.6,4445.7 L1411.9,4448.1 L1413.3,4443.7 L1414.6,4443.3 L1416.0,4443.7 L1417.3,4446.5 L1418.7,4443.8 L1420.0,4443.7 L1421.4,4442.2 L1422.7,4442.4 L1424.1,4444.9 L1425.4,4448.5 L1426.8,4445.1 L1428.1,4447.1 L1429.5,4446.8 L1430.8,4445.9 L1432.2,4446.2 L1433.5,4444.9 L1434.9,4444.6 L1436.2,4447.9 L1437.6,4442.7 L1438.9,4448.4 L1440.3,4448.1 L1441.6,4445.8 L1443.0,4446.2 L1444.3,4446.6 L1445.7,4446.0 L1447.0,4445.7 L1448.4,4446.3 L1449.7,4443.6 L1451.1,4447.5 L1452.4,4447.0 L1453.8,4443.9 L1455.1,4444.0 L1456.5,4440.9 L1457.8,4442.4 L1459.2,4441.3 L1460.5,4441.9 L1461.9,4442.1 L1463.2,4437.7 L1464.6,4440.4 L1465.9,4437.6 L1467.3,4438.2 L1468.6,4438.2 L1470.0,4436.2 L1471.3,4436.0 L1472.7,4441.9 L1474.0,4438.0 L1475.4,4435.0 L1476.7,4433.3 L1478.1,4435.9 L1479.4,4438.0 L1480.8,4434.7 L1482.1,4431.4 L1483.5,4432.4 L1484.8,4434.9 L1486.2,4430.5 L1487.5,4431.4 L1488.9,4429.7 L1490.2,4427.4 L1491.6,4426.8 L1492.9,4427.2 L1494.3,4428.6 L1495.6,4424.0 L1497.0,4427.9 L1498.3,4425.4 L1499.7,4421.6 L1501.0,4421.6 L1502.4,4422.0 L1503.7,4418.7 L1505.1,4415.1 L1506.4,4415.3 L1507.8,4416.6 L1509.1,4416.9 L1510.5,4412.8 L1511.8,4409.2 L1513.2,4405.3 L1514.5,4402.8 L1515.9,4399.4 L1517.2,4393.8 L1518.6,4389.6 L1519.9,4388.2 L1521.3,4382.6 L1522.6,4377.1 L1524.0,4376.8 L1525.3,4373.6 L1526.7,4374.7 L1528.0,4371.6 L1529.4,4369.6 L1530.7,4370.8 L1532.1,4370.6 L1533.4,4368.6 L1534.8,4370.3 L1536.1,4374.4 L1537.5,4372.2 L1538.8,4372.4 L1540.2,4372.4 L1541.5,4375.7 L1542.9,4375.3 L1544.2,4377.4 L1545.6,4379.5 L1546.9,4383.7 L1548.3,4390.2 L1549.6,4394.8 L1551.0,4397.2 L1552.3,4403.3 L1553.7,4405.8 L1555.0,4407.6 L1556.4,4413.1 L1557.7,4414.0 L1559.1,4420.8 L1560.4,4421.7 L1561.8,4422.6 L1563.1,4425.3 L1564.5,4426.3 L1565.8,4429.1 L1567.2,4430.5 L1568.5,4432.4 L1569.9,4432.3 L1571.2,4429.5 L1572.6,4436.0 L1573.9,4432.1 L1575.3,4434.9 L1576.6,4436.4 L1578.0,4436.0 L1579.3,4435.3 L1580.7,4436.6 L1582.0,4436.8 L1583.4,4433.8 L1584.7,4433.9 L1586.1,4433.8 L1587.4,4437.3 L1588.8,4438.1 L1590.1,4440.1 L1591.5,4436.8 L1592.8,4436.3 L1594.2,4438.5 L1595.5,4440.3 L1596.9,4439.6 L1598.2,4439.5 L1599.6,4440.3 L1600.9,4440.4 L1602.3,4442.1 L1603.6,4438.9 L1605.0,4439.4 L1606.3,4441.1 L1607.7,4439.5 L1609.0,4439.4 L1610.4,4438.3 L1611.7,4442.0 L1613.1,4440.3 L1614.4,4442.4 L1615.8,4440.9 L1617.1,4437.4 L1618.5,4438.1 L1619.8,4440.9 L1621.2,4441.9 L1622.5,4440.4 L1623.9,4437.8 L1625.2,4436.6 L1626.6,4438.0 L1627.9,4438.2 L1629.3,4442.1 L1630.6,4441.2 L1632.0,4443.2 L1633.3,4441.3 L1634.7,4440.0 L1636.0,4439.1 L1637.4,4435.0 L1638.7,4437.9 L1640.1,4437.7 L1641.4,4441.8 L1642.8,4440.4 L1644.1,4438.8 L1645.5,4440.1 L1646.8,4440.5 L1648.2,4440.7 L1649.5,4437.5 L1650.9,4438.8 L1652.2,4437.4 L1653.6,4439.8 L1654.9,4439.2" fill="none" stroke="#000" stroke-width="3.1" stroke-linejoin="round" stroke-linecap="round"/>
<path d="M56.5,3986.8 L57.5,3986.6 L58.5,3986.4 L59.5,3986.1 L60.5,3985.9 L61.5,3985.6 L62.5,3985.3 L63.5,3984.9 L64.5,3984.5 L65.5,3984.1 L66.5,3983.6 L67.5,3983.1 L68.5,3982.5 L69.5,3981.8 L70.5,3981.1 L71.5,3980.2 L72.5,3979.3 L73.5,3978.2 L74.5,3977.0 L75.5,3975.6 L76.5,3974.0 L77.5,3972.2 L78.5,3970.0 L79.5,3967.6 L80.5,3964.8 L81.5,3961.6 L82.5,3957.9 L83.5,3953.7 L84.5,3949.0 L85.5,3943.9 L86.5,3938.6 L87.5,3933.4 L88.5,3928.7 L89.5,3925.2 L90.5,3923.3 L91.5,3923.2 L92.5,3925.1 L93.5,3928.6 L94.5,3933.3 L95.5,3938.4 L96.5,3943.7 L97.5,3948.7 L98.5,3953.4 L99.5,3957.5 L100.5,3961.2 L101.5,3964.4 L102.5,3967.1 L103.5,3969.5 L104.5,3971.6 L105.5,3973.4 L106.5,3974.9 L107.5,3976.3 L108.5,3977.4 L109.5,3978.5 L110.5,3979.3 L111.5,3980.1 L112.5,3980.8 L113.5,3981.4 L114.5,3981.9 L115.5,3982.4 L116.5,3982.8 L117.5,3983.1 L118.5,3983.5 L119.5,3983.7 L120.5,3984.0 L121.5,3984.2 L122.5,3984.3 L123.5,3984.5 L124.5,3984.6 L125.5,3984.7 L126.5,3984.7 L127.5,3984.8 L128.5,3984.8 L129.5,3984.8 L130.5,3984.7 L131.5,3984.7 L132.5,3984.6 L133.5,3984.4 L134.5,3984.3 L135.5,3984.1 L136.5,3983.9 L137.5,3983.6 L138.5,3983.3 L139.5,3982.9 L140.5,3982.5 L141.5,3982.0 L142.5,3981.5 L143.5,3980.8 L144.5,3980.1 L145.5,3979.2 L146.5,3978.2 L147.5,3977.0 L148.5,3975.6 L149.5,3974.0 L150.5,3972.2 L151.5,3970.1 L152.5,3967.7 L153.5,3964.9 L154.5,3961.9 L155.5,3958.7 L156.5,3955.5 L157.5,3952.5 L158.5,3950.1 L159.5,3948.5 L160.5,3948.0 L161.5,3948.7 L162.5,3950.5 L163.5,3953.1 L164.5,3956.2 L165.5,3959.5 L166.5,3962.6 L167.5,3965.6 L168.5,3968.2 L169.5,3970.6 L170.5,3972.7 L171.5,3974.5 L172.5,3976.0 L173.5,3977.4 L174.5,3978.5 L175.5,3979.5 L176.5,3980.4 L177.5,3981.2 L178.5,3981.8 L179.5,3982.4 L180.5,3982.9 L181.5,3983.3 L182.5,3983.7 L183.5,3984.0 L184.5,3984.3 L185.5,3984.5 L186.5,3984.7 L187.5,3984.9 L188.5,3985.0 L189.5,3985.1 L190.5,3985.2 L191.5,3985.3 L192.5,3985.3 L193.5,3985.3 L194.5,3985.3 L195.5,3985.2 L196.5,3985.2 L197.5,3985.1 L198.5,3984.9 L199.5,3984.8 L200.5,3984.6 L201.5,3984.3 L202.5,3984.0 L203.5,3983.6 L204.5,3983.2 L205.5,3982.7 L206.5,3982.1 L207.5,3981.4 L208.5,3980.7 L209.5,3979.8 L210.5,3978.7 L211.5,3977.7 L212.5,3976.5 L213.5,3975.4 L214.5,3974.3 L215.5,3973.5 L216.5,3973.1 L217.5,3973.0 L218.5,3973.4 L219.5,3974.0 L220.5,3974.9 L221.5,3975.9 L222.5,3976.9 L223.5,3977.9 L224.5,3978.8 L225.5,3979.5 L226.5,3980.2 L227.5,3980.7 L228.5,3981.1 L229.5,3981.4 L230.5,3981.6 L231.5,3981.8 L232.5,3981.9 L233.5,3981.9 L234.5,3981.8 L235.5,3981.7 L236.5,3981.6 L237.5,3981.3 L238.5,3981.0 L239.5,3980.7 L240.5,3980.3 L241.5,3979.8 L242.5,3979.2 L243.5,3978.5 L244.5,3977.7 L245.5,3976.8 L246.5,3975.8 L247.5,3974.7 L248.5,3973.3 L249.5,3971.8 L250.5,3970.0 L251.5,3967.9 L252.5,3965.5 L253.5,3962.8 L254.5,3959.6 L255.5,3955.9 L256.5,3951.6 L257.5,3946.7 L258.5,3941.2 L259.5,3935.1 L260.5,3928.5 L261.5,3921.6 L262.5,3915.0 L263.5,3909.3 L264.5,3905.1 L265.5,3903.1 L266.5,3903.6 L267.5,3906.6 L268.5,3911.5 L269.5,3917.8 L270.5,3924.6 L271.5,3931.4 L272.5,3937.9 L273.5,3943.8 L274.5,3949.1 L275.5,3953.8 L276.5,3957.9 L277.5,3961.4 L278.5,3964.5 L279.5,3967.1 L280.5,3969.5 L281.5,3971.5 L282.5,3973.2 L283.5,3974.7 L284.5,3976.1 L285.5,3977.3 L286.5,3978.3 L287.5,3979.3 L288.5,3980.1 L289.5,3980.9 L290.5,3981.5 L291.5,3982.1 L292.5,3982.7 L293.5,3983.2 L294.5,3983.6 L295.5,3984.0 L296.5,3984.4 L297.5,3984.7 L298.5,3985.0 L299.5,3985.3 L300.5,3985.6 L301.5,3985.8 L302.5,3986.1 L303.5,3986.3 L304.5,3986.5 L305.5,3986.7 L306.5,3986.8 L307.5,3987.0 L308.5,3987.1 L309.5,3987.3 L310.5,3987.4 L311.5,3987.5 L312.5,3987.6 L313.5,3987.7 L314.5,3987.8 L315.5,3987.9 L316.5,3988.0 L317.5,3988.1 L318.5,3988.2 L319.5,3988.2 L320.5,3988.3 L321.5,3988.4 L322.5,3988.4 L323.5,3988.5 L324.5,3988.6 L325.5,3988.6 L326.5,3988.7 L327.5,3988.7 L328.5,3988.8 L329.5,3988.8 L330.5,3988.9 L331.5,3988.9 L332.5,3988.9 L333.5,3989.0 L334.5,3989.0 L335.5,3989.0 L336.5,3989.1 L337.5,3989.1 L338.5,3989.1 L339.5,3989.2 L340.5,3989.2 L341.5,3989.2 L342.5,3989.2 L343.5,3989.3 L344.5,3989.3 L345.5,3989.3 L346.5,3989.3 L347.5,3989.3 L348.5,3989.4 L349.5,3989.4 L350.5,3989.4 L351.5,3989.4 L352.5,3989.4 L353.5,3989.4 L354.5,3989.4 L355.5,3989.5 L356.5,3989.5 L357.5,3989.5 L358.5,3989.5 L359.5,3989.5 L360.5,3989.5 L361.5,3989.5 L362.5,3989.5 L363.5,3989.5 L364.5,3989.5 L365.5,3989.6 L366.5,3989.6 L367.5,3989.6 L368.5,3989.6 L369.5,3989.6 L370.5,3989.6 L371.5,3989.6 L372.5,3989.6 L373.5,3989.6 L374.5,3989.6 L375.5,3989.6 L376.5,3989.6 L377.5,3989.6 L378.5,3989.6 L379.5,3989.6 L380.5,3989.6 L381.5,3989.6 L382.5,3989.6 L383.5,3989.6 L384.5,3989.6 L385.5,3989.6 L386.5,3989.6 L387.5,3989.6 L388.5,3989.6 L389.5,3989.6 L390.5,3989.6 L391.5,3989.6 L392.5,3989.6 L393.5,3989.6 L394.5,3989.6 L395.5,3989.6 L396.5,3989.6 L397.5,3989.6 L398.5,3989.6 L399.5,3989.5 L400.5,3989.5 L401.5,3989.5 L402.5,3989.5 L403.5,3989.5 L404.5,3989.5 L405.5,3989.5 L406.5,3989.5 L407.5,3989.5 L408.5,3989.5 L409.5,3989.4 L410.5,3989.4 L411.5,3989.4 L412.5,3989.4 L413.5,3989.4 L414.5,3989.4 L415.5,3989.4 L416.5,3989.3 L417.5,3989.3 L418.5,3989.3 L419.5,3989.3 L420.5,3989.2 L421.5,3989.2 L422.5,3989.2 L423.5,3989.2 L424.5,3989.1 L425.5,3989.1 L426.5,3989.1 L427.5,3989.0 L428.5,3989.0 L429.5,3989.0 L430.5,3988.9 L431.5,3988.9 L432.5,3988.8 L433.5,3988.8 L434.5,3988.7 L435.5,3988.7 L436.5,3988.6 L437.5,3988.5 L438.5,3988.5 L439.5,3988.4 L440.5,3988.3 L441.5,3988.2 L442.5,3988.1 L443.5,3988.0 L444.5,3987.9 L445.5,3987.7 L446.5,3987.6 L447.5,3987.4 L448.5,3987.2 L449.5,3987.0 L450.5,3986.7 L451.5,3986.4 L452.5,3986.1 L453.5,3985.7 L454.5,3985.3 L455.5,3984.8 L456.5,3984.3 L457.5,3983.6 L458.5,3982.9 L459.5,3982.1 L460.5,3981.2 L461.5,3980.2 L462.5,3979.1 L463.5,3978.1 L464.5,3977.2 L465.5,3976.5 L466.5,3976.1 L467.5,3976.0 L468.5,3976.4 L469.5,3977.0 L470.5,3977.8 L471.5,3978.8 L472.5,3979.8 L473.5,3980.7 L474.5,3981.5 L475.5,3982.3 L476.5,3982.9 L477.5,3983.5 L478.5,3984.0 L479.5,3984.4 L480.5,3984.7 L481.5,3985.0 L482.5,3985.2 L483.5,3985.4 L484.5,3985.5 L485.5,3985.6 L486.5,3985.7 L487.5,3985.7 L488.5,3985.7 L489.5,3985.7 L490.5,3985.6 L491.5,3985.5 L492.5,3985.4 L493.5,3985.2 L494.5,3985.0 L495.5,3984.8 L496.5,3984.6 L497.5,3984.3 L498.5,3984.0 L499.5,3983.7 L500.5,3983.4 L501.5,3983.2 L502.5,3983.0 L503.5,3983.0 L504.5,3983.0 L505.5,3983.2 L506.5,3983.3 L507.5,3983.5 L508.5,3983.7 L509.5,3983.8 L510.5,3983.9 L511.5,3984.0 L512.5,3984.1 L513.5,3984.1 L514.5,3984.1 L515.5,3984.0 L516.5,3983.9 L517.5,3983.8 L518.5,3983.7 L519.5,3983.5 L520.5,3983.3 L521.5,3983.0 L522.5,3982.8 L523.5,3982.4 L524.5,3982.1 L525.5,3981.7 L526.5,3981.2 L527.5,3980.7 L528.5,3980.1 L529.5,3979.4 L530.5,3978.7 L531.5,3977.8 L532.5,3976.8 L533.5,3975.7 L534.5,3974.4 L535.5,3973.0 L536.5,3971.4 L537.5,3969.6 L538.5,3967.6 L539.5,3965.6 L540.5,3963.5 L541.5,3961.7 L542.5,3960.2 L543.5,3959.2 L544.5,3958.9 L545.5,3959.3 L546.5,3960.1 L547.5,3961.3 L548.5,3962.7 L549.5,3964.1 L550.5,3965.4 L551.5,3966.5 L552.5,3967.4 L553.5,3968.1 L554.5,3968.6 L555.5,3968.9 L556.5,3969.1 L557.5,3969.1 L558.5,3968.9 L559.5,3968.5 L560.5,3968.1 L561.5,3967.5 L562.5,3966.7 L563.5,3965.8 L564.5,3964.8 L565.5,3963.6 L566.5,3962.2 L567.5,3960.6 L568.5,3958.8 L569.5,3956.8 L570.5,3954.6 L571.5,3952.1 L572.5,3949.2 L573.5,3946.0 L574.5,3942.3 L575.5,3938.2 L576.5,3933.4 L577.5,3928.0 L578.5,3921.9 L579.5,3914.8 L580.5,3906.6 L581.5,3897.2 L582.5,3886.4 L583.5,3873.8 L584.5,3859.4 L585.5,3842.7 L586.5,3823.7 L587.5,3802.3 L588.5,3778.8 L589.5,3753.7 L590.5,3728.2 L591.5,3704.2 L592.5,3684.1 L593.5,3670.7 L594.5,3666.0 L595.5,3670.8 L596.5,3684.2 L597.5,3704.3 L598.5,3728.3 L599.5,3753.9 L600.5,3779.1 L601.5,3802.7 L602.5,3824.1 L603.5,3843.1 L604.5,3859.8 L605.5,3874.4 L606.5,3887.0 L607.5,3897.9 L608.5,3907.4 L609.5,3915.6 L610.5,3922.8 L611.5,3929.0 L612.5,3934.5 L613.5,3939.3 L614.5,3943.6 L615.5,3947.3 L616.5,3950.7 L617.5,3953.7 L618.5,3956.3 L619.5,3958.7 L620.5,3960.9 L621.5,3962.9 L622.5,3964.6 L623.5,3966.2 L624.5,3967.7 L625.5,3969.1 L626.5,3970.3 L627.5,3971.4 L628.5,3972.4 L629.5,3973.4 L630.5,3974.3 L631.5,3975.1 L632.5,3975.8 L633.5,3976.5 L634.5,3977.2 L635.5,3977.8 L636.5,3978.4 L637.5,3978.9 L638.5,3979.4 L639.5,3979.8 L640.5,3980.3 L641.5,3980.7 L642.5,3981.1 L643.5,3981.4 L644.5,3981.8 L645.5,3982.1 L646.5,3982.4 L647.5,3982.7 L648.5,3983.0 L649.5,3983.2 L650.5,3983.5 L651.5,3983.7 L652.5,3983.9 L653.5,3984.1 L654.5,3984.3 L655.5,3984.5 L656.5,3984.7 L657.5,3984.8 L658.5,3985.0 L659.5,3985.2 L660.5,3985.3 L661.5,3985.4 L662.5,3985.6 L663.5,3985.7 L664.5,3985.8 L665.5,3985.9 L666.5,3986.1 L667.5,3986.2 L668.5,3986.3 L669.5,3986.4 L670.5,3986.5 L671.5,3986.5 L672.5,3986.6 L673.5,3986.7 L674.5,3986.8 L675.5,3986.9 L676.5,3986.9 L677.5,3987.0 L678.5,3987.1 L679.5,3987.1 L680.5,3987.2 L681.5,3987.3 L682.5,3987.3 L683.5,3987.4 L684.5,3987.4 L685.5,3987.5 L686.5,3987.5 L687.5,3987.5 L688.5,3987.6 L689.5,3987.6 L690.5,3987.7 L691.5,3987.7 L692.5,3987.7 L693.5,3987.7 L694.5,3987.8 L695.5,3987.8 L696.5,3987.8 L697.5,3987.8 L698.5,3987.9 L699.5,3987.9 L700.5,3987.9 L701.5,3987.9 L702.5,3987.9 L703.5,3987.9 L704.5,3987.9 L705.5,3987.9 L706.5,3987.9 L707.5,3987.9 L708.5,3987.9 L709.5,3987.9 L710.5,3987.9 L711.5,3987.9 L712.5,3987.9 L713.5,3987.9 L714.5,3987.9 L715.5,3987.8 L716.5,3987.8 L717.5,3987.8 L718.5,3987.7 L719.5,3987.7 L720.5,3987.6 L721.5,3987.6 L722.5,3987.5 L723.5,3987.4 L724.5,3987.4 L725.5,3987.3 L726.5,3987.2 L727.5,3987.1 L728.5,3987.0 L729.5,3986.8 L730.5,3986.7 L731.5,3986.5 L732.5,3986.3 L733.5,3986.1 L734.5,3985.9 L735.5,3985.6 L736.5,3985.4 L737.5,3985.0 L738.5,3984.7 L739.5,3984.2 L740.5,3983.7 L741.5,3983.2 L742.5,3982.6 L743.5,3981.8 L744.5,3981.0 L745.5,3980.0 L746.5,3978.9 L747.5,3977.6 L748.5,3976.1 L749.5,3974.4 L750.5,3972.4 L751.5,3970.3 L752.5,3967.9 L753.5,3965.5 L754.5,3963.2 L755.5,3961.2 L756.5,3959.7 L757.5,3959.0 L758.5,3959.2 L759.5,3960.3 L760.5,3962.0 L761.5,3964.2 L762.5,3966.6 L763.5,3969.0 L764.5,3971.2 L765.5,3973.3 L766.5,3975.2 L767.5,3976.8 L768.5,3978.2 L769.5,3979.5 L770.5,3980.6 L771.5,3981.5 L772.5,3982.3 L773.5,3983.0 L774.5,3983.6 L775.5,3984.1 L776.5,3984.6 L777.5,3985.0 L778.5,3985.4 L779.5,3985.7 L780.5,3986.0 L781.5,3986.3 L782.5,3986.5 L783.5,3986.7 L784.5,3986.9 L785.5,3987.1 L786.5,3987.2 L787.5,3987.4 L788.5,3987.5 L789.5,3987.6 L790.5,3987.7 L791.5,3987.8 L792.5,3987.9 L793.5,3988.0 L794.5,3988.0 L795.5,3988.1 L796.5,3988.2 L797.5,3988.2 L798.5,3988.3 L799.5,3988.3 L800.5,3988.4 L801.5,3988.4 L802.5,3988.4 L803.5,3988.5 L804.5,3988.5 L805.5,3988.5 L806.5,3988.5 L807.5,3988.6 L808.5,3988.6 L809.5,3988.6 L810.5,3988.6 L811.5,3988.6 L812.5,3988.6 L813.5,3988.6 L814.5,3988.6 L815.5,3988.6 L816.5,3988.6 L817.5,3988.6 L818.5,3988.6 L819.5,3988.6 L820.5,3988.6 L821.5,3988.6 L822.5,3988.5 L823.5,3988.5 L824.5,3988.5 L825.5,3988.4 L826.5,3988.4 L827.5,3988.4 L828.5,3988.3 L829.5,3988.3 L830.5,3988.2 L831.5,3988.1 L832.5,3988.1 L833.5,3988.0 L834.5,3987.9 L835.5,3987.8 L836.5,3987.6 L837.5,3987.5 L838.5,3987.3 L839.5,3987.2 L840.5,3986.9 L841.5,3986.7 L842.5,3986.4 L843.5,3986.1 L844.5,3985.7 L845.5,3985.3 L846.5,3984.8 L847.5,3984.3 L848.5,3983.7 L849.5,3983.1 L850.5,3982.4 L851.5,3981.8 L852.5,3981.3 L853.5,3981.0 L854.5,3980.8 L855.5,3980.9 L856.5,3981.1 L857.5,3981.5 L858.5,3982.1 L859.5,3982.6 L860.5,3983.1 L861.5,3983.6 L862.5,3984.0 L863.5,3984.4 L864.5,3984.6 L865.5,3984.9 L866.5,3985.0 L867.5,3985.2 L868.5,3985.2 L869.5,3985.2 L870.5,3985.2 L871.5,3985.1 L872.5,3985.0 L873.5,3984.9 L874.5,3984.7 L875.5,3984.4 L876.5,3984.1 L877.5,3983.7 L878.5,3983.2 L879.5,3982.7 L880.5,3982.0 L881.5,3981.3 L882.5,3980.4 L883.5,3979.4 L884.5,3978.2 L885.5,3976.9 L886.5,3975.4 L887.5,3973.7 L888.5,3972.0 L889.5,3970.3 L890.5,3968.8 L891.5,3967.7 L892.5,3967.1 L893.5,3967.1 L894.5,3967.7 L895.5,3968.9 L896.5,3970.4 L897.5,3972.0 L898.5,3973.7 L899.5,3975.4 L900.5,3976.9 L901.5,3978.2 L902.5,3979.4 L903.5,3980.5 L904.5,3981.4 L905.5,3982.1 L906.5,3982.8 L907.5,3983.4 L908.5,3983.9 L909.5,3984.3 L910.5,3984.7 L911.5,3985.0 L912.5,3985.3 L913.5,3985.5 L914.5,3985.7 L915.5,3985.9 L916.5,3986.1 L917.5,3986.2 L918.5,3986.3 L919.5,3986.4 L920.5,3986.5 L921.5,3986.6 L922.5,3986.6 L923.5,3986.7 L924.5,3986.7 L925.5,3986.7 L926.5,3986.8 L927.5,3986.8 L928.5,3986.8 L929.5,3986.8 L930.5,3986.7 L931.5,3986.7 L932.5,3986.7 L933.5,3986.7 L934.5,3986.6 L935.5,3986.6 L936.5,3986.5 L937.5,3986.4 L938.5,3986.4 L939.5,3986.3 L940.5,3986.2 L941.5,3986.1 L942.5,3985.9 L943.5,3985.8 L944.5,3985.7 L945.5,3985.5 L946.5,3985.3 L947.5,3985.1 L948.5,3984.9 L949.5,3984.7 L950.5,3984.4 L951.5,3984.1 L952.5,3983.8 L953.5,3983.4 L954.5,3983.0 L955.5,3982.6 L956.5,3982.1 L957.5,3981.5 L958.5,3980.9 L959.5,3980.2 L960.5,3979.4 L961.5,3978.4 L962.5,3977.3 L963.5,3976.1 L964.5,3974.7 L965.5,3973.1 L966.5,3971.2 L967.5,3969.0 L968.5,3966.6 L969.5,3963.8 L970.5,3960.7 L971.5,3957.4 L972.5,3954.0 L973.5,3950.8 L974.5,3948.0 L975.5,3946.0 L976.5,3945.0 L977.5,3945.3 L978.5,3946.8 L979.5,3949.2 L980.5,3952.2 L981.5,3955.4 L982.5,3958.6 L983.5,3961.7 L984.5,3964.4 L985.5,3966.9 L986.5,3969.0 L987.5,3970.8 L988.5,3972.4 L989.5,3973.7 L990.5,3974.9 L991.5,3975.8 L992.5,3976.6 L993.5,3977.3 L994.5,3977.9 L995.5,3978.3 L996.5,3978.7 L997.5,3979.0 L998.5,3979.2 L999.5,3979.4 L1000.5,3979.5 L1001.5,3979.5 L1002.5,3979.5 L1003.5,3979.5 L1004.5,3979.4 L1005.5,3979.2 L1006.5,3979.0 L1007.5,3978.7 L1008.5,3978.4 L1009.5,3978.0 L1010.5,3977.5 L1011.5,3977.0 L1012.5,3976.3 L1013.5,3975.6 L1014.5,3974.8 L1015.5,3973.9 L1016.5,3972.8 L1017.5,3971.5 L1018.5,3970.1 L1019.5,3968.5 L1020.5,3966.6 L1021.5,3964.4 L1022.5,3961.8 L1023.5,3958.9 L1024.5,3955.6 L1025.5,3951.7 L1026.5,3947.3 L1027.5,3942.5 L1028.5,3937.2 L1029.5,3931.7 L1030.5,3926.2 L1031.5,3921.3 L1032.5,3917.6 L1033.5,3915.4 L1034.5,3915.1 L1035.5,3916.8 L1036.5,3920.1 L1037.5,3924.4 L1038.5,3929.3 L1039.5,3934.2 L1040.5,3938.9 L1041.5,3943.1 L1042.5,3946.8 L1043.5,3949.8 L1044.5,3952.3 L1045.5,3954.3 L1046.5,3955.8 L1047.5,3956.8 L1048.5,3957.3 L1049.5,3957.5 L1050.5,3957.2 L1051.5,3956.6 L1052.5,3955.6 L1053.5,3954.4 L1054.5,3953.0 L1055.5,3951.6 L1056.5,3950.5 L1057.5,3949.8 L1058.5,3949.6 L1059.5,3950.1 L1060.5,3951.1 L1061.5,3952.6 L1062.5,3954.2 L1063.5,3955.8 L1064.5,3957.3 L1065.5,3958.5 L1066.5,3959.4 L1067.5,3960.1 L1068.5,3960.4 L1069.5,3960.4 L1070.5,3960.1 L1071.5,3959.6 L1072.5,3958.9 L1073.5,3958.0 L1074.5,3957.2 L1075.5,3956.5 L1076.5,3956.1 L1077.5,3956.0 L1078.5,3956.3 L1079.5,3956.8 L1080.5,3957.5 L1081.5,3958.2 L1082.5,3958.9 L1083.5,3959.4 L1084.5,3959.7 L1085.5,3959.8 L1086.5,3959.7 L1087.5,3959.4 L1088.5,3958.8 L1089.5,3958.0 L1090.5,3957.0 L1091.5,3955.7 L1092.5,3954.2 L1093.5,3952.3 L1094.5,3950.2 L1095.5,3947.7 L1096.5,3944.8 L1097.5,3941.4 L1098.5,3937.5 L1099.5,3933.0 L1100.5,3927.9 L1101.5,3922.0 L1102.5,3915.2 L1103.5,3907.5 L1104.5,3898.8 L1105.5,3889.2 L1106.5,3878.9 L1107.5,3868.2 L1108.5,3857.5 L1109.5,3847.8 L1110.5,3839.6 L1111.5,3833.5 L1112.5,3829.6 L1113.5,3827.5 L1114.5,3826.3 L1115.5,3825.1 L1116.5,3822.9 L1117.5,3819.1 L1118.5,3813.1 L1119.5,3804.6 L1120.5,3793.6 L1121.5,3780.5 L1122.5,3766.0 L1123.5,3751.2 L1124.5,3737.9 L1125.5,3728.0 L1126.5,3723.6 L1127.5,3725.7 L1128.5,3734.4 L1129.5,3748.7 L1130.5,3766.7 L1131.5,3786.4 L1132.5,3806.4 L1133.5,3825.5 L1134.5,3843.0 L1135.5,3858.7 L1136.5,3872.6 L1137.5,3884.7 L1138.5,3895.1 L1139.5,3904.2 L1140.5,3912.1 L1141.5,3918.9 L1142.5,3924.8 L1143.5,3929.9 L1144.5,3934.3 L1145.5,3938.2 L1146.5,3941.6 L1147.5,3944.5 L1148.5,3947.1 L1149.5,3949.4 L1150.5,3951.3 L1151.5,3953.0 L1152.5,3954.5 L1153.5,3955.7 L1154.5,3956.8 L1155.5,3957.7 L1156.5,3958.4 L1157.5,3959.0 L1158.5,3959.4 L1159.5,3959.6 L1160.5,3959.8 L1161.5,3959.7 L1162.5,3959.5 L1163.5,3959.2 L1164.5,3958.7 L1165.5,3958.0 L1166.5,3957.1 L1167.5,3956.1 L1168.5,3954.7 L1169.5,3953.2 L1170.5,3951.3 L1171.5,3949.1 L1172.5,3946.5 L1173.5,3943.5 L1174.5,3940.0 L1175.5,3935.9 L1176.5,3931.0 L1177.5,3925.4 L1178.5,3918.9 L1179.5,3911.3 L1180.5,3902.5 L1181.5,3892.4 L1182.5,3881.0 L1183.5,3868.3 L1184.5,3854.8 L1185.5,3840.9 L1186.5,3827.8 L1187.5,3816.6 L1188.5,3809.0 L1189.5,3806.0 L1190.5,3808.2 L1191.5,3815.3 L1192.5,3826.1 L1193.5,3839.3 L1194.5,3853.4 L1195.5,3867.3 L1196.5,3880.5 L1197.5,3892.5 L1198.5,3903.1 L1199.5,3912.5 L1200.5,3920.6 L1201.5,3927.7 L1202.5,3933.9 L1203.5,3939.2 L1204.5,3943.8 L1205.5,3947.9 L1206.5,3951.4 L1207.5,3954.5 L1208.5,3957.2 L1209.5,3959.6 L1210.5,3961.7 L1211.5,3963.6 L1212.5,3965.3 L1213.5,3966.8 L1214.5,3968.1 L1215.5,3969.4 L1216.5,3970.5 L1217.5,3971.4 L1218.5,3972.3 L1219.5,3973.2 L1220.5,3973.9 L1221.5,3974.6 L1222.5,3975.2 L1223.5,3975.8 L1224.5,3976.3 L1225.5,3976.8 L1226.5,3977.2 L1227.5,3977.6 L1228.5,3977.9 L1229.5,3978.3 L1230.5,3978.6 L1231.5,3978.8 L1232.5,3979.1 L1233.5,3979.3 L1234.5,3979.5 L1235.5,3979.7 L1236.5,3979.9 L1237.5,3980.0 L1238.5,3980.2 L1239.5,3980.3 L1240.5,3980.4 L1241.5,3980.4 L1242.5,3980.5 L1243.5,3980.6 L1244.5,3980.6 L1245.5,3980.6 L1246.5,3980.6 L1247.5,3980.6 L1248.5,3980.5 L1249.5,3980.5 L1250.5,3980.4 L1251.5,3980.3 L1252.5,3980.2 L1253.5,3980.1 L1254.5,3979.9 L1255.5,3979.7 L1256.5,3979.5 L1257.5,3979.3 L1258.5,3979.0 L1259.5,3978.6 L1260.5,3978.2 L1261.5,3977.8 L1262.5,3977.3 L1263.5,3976.8 L1264.5,3976.1 L1265.5,3975.4 L1266.5,3974.5 L1267.5,3973.5 L1268.5,3972.4 L1269.5,3971.1 L1270.5,3969.6 L1271.5,3967.9 L1272.5,3966.0 L1273.5,3963.8 L1274.5,3961.6 L1275.5,3959.2 L1276.5,3957.0 L1277.5,3955.0 L1278.5,3953.5 L1279.5,3952.8 L1280.5,3952.8 L1281.5,3953.6 L1282.5,3954.9 L1283.5,3956.7 L1284.5,3958.6 L1285.5,3960.4 L1286.5,3962.2 L1287.5,3963.7 L1288.5,3965.0 L1289.5,3966.1 L1290.5,3966.9 L1291.5,3967.6 L1292.5,3968.1 L1293.5,3968.4 L1294.5,3968.6 L1295.5,3968.7 L1296.5,3968.6 L1297.5,3968.4 L1298.5,3968.1 L1299.5,3967.7 L1300.5,3967.2 L1301.5,3966.6 L1302.5,3965.9 L1303.5,3965.1 L1304.5,3964.2 L1305.5,3963.2 L1306.5,3962.0 L1307.5,3960.8 L1308.5,3959.3 L1309.5,3957.7 L1310.5,3956.0 L1311.5,3954.0 L1312.5,3951.8 L1313.5,3949.4 L1314.5,3946.7 L1315.5,3943.6 L1316.5,3940.2 L1317.5,3936.5 L1318.5,3932.2 L1319.5,3927.4 L1320.5,3921.9 L1321.5,3915.7 L1322.5,3908.7 L1323.5,3900.6 L1324.5,3891.4 L1325.5,3880.8 L1326.5,3868.6 L1327.5,3854.5 L1328.5,3838.2 L1329.5,3819.4 L1330.5,3797.8 L1331.5,3773.1 L1332.5,3745.3 L1333.5,3714.6 L1334.5,3681.7 L1335.5,3648.1 L1336.5,3616.2 L1337.5,3589.2 L1338.5,3570.5 L1339.5,3563.1 L1340.5,3568.1 L1341.5,3584.7 L1342.5,3610.4 L1343.5,3641.7 L1344.5,3675.2 L1345.5,3708.4 L1346.5,3739.7 L1347.5,3768.2 L1348.5,3793.6 L1349.5,3815.8 L1350.5,3835.2 L1351.5,3852.0 L1352.5,3866.6 L1353.5,3879.2 L1354.5,3890.2 L1355.5,3899.7 L1356.5,3908.1 L1357.5,3915.4 L1358.5,3921.8 L1359.5,3927.4 L1360.5,3932.4 L1361.5,3936.9 L1362.5,3940.9 L1363.5,3944.4 L1364.5,3947.6 L1365.5,3950.5 L1366.5,3953.1 L1367.5,3955.4 L1368.5,3957.5 L1369.5,3959.5 L1370.5,3961.2 L1371.5,3962.9 L1372.5,3964.4 L1373.5,3965.7 L1374.5,3967.0 L1375.5,3968.1 L1376.5,3969.2 L1377.5,3970.2 L1378.5,3971.1 L1379.5,3972.0 L1380.5,3972.7 L1381.5,3973.5 L1382.5,3974.2 L1383.5,3974.8 L1384.5,3975.4 L1385.5,3975.9 L1386.5,3976.5 L1387.5,3977.0 L1388.5,3977.4 L1389.5,3977.8 L1390.5,3978.2 L1391.5,3978.6 L1392.5,3979.0 L1393.5,3979.3 L1394.5,3979.6 L1395.5,3979.9 L1396.5,3980.1 L1397.5,3980.4 L1398.5,3980.6 L1399.5,3980.8 L1400.5,3981.0 L1401.5,3981.2 L1402.5,3981.4 L1403.5,3981.5 L1404.5,3981.6 L1405.5,3981.8 L1406.5,3981.9 L1407.5,3982.0 L1408.5,3982.0 L1409.5,3982.1 L1410.5,3982.1 L1411.5,3982.1 L1412.5,3982.2 L1413.5,3982.1 L1414.5,3982.1 L1415.5,3982.1 L1416.5,3982.0 L1417.5,3981.9 L1418.5,3981.8 L1419.5,3981.6 L1420.5,3981.4 L1421.5,3981.2 L1422.5,3980.9 L1423.5,3980.6 L1424.5,3980.2 L1425.5,3979.8 L1426.5,3979.3 L1427.5,3978.7 L1428.5,3978.0 L1429.5,3977.2 L1430.5,3976.3 L1431.5,3975.3 L1432.5,3974.0 L1433.5,3972.6 L1434.5,3970.9 L1435.5,3968.9 L1436.5,3966.7 L1437.5,3964.1 L1438.5,3961.2 L1439.5,3957.9 L1440.5,3954.5 L1441.5,3950.9 L1442.5,3947.6 L1443.5,3944.7 L1444.5,3942.8 L1445.5,3942.0 L1446.5,3942.6 L1447.5,3944.4 L1448.5,3947.2 L1449.5,3950.6 L1450.5,3954.2 L1451.5,3957.8 L1452.5,3961.2 L1453.5,3964.3 L1454.5,3967.0 L1455.5,3969.4 L1456.5,3971.5 L1457.5,3973.4 L1458.5,3975.0 L1459.5,3976.3 L1460.5,3977.5 L1461.5,3978.6 L1462.5,3979.5 L1463.5,3980.3 L1464.5,3981.0 L1465.5,3981.6 L1466.5,3982.2 L1467.5,3982.7 L1468.5,3983.1 L1469.5,3983.5 L1470.5,3983.9 L1471.5,3984.2 L1472.5,3984.5 L1473.5,3984.7 L1474.5,3985.0 L1475.5,3985.2 L1476.5,3985.4 L1477.5,3985.5 L1478.5,3985.7 L1479.5,3985.8 L1480.5,3986.0 L1481.5,3986.1 L1482.5,3986.2 L1483.5,3986.3 L1484.5,3986.4 L1485.5,3986.5 L1486.5,3986.5 L1487.5,3986.6 L1488.5,3986.6 L1489.5,3986.7 L1490.5,3986.7 L1491.5,3986.7 L1492.5,3986.8 L1493.5,3986.8 L1494.5,3986.8 L1495.5,3986.8 L1496.5,3986.7 L1497.5,3986.7 L1498.5,3986.7 L1499.5,3986.6 L1500.5,3986.6 L1501.5,3986.5 L1502.5,3986.4 L1503.5,3986.3 L1504.5,3986.2 L1505.5,3986.1 L1506.5,3986.0 L1507.5,3985.8 L1508.5,3985.6 L1509.5,3985.4 L1510.5,3985.1 L1511.5,3984.8 L1512.5,3984.5 L1513.5,3984.1 L1514.5,3983.7 L1515.5,3983.2 L1516.5,3982.6 L1517.5,3982.0 L1518.5,3981.2 L1519.5,3980.3 L1520.5,3979.3 L1521.5,3978.1 L1522.5,3976.7 L1523.5,3975.1 L1524.5,3973.3 L1525.5,3971.3 L1526.5,3969.0 L1527.5,3966.7 L1528.5,3964.3 L1529.5,3962.1 L1530.5,3960.4 L1531.5,3959.3 L1532.5,3959.0 L1533.5,3959.7 L1534.5,3961.1 L1535.5,3963.1 L1536.5,3965.4 L1537.5,3967.8 L1538.5,3970.2 L1539.5,3972.4 L1540.5,3974.4 L1541.5,3976.1 L1542.5,3977.7 L1543.5,3979.0 L1544.5,3980.2 L1545.5,3981.2 L1546.5,3982.1 L1547.5,3982.8 L1548.5,3983.5 L1549.5,3984.1 L1550.5,3984.6 L1551.5,3985.1 L1552.5,3985.5 L1553.5,3985.8 L1554.5,3986.2 L1555.5,3986.4 L1556.5,3986.7 L1557.5,3986.9 L1558.5,3987.1 L1559.5,3987.3 L1560.5,3987.5 L1561.5,3987.7 L1562.5,3987.8 L1563.5,3987.9 L1564.5,3988.1 L1565.5,3988.2 L1566.5,3988.3 L1567.5,3988.4 L1568.5,3988.5 L1569.5,3988.6 L1570.5,3988.6 L1571.5,3988.7 L1572.5,3988.8 L1573.5,3988.8 L1574.5,3988.9 L1575.5,3989.0 L1576.5,3989.0 L1577.5,3989.1 L1578.5,3989.1 L1579.5,3989.2 L1580.5,3989.2 L1581.5,3989.2 L1582.5,3989.3 L1583.5,3989.3 L1584.5,3989.4 L1585.5,3989.4 L1586.5,3989.4 L1587.5,3989.5 L1588.5,3989.5 L1589.5,3989.5 L1590.5,3989.5 L1591.5,3989.6 L1592.5,3989.6 L1593.5,3989.6 L1594.5,3989.6 L1595.5,3989.7 L1596.5,3989.7 L1597.5,3989.7 L1598.5,3989.7 L1599.5,3989.7 L1600.5,3989.8 L1601.5,3989.8 L1602.5,3989.8 L1603.5,3989.8 L1604.5,3989.8 L1605.5,3989.8 L1606.5,3989.9 L1607.5,3989.9 L1608.5,3989.9 L1609.5,3989.9 L1610.5,3989.9 L1611.5,3989.9 L1612.5,3989.9 L1613.5,3990.0 L1614.5,3990.0 L1615.5,3990.0 L1616.5,3990.0 L1617.5,3990.0 L1618.5,3990.0 L1619.5,3990.0 L1620.5,3990.0 L1621.5,3990.0 L1622.5,3990.1 L1623.5,3990.1 L1624.5,3990.1 L1625.5,3990.1 L1626.5,3990.1 L1627.5,3990.1 L1628.5,3990.1 L1629.5,3990.1 L1630.5,3990.1 L1631.5,3990.1 L1632.5,3990.1 L1633.5,3990.2 L1634.5,3990.2 L1635.5,3990.2 L1636.5,3990.2 L1637.5,3990.2 L1638.5,3990.2 L1639.5,3990.2 L1640.5,3990.2 L1641.5,3990.2 L1642.5,3990.2 L1643.5,3990.2 L1644.5,3990.2 L1645.5,3990.2 L1646.5,3990.2 L1647.5,3990.3 L1648.5,3990.3 L1649.5,3990.3 L1650.5,3990.3 L1651.5,3990.3 L1652.5,3990.3 L1653.5,3990.3 L1654.5,3990.3" fill="none" stroke="#00f" stroke-width="3.4" stroke-linejoin="round" stroke-linecap="round"/>
<line x1="164.7" y1="212" x2="164.7" y2="665.5" stroke="#1c1c1c" stroke-width="2.5" stroke-dasharray="8 6.3"/>
<line x1="164.7" y1="665.5" x2="230" y2="665.5" stroke="#1c1c1c" stroke-width="2.5" stroke-dasharray="8 6.3"/>
<line x1="230" y1="665.5" x2="230" y2="822" stroke="#a4a4a4" stroke-width="2.5" stroke-dasharray="8 6.3"/>
<line x1="230" y1="978" x2="230" y2="1034" stroke="#a4a4a4" stroke-width="2.5" stroke-dasharray="8 6.3"/>
<line x1="494.7" y1="212" x2="494.7" y2="665.5" stroke="#1c1c1c" stroke-width="2.5" stroke-dasharray="8 6.3"/>
<line x1="502" y1="212" x2="502" y2="665.5" stroke="#1c1c1c" stroke-width="2.5" stroke-dasharray="8 6.3"/>
<line x1="494.7" y1="665.5" x2="521" y2="665.5" stroke="#1c1c1c" stroke-width="2.5" stroke-dasharray="8 6.3"/>
<line x1="521" y1="665.5" x2="521" y2="945" stroke="#1c1c1c" stroke-width="2.5" stroke-dasharray="8 6.3"/>
<line x1="611" y1="212" x2="611" y2="665.5" stroke="#a4a4a4" stroke-width="2.5" stroke-dasharray="8 6.3"/>
<line x1="611" y1="665.5" x2="620" y2="665.5" stroke="#1c1c1c" stroke-width="2.5" stroke-dasharray="8 6.3"/>
<line x1="620" y1="665.5" x2="620" y2="778" stroke="#1c1c1c" stroke-width="2.5" stroke-dasharray="8 6.3"/>
<line x1="828.9" y1="212" x2="828.9" y2="622" stroke="#a4a4a4" stroke-width="2.5" stroke-dasharray="8 6.3"/>
<line x1="851.4" y1="212" x2="851.4" y2="597" stroke="#1c1c1c" stroke-width="2.5" stroke-dasharray="8 6.3"/>
<line x1="985.5" y1="212" x2="985.5" y2="665.5" stroke="#1c1c1c" stroke-width="2.5" stroke-dasharray="8 6.3"/>
<line x1="985.5" y1="665.5" x2="1015.5" y2="665.5" stroke="#1c1c1c" stroke-width="2.5" stroke-dasharray="8 6.3"/>
<line x1="1015.5" y1="665.5" x2="1015.5" y2="1018" stroke="#a4a4a4" stroke-width="2.5" stroke-dasharray="8 6.3"/>
<line x1="1075.3" y1="212" x2="1075.3" y2="665.5" stroke="#1c1c1c" stroke-width="2.5" stroke-dasharray="8 6.3"/>
<line x1="1067" y1="665.5" x2="1075.3" y2="665.5" stroke="#1c1c1c" stroke-width="2.5" stroke-dasharray="8 6.3"/>
<line x1="1067" y1="665.5" x2="1067" y2="1003" stroke="#a4a4a4" stroke-width="2.5" stroke-dasharray="8 6.3"/>
<line x1="1108.3" y1="212" x2="1108.3" y2="665.5" stroke="#1c1c1c" stroke-width="2.5" stroke-dasharray="8 6.3"/>
<line x1="1109.6" y1="665.5" x2="1109.6" y2="868" stroke="#b8b8b8" stroke-width="3.4" stroke-dasharray="8 6.3"/>
<line x1="1342.7" y1="212" x2="1342.7" y2="682.5" stroke="#1c1c1c" stroke-width="2.5" stroke-dasharray="8 6.3"/>
<line x1="1282" y1="682.5" x2="1342.7" y2="682.5" stroke="#1c1c1c" stroke-width="2.5" stroke-dasharray="8 6.3"/>
<line x1="1282" y1="682.5" x2="1282" y2="692" stroke="#1c1c1c" stroke-width="2.5" stroke-dasharray="8 6.3"/>
<line x1="1524.8" y1="212" x2="1524.8" y2="665.5" stroke="#1c1c1c" stroke-width="2.5" stroke-dasharray="8 6.3"/>
<line x1="1524.8" y1="665.5" x2="1536.7" y2="665.5" stroke="#1c1c1c" stroke-width="2.5" stroke-dasharray="8 6.3"/>
<line x1="1536.7" y1="665.5" x2="1536.7" y2="1028" stroke="#a4a4a4" stroke-width="2.5" stroke-dasharray="8 6.3"/>
<line x1="976.7" y1="1341" x2="976.7" y2="1797" stroke="#1c1c1c" stroke-width="2.5" stroke-dasharray="8 6.3"/>
<line x1="1026.6" y1="1341" x2="1026.6" y2="1797" stroke="#a4a4a4" stroke-width="2.5" stroke-dasharray="8 6.3"/>
<line x1="1067.8" y1="1341" x2="1067.8" y2="2051" stroke="#a4a4a4" stroke-width="2.5" stroke-dasharray="8 6.3"/>
<line x1="1119" y1="1341" x2="1119" y2="1797" stroke="#a4a4a4" stroke-width="2.5" stroke-dasharray="8 6.3"/>
<line x1="976.7" y1="1797" x2="1119" y2="1797" stroke="#1c1c1c" stroke-width="2.5" stroke-dasharray="8 6.3"/>
<line x1="1293.4" y1="1341" x2="1293.4" y2="1797" stroke="#1c1c1c" stroke-width="2.5" stroke-dasharray="8 6.3"/>
<line x1="1323.4" y1="1341" x2="1323.4" y2="1797" stroke="#1c1c1c" stroke-width="2.5" stroke-dasharray="8 6.3"/>
<line x1="1355.8" y1="1341" x2="1355.8" y2="1797" stroke="#1c1c1c" stroke-width="2.5" stroke-dasharray="8 6.3"/>
<line x1="1511.7" y1="1341" x2="1511.7" y2="1797" stroke="#1c1c1c" stroke-width="2.5" stroke-dasharray="8 6.3"/>
<line x1="1541.7" y1="1341" x2="1541.7" y2="1797" stroke="#1c1c1c" stroke-width="2.5" stroke-dasharray="8 6.3"/>
<line x1="1236" y1="1797" x2="1355.8" y2="1797" stroke="#1c1c1c" stroke-width="2.5" stroke-dasharray="8 6.3"/>
<line x1="1236" y1="1797" x2="1236" y2="2004" stroke="#1c1c1c" stroke-width="2.5" stroke-dasharray="8 6.3"/>
<line x1="1511.7" y1="1797" x2="1541.7" y2="1797" stroke="#1c1c1c" stroke-width="2.5" stroke-dasharray="8 6.3"/>
<line x1="1528" y1="1797" x2="1528" y2="2090" stroke="#1c1c1c" stroke-width="2.5" stroke-dasharray="8 6.3"/>
<line x1="996.7" y1="2432" x2="996.7" y2="2905.7" stroke="#a4a4a4" stroke-width="2.5" stroke-dasharray="8 6.3"/>
<line x1="1070.3" y1="2432" x2="1070.3" y2="2905.7" stroke="#1c1c1c" stroke-width="2.5" stroke-dasharray="8 6.3"/>
<line x1="1080.8" y1="2432" x2="1080.8" y2="2905.7" stroke="#1c1c1c" stroke-width="2.5" stroke-dasharray="8 6.3"/>
<line x1="1135" y1="2432" x2="1135" y2="2905.7" stroke="#1c1c1c" stroke-width="2.5" stroke-dasharray="8 6.3"/>
<line x1="996.7" y1="2905.7" x2="1135" y2="2905.7" stroke="#a4a4a4" stroke-width="2.5" stroke-dasharray="8 6.3"/>
<line x1="1077.8" y1="2905.7" x2="1077.8" y2="3117" stroke="#a4a4a4" stroke-width="2.5" stroke-dasharray="8 6.3"/>
<line x1="1263.5" y1="2432" x2="1263.5" y2="2930" stroke="#1c1c1c" stroke-width="2.5" stroke-dasharray="8 6.3"/>
<line x1="1386.3" y1="2432" x2="1386.3" y2="2905.7" stroke="#a4a4a4" stroke-width="2.5" stroke-dasharray="8 6.3"/>
<line x1="1263.5" y1="2905.7" x2="1386.3" y2="2905.7" stroke="#a4a4a4" stroke-width="2.5" stroke-dasharray="8 6.3"/>
<line x1="976.7" y1="3541" x2="976.7" y2="4015" stroke="#1c1c1c" stroke-width="2.5" stroke-dasharray="8 6.3"/>
<line x1="1034.7" y1="3541" x2="1034.7" y2="4015" stroke="#1c1c1c" stroke-width="2.5" stroke-dasharray="8 6.3"/>
<line x1="1111.4" y1="3541" x2="1111.4" y2="4015" stroke="#1c1c1c" stroke-width="2.5" stroke-dasharray="8 6.3"/>
<line x1="1127.7" y1="3541" x2="1127.7" y2="4015" stroke="#1c1c1c" stroke-width="2.5" stroke-dasharray="8 6.3"/>
<line x1="1058.4" y1="3541" x2="1058.4" y2="4015" stroke="#c4c4c4" stroke-width="2.8" stroke-dasharray="8 6.3"/>
<line x1="976.7" y1="4015" x2="1127.7" y2="4015" stroke="#1c1c1c" stroke-width="2.5" stroke-dasharray="8 6.3"/>
<line x1="1078.4" y1="4015" x2="1078.4" y2="4222" stroke="#a4a4a4" stroke-width="2.5" stroke-dasharray="8 6.3"/>
<line x1="1190" y1="3541" x2="1190" y2="4015" stroke="#1c1c1c" stroke-width="2.5" stroke-dasharray="8 6.3"/>
<line x1="1190" y1="4015" x2="1211.5" y2="4015" stroke="#1c1c1c" stroke-width="2.5" stroke-dasharray="8 6.3"/>
<line x1="1211.5" y1="4015" x2="1211.5" y2="4196" stroke="#1c1c1c" stroke-width="2.5" stroke-dasharray="8 6.3"/>
<line x1="1339.6" y1="3541" x2="1339.6" y2="4015" stroke="#1c1c1c" stroke-width="2.5" stroke-dasharray="8 6.3"/>
<line x1="1339.6" y1="4015" x2="1522.3" y2="4015" stroke="#1c1c1c" stroke-width="2.5" stroke-dasharray="8 6.3"/>
<line x1="1522.3" y1="4015" x2="1522.3" y2="4245" stroke="#1c1c1c" stroke-width="2.5" stroke-dasharray="8 6.3"/>
<rect x="56.5" y="36.5" width="1598.7" height="4435.0" fill="none" stroke="#000" stroke-width="5.6"/>
<line x1="56.5" y1="1146.0" x2="1655.2" y2="1146.0" stroke="#000" stroke-width="5.6"/>
<line x1="56.5" y1="2255.5" x2="1655.2" y2="2255.5" stroke="#000" stroke-width="5.6"/>
<line x1="56.5" y1="3365.5" x2="1655.2" y2="3365.5" stroke="#000" stroke-width="5.6"/>
<line x1="55.6" y1="23.0" x2="55.6" y2="36.5" stroke="#000" stroke-width="5.2"/>
<line x1="55.6" y1="4471.5" x2="55.6" y2="4485.5" stroke="#000" stroke-width="5.2"/>
<text transform="translate(61.6,4541) scale(1,1.065)" font-size="43.3" text-anchor="middle" fill="#000">1150</text>
<line x1="215.5" y1="14.0" x2="215.5" y2="36.5" stroke="#000" stroke-width="5.2"/>
<line x1="215.5" y1="4471.5" x2="215.5" y2="4494.5" stroke="#000" stroke-width="5.2"/>
<line x1="215.5" y1="1125.5" x2="215.5" y2="1166.5" stroke="#000" stroke-width="5.2"/>
<line x1="215.5" y1="2235.0" x2="215.5" y2="2276.0" stroke="#000" stroke-width="5.2"/>
<line x1="215.5" y1="3345.0" x2="215.5" y2="3386.0" stroke="#000" stroke-width="5.2"/>
<text transform="translate(221.5,4541) scale(1,1.065)" font-size="43.3" text-anchor="middle" fill="#000">1200</text>
<line x1="375.5" y1="23.0" x2="375.5" y2="36.5" stroke="#000" stroke-width="5.2"/>
<line x1="375.5" y1="4471.5" x2="375.5" y2="4485.5" stroke="#000" stroke-width="5.2"/>
<line x1="375.5" y1="1134.0" x2="375.5" y2="1158.0" stroke="#000" stroke-width="5.2"/>
<line x1="375.5" y1="2243.5" x2="375.5" y2="2267.5" stroke="#000" stroke-width="5.2"/>
<line x1="375.5" y1="3353.5" x2="375.5" y2="3377.5" stroke="#000" stroke-width="5.2"/>
<text transform="translate(381.5,4541) scale(1,1.065)" font-size="43.3" text-anchor="middle" fill="#000">1250</text>
<line x1="535.4" y1="14.0" x2="535.4" y2="36.5" stroke="#000" stroke-width="5.2"/>
<line x1="535.4" y1="4471.5" x2="535.4" y2="4494.5" stroke="#000" stroke-width="5.2"/>
<line x1="535.4" y1="1125.5" x2="535.4" y2="1166.5" stroke="#000" stroke-width="5.2"/>
<line x1="535.4" y1="2235.0" x2="535.4" y2="2276.0" stroke="#000" stroke-width="5.2"/>
<line x1="535.4" y1="3345.0" x2="535.4" y2="3386.0" stroke="#000" stroke-width="5.2"/>
<text transform="translate(541.4,4541) scale(1,1.065)" font-size="43.3" text-anchor="middle" fill="#000">1300</text>
<line x1="695.4" y1="23.0" x2="695.4" y2="36.5" stroke="#000" stroke-width="5.2"/>
<line x1="695.4" y1="4471.5" x2="695.4" y2="4485.5" stroke="#000" stroke-width="5.2"/>
<line x1="695.4" y1="1134.0" x2="695.4" y2="1158.0" stroke="#000" stroke-width="5.2"/>
<line x1="695.4" y1="2243.5" x2="695.4" y2="2267.5" stroke="#000" stroke-width="5.2"/>
<line x1="695.4" y1="3353.5" x2="695.4" y2="3377.5" stroke="#000" stroke-width="5.2"/>
<text transform="translate(701.4,4541) scale(1,1.065)" font-size="43.3" text-anchor="middle" fill="#000">1350</text>
<line x1="855.4" y1="14.0" x2="855.4" y2="36.5" stroke="#000" stroke-width="5.2"/>
<line x1="855.4" y1="4471.5" x2="855.4" y2="4494.5" stroke="#000" stroke-width="5.2"/>
<line x1="855.4" y1="1125.5" x2="855.4" y2="1166.5" stroke="#000" stroke-width="5.2"/>
<line x1="855.4" y1="2235.0" x2="855.4" y2="2276.0" stroke="#000" stroke-width="5.2"/>
<line x1="855.4" y1="3345.0" x2="855.4" y2="3386.0" stroke="#000" stroke-width="5.2"/>
<text transform="translate(861.4,4541) scale(1,1.065)" font-size="43.3" text-anchor="middle" fill="#000">1400</text>
<line x1="1015.3" y1="23.0" x2="1015.3" y2="36.5" stroke="#000" stroke-width="5.2"/>
<line x1="1015.3" y1="4471.5" x2="1015.3" y2="4485.5" stroke="#000" stroke-width="5.2"/>
<line x1="1015.3" y1="1134.0" x2="1015.3" y2="1158.0" stroke="#000" stroke-width="5.2"/>
<line x1="1015.3" y1="2243.5" x2="1015.3" y2="2267.5" stroke="#000" stroke-width="5.2"/>
<line x1="1015.3" y1="3353.5" x2="1015.3" y2="3377.5" stroke="#000" stroke-width="5.2"/>
<text transform="translate(1021.3,4541) scale(1,1.065)" font-size="43.3" text-anchor="middle" fill="#000">1450</text>
<line x1="1175.2" y1="14.0" x2="1175.2" y2="36.5" stroke="#000" stroke-width="5.2"/>
<line x1="1175.2" y1="4471.5" x2="1175.2" y2="4494.5" stroke="#000" stroke-width="5.2"/>
<line x1="1175.2" y1="1125.5" x2="1175.2" y2="1166.5" stroke="#000" stroke-width="5.2"/>
<line x1="1175.2" y1="2235.0" x2="1175.2" y2="2276.0" stroke="#000" stroke-width="5.2"/>
<line x1="1175.2" y1="3345.0" x2="1175.2" y2="3386.0" stroke="#000" stroke-width="5.2"/>
<text transform="translate(1181.2,4541) scale(1,1.065)" font-size="43.3" text-anchor="middle" fill="#000">1500</text>
<line x1="1335.2" y1="23.0" x2="1335.2" y2="36.5" stroke="#000" stroke-width="5.2"/>
<line x1="1335.2" y1="4471.5" x2="1335.2" y2="4485.5" stroke="#000" stroke-width="5.2"/>
<line x1="1335.2" y1="1134.0" x2="1335.2" y2="1158.0" stroke="#000" stroke-width="5.2"/>
<line x1="1335.2" y1="2243.5" x2="1335.2" y2="2267.5" stroke="#000" stroke-width="5.2"/>
<line x1="1335.2" y1="3353.5" x2="1335.2" y2="3377.5" stroke="#000" stroke-width="5.2"/>
<text transform="translate(1341.2,4541) scale(1,1.065)" font-size="43.3" text-anchor="middle" fill="#000">1550</text>
<line x1="1495.1" y1="14.0" x2="1495.1" y2="36.5" stroke="#000" stroke-width="5.2"/>
<line x1="1495.1" y1="4471.5" x2="1495.1" y2="4494.5" stroke="#000" stroke-width="5.2"/>
<line x1="1495.1" y1="1125.5" x2="1495.1" y2="1166.5" stroke="#000" stroke-width="5.2"/>
<line x1="1495.1" y1="2235.0" x2="1495.1" y2="2276.0" stroke="#000" stroke-width="5.2"/>
<line x1="1495.1" y1="3345.0" x2="1495.1" y2="3386.0" stroke="#000" stroke-width="5.2"/>
<text transform="translate(1501.1,4541) scale(1,1.065)" font-size="43.3" text-anchor="middle" fill="#000">1600</text>
<line x1="1655.1" y1="23.0" x2="1655.1" y2="36.5" stroke="#000" stroke-width="5.2"/>
<line x1="1655.1" y1="4471.5" x2="1655.1" y2="4485.5" stroke="#000" stroke-width="5.2"/>
<text transform="translate(1661.1,4541) scale(1,1.065)" font-size="43.3" text-anchor="middle" fill="#000">1650</text>
<text transform="translate(581,4607) scale(1.058,1)" font-size="57.5" fill="#000">Wavenumbers / cm<tspan dx="0" dy="-31" font-size="33">-1</tspan></text>
<text x="96" y="106" font-size="60.5" font-weight="bold" fill="#000" text-anchor="start">non-reduced (singlet)</text>
<rect x="93" y="317" width="318" height="80" fill="#fff"/>
<text x="95" y="379" font-size="64" font-weight="bold" fill="#000" text-anchor="start">calculated</text>
<rect x="93" y="824" width="346" height="80" fill="#fff"/>
<text x="95" y="886" font-size="64" font-weight="bold" fill="#000" text-anchor="start">experiment</text>
<rect x="93" y="901" width="150" height="80" fill="#fff"/>
<text x="95" y="963" font-size="64" font-weight="bold" fill="#000" text-anchor="start">OCP</text>
<text x="1638" y="124" font-size="73" font-weight="bold" fill="#000" text-anchor="end">A</text>
<text x="94" y="1215" font-size="60.5" font-weight="bold" fill="#f00" text-anchor="start">singly reduced (doublet)</text>
<text x="95" y="1503.5" font-size="64" font-weight="bold" fill="#f00" text-anchor="start">calculated</text>
<text x="95" y="2012" font-size="64" font-weight="bold" fill="#f00" text-anchor="start">experiment</text>
<text x="95" y="2090" font-size="64" font-weight="bold" fill="#f00" text-anchor="start">-1.45 V</text>
<text x="1638" y="1233" font-size="73" font-weight="bold" fill="#000" text-anchor="end">B</text>
<text x="94" y="2326.5" font-size="60.5" font-weight="bold" fill="#00f" text-anchor="start">doubly reduced (singlet)</text>
<text x="95" y="2578.5" font-size="64" font-weight="bold" fill="#00f" text-anchor="start">calculated</text>
<text x="95" y="3086" font-size="64" font-weight="bold" fill="#00f" text-anchor="start">experiment</text>
<text x="95" y="3164" font-size="64" font-weight="bold" fill="#00f" text-anchor="start">-1.80 V</text>
<text x="1638" y="2343" font-size="73" font-weight="bold" fill="#000" text-anchor="end">C</text>
<text x="94" y="3436.5" font-size="60.5" font-weight="bold" fill="#00f" text-anchor="start">doubly reduced (triplet)</text>
<text x="95" y="3706" font-size="64" font-weight="bold" fill="#00f" text-anchor="start">calculated</text>
<text x="95" y="4212.6" font-size="64" font-weight="bold" fill="#00f" text-anchor="start">experiment</text>
<text x="95" y="4290" font-size="64" font-weight="bold" fill="#00f" text-anchor="start">-1.80 V</text>
<text x="1638" y="3453" font-size="73" font-weight="bold" fill="#000" text-anchor="end">D</text>
<text transform="translate(182.0,192) rotate(-90) scale(0.985,1.07)" font-size="43" fill="#000">131</text>
<text transform="translate(497.7,192) rotate(-90) scale(0.985,1.07)" font-size="43" fill="#000">142</text>
<text transform="translate(533.0,192) rotate(-90) scale(0.985,1.07)" font-size="43" fill="#000">144</text>
<text transform="translate(629.0,192) rotate(-90) scale(0.985,1.07)" font-size="43" fill="#000">148</text>
<text transform="translate(837.0,192) rotate(-90) scale(0.985,1.07)" font-size="43" fill="#000">151</text>
<text transform="translate(877.0,192) rotate(-90) scale(0.985,1.07)" font-size="43" fill="#000">157</text>
<text transform="translate(1003.0,192) rotate(-90) scale(0.985,1.07)" font-size="43" fill="#000">163</text>
<text transform="translate(1086.0,192) rotate(-90) scale(0.985,1.07)" font-size="43" fill="#000">175</text>
<text transform="translate(1122.5,192) rotate(-90) scale(0.985,1.07)" font-size="43" fill="#000">177</text>
<text transform="translate(1360.0,192) rotate(-90) scale(0.985,1.07)" font-size="43" fill="#000">183</text>
<text transform="translate(1543.0,192) rotate(-90) scale(0.985,1.07)" font-size="43" fill="#000">187</text>
<text transform="translate(994.5,1328.5) rotate(-90) scale(0.985,1.07)" font-size="43" fill="#f00">163</text>
<text transform="translate(1045.0,1328.5) rotate(-90) scale(0.985,1.07)" font-size="43" fill="#f00">164</text>
<text transform="translate(1086.2,1328.5) rotate(-90) scale(0.985,1.07)" font-size="43" fill="#f00">175,173</text>
<text transform="translate(1137.0,1328.5) rotate(-90) scale(0.985,1.07)" font-size="43" fill="#f00">180,179</text>
<text transform="translate(1304.5,1328.5) rotate(-90) scale(0.985,1.07)" font-size="43" fill="#f00">183</text>
<text transform="translate(1340.0,1328.5) rotate(-90) scale(0.985,1.07)" font-size="43" fill="#f00">184</text>
<text transform="translate(1375.0,1328.5) rotate(-90) scale(0.985,1.07)" font-size="43" fill="#f00">186</text>
<text transform="translate(1526.5,1328.5) rotate(-90) scale(0.985,1.07)" font-size="43" fill="#f00">188</text>
<text transform="translate(1562.0,1328.5) rotate(-90) scale(0.985,1.07)" font-size="43" fill="#f00">191</text>
<text transform="translate(1012.5,2418.5) rotate(-90) scale(0.985,1.07)" font-size="43" fill="#00f">165</text>
<text transform="translate(1074.5,2418.5) rotate(-90) scale(0.985,1.07)" font-size="43" fill="#00f">177</text>
<text transform="translate(1106.7,2418.5) rotate(-90) scale(0.985,1.07)" font-size="43" fill="#00f">179</text>
<text transform="translate(1156.1,2418.5) rotate(-90) scale(0.985,1.07)" font-size="43" fill="#00f">181</text>
<text transform="translate(1284.9,2418.5) rotate(-90) scale(0.985,1.07)" font-size="43" fill="#00f">185</text>
<text transform="translate(1404.7,2418.5) rotate(-90) scale(0.985,1.07)" font-size="43" fill="#00f">186</text>
<text transform="translate(996.5,3528.5) rotate(-90) scale(0.985,1.07)" font-size="43" fill="#00f">163</text>
<text transform="translate(1045.1,3528.5) rotate(-90) scale(0.985,1.07)" font-size="43" fill="#00f">169</text>
<text transform="translate(1078.0,3528.5) rotate(-90) scale(0.985,1.07)" font-size="43" fill="#00f">173</text>
<text transform="translate(1115.7,3528.5) rotate(-90) scale(0.985,1.07)" font-size="43" fill="#00f">179</text>
<text transform="translate(1150.1,3528.5) rotate(-90) scale(0.985,1.07)" font-size="43" fill="#00f">180</text>
<text transform="translate(1211.0,3528.5) rotate(-90) scale(0.985,1.07)" font-size="43" fill="#00f">182</text>
<text transform="translate(1360.2,3528.5) rotate(-90) scale(0.985,1.07)" font-size="43" fill="#00f">187</text>
</svg>
</body></html>
